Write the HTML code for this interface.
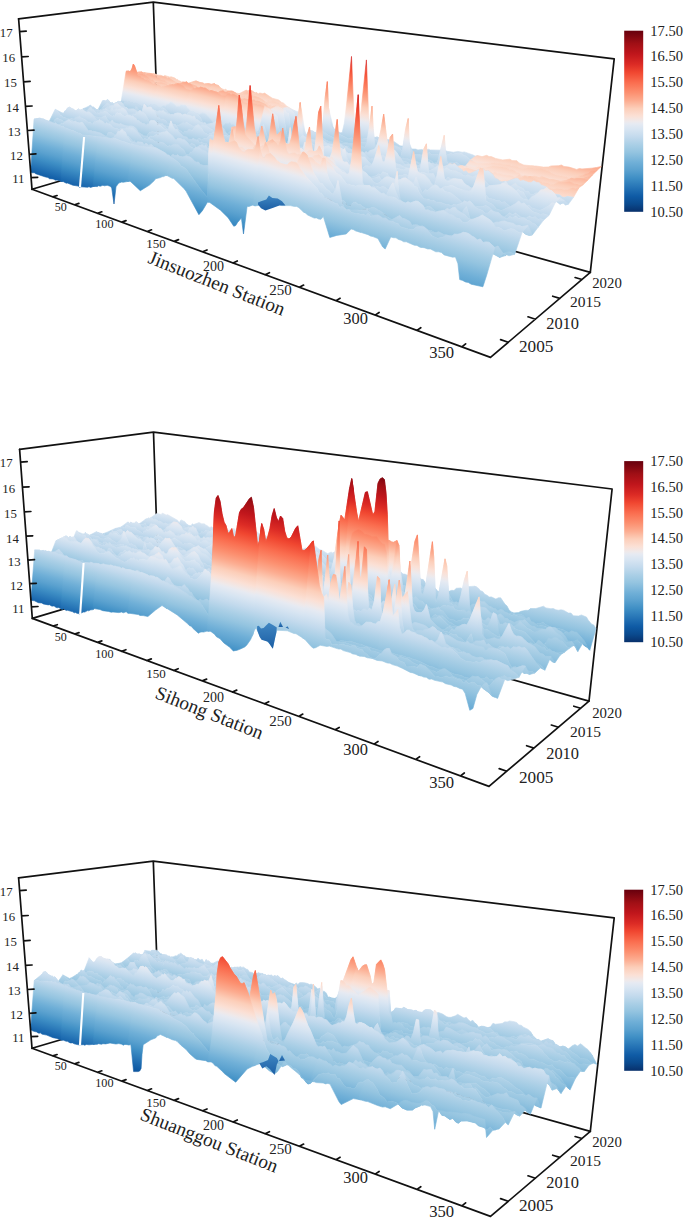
<!DOCTYPE html>
<html><head><meta charset="utf-8"><style>html,body{margin:0;padding:0;background:#fff;}body{width:685px;height:1221px;overflow:hidden;}svg{display:block;}</style></head>
<body><svg width="685" height="1221" viewBox="0 0 685 1221">
<defs><linearGradient id="cm" gradientUnits="userSpaceOnUse" x1="0" y1="0" x2="0" y2="1"><stop offset="0.000" stop-color="#08306b"/><stop offset="0.043" stop-color="#0a4a8e"/><stop offset="0.086" stop-color="#0f5ba5"/><stop offset="0.129" stop-color="#2371b4"/><stop offset="0.186" stop-color="#3f8fc5"/><stop offset="0.229" stop-color="#5aa1cf"/><stop offset="0.271" stop-color="#6fafd7"/><stop offset="0.329" stop-color="#94c4e0"/><stop offset="0.371" stop-color="#aacfe6"/><stop offset="0.414" stop-color="#c3daed"/><stop offset="0.457" stop-color="#d8e5f2"/><stop offset="0.486" stop-color="#e6eaf2"/><stop offset="0.500" stop-color="#efe9ea"/><stop offset="0.529" stop-color="#fbe0d5"/><stop offset="0.571" stop-color="#fcceb9"/><stop offset="0.614" stop-color="#fcac90"/><stop offset="0.657" stop-color="#fc9070"/><stop offset="0.714" stop-color="#fa6d4f"/><stop offset="0.771" stop-color="#f04630"/><stop offset="0.814" stop-color="#dc2b25"/><stop offset="0.871" stop-color="#c0161c"/><stop offset="0.929" stop-color="#a00f15"/><stop offset="1.000" stop-color="#67000d"/></linearGradient><linearGradient id="blob" x1="0" y1="0" x2="0" y2="1"><stop offset="0" stop-color="#3f86c2"/><stop offset="1" stop-color="#1c5ea4"/></linearGradient><linearGradient id="cb" href="#cm" gradientUnits="objectBoundingBox" x1="0" y1="1" x2="0" y2="0"/></defs>
<path d="M18.6 18.8L153.3 2.2M153.3 2.2L614.2 58.9M153.3 2.2L158.7 151.9M614.2 58.9L590.3 272.4M32 189.3L158.7 151.9M158.7 151.9L590.3 272.4" stroke="#111" stroke-width="1.7" fill="none" stroke-linecap="round"/>
<defs><linearGradient id="p0g0" href="#cm" gradientTransform="matrix(8.7 1.9 -4.8 -151.9 171.6 163.3)"/><linearGradient id="p0g1" href="#cm" gradientTransform="matrix(9.2 2 -3.4 -156.6 202.9 172.3)"/><linearGradient id="p0g2" href="#cm" gradientTransform="matrix(9.9 2.1 -1.7 -161.6 236.1 181.9)"/><linearGradient id="p0g3" href="#cm" gradientTransform="matrix(10.6 2.3 0.3 -166.9 271.7 192.1)"/><linearGradient id="p0g4" href="#cm" gradientTransform="matrix(11.4 2.5 2.5 -173.4 310 196)"/><linearGradient id="p0g5" href="#cm" gradientTransform="matrix(12.3 2.6 5.1 -179.5 351 207.5)"/><linearGradient id="p0g6" href="#cm" gradientTransform="matrix(13.3 2.9 8.1 -186.1 395.2 220)"/><linearGradient id="p0g7" href="#cm" gradientTransform="matrix(14.4 3.1 11.6 -193.2 443 233.4)"/><linearGradient id="p0g8" href="#cm" gradientTransform="matrix(15.7 3.4 15.4 -197.6 493 270.5)"/><linearGradient id="p0g9" href="#cm" gradientTransform="matrix(17.1 3.7 20.1 -205.5 548.7 287.2)"/><linearGradient id="p0g10" href="#cm" gradientTransform="matrix(18 3.9 23 -210.1 580.9 296.8)"/><linearGradient id="p0g11" href="#cm" gradientTransform="matrix(8.7 1.9 -5.2 -152.9 166.1 165.1)"/><linearGradient id="p0g12" href="#cm" gradientTransform="matrix(9.2 2 -3.7 -157.6 197.3 174.2)"/><linearGradient id="p0g13" href="#cm" gradientTransform="matrix(9.9 2.2 -2 -162.7 230.6 183.8)"/><linearGradient id="p0g14" href="#cm" gradientTransform="matrix(10.6 2.3 -0.1 -168 266.3 194.2)"/><linearGradient id="p0g15" href="#cm" gradientTransform="matrix(11.4 2.5 2.2 -174.6 304.6 198.3)"/><linearGradient id="p0g16" href="#cm" gradientTransform="matrix(12.3 2.7 4.8 -180.8 345.8 210)"/><linearGradient id="p0g17" href="#cm" gradientTransform="matrix(13.3 2.9 7.8 -187.5 390.1 222.6)"/><linearGradient id="p0g18" href="#cm" gradientTransform="matrix(14.5 3.2 11.4 -194.7 438.1 236.2)"/><linearGradient id="p0g19" href="#cm" gradientTransform="matrix(15.7 3.4 15.2 -199.2 488.3 273.8)"/><linearGradient id="p0g20" href="#cm" gradientTransform="matrix(17.2 3.8 20 -207.2 544.3 290.7)"/><linearGradient id="p0g21" href="#cm" gradientTransform="matrix(18.1 4 22.9 -211.9 576.8 300.5)"/><linearGradient id="p0g22" href="#cm" gradientTransform="matrix(8.7 1.9 -5.5 -153.8 160.4 166.8)"/><linearGradient id="p0g23" href="#cm" gradientTransform="matrix(9.3 2 -4 -158.6 191.7 176)"/><linearGradient id="p0g24" href="#cm" gradientTransform="matrix(9.9 2.2 -2.3 -163.7 225 185.9)"/><linearGradient id="p0g25" href="#cm" gradientTransform="matrix(10.6 2.4 -0.4 -169.2 260.8 196.4)"/><linearGradient id="p0g26" href="#cm" gradientTransform="matrix(11.4 2.5 1.9 -175.9 299.1 200.5)"/><linearGradient id="p0g27" href="#cm" gradientTransform="matrix(12.4 2.7 4.5 -182.2 340.4 212.4)"/><linearGradient id="p0g28" href="#cm" gradientTransform="matrix(13.4 3 7.6 -188.9 384.9 225.2)"/><linearGradient id="p0g29" href="#cm" gradientTransform="matrix(14.5 3.2 11.1 -196.2 433.1 239.1)"/><linearGradient id="p0g30" href="#cm" gradientTransform="matrix(15.8 3.5 15.1 -200.8 483.6 277.1)"/><linearGradient id="p0g31" href="#cm" gradientTransform="matrix(17.3 3.8 19.9 -209 539.9 294.3)"/><linearGradient id="p0g32" href="#cm" gradientTransform="matrix(18.2 4 22.8 -213.7 572.5 304.3)"/><linearGradient id="p0g33" href="#cm" gradientTransform="matrix(8.7 1.9 -5.8 -154.8 154.7 168.6)"/><linearGradient id="p0g34" href="#cm" gradientTransform="matrix(9.3 2.1 -4.3 -159.7 186 177.9)"/><linearGradient id="p0g35" href="#cm" gradientTransform="matrix(9.9 2.2 -2.6 -164.8 219.4 187.9)"/><linearGradient id="p0g36" href="#cm" gradientTransform="matrix(10.7 2.4 -0.7 -170.4 255.2 198.6)"/><linearGradient id="p0g37" href="#cm" gradientTransform="matrix(11.5 2.6 1.6 -177.1 293.6 202.8)"/><linearGradient id="p0g38" href="#cm" gradientTransform="matrix(12.4 2.8 4.2 -183.5 335 214.9)"/><linearGradient id="p0g39" href="#cm" gradientTransform="matrix(13.4 3 7.3 -190.4 379.7 227.9)"/><linearGradient id="p0g40" href="#cm" gradientTransform="matrix(14.6 3.3 10.9 -197.8 428 242)"/><linearGradient id="p0g41" href="#cm" gradientTransform="matrix(15.9 3.6 14.9 -202.4 478.8 280.4)"/><linearGradient id="p0g42" href="#cm" gradientTransform="matrix(17.4 3.9 19.7 -210.8 535.4 298)"/><linearGradient id="p0g43" href="#cm" gradientTransform="matrix(18.3 4.1 22.7 -215.6 568.2 308.1)"/><linearGradient id="p0g44" href="#cm" gradientTransform="matrix(8.7 2 -6.2 -155.8 148.9 170.4)"/><linearGradient id="p0g45" href="#cm" gradientTransform="matrix(9.3 2.1 -4.7 -160.7 180.2 179.9)"/><linearGradient id="p0g46" href="#cm" gradientTransform="matrix(9.9 2.3 -3 -165.9 213.6 190)"/><linearGradient id="p0g47" href="#cm" gradientTransform="matrix(10.7 2.4 -1 -171.5 249.5 200.8)"/><linearGradient id="p0g48" href="#cm" gradientTransform="matrix(11.5 2.6 1.3 -178.4 288 205.2)"/><linearGradient id="p0g49" href="#cm" gradientTransform="matrix(12.4 2.8 3.9 -184.9 329.5 217.4)"/><linearGradient id="p0g50" href="#cm" gradientTransform="matrix(13.5 3.1 7 -191.9 374.3 230.6)"/><linearGradient id="p0g51" href="#cm" gradientTransform="matrix(14.7 3.3 10.6 -199.4 422.8 245)"/><linearGradient id="p0g52" href="#cm" gradientTransform="matrix(16 3.6 14.6 -204.1 473.9 283.8)"/><linearGradient id="p0g53" href="#cm" gradientTransform="matrix(17.5 4 19.6 -212.6 530.8 301.7)"/><linearGradient id="p0g54" href="#cm" gradientTransform="matrix(18.5 4.2 22.6 -217.5 563.8 312)"/><linearGradient id="p0g55" href="#cm" gradientTransform="matrix(8.7 2 -6.5 -156.8 143 172.3)"/><linearGradient id="p0g56" href="#cm" gradientTransform="matrix(9.3 2.1 -5 -161.8 174.3 181.8)"/><linearGradient id="p0g57" href="#cm" gradientTransform="matrix(10 2.3 -3.3 -167.1 207.8 192.1)"/><linearGradient id="p0g58" href="#cm" gradientTransform="matrix(10.7 2.5 -1.4 -172.7 243.7 203)"/><linearGradient id="p0g59" href="#cm" gradientTransform="matrix(11.5 2.6 0.9 -179.7 282.3 207.6)"/><linearGradient id="p0g60" href="#cm" gradientTransform="matrix(12.5 2.9 3.6 -186.3 323.9 220)"/><linearGradient id="p0g61" href="#cm" gradientTransform="matrix(13.5 3.1 6.7 -193.4 368.8 233.4)"/><linearGradient id="p0g62" href="#cm" gradientTransform="matrix(14.7 3.4 10.4 -201 417.5 248)"/><linearGradient id="p0g63" href="#cm" gradientTransform="matrix(16.1 3.7 14.4 -205.8 468.9 287.3)"/><linearGradient id="p0g64" href="#cm" gradientTransform="matrix(17.6 4.1 19.4 -214.4 526.1 305.5)"/><linearGradient id="p0g65" href="#cm" gradientTransform="matrix(18.6 4.3 22.5 -219.4 559.3 316)"/><linearGradient id="p0g66" href="#cm" gradientTransform="matrix(8.7 2 -6.9 -158.5 136.7 167.7)"/><linearGradient id="p0g67" href="#cm" gradientTransform="matrix(9.3 2.2 -5.4 -163.6 168.2 177.2)"/><linearGradient id="p0g68" href="#cm" gradientTransform="matrix(10 2.3 -3.7 -169 201.7 187.4)"/><linearGradient id="p0g69" href="#cm" gradientTransform="matrix(10.7 2.5 -1.7 -174.8 237.8 198.3)"/><linearGradient id="p0g70" href="#cm" gradientTransform="matrix(11.6 2.7 0.6 -181 276.5 210)"/><linearGradient id="p0g71" href="#cm" gradientTransform="matrix(12.5 2.9 3.3 -187.7 318.2 222.6)"/><linearGradient id="p0g72" href="#cm" gradientTransform="matrix(13.6 3.2 6.4 -194.9 363.3 236.2)"/><linearGradient id="p0g73" href="#cm" gradientTransform="matrix(14.8 3.4 10.1 -202.7 412.2 251)"/><linearGradient id="p0g74" href="#cm" gradientTransform="matrix(16.2 3.8 14.4 -211.1 465.4 267.1)"/><linearGradient id="p0g75" href="#cm" gradientTransform="matrix(17.8 4.1 19.6 -220.2 523.5 284.7)"/><linearGradient id="p0g76" href="#cm" gradientTransform="matrix(18.7 4.4 22.8 -225.4 557.2 294.9)"/><linearGradient id="p0g77" href="#cm" gradientTransform="matrix(8.7 2 -7.3 -159.5 130.7 169.5)"/><linearGradient id="p0g78" href="#cm" gradientTransform="matrix(9.3 2.2 -5.8 -164.7 162.1 179.2)"/><linearGradient id="p0g79" href="#cm" gradientTransform="matrix(10 2.4 -4.1 -170.2 195.7 189.5)"/><linearGradient id="p0g80" href="#cm" gradientTransform="matrix(10.7 2.5 -2.1 -176.1 231.8 200.5)"/><linearGradient id="p0g81" href="#cm" gradientTransform="matrix(11.6 2.7 0.2 -182.4 270.6 212.4)"/><linearGradient id="p0g82" href="#cm" gradientTransform="matrix(12.5 3 2.9 -189.2 312.4 225.3)"/><linearGradient id="p0g83" href="#cm" gradientTransform="matrix(13.6 3.2 6.1 -196.5 357.7 239.1)"/><linearGradient id="p0g84" href="#cm" gradientTransform="matrix(14.9 3.5 9.8 -204.3 406.7 254.2)"/><linearGradient id="p0g85" href="#cm" gradientTransform="matrix(16.3 3.8 14.2 -212.9 460.2 270.5)"/><linearGradient id="p0g86" href="#cm" gradientTransform="matrix(17.9 4.2 19.4 -222.2 518.6 288.5)"/><linearGradient id="p0g87" href="#cm" gradientTransform="matrix(18.8 4.4 22.7 -227.5 552.6 298.9)"/><linearGradient id="p0g88" href="#cm" gradientTransform="matrix(8.7 2.1 -7.7 -160.5 124.6 171.4)"/><linearGradient id="p0g89" href="#cm" gradientTransform="matrix(9.3 2.2 -6.2 -165.8 156 181.2)"/><linearGradient id="p0g90" href="#cm" gradientTransform="matrix(10 2.4 -4.5 -171.4 189.6 191.6)"/><linearGradient id="p0g91" href="#cm" gradientTransform="matrix(10.8 2.6 -2.5 -177.3 225.8 202.9)"/><linearGradient id="p0g92" href="#cm" gradientTransform="matrix(11.6 2.8 -0.2 -183.7 264.6 214.9)"/><linearGradient id="p0g93" href="#cm" gradientTransform="matrix(12.6 3 2.6 -190.6 306.5 227.9)"/><linearGradient id="p0g94" href="#cm" gradientTransform="matrix(13.7 3.3 5.7 -198 351.9 242)"/><linearGradient id="p0g95" href="#cm" gradientTransform="matrix(14.9 3.6 9.5 -206 401.2 257.3)"/><linearGradient id="p0g96" href="#cm" gradientTransform="matrix(16.3 3.9 13.9 -214.7 454.9 274)"/><linearGradient id="p0g97" href="#cm" gradientTransform="matrix(18 4.3 19.2 -224.2 513.6 292.3)"/><linearGradient id="p0g98" href="#cm" gradientTransform="matrix(19 4.5 22.5 -229.6 547.8 302.9)"/><linearGradient id="p0g99" href="#cm" gradientTransform="matrix(8.7 2.1 -8 -161.6 118.3 173.3)"/><linearGradient id="p0g100" href="#cm" gradientTransform="matrix(9.3 2.3 -6.6 -166.9 149.8 183.2)"/><linearGradient id="p0g101" href="#cm" gradientTransform="matrix(10 2.4 -4.9 -172.6 183.4 193.8)"/><linearGradient id="p0g102" href="#cm" gradientTransform="matrix(10.8 2.6 -2.9 -178.6 219.6 205.2)"/><linearGradient id="p0g103" href="#cm" gradientTransform="matrix(11.6 2.8 -0.5 -185.1 258.5 217.5)"/><linearGradient id="p0g104" href="#cm" gradientTransform="matrix(12.6 3.1 2.2 -192.1 300.6 230.7)"/><linearGradient id="p0g105" href="#cm" gradientTransform="matrix(13.7 3.3 5.4 -199.6 346.1 245)"/><linearGradient id="p0g106" href="#cm" gradientTransform="matrix(15 3.6 9.2 -207.8 395.6 260.6)"/><linearGradient id="p0g107" href="#cm" gradientTransform="matrix(16.4 4 13.7 -216.6 449.5 277.6)"/><linearGradient id="p0g108" href="#cm" gradientTransform="matrix(18.1 4.4 19 -226.2 508.5 296.1)"/><linearGradient id="p0g109" href="#cm" gradientTransform="matrix(19.1 4.6 22.4 -231.8 542.9 307)"/><linearGradient id="p0g110" href="#cm" gradientTransform="matrix(8.7 2.1 -8.4 -162.7 112 175.2)"/><linearGradient id="p0g111" href="#cm" gradientTransform="matrix(9.3 2.3 -7 -168 143.5 185.3)"/><linearGradient id="p0g112" href="#cm" gradientTransform="matrix(10 2.5 -5.3 -173.8 177.2 196)"/><linearGradient id="p0g113" href="#cm" gradientTransform="matrix(10.8 2.7 -3.3 -179.9 213.4 207.6)"/><linearGradient id="p0g114" href="#cm" gradientTransform="matrix(11.7 2.9 -0.9 -186.5 252.4 220)"/><linearGradient id="p0g115" href="#cm" gradientTransform="matrix(12.7 3.1 1.8 -193.6 294.5 233.5)"/><linearGradient id="p0g116" href="#cm" gradientTransform="matrix(13.8 3.4 5 -201.3 340.2 248)"/><linearGradient id="p0g117" href="#cm" gradientTransform="matrix(15.1 3.7 8.9 -209.5 389.8 263.9)"/><linearGradient id="p0g118" href="#cm" gradientTransform="matrix(16.5 4.1 13.4 -218.5 444 281.2)"/><linearGradient id="p0g119" href="#cm" gradientTransform="matrix(18.2 4.5 18.8 -228.3 503.3 300.1)"/><linearGradient id="p0g120" href="#cm" gradientTransform="matrix(19.2 4.7 22.2 -234 537.9 311.1)"/><linearGradient id="p0g121" href="#cm" gradientTransform="matrix(8.7 2.2 -8.9 -163.7 105.6 177.2)"/><linearGradient id="p0g122" href="#cm" gradientTransform="matrix(9.3 2.3 -7.4 -169.2 137.1 187.4)"/><linearGradient id="p0g123" href="#cm" gradientTransform="matrix(10 2.5 -5.7 -175 170.8 198.3)"/><linearGradient id="p0g124" href="#cm" gradientTransform="matrix(10.8 2.7 -3.7 -181.2 207 210)"/><linearGradient id="p0g125" href="#cm" gradientTransform="matrix(11.7 2.9 -1.3 -187.9 246.1 222.6)"/><linearGradient id="p0g126" href="#cm" gradientTransform="matrix(12.7 3.2 1.4 -195.1 288.3 236.3)"/><linearGradient id="p0g127" href="#cm" gradientTransform="matrix(13.8 3.4 4.7 -202.9 334.1 251.1)"/><linearGradient id="p0g128" href="#cm" gradientTransform="matrix(15.1 3.8 8.5 -211.3 384 267.2)"/><linearGradient id="p0g129" href="#cm" gradientTransform="matrix(16.6 4.1 13.1 -220.5 438.4 284.8)"/><linearGradient id="p0g130" href="#cm" gradientTransform="matrix(18.3 4.6 18.6 -230.4 498.1 304.1)"/><linearGradient id="p0g131" href="#cm" gradientTransform="matrix(19.4 4.8 22 -236.2 532.9 315.4)"/><linearGradient id="p0g132" href="#cm" gradientTransform="matrix(8.7 2.2 -9.3 -164.8 99.1 179.2)"/><linearGradient id="p0g133" href="#cm" gradientTransform="matrix(9.3 2.4 -7.8 -170.4 130.6 189.5)"/><linearGradient id="p0g134" href="#cm" gradientTransform="matrix(10 2.5 -6.1 -176.3 164.3 200.5)"/><linearGradient id="p0g135" href="#cm" gradientTransform="matrix(10.8 2.7 -4.1 -182.6 200.6 212.4)"/><linearGradient id="p0g136" href="#cm" gradientTransform="matrix(11.7 3 -1.8 -189.4 239.7 225.3)"/><linearGradient id="p0g137" href="#cm" gradientTransform="matrix(12.7 3.2 1 -196.7 282.1 239.2)"/><linearGradient id="p0g138" href="#cm" gradientTransform="matrix(13.9 3.5 4.3 -204.6 328 254.2)"/><linearGradient id="p0g139" href="#cm" gradientTransform="matrix(15.2 3.8 8.2 -213.2 378 270.6)"/><linearGradient id="p0g140" href="#cm" gradientTransform="matrix(16.7 4.2 12.8 -222.5 432.7 288.6)"/><linearGradient id="p0g141" href="#cm" gradientTransform="matrix(18.4 4.7 18.4 -232.6 492.7 308.3)"/><linearGradient id="p0g142" href="#cm" gradientTransform="matrix(19.5 4.9 21.8 -238.5 527.7 319.7)"/><linearGradient id="p0g143" href="#cm" gradientTransform="matrix(8.7 2.2 -9.7 -165.9 92.6 181.2)"/><linearGradient id="p0g144" href="#cm" gradientTransform="matrix(9.3 2.4 -8.3 -171.5 124 191.6)"/><linearGradient id="p0g145" href="#cm" gradientTransform="matrix(10 2.6 -6.6 -177.5 157.8 202.9)"/><linearGradient id="p0g146" href="#cm" gradientTransform="matrix(10.8 2.8 -4.6 -183.9 194.1 214.9)"/><linearGradient id="p0g147" href="#cm" gradientTransform="matrix(11.7 3 -2.2 -190.8 233.3 228)"/><linearGradient id="p0g148" href="#cm" gradientTransform="matrix(12.8 3.3 0.6 -198.3 275.7 242.1)"/><linearGradient id="p0g149" href="#cm" gradientTransform="matrix(13.9 3.6 3.9 -206.3 321.7 257.4)"/><linearGradient id="p0g150" href="#cm" gradientTransform="matrix(15.3 3.9 7.8 -215 371.9 274.1)"/><linearGradient id="p0g151" href="#cm" gradientTransform="matrix(16.8 4.3 12.5 -224.5 426.8 292.4)"/><linearGradient id="p0g152" href="#cm" gradientTransform="matrix(18.5 4.8 18.1 -234.8 487.2 312.5)"/><linearGradient id="p0g153" href="#cm" gradientTransform="matrix(19.6 5 21.6 -240.8 522.4 324.2)"/><linearGradient id="p0g154" href="#cm" gradientTransform="matrix(8.7 2.3 -10.2 -167.1 85.9 183.2)"/><linearGradient id="p0g155" href="#cm" gradientTransform="matrix(9.3 2.4 -8.7 -172.7 117.3 193.8)"/><linearGradient id="p0g156" href="#cm" gradientTransform="matrix(10 2.6 -7 -178.8 151.1 205.2)"/><linearGradient id="p0g157" href="#cm" gradientTransform="matrix(10.9 2.8 -5 -185.3 187.5 217.5)"/><linearGradient id="p0g158" href="#cm" gradientTransform="matrix(11.8 3.1 -2.7 -192.3 226.7 230.7)"/><linearGradient id="p0g159" href="#cm" gradientTransform="matrix(12.8 3.3 0.1 -199.9 269.2 245.1)"/><linearGradient id="p0g160" href="#cm" gradientTransform="matrix(14 3.6 3.5 -208 315.4 260.7)"/><linearGradient id="p0g161" href="#cm" gradientTransform="matrix(15.3 4 7.4 -216.9 365.8 277.7)"/><linearGradient id="p0g162" href="#cm" gradientTransform="matrix(16.9 4.4 12.1 -226.5 420.9 296.3)"/><linearGradient id="p0g163" href="#cm" gradientTransform="matrix(18.7 4.9 17.8 -237 481.5 316.7)"/><linearGradient id="p0g164" href="#cm" gradientTransform="matrix(19.8 5.1 21.4 -243.1 517 328.7)"/><linearGradient id="p0g165" href="#cm" gradientTransform="matrix(8.7 2.3 -10.6 -168.2 79.1 185.3)"/><linearGradient id="p0g166" href="#cm" gradientTransform="matrix(9.3 2.5 -9.2 -174 110.6 196)"/><linearGradient id="p0g167" href="#cm" gradientTransform="matrix(10 2.7 -7.5 -180.1 144.3 207.6)"/><linearGradient id="p0g168" href="#cm" gradientTransform="matrix(10.9 2.9 -5.5 -186.7 180.7 220)"/><linearGradient id="p0g169" href="#cm" gradientTransform="matrix(11.8 3.1 -3.1 -193.8 220 233.5)"/><linearGradient id="p0g170" href="#cm" gradientTransform="matrix(12.8 3.4 -0.3 -201.5 262.6 248.1)"/><linearGradient id="p0g171" href="#cm" gradientTransform="matrix(14 3.7 3 -209.8 308.9 264)"/><linearGradient id="p0g172" href="#cm" gradientTransform="matrix(15.4 4.1 7 -218.8 359.5 281.3)"/><linearGradient id="p0g173" href="#cm" gradientTransform="matrix(16.9 4.5 11.8 -228.6 414.9 300.2)"/><linearGradient id="p0g174" href="#cm" gradientTransform="matrix(18.8 5 17.6 -239.3 475.8 321.1)"/><linearGradient id="p0g175" href="#cm" gradientTransform="matrix(19.9 5.3 21.2 -245.6 511.5 333.3)"/><linearGradient id="p0g176" href="#cm" gradientTransform="matrix(8.7 2.3 -11.1 -169.4 72.3 187.4)"/><linearGradient id="p0g177" href="#cm" gradientTransform="matrix(9.3 2.5 -9.7 -175.2 103.7 198.3)"/><linearGradient id="p0g178" href="#cm" gradientTransform="matrix(10.1 2.7 -8 -181.4 137.5 210)"/><linearGradient id="p0g179" href="#cm" gradientTransform="matrix(10.9 2.9 -6 -188.2 173.9 222.7)"/><linearGradient id="p0g180" href="#cm" gradientTransform="matrix(11.8 3.2 -3.6 -195.4 213.2 236.3)"/><linearGradient id="p0g181" href="#cm" gradientTransform="matrix(12.9 3.4 -0.8 -203.2 255.9 251.2)"/><linearGradient id="p0g182" href="#cm" gradientTransform="matrix(14.1 3.8 2.6 -211.6 302.3 267.3)"/><linearGradient id="p0g183" href="#cm" gradientTransform="matrix(15.4 4.1 6.6 -220.8 353 284.9)"/><linearGradient id="p0g184" href="#cm" gradientTransform="matrix(17 4.6 11.4 -230.7 408.7 304.3)"/><linearGradient id="p0g185" href="#cm" gradientTransform="matrix(18.9 5.1 17.3 -241.7 470 325.6)"/><linearGradient id="p0g186" href="#cm" gradientTransform="matrix(20 5.4 20.9 -248 505.8 338.1)"/><linearGradient id="p0g187" href="#cm" gradientTransform="matrix(8.7 2.4 -11.6 -170.5 65.3 189.5)"/><linearGradient id="p0g188" href="#cm" gradientTransform="matrix(9.3 2.5 -10.2 -176.4 96.7 200.6)"/><linearGradient id="p0g189" href="#cm" gradientTransform="matrix(10.1 2.7 -8.5 -182.8 130.5 212.5)"/><linearGradient id="p0g190" href="#cm" gradientTransform="matrix(10.9 3 -6.5 -189.6 166.9 225.3)"/><linearGradient id="p0g191" href="#cm" gradientTransform="matrix(11.8 3.2 -4.1 -196.9 206.3 239.2)"/><linearGradient id="p0g192" href="#cm" gradientTransform="matrix(12.9 3.5 -1.3 -204.9 249.1 254.3)"/><linearGradient id="p0g193" href="#cm" gradientTransform="matrix(14.1 3.8 2.1 -213.4 295.6 270.7)"/><linearGradient id="p0g194" href="#cm" gradientTransform="matrix(15.5 4.2 6.1 -222.8 346.5 288.7)"/><linearGradient id="p0g195" href="#cm" gradientTransform="matrix(17.1 4.7 11 -232.9 402.4 308.4)"/><linearGradient id="p0g196" href="#cm" gradientTransform="matrix(19 5.2 17 -244 464 330.2)"/><linearGradient id="p0g197" href="#cm" gradientTransform="matrix(20.2 5.5 20.7 -250.5 500.1 342.9)"/><linearGradient id="p0g198" href="#cm" gradientTransform="matrix(8.6 2.4 -12.1 -171.7 58.3 191.6)"/><linearGradient id="p0g199" href="#cm" gradientTransform="matrix(9.3 2.6 -10.7 -177.7 89.6 202.9)"/><linearGradient id="p0g200" href="#cm" gradientTransform="matrix(10.1 2.8 -9 -184.2 123.4 215)"/><linearGradient id="p0g201" href="#cm" gradientTransform="matrix(10.9 3 -7 -191.1 159.8 228)"/><linearGradient id="p0g202" href="#cm" gradientTransform="matrix(11.8 3.3 -4.6 -198.5 199.3 242.2)"/><linearGradient id="p0g203" href="#cm" gradientTransform="matrix(12.9 3.6 -1.8 -206.6 242.1 257.5)"/><linearGradient id="p0g204" href="#cm" gradientTransform="matrix(14.2 3.9 1.6 -215.3 288.8 274.2)"/><linearGradient id="p0g205" href="#cm" gradientTransform="matrix(15.6 4.3 5.7 -224.8 339.8 292.5)"/><linearGradient id="p0g206" href="#cm" gradientTransform="matrix(17.2 4.8 10.6 -235.1 396 312.6)"/><linearGradient id="p0g207" href="#cm" gradientTransform="matrix(19.1 5.3 16.6 -246.5 457.9 334.8)"/><linearGradient id="p0g208" href="#cm" gradientTransform="matrix(20.3 5.6 20.3 -252.8 492.8 347.3)"/><linearGradient id="p0g209" href="#cm" gradientTransform="matrix(8.6 2.4 -12.6 -172.9 51.1 193.8)"/><linearGradient id="p0g210" href="#cm" gradientTransform="matrix(9.3 2.6 -11.2 -179 82.5 205.2)"/><linearGradient id="p0g211" href="#cm" gradientTransform="matrix(10.1 2.8 -9.5 -185.5 116.2 217.5)"/><linearGradient id="p0g212" href="#cm" gradientTransform="matrix(10.9 3.1 -7.5 -192.6 152.7 230.8)"/><linearGradient id="p0g213" href="#cm" gradientTransform="matrix(11.9 3.3 -5.1 -200.1 192.1 245.1)"/><linearGradient id="p0g214" href="#cm" gradientTransform="matrix(12.9 3.6 -2.3 -208.3 235 260.7)"/><linearGradient id="p0g215" href="#cm" gradientTransform="matrix(14.2 4 1.1 -217.2 281.8 277.8)"/><linearGradient id="p0g216" href="#cm" gradientTransform="matrix(15.6 4.4 5.2 -226.8 333.1 296.4)"/><linearGradient id="p0g217" href="#cm" gradientTransform="matrix(17.3 4.9 10.2 -237.4 389.4 316.9)"/><linearGradient id="p0g218" href="#cm" gradientTransform="matrix(19.2 5.4 16.1 -248.7 450.3 339.1)"/></defs><g stroke-width="0.6" stroke-linejoin="round"><path d="M155.9 74.9l5 0.4 2.6 1 1.2-0.9 5.1 1.7 1.3-0.3 3.9 1.3 1.3 1.2 1.3 0.1 1.4 1.4 1.3 0.2 1.3 1.4 1.3-0.9 2.7 1.9 2.7 1.1-5.8-2.1-2.7-0.4-7.8 0.6-1.3-1.2-2.6 0-1.4-1.7-5.2-1.9-1.3-1.2-2.5-1-1.3-1.1-2.6-0.8-2.5 0.4-1.2-0.8z" fill="url(#p0g0)" stroke="url(#p0g0)"/><path d="M186.9 83.9l1.4 0.6 1.3 0.1 1.4 1.4 1.3 0.4 1.4-0.4 1.3 0.6 8.2-0.3 1.3-0.8 4.2-0.6 7 2.4 1.4 1 1.4 0 2.9 1-5.8-4.6-1.4-1-2.9 0.6-2.8-0.7-4.2 0.3-1.4-1-2.8-0.3-4.1-1.7-9.5 2.9-4-1.4-1.3 0.1z" fill="url(#p0g1)" stroke="url(#p0g1)"/><path d="M219.9 88.8l1.5 0.5 1.4-0.3 1.4 0.7 1.4-0.7 1.5 1.5 2.9 1.5 4.4 0.7 1.4 0.9 1.5-0.5 1.5 0.7 7.4-3.7 1.5 0.7 3-0.8 3 1.7 1.6 1.5 1.5-0.4-5.6 0.4-4.6-1.1-4.5 1.3-4.5 0.4-4.5-1.9-2.9 1.1-4.4-1.2-5.9-4.4-1.4-1.9-2.9-0.8-1.4-1z" fill="url(#p0g2)" stroke="url(#p0g2)"/><path d="M255.3 93.2l1.5-0.4 1.5 1 1.5-0.8 3.1 0.7 1.6-0.6 7.8 5.1 6.3 1.7 3.2 2.6 1.6 0.5 3.2 2.9 6.5 4.2 1.6 0.5-5.5-1.6-1.6-1.9-1.6-0.3-1.7-1.5-1.6 0.3-1.6-0.8-1.6-1.5-6.4-2.4-3.2 0.7-1.6-0.7-1.6 0.8-1.6 0-4.7-1.2-3.1-2-1.5-1.8-3.1-1.6-1.5-1.9-1.6-0.2z" fill="url(#p0g3)" stroke="url(#p0g3)"/><path d="M293.1 110.1l4.9 1.6 1.6 1.5 3.1 18.1 1.6 3.9 1.7 0.8 3.3 0.6 1.7-0.1 1.7 0.8 6.7 1.3 1.7-0.9 1.8 0.2 1.7-1.1 1.8-2.3 1.8-4.7 1.8-2.8 1.8-0.2 3.4 3.4-5.2-7-1.5-15.4-1.2-26.2-2.1 15.8-2.2 24.8-2 14.4-1.8 3.2-1.8 1.8-3.4-2.6-1.7 0.9-1.7-0.7-1.7 0.4-1.7-0.1-1.6-0.9-3.4-0.8-1.6-1.2-3.3-5-1.6-7.3-1.6-11.1-6.5-6.1z" fill="url(#p0g4)" stroke="url(#p0g4)"/><path d="M333.5 128.7l3.4 2.5 3.5 1.5 1.8-0.1 2.1-9.4 2.2-18.1 5-48.7 2.2 53.1 1.3 17.2 1.7 7.3 2-8.2 2.4-15.5 5.3-50.4 2.1 52.6 1.3 16.1 1.6 7.8 3.8 1 1.9-0.5 1.9 0.9-5.3 0.9-3.8-0.2-1.8-1.5-1.9 1.4-3.8 0.5-5.6-0.2-1.9 0.8-3.6-1.7-1.9 0.9-1.8-0.4-7.2-3.5-5.2-4.4-1.8-2.1-1.7-0.5-1.7-4.6-1.5-15.4z" fill="url(#p0g5)" stroke="url(#p0g5)"/><path d="M377.1 136.9l1.9 0.9 3.8 0.4 3.8 1.3 1.9 0 3.8 2.5 2-0.3 5.7 4.1 6 0.6 5.9 2.5 4 0.2 2 0.8 4.1-0.5 2 1.1 2.1-0.2-5.2 4.8-2.1-0.7-4.1 0-2-0.8-2-1.1-1.9-2.2-4-2.3-2 0.2-1.9-1.1-2-0.1-2.1 0.6-5.9 0-1.9-0.9-3.9-0.9-9.5-6.5-1.9-0.6-1.9 0.1z" fill="url(#p0g6)" stroke="url(#p0g6)"/><path d="M424 150.5l2.1-0.2 2.1-1.1 2.1 0.7 14.7 0.3 2.1 1.1 6.4 0.9 4.4-0.8 4.4 0.8 2.2-0.3 8.7 3.1 2.2 1.2 2.3-0.6-5.1 5.5-2.2-1.2-4.2-3.9-2.3-0.4-2.1-2-2.1-0.7-2.3 0.2-4.4 1.2-2.2-0.7-4.5 1.6-2.1-0.7-4.3 1-2.1-1-6.4-0.1-2-1.9-2.2 1.1-4.2 0.1-2.1 1.4-2.1-0.7z" fill="url(#p0g7)" stroke="url(#p0g7)"/><path d="M475.4 156.2l2.3-0.6 4.4 1 4.7-1.3 2.2 1.3 2.3 0 4.5 1.9 6.9 1.4 7.2-0.7 2.2 1.4 4.8 0.1 2.2 2.2 4.7 2.1 9.7 1-4.5 1.9-2.5 0.6-7.3-0.6-2.3-1.7-4.9-0.1-2.3-1.1-7.1-0.7-2.3-1-2.4 0.2-4.7-0.7-4.7 0.7-11.5-0.2-6.6-3.4z" fill="url(#p0g8)" stroke="url(#p0g8)"/><path d="M531.1 166l4.9 0 7.4 1.1 5.1-0.2 2.6-1 7.7-0.2 2.6-0.7 2.5 1.4 5.1 0.7 7.7 2.3 2.7-0.9 2.6 0.4 13.6-1-4.2 3.4-3 2.2-2.8 0.3-2.8 1.4-5.6 1.5-8.1 1.5-2.5-1.1-10.3-2-5-2-2.4-1.9-7.4-2.7-7.5-0.2-2.5-0.5-5 0.7z" fill="url(#p0g9)" stroke="url(#p0g9)"/><path d="M592.9 168.4l8.4-2-4.3 4.1-5.6 0.8-3 2.2z" fill="url(#p0g10)" stroke="url(#p0g10)"/><path d="M150.1 73.3l1.2 0.8 2.5-0.4 2.6 0.8 1.3 1.1 2.5 1 1.3 1.2 5.2 1.9 1.4 1.7 2.6 0 1.3 1.2 7.8-0.6 2.7 0.4-5.8 0.6-8.1-5-1.3 0.7-1.3-1.5-5.2-1-2.6 0.2-1.3-0.9-2.6-0.1-2.5-1.5-2.6-0.4-2.5 0.3-2.5-1.3z" fill="url(#p0g11)" stroke="url(#p0g11)"/><path d="M181.2 82.5l1.3-0.1 4 1.4 9.5-2.9 4.1 1.7 2.8 0.3 1.4 1 4.2-0.3 2.8 0.7 2.9-0.6 1.4 1-5.7 5.2-4.3-1.6-4.2-0.5-2.8 0.3-4.2-1.1-4.2-2.1-5.5-2.1-1.3 0.6-5.4 0.5-2.7-1.6z" fill="url(#p0g12)" stroke="url(#p0g12)"/><path d="M214.2 83.7l1.4 1 2.9 0.8 1.4 1.9 5.9 4.4 4.4 1.2 2.9-1.1 4.5 1.9 4.5-0.4 4.5-1.3 4.6 1.1-5.7 4.1-4.6-0.7-1.5-1.4-1.5-0.3-7.5 0.2-3-1.1-3 0.2-5.8-2.2-2.9-0.2-1.5-0.5-1.4-1.3-1.5 0.5-2.8-1.4z" fill="url(#p0g13)" stroke="url(#p0g13)"/><path d="M249.6 93l1.6 0.2 1.5 1.9 3.1 1.6 1.5 1.8 3.1 2 4.7 1.2 1.6 0 1.6-0.8 1.6 0.7 3.2-0.7 6.4 2.4 1.6 1.5 1.6 0.8 1.6-0.3 1.7 1.5 1.6 0.3 1.6 1.9-5.6 0.3-1.6-0.8-1.7-1.7-1.6 0.2-4.9-1.5-1.6 0.4-1.6-1.3-1.6 0.5-1.6-2-1.6-0.7-3.2-2.6-4.7-2.4-3.2-1-1.5 0.1-1.6-0.9-1.5 1-3.1 0-1.5 0.7-1.6-0.4z" fill="url(#p0g14)" stroke="url(#p0g14)"/><path d="M287.6 107.1l6.5 6.1 1.6 11.1 1.6 7.3 3.3 5 1.6 1.2 3.4 0.8 1.6 0.9 1.7 0.1 1.7-0.4 1.7 0.7 1.7-0.9 3.4 2.6 1.8-1.8 1.8-3.2 2-14.4 2.2-24.8 2.1-15.8 1.2 26.2 1.5 15.4-5.7 9.5-3.4-2.5-1.8 1.1-1.8 3.5-1.9 5.6-1.7 2.4-3.5-1-1.7 0.2-1.7-1.1-1.7-0.1-1.7-1.4-5-0.9-1.7-1-1.7 0.4-1.6-0.6-1.7-3.9-1.6-8.2-1.5-11.9-1.7-0.4-1.6-2.2-3.3-2.2z" fill="url(#p0g15)" stroke="url(#p0g15)"/><path d="M328.5 107.8l1.5 15.4 1.7 4.6 1.7 0.5 1.8 2.1 5.2 4.4 7.2 3.5 1.8 0.4 1.9-0.9 3.6 1.7 1.9-0.8 5.6 0.2 3.8-0.5 1.9-1.4 1.8 1.5 3.8 0.2-5.4 6.1-1.9-2.1-5.7-0.5-3.8 1.4-1.8-0.8-1.9 1.3-11.1-2.4-1.8-1-3.6-0.2-1.8-0.9-1.7-2.1-5.4-2.4-1.7-2.2-1.8-0.2-1.7-1.6z" fill="url(#p0g16)" stroke="url(#p0g16)"/><path d="M371.8 138.8l1.9-0.1 1.9 0.6 9.5 6.5 3.9 0.9 1.9 0.9 5.9 0 2.1-0.6 2 0.1 1.9 1.1 2-0.2 4 2.3 1.9 2.2 2 1.1 2 0.8 4.1 0 2.1 0.7-5-0.3-6.3 0-4-1.7-2-0.9-2-1.7-1.9-2.5-3.9-2.1-2.1-0.1-2 1.1-2-1.2-6 2.3-3.9-0.7-5.8 0-1.9-1.3-2 0.7-3.7-4z" fill="url(#p0g17)" stroke="url(#p0g17)"/><path d="M418.8 154.4l2.1 0.7 2.1-1.4 4.2-0.1 2.2-1.1 2 1.9 6.4 0.1 2.1 1 4.3-1 2.1 0.7 4.5-1.6 2.2 0.7 4.4-1.2 2.3-0.2 2.1 0.7 2.1 2 2.3 0.4 4.2 3.9 2.2 1.2-5.2 5.5-6.7-1.3-4.2-3.1-2.3 0.7-6.6-1.2-8.8 1.8-2.1-0.9-2.2 0.5-4.2-2.8-2-0.8-2.1-2.1-2.1 0.1-4.1-2.9-6.2 0z" fill="url(#p0g18)" stroke="url(#p0g18)"/><path d="M470.4 159.9l6.6 3.4 11.5 0.2 4.7-0.7 4.7 0.7 2.4-0.2 2.3 1 7.1 0.7 2.3 1.1 4.9 0.1 2.3 1.7 7.3 0.6 2.5-0.6-5.2 9-2.3-1.5-2.3-2.4-2.4-0.5-2.3-1.8-2.4-1.1-2.4-0.2-2.4-1.5-4.7-0.9-9.5-0.9-7.2 1.2-4.7-0.1-2.3-0.6-4.7 1.1-4.5-1.1-4.5-0.3z" fill="url(#p0g19)" stroke="url(#p0g19)"/><path d="M526.5 168.5l5-0.7 2.5 0.5 7.5 0.2 7.4 2.7 2.4 1.9 5 2 10.3 2 2.5 1.1 8.1-1.5 5.6-1.5 2.8-1.4 2.8-0.3 3-2.2-4.7 6.2-11.3 3.5-2.9 1.6-8.1 1-5.2-0.7-2.7 0.6-2.5-1.4-2.6-0.3-2.4-2-5-1.6-2.4-2.1-2.7 1.3-4.9-1.7-2.7 1.5-2.4-0.6-5.1 0.3-2.3-1.5z" fill="url(#p0g20)" stroke="url(#p0g20)"/><path d="M588.4 173.5l3-2.2 5.6-0.8-4.5 4.5-8.7 3.7z" fill="url(#p0g21)" stroke="url(#p0g21)"/><path d="M144.2 72.5l2.5 1.3 2.5-0.3 2.6 0.4 2.5 1.5 2.6 0.1 1.3 0.9 2.6-0.2 5.2 1 1.3 1.5 1.3-0.7 8.1 5-5.9 1-1.3-0.1-5.4-3.6-2.6-0.4-2.7-2.1-1.3 0.2-1.4-1.4-1.3-0.8-1.3 0-1.3-1.4-5.1-0.3-1.3 0.4-1.3-1-1.2-0.1-1.3-1.5-3.8 0.3z" fill="url(#p0g22)" stroke="url(#p0g22)"/><path d="M175.3 82.3l2.7 1.6 5.4-0.5 1.3-0.6 5.5 2.1 4.2 2.1 4.2 1.1 2.8-0.3 4.2 0.5 4.3 1.6-5.8 0.5-2.9-1.3-1.4 0.5-1.5-0.7-1.4-2.5-4.3-1.6-6.8 1.6-2.8 0.1-2.7-0.9-1.4 0.4-1.4-1.4-2.6 1.1-2.7-0.4-1.4-1.3-1.3-0.1z" fill="url(#p0g23)" stroke="url(#p0g23)"/><path d="M208.5 89.1l2.8 1.4 1.5-0.5 1.4 1.3 1.5 0.5 2.9 0.2 5.8 2.2 3-0.2 3 1.1 7.5-0.2 1.5 0.3 1.5 1.4 4.6 0.7-5.8-0.9-4.7-3.8-3-1.6-4.5 0.1-1.5 1.5-1.5 0.7-1.5-0.7-1.4 1-3-0.6-3-1.6-2.9 0.2-1.4-0.9-1.5 1.3-1.4-0.6-1.5 0.2-4.3-2z" fill="url(#p0g24)" stroke="url(#p0g24)"/><path d="M243.9 96.9l1.6 0.4 1.5-0.7 3.1 0 1.5-1 1.6 0.9 1.5-0.1 3.2 1 4.7 2.4 3.2 2.6 1.6 0.7 1.6 2 1.6-0.5 1.6 1.3 1.6-0.4 4.9 1.5 1.6-0.2 1.7 1.7 1.6 0.8-5.7-2.7-1.6-0.4-4.9 0.4-1.7-0.7-1.6 0.6-1.6-1-6.4-1.5-4.8-2.4-1.6 0.3-7.8-1.8-1.6-1-3.1-0.6-1.5-2.1-1.6-1z" fill="url(#p0g25)" stroke="url(#p0g25)"/><path d="M282 108.5l3.3 2.2 1.6 2.2 1.7 0.4 1.5 11.9 1.6 8.2 1.7 3.9 1.6 0.6 1.7-0.4 1.7 1 5 0.9 1.7 1.4 1.7 0.1 1.7 1.1 1.7-0.2 3.5 1 1.7-2.4 1.9-5.6 1.8-3.5 1.8-1.1 3.4 2.5-5.5 2.8-1.8-1-1.7-2.2-1.8 0.6-1.8 3-1.8 5.8-3.6 7.5-1.7 0.1-1.7-0.8-6.8-8.9-1.6-0.9-5.1-0.4-1.7-1.1-1.6-6.1-3.2-21.3-5-3.2-1.6-0.4z" fill="url(#p0g26)" stroke="url(#p0g26)"/><path d="M322.6 131.1l1.7 1.6 1.8 0.2 1.7 2.2 5.4 2.4 1.7 2.1 1.8 0.9 3.6 0.2 1.8 1 11.1 2.4 1.9-1.3 1.8 0.8 3.8-1.4 5.7 0.5 1.9 2.1-5.4 1.6-5.8-1.2-1.8-1.6-7.5 0.1-1.9-0.8-3.7 0.8-1.9-0.7-3.7 0.3-3.6-1.3-3.6-0.4-3.6-1.5-3.5-2.4-1.8-2.1-1.7-0.1-1.8-1z" fill="url(#p0g27)" stroke="url(#p0g27)"/><path d="M366.4 142.7l3.7 4 2-0.7 1.9 1.3 5.8 0 3.9 0.7 6-2.3 2 1.2 2-1.1 2.1 0.1 3.9 2.1 1.9 2.5 2 1.7 2 0.9 4 1.7 6.3 0-5.4 3.4-1.3-15.6-1-24.1-2.5 10.2-3.1 20.6-2.4 9.1-2-1-2.1-0.1-4-1.5-1.9-2-4-2.2-3.9-1-1.9-2-2-0.6-2 0.5-1.8-4.8-1.4-15.1-1.2-22.5-2.7 22-2.5 14.6-2.1 4.8-1.8-1.1-2-0.4z" fill="url(#p0g28)" stroke="url(#p0g28)"/><path d="M413.8 154.6l6.2 0 4.1 2.9 2.1-0.1 2.1 2.1 2 0.8 4.2 2.8 2.2-0.5 2.1 0.9 8.8-1.8 6.6 1.2 2.3-0.7 4.2 3.1 6.7 1.3-4.8-0.9-9-0.9-2.2-0.9-2.2 0.4-2.1-2.1-1.6-10.5-1.3-16.4-5.8 24-2.6 6-2.1-1.3-6.4-0.3-8.5-1.3-2.1-1.2-2.1 0.1-2.1-0.8-2-2.3-1.3-15.6z" fill="url(#p0g29)" stroke="url(#p0g29)"/><path d="M465.2 166.3l4.5 0.3 4.5 1.1 4.7-1.1 2.3 0.6 4.7 0.1 7.2-1.2 9.5 0.9 4.7 0.9 2.4 1.5 2.4 0.2 2.4 1.1 2.3 1.8 2.4 0.5 2.3 2.4 2.3 1.5-4.3-1.8-2.7 1.7-2.5 0.3-2.4-1.3-7.3-0.8-2.4-0.8-4.8-0.8-2.3-1.3-2.5 1-4.6-2.6-7.2 1.1-2.3-0.4-2.4 0.9-2.3-1-2.2-1.7-2.3-0.5-2.2-1.3-2.3 0.3-2.2-2.2-2.2-0.2z" fill="url(#p0g30)" stroke="url(#p0g30)"/><path d="M521.5 175.4l2.3 1.5 5.1-0.3 2.4 0.6 2.7-1.5 4.9 1.7 2.7-1.3 2.4 2.1 5 1.6 2.4 2 2.6 0.3 2.5 1.4 2.7-0.6 5.2 0.7 8.1-1 2.9-1.6 11.3-3.5-4.2 1.5-5.5-0.5-2.8 0.4-2.7-0.6-5.6 2.3-5.5 0.7-7.8-1.7-2.6 0-7.7-2.7-2.6 0.9-5.1-1.3-5.1 0.1-5-0.9-2.7 1.2-2.3-1.8-2.7 1.7z" fill="url(#p0g31)" stroke="url(#p0g31)"/><path d="M583.8 178.7l8.7-3.7-4.5 4.9-2.8-0.8-5.5-0.3z" fill="url(#p0g32)" stroke="url(#p0g32)"/><path d="M138.2 72.2l3.8-0.3 1.3 1.5 1.2 0.1 1.3 1 1.3-0.4 5.1 0.3 1.3 1.4 1.3 0 1.3 0.8 1.4 1.4 1.3-0.2 2.7 2.1 2.6 0.4 5.4 3.6 1.3 0.1-6 0.1-4-1.8-5.3 0.3-2.7-2.7-1.3 0-4-3.4-5.2-2.8-1.2 0.2-1.3-0.4-1.3 0.6-1.3-1.1-3.7-0.4-1.3-1.1z" fill="url(#p0g33)" stroke="url(#p0g33)"/><path d="M169.5 83.9l1.3 0.1 1.4 1.3 2.7 0.4 2.6-1.1 1.4 1.4 1.4-0.4 2.7 0.9 2.8-0.1 6.8-1.6 4.3 1.6 1.4 2.5 1.5 0.7 1.4-0.5 2.9 1.3-6 0.4-2.9-1.8-4.3-4.9-2.9-0.8-1.4-1.6-1.4 0.6-1.4-0.1-2.7 1.1-2.8 0.6-1.3-0.6-2.7 1-4.1 0.3-1.3 0.5-1.4 0-1.3-1.2-2.7-0.2z" fill="url(#p0g34)" stroke="url(#p0g34)"/><path d="M202.6 89.6l4.3 2 1.5-0.2 1.4 0.6 1.5-1.3 1.4 0.9 2.9-0.2 3 1.6 3 0.6 1.4-1 1.5 0.7 1.5-0.7 1.5-1.5 4.5-0.1 3 1.6 4.7 3.8-5.9 0.2-3.1-2.2-1.5-0.4-1.6-1.4-3-0.6-1.5-1.2-3 0.5-1.5 1.1-3 0.4-2.9 1.8-1.5 0.2-2.9-1.1-4.4-0.6-1.4-1-1.5 0.1-4.3-1.9z" fill="url(#p0g35)" stroke="url(#p0g35)"/><path d="M238.1 95.4l1.6 1 1.5 2.1 3.1 0.6 1.6 1 7.8 1.8 1.6-0.3 4.8 2.4 6.4 1.5 1.6 1 1.6-0.6 1.7 0.7 4.9-0.4 1.6 0.4-5.8 4.9-3.3-4.1-3.2-2.9-6.6-2.9-1.6-0.5-1.6 0.2-1.6-1.3-3.2 0-1.6-0.8-1.6 0.4-3.1-0.8-3.1 0.4-1.6-0.6-3.1 0-1.6-1.3-3.1-1.4z" fill="url(#p0g36)" stroke="url(#p0g36)"/><path d="M276.3 106.2l1.6 0.4 5 3.2 3.2 21.3 1.6 6.1 1.7 1.1 5.1 0.4 1.6 0.9 6.8 8.9 1.7 0.8 1.7-0.1 3.6-7.5 1.8-5.8 1.8-3 1.8-0.6 1.7 2.2 1.8 1-5.6-4.2-3.5-0.8-1.8 2-1.8 3.4-1.9 5.5-5.3 7.2-1.7-0.9-1.7 0.4-6.8-3.9-1.7-0.4-3.3-2.6-1.7-2.2-3.3-11.8-1.6-11-1.6-1.2-5-5.6z" fill="url(#p0g37)" stroke="url(#p0g37)"/><path d="M317 134.5l1.8 1 1.7 0.1 1.8 2.1 3.5 2.4 3.6 1.5 3.6 0.4 3.6 1.3 3.7-0.3 1.9 0.7 3.7-0.8 1.9 0.8 7.5-0.1 1.8 1.6 5.8 1.2-5.6 2.7-1.9 0.7-1.9-0.7-1.9 0.3-3.8-3.1-1.9 0.1-1.8-1.1-5.6-1.6-1.9 0.1-1.8-1.2-1.9 0.3-3.6-0.7-5.4-3.3-3.6-3.4-5.3-2.7-1.8-1.5-1.8-0.2z" fill="url(#p0g38)" stroke="url(#p0g38)"/><path d="M360.9 146l2 0.4 1.8 1.1 2.1-4.8 2.5-14.6 2.7-22 1.2 22.5 1.4 15.1 1.8 4.8 2-0.5 2 0.6 1.9 2 3.9 1 4 2.2 1.9 2 4 1.5 2.1 0.1 2 1 2.4-9.1 3.1-20.6 2.5-10.2 1 24.1 1.3 15.6-5.2 0.6-2.1-0.7-2.1 0.3-4.1-1.5-2.1 0.3-2-0.8-4.1-0.3-9.9-3.5-6-0.4-2 1-4-0.4-3.9-0.6-1.9-1-1.9-0.3-1.9-1.8-1.9 0.7z" fill="url(#p0g39)" stroke="url(#p0g39)"/><path d="M409.2 142.6l1.3 15.6 2 2.3 2.1 0.8 2.1-0.1 2.1 1.2 8.5 1.3 6.4 0.3 2.1 1.3 2.6-6 5.8-24 1.3 16.4 1.6 10.5 2.1 2.1 2.2-0.4 2.2 0.9 9 0.9-5.1 3-2.2-1.1-4.6-0.1-2.2-1-2.2-0.2-2.4 1.1-4.4 0-2.3 1-6.6 0-2.1-1.4-8.6-3.1-2-1.5-2.2-0.1-2-2.4-2.1 0.6-4.2-2-2.1 0.3-2.1-0.7z" fill="url(#p0g40)" stroke="url(#p0g40)"/><path d="M460.4 165.5l2.2 0.2 2.2 2.2 2.3-0.3 2.2 1.3 2.3 0.5 2.2 1.7 2.3 1 2.4-0.9 2.3 0.4 7.2-1.1 4.6 2.6 2.5-1 2.3 1.3 4.8 0.8 2.4 0.8 7.3 0.8 2.4 1.3 2.5-0.3 2.7-1.7-4.9 3.4-2.6 0.7-2.6 1.3-2.4-0.6-5-0.2-2.5 0.6-2.3-2.1-4.8-0.7-2.3-1.7-4.8-1.5-2.4 0.2-2.2-1.7-4.7-2-9.2-2.5-7 0.8-2.3-0.4-2.2-1.1z" fill="url(#p0g41)" stroke="url(#p0g41)"/><path d="M516.8 176.8l2.7-1.7 2.3 1.8 2.7-1.2 5 0.9 5.1-0.1 5.1 1.3 2.6-0.9 7.7 2.7 2.6 0 7.8 1.7 5.5-0.7 5.6-2.3 2.7 0.6 2.8-0.4 5.5 0.5-4.8 5.7-2.7-0.5-5.3-2.4-8.3 0.7-2.7-0.3-5.6 2.4-2.6-0.4-2.6-1.1-5.2-0.7-12.6-6-2.6 0.9-2.5-0.9-7.9 2-2.5 0.1-2.6 0.7z" fill="url(#p0g42)" stroke="url(#p0g42)"/><path d="M579.7 178.8l5.5 0.3 2.8 0.8-4.6 4.6-2.9 0.6-5.5-0.9z" fill="url(#p0g43)" stroke="url(#p0g43)"/><path d="M132.2 71.5l1.3 1.1 3.7 0.4 1.3 1.1 1.3-0.6 1.3 0.4 1.2-0.2 5.2 2.8 4 3.4 1.3 0 2.7 2.7 5.3-0.3 4 1.8-6 1.2-1.3-0.1-2.8-2.1-1.3 0.7-4-2.9-2.7-1.2-1.2 0.3-1.4-1.4-2.6-1.1-1.4-1.5-1.2-0.2-1.4-1.4-2.9-8.3-1.3-2.1-1.1 4.1-1.2 2.3-1.2 1.2-1.3-0.6-2.4 0.3z" fill="url(#p0g44)" stroke="url(#p0g44)"/><path d="M163.5 83.7l2.7 0.2 1.3 1.2 1.4 0 1.3-0.5 4.1-0.3 2.7-1 1.3 0.6 2.8-0.6 2.7-1.1 1.4 0.1 1.4-0.6 1.4 1.6 2.9 0.8 4.3 4.9 2.9 1.8-6-0.8-1.5 0.3-4.3-1.5-2.9-2.7-5.6-2.5-1.4 0.9-1.4-0.1-1.3 0.6-1.4-0.5-1.4 0.5-1.3-0.1-1.4 0.8-1.4-0.5-1.3 0.9-4 0.5-2.7-1.3-1.3-0.1z" fill="url(#p0g45)" stroke="url(#p0g45)"/><path d="M196.7 90.3l4.3 1.9 1.5-0.1 1.4 1 4.4 0.6 2.9 1.1 1.5-0.2 2.9-1.8 3-0.4 1.5-1.1 3-0.5 1.5 1.2 3 0.6 1.6 1.4 1.5 0.4 3.1 2.2-6-2.5-1.5 1.1-4.6 0.1-4.6-2.9-6-2-1.5 0.6-4.5-3-1.5 0.1-2.9-1-1.5 0.8-2.9-0.1-1.4 1-1.5-0.8-1.3 2-1.5 0.3z" fill="url(#p0g46)" stroke="url(#p0g46)"/><path d="M232.2 95.9l3.1 1.4 1.6 1.3 3.1 0 1.6 0.6 3.1-0.4 3.1 0.8 1.6-0.4 1.6 0.8 3.2 0 1.6 1.3 1.6-0.2 1.6 0.5 6.6 2.9 3.2 2.9 3.3 4.1-5.8-4.3-5-2.3-8.2-1.6-1.6 0.6-3.2-1.1-1.6 0.2-3.2-1.1-1.6-2-4.8-3.8-3.1-1.5-1.6-0.4-1.5 1-1.6-1.6-3 1.6z" fill="url(#p0g47)" stroke="url(#p0g47)"/><path d="M270.5 109.4l5 5.6 1.6 1.2 1.6 11 3.3 11.8 1.7 2.2 3.3 2.6 1.7 0.4 6.8 3.9 1.7-0.4 1.7 0.9 5.3-7.2 1.9-5.5 1.8-3.4 1.8-2 3.5 0.8-5.8 6-3.5-2.1-1.8 1.6-1.8 2.5-3.6 8.8-1.8 2.2-1.7 0-1.7-1.5-3.4-1.9-1.8 0.8-3.4 0.6-1.6-1.7-1.7-0.5-3.4-3.8-1.6-5.3-3.3-23.7-5-6.1-1.7-0.8z" fill="url(#p0g48)" stroke="url(#p0g48)"/><path d="M311.4 131.1l1.8 0.2 1.8 1.5 5.3 2.7 3.6 3.4 5.4 3.3 3.6 0.7 1.9-0.3 1.8 1.2 1.9-0.1 5.6 1.6 1.8 1.1 1.9-0.1 3.8 3.1 1.9-0.3 1.9 0.7 1.9-0.7-5.6 3.6-2 0.1-1.8-1.3-3.9 1.3-3.8-0.8-1.9 0.7-1.9-1-1.8 0.2-3.8-0.9-5.5-2.3-1.8 0-7.2-3.2-10.7-9.4z" fill="url(#p0g49)" stroke="url(#p0g49)"/><path d="M355.4 149.8l1.9-0.7 1.9 1.8 1.9 0.3 1.9 1 3.9 0.6 4 0.4 2-1 6 0.4 9.9 3.5 4.1 0.3 2 0.8 2.1-0.3 4.1 1.5 2.1-0.3 2.1 0.7-5.4 0.7-2.1 0.8-2.1-0.6-2.1 0.1-4-2.2-4.2-0.2-2-1.2-2.1 1.1-2 0.3-2-0.6-2.1 0.9-6 0.3-2-1.3-2 0.5-1.9-0.9-2-0.1-5.8-3.1-1.9-0.5-3.9 0z" fill="url(#p0g50)" stroke="url(#p0g50)"/><path d="M403.2 158.1l2.1 0.7 2.1-0.3 4.2 2 2.1-0.6 2 2.4 2.2 0.1 2 1.5 8.6 3.1 2.1 1.4 6.6 0 2.3-1 4.4 0 2.4-1.1 2.2 0.2 2.2 1 4.6 0.1 2.2 1.1-5.1 1.4-2.2-1.5-6.8-2.4-2.2-1.4-2.2 0.4-2.2-1-2.3-0.1-2.2-1-2.3 1.5-2.2-0.5-2.2 1.2-11 0.8-2.1-1.2-2.2-0.2-2-1.9-2.1-1.1-2.1-0.2-4.2-2-2.1 0.8z" fill="url(#p0g51)" stroke="url(#p0g51)"/><path d="M455.3 167.6l2.2 1.1 2.3 0.4 7-0.8 9.2 2.5 4.7 2 2.2 1.7 2.4-0.2 4.8 1.5 2.3 1.7 4.8 0.7 2.3 2.1 2.5-0.6 5 0.2 2.4 0.6 2.6-1.3 2.6-0.7-5.2 6.4-9.7-4.1-4.9-1.2-2.5 0.6-7.4 0.6-2.4-0.8-2.6 1.7-2.2-1.9-2.4-1.2-7-2-2.2-2.4-2.3 0.1-4.6-2.2-6.8-2-2.2-1.5z" fill="url(#p0g52)" stroke="url(#p0g52)"/><path d="M512 179.2l2.6-0.7 2.5-0.1 7.9-2 2.5 0.9 2.6-0.9 12.6 6 5.2 0.7 2.6 1.1 2.6 0.4 5.6-2.4 2.7 0.3 8.3-0.7 5.3 2.4 2.7 0.5-4.6 3.4-5.7 1.8-2.8 0.1-2.7-0.9-5.4-0.6-2.8 0.6-8-1.6-5.4 0.3-2.5-0.9-5.4 0.6-5.1-1-7.8 0.4-5-1.8-2.6 0.8-4.9-2.3z" fill="url(#p0g53)" stroke="url(#p0g53)"/><path d="M575 184.2l5.5 0.9 2.9-0.6-4.6 3.5-2.9 0.7-2.8-0.6-2.9 1.1z" fill="url(#p0g54)" stroke="url(#p0g54)"/><path d="M126.1 71.3l2.4-0.3 1.3 0.6 1.2-1.2 1.2-2.3 1.1-4.1 1.3 2.1 2.9 8.3 1.4 1.4 1.2 0.2 1.4 1.5 2.6 1.1 1.4 1.4 1.2-0.3 2.7 1.2 4 2.9 1.3-0.7 2.8 2.1 1.3 0.1-5.2 26.9-1.4-2.6-1.3-0.6-1.4-2.3-1.3 0-1.4-1.3-2.6-1.2-2.5 2.9-2.6 0.7-1.1 2-1.3 0.9-1.2 0.7-1.3-0.4-1.3-1.5-1.3 0.1-1.4-2.5-2.6-2.3-1.3-2.3-3.8-2.3-1.2 0.5z" fill="url(#p0g55)" stroke="url(#p0g55)"/><path d="M157.5 85.2l1.3 0.1 2.7 1.3 4-0.5 1.3-0.9 1.4 0.5 1.4-0.8 1.3 0.1 1.4-0.5 1.4 0.5 1.3-0.6 1.4 0.1 1.4-0.9 5.6 2.5 2.9 2.7 4.3 1.5 1.5-0.3-5.7 16.5-1.5-1.2-4.2-0.2-1.4 1.3-2.8 0-2.9-2.7-2.8-2-2.7 2.6-1.3 0-1.3 1.9-2.8-0.5-5.1 6.3-1.3 0.9-1.4-0.7-1.3 0-1.4-2.6z" fill="url(#p0g56)" stroke="url(#p0g56)"/><path d="M190.6 90.3l1.5-0.3 1.3-2 1.5 0.8 1.4-1 2.9 0.1 1.5-0.8 2.9 1 1.5-0.1 4.5 3 1.5-0.6 6 2 4.6 2.9 4.6-0.1 1.5-1.1-5.6 32.6-1.5 1.3-1.5 0.3-3.1-1.2-1.5-1.5-1.6-3.1-3-3.9-4.6-4.9-3-0.8-2.9 1.6-1.4-0.7-1.5 0.6-1.4-1-2.9-0.6-7.4-7.5z" fill="url(#p0g57)" stroke="url(#p0g57)"/><path d="M226.3 95.2l3-1.6 1.6 1.6 1.5-1 1.6 0.4 3.1 1.5 4.8 3.8 1.6 2 3.2 1.1 1.6-0.2 3.2 1.1 1.6-0.6 8.2 1.6 5 2.3-6 22.1-1.6 2.7-1.7-0.5-3.2 1.9-1.7-2.6-1.6 1.1-3.2-2.8-1.6-0.8-1.6 1.5-1.6-1.5-1.6 0.2-4.8-1.5-3.1-2.8-1.6 0.6-1.6-2.4-1.5 1.2-3.1-0.1-4.5 4.5z" fill="url(#p0g58)" stroke="url(#p0g58)"/><path d="M264.6 106.4l1.7 0.8 5 6.1 3.3 23.7 1.6 5.3 3.4 3.8 1.7 0.5 1.6 1.7 3.4-0.6 1.8-0.8 3.4 1.9 1.7 1.5 1.7 0 1.8-2.2 3.6-8.8 1.8-2.5 1.8-1.6 3.5 2.1-5.7-13.5-1.5-21.2-3.9 30.9-3.7 10.5-1.7 2.8-1.8-1.3-1.7-4-1.7 4.6-1.8 2.2-5.1 0.5-3.4-1.5-1.7 0.3-1.7-0.5-1.7-1.2-6.7-21.5-1.6 3.5-1.7 1.4-1.6 2.7z" fill="url(#p0g59)" stroke="url(#p0g59)"/><path d="M305.6 136.1l10.7 9.4 7.2 3.2 1.8 0 5.5 2.3 3.8 0.9 1.8-0.2 1.9 1 1.9-0.7 3.8 0.8 3.9-1.3 1.8 1.3 2-0.1-5.5-6.3-2 0.9-3.7-3.1-2 1.3-1.9-1.8-5.7 0.7-3.7-1.1-5.6-3.9-1.8-0.2-3.7 1-5.5-0.7-1.8 0.5-1.9-0.3-3.5-3-1.7-12.9-1.5-21.2z" fill="url(#p0g60)" stroke="url(#p0g60)"/><path d="M349.7 152.8l3.9 0 1.9 0.5 5.8 3.1 2 0.1 1.9 0.9 2-0.5 2 1.3 6-0.3 2.1-0.9 2 0.6 2-0.3 2.1-1.1 2 1.2 4.2 0.2 4 2.2 2.1-0.1 2.1 0.6 2.1-0.8-5-8.9-4.2-1.2-2-2.1-1.8-7.5-3.2-25.6-2.7 15.7-2.5 11.1-2.3 5.9-2.1 2.7-4.2 1-2.1 2.4-1.9-1.5-2.1 2.8-2-0.4-2-1.9-5.9-0.3-1.9-1.7-3.9-1.7-1.9-1.9-2 0.9z" fill="url(#p0g61)" stroke="url(#p0g61)"/><path d="M397.8 160.3l2.1-0.8 4.2 2 2.1 0.2 2.1 1.1 2 1.9 2.2 0.2 2.1 1.2 11-0.8 2.2-1.2 2.2 0.5 2.3-1.5 2.2 1 2.3 0.1 2.2 1 2.2-0.4 2.2 1.4 6.8 2.4 2.2 1.5-4.9-4.8-2.6 4.5-2.2-2.1-2.4 1.8-2.2-0.3-2.3-1.1-6.4-5.9-6.8 0.5-4.6 3.3-2.1-1-2.4 2.5-2-2.1-2.3 2.1-4.2-2.9-2.1-2.3-1.9-3.9-2.1-2.1-2-3.5-2-2.2-2.1-0.9z" fill="url(#p0g62)" stroke="url(#p0g62)"/><path d="M450.2 168.6l2.2 1.5 6.8 2 4.6 2.2 2.3-0.1 2.2 2.4 7 2 2.4 1.2 2.2 1.9 2.6-1.7 2.4 0.8 7.4-0.6 2.5-0.6 4.9 1.2 9.7 4.1-4.5-3.5-2.6 0.5-2.5-0.9-2.3-1.9-2.5-0.9-2.2-4-4.7-3.8-2.5 0.5-2.4-2.2-5 1.1-7.5 3.4-2.4 0.1-2.2-2.5-2.5 0.9-2.2-2.6-2.3-1.2-4.5-4.4-2.4 1-2.3-0.9-2.4 1.7-2.6 4.5z" fill="url(#p0g63)" stroke="url(#p0g63)"/><path d="M507 183.6l4.9 2.3 2.6-0.8 5 1.8 7.8-0.4 5.1 1 5.4-0.6 2.5 0.9 5.4-0.3 8 1.6 2.8-0.6 5.4 0.6 2.7 0.9 2.8-0.1 5.7-1.8-5.1 8.4-2.9 0.8-2.8-0.3-2.6-2.2-5.4-0.8-2.5-3.1-2.7-0.8-2.4-3-5.3-2.2-2.4-2.4-2.7-0.2-2.6-1.6-2.8 1.8-2.6-0.2-5.2-2-2.6 0.7-2.5-2.4-2.5-0.3-8 2.9-5.2 0.7z" fill="url(#p0g64)" stroke="url(#p0g64)"/><path d="M570.2 189.2l2.9-1.1 2.8 0.6 2.9-0.7-5.2 9.2-5.6-0.7-2.9 0.8z" fill="url(#p0g65)" stroke="url(#p0g65)"/><path d="M121.3 100.7l1.2-0.5 3.8 2.3 1.3 2.3 2.6 2.3 1.4 2.5 1.3-0.1 1.3 1.5 1.3 0.4 1.2-0.7 1.3-0.9 1.1-2 2.6-0.7 2.5-2.9 2.6 1.2 1.4 1.3 1.3 0 1.4 2.3 1.3 0.6 1.4 2.6-6.3-4.2-1.4-0.6-3.9 0.5-1.4-2-2.7-1.8-1.3-0.1-1.3-1.1-1.3 1.1-1.3-1.4-1.3-0.1-1.2 0.8-1.4-2.3-1.2 1.5-1.3-1.4-1.3 0.3-1.1 2.2-2.5 1.3-1.1 2.2-1.3-0.5-1.1 2-1.3-1.3-1.3-0.4z" fill="url(#p0g66)" stroke="url(#p0g66)"/><path d="M152.2 109.6l1.4 2.6 1.3 0 1.4 0.7 1.3-0.9 5.1-6.3 2.8 0.5 1.3-1.9 1.3 0 2.7-2.6 2.8 2 2.9 2.7 2.8 0 1.4-1.3 4.2 0.2 1.5 1.2-5.8 13.9-1.5-1-2.8-0.6-1.4 0.5-1.5-3.3-1.4 0.5-4.3-4.2-1.5-2.4-2.8-2-1.4-0.1-1.3 0.6-2.8-1.2-1.4-1.8-2.7-0.7-1.3 0.6-1.4-1.1-3.8 3.8-1.4-0.6z" fill="url(#p0g67)" stroke="url(#p0g67)"/><path d="M184.9 105.3l7.4 7.5 2.9 0.6 1.4 1 1.5-0.6 1.4 0.7 2.9-1.6 3 0.8 4.6 4.9 3 3.9 1.6 3.1 1.5 1.5 3.1 1.2 1.5-0.3 1.5-1.3-6.1 1.1-1.6-1.8-3 0.3-3-0.6-6.1-3.7-1.6-4-1.5-1.4-1.5-2.6-3-1.1-1.5-1.6-4.4 0.7-1.4 1.3-4.1 7.3-1.4 1.1-2.9-2.3z" fill="url(#p0g68)" stroke="url(#p0g68)"/><path d="M220.7 128l4.5-4.5 3.1 0.1 1.5-1.2 1.6 2.4 1.6-0.6 3.1 2.8 4.8 1.5 1.6-0.2 1.6 1.5 1.6-1.5 1.6 0.8 3.2 2.8 1.6-1.1 1.7 2.6 3.2-1.9 1.7 0.5 1.6-2.7-6 5.6-1.6-0.2-3.3-3.1-4.9-2.3-3.2 2.7-1.7-1.1-1.6 0.1-1.6-1.6-3.2 0.4-1.5 1.6-1.6 0.2-3.1 2.4-1.6-0.1-1.5-0.4-3.2-4-1.5-0.8-1.6 0.3-3.1-3z" fill="url(#p0g69)" stroke="url(#p0g69)"/><path d="M258.7 132l1.6-2.7 1.7-1.4 1.6-3.5 6.7 21.5 1.7 1.2 1.7 0.5 1.7-0.3 3.4 1.5 5.1-0.5 1.8-2.2 1.7-4.6 1.7 4 1.8 1.3 1.7-2.8 3.7-10.5 3.9-30.9 1.5 21.2-6.1 16.3-1.8 2.3-1.8-0.7-1.7 2-1.8 1.1-1.8 2.3-1.8 0.9-1.7 2.7-3.5 1.4-1.7 1.5-3.5 0.4-3.4-2.3-5.1-1.7-1.6-2.8-5.1-12.5-1.7-0.9-3.3 1.1-1.6-0.2z" fill="url(#p0g70)" stroke="url(#p0g70)"/><path d="M300.2 102.6l1.5 21.2 1.7 12.9 3.5 3 1.9 0.3 1.8-0.5 5.5 0.7 3.7-1 1.8 0.2 5.6 3.9 3.7 1.1 5.7-0.7 1.9 1.8 2-1.3 3.7 3.1 2-0.9-5.9 4.2-1.9-1-1.8-3-2 0.9-1.9-3.1-5.7-0.4-1.9-0.8-1.9 0.7-3.8 2.7-1.9-1.1-3.7-0.8-3.6-2.2-1.8-3.4-5.5-3.6-1.8 1-1.8 1.9-1.9 0.4-1.8 1.3-1.8 2.3z" fill="url(#p0g71)" stroke="url(#p0g71)"/><path d="M344.2 147.3l2-0.9 1.9 1.9 3.9 1.7 1.9 1.7 5.9 0.3 2 1.9 2 0.4 2.1-2.8 1.9 1.5 2.1-2.4 4.2-1 2.1-2.7 2.3-5.9 2.5-11.1 2.7-15.7 3.2 25.6 1.8 7.5 2 2.1 4.2 1.2-6 10.1-2-1.5-2-2.9-2.1-1.3-2.1 1-2.1-0.4-2.2 2.4-2.1 0.9-2.1-0.6-2 0.6-4-3.2-2-2.5-2-1.2-2.1 1-4.1 5.2-4.1 1.3-1.9-2.1-2 1.1-3.8-3.7-1.9-2.8-3.9-2.4z" fill="url(#p0g72)" stroke="url(#p0g72)"/><path d="M392.8 149.7l2.1 0.9 2 2.2 2 3.5 2.1 2.1 1.9 3.9 2.1 2.3 4.2 2.9 2.3-2.1 2 2.1 2.4-2.5 2.1 1 4.6-3.3 6.8-0.5 6.4 5.9 2.3 1.1 2.2 0.3 2.4-1.8 2.2 2.1 2.6-4.5-5.3 1.7-2.4 0.1-2.2-1.2-7.2 4.7-9.1-0.1-2.1-2.3-2.3 0.1-2.1-2-2.2 0.1-2.2-1.6-2.1-0.8-4.5 1-4.3-0.1-4.3-1.8-2.1 0.9-2.1-2.7-2.1-0.6-2-1.5z" fill="url(#p0g73)" stroke="url(#p0g73)"/><path d="M444.9 169.8l2.6-4.5 2.4-1.7 2.3 0.9 2.4-1 4.5 4.4 2.3 1.2 2.2 2.6 2.5-0.9 2.2 2.5 2.4-0.1 7.5-3.4 5-1.1 2.4 2.2 2.5-0.5 4.7 3.8 2.2 4 2.5 0.9 2.3 1.9 2.5 0.9 2.6-0.5-5.3 5.6-5.1-0.9-2.5 0.3-2.5-0.5-4.6-5.4-2.4-1.5-2.3-3.3-5 0.1-2.5 1.3-4.8-2.4-2.5 1.3-2.4-0.7-2.2-2.3-2.4-0.5-2.3-1.6-4.7-0.4-2.3-1.1-2.3-1.9-2.4 1.5-2.2-2-2.4 0.1z" fill="url(#p0g74)" stroke="url(#p0g74)"/><path d="M502.3 181.9l5.2-0.7 8-2.9 2.5 0.3 2.5 2.4 2.6-0.7 5.2 2 2.6 0.2 2.8-1.8 2.6 1.6 2.7 0.2 2.4 2.4 5.3 2.2 2.4 3 2.7 0.8 2.5 3.1 5.4 0.8 2.6 2.2 2.8 0.3 2.9-0.8-5 6.2-3 1.4-7.8-6.1-2.6-2.6-2.7-0.5-2.5-2.6-2.8 0-2.8 1.2-2.7-0.8-2.8 1.6-2.8 0-2.4-3-2.7 0-2.4-2.7-5.1-2.7-2.4-2.7-5.5 3.1-2.6-0.4-2.7 1.8-2.6 0.1-5.1-1.1z" fill="url(#p0g75)" stroke="url(#p0g75)"/><path d="M565.1 197.3l2.9-0.8 5.6 0.7-5.1 6.9-2.9 0.8-2.6-2.2-3 1.4z" fill="url(#p0g76)" stroke="url(#p0g76)"/><path d="M115.3 106.9l1.3 0.4 1.3 1.3 1.1-2 1.3 0.5 1.1-2.2 2.5-1.3 1.1-2.2 1.3-0.3 1.3 1.4 1.2-1.5 1.4 2.3 1.2-0.8 1.3 0.1 1.3 1.4 1.3-1.1 1.3 1.1 1.3 0.1 2.7 1.8 1.4 2 3.9-0.5 1.4 0.6-6.1 5.9-4.2-6.8-1.4-0.6-1.1 3.2-1.3 0.9-1.2 2.8-1.3-0.2-1.2 1.2-4.2-6.8-1.3-1-2.7-3.9-1.3-0.9-2.5-0.1-1.2 2.1-1.2 0.8-1.1 3.1-1.2 0.4-3.5 4.8z" fill="url(#p0g77)" stroke="url(#p0g77)"/><path d="M145.9 107.4l1.4 0.6 3.8-3.8 1.4 1.1 1.3-0.6 2.7 0.7 1.4 1.8 2.8 1.2 1.3-0.6 1.4 0.1 2.8 2 1.5 2.4 4.3 4.2 1.4-0.5 1.5 3.3 1.4-0.5 2.8 0.6 1.5 1-6.4-4.1-2.9-1.2-1.4 0-4.3-3.1-1.4 0-1.5-2-2.6 3.8-1.4-1.1-1.4 0.2-1.3 1.5-1.4-1.3-1.4 0.6-1.3-0.8-2.9-4.2-1.4-1-1.3 1.5-1.3 0.5-3.8 4.2-1.4-2.4z" fill="url(#p0g78)" stroke="url(#p0g78)"/><path d="M179.1 119.4l2.9 2.3 1.4-1.1 4.1-7.3 1.4-1.3 4.4-0.7 1.5 1.6 3 1.1 1.5 2.6 1.5 1.4 1.6 4 6.1 3.7 3 0.6 3-0.3 1.6 1.8-6.2-0.9-1.6-0.3-1.5 1.6-1.5 0.4-3-0.3-1.5-1-1.5 0.6-1.5-0.2-1.6-3.2-1.5-0.8-3-4.3-1.5-0.3-2.9 2.1-1.5-0.2-1.3 3.3-1.4 1.4-3-2.8-1.5-0.7-3-4.8-2.9-1.8z" fill="url(#p0g79)" stroke="url(#p0g79)"/><path d="M214.5 126l3.1 3 1.6-0.3 1.5 0.8 3.2 4 1.5 0.4 1.6 0.1 3.1-2.4 1.6-0.2 1.5-1.6 3.2-0.4 1.6 1.6 1.6-0.1 1.7 1.1 3.2-2.7 4.9 2.3 3.3 3.1 1.6 0.2-6.1 8.4-3.2-0.1-1.7-0.7-8.2-8.7-3.2-0.4-1.6 2.1-1.6 0.5-1.6-2.6-1.6-1.2-1.6-3.7-1.6-0.6-1.5 2-1.6 0.3-1.6-0.3-3.1-1.6-1.5 0.4-1.6-1.3-3.1-0.8z" fill="url(#p0g80)" stroke="url(#p0g80)"/><path d="M252.7 134.7l1.6 0.2 3.3-1.1 1.7 0.9 5.1 12.5 1.6 2.8 5.1 1.7 3.4 2.3 3.5-0.4 1.7-1.5 3.5-1.4 1.7-2.7 1.8-0.9 1.8-2.3 1.8-1.1 1.7-2 1.8 0.7 1.8-2.3-6.1 10-1.8 0.9-5.3-0.6-7 4.7-3.5 1.4-1.7-0.9-1.7 0.3-5.1-5.6-3.4-1.1-1.7-1.1-3.4-7.9-1.7-1.2-3.3 2.4-1.7 1.9-1.6-0.1z" fill="url(#p0g81)" stroke="url(#p0g81)"/><path d="M293.8 142.4l1.8-2.3 1.8-1.3 1.9-0.4 1.8-1.9 1.8-1 5.5 3.6 1.8 3.4 3.6 2.2 3.7 0.8 1.9 1.1 3.8-2.7 1.9-0.7 1.9 0.8 5.7 0.4 1.9 3.1 2-0.9 1.8 3 1.9 1-6 7.8-1.9-2.7-1.9 0-3.8-4.1-5.7-2.4-1.9 1.8-3.8-0.2-1.9 1.1-1.9-1.6-1.8-0.1-3.7-3.3-1.9 1.8-1.8-0.2-1.9 1.7-1.8 0.8-5.5-0.9-1.8 0.9-1.8-0.9-1.8 0.9z" fill="url(#p0g82)" stroke="url(#p0g82)"/><path d="M338.4 149.6l3.9 2.4 1.9 2.8 3.8 3.7 2-1.1 1.9 2.1 4.1-1.3 4.1-5.2 2.1-1 2 1.2 2 2.5 4 3.2 2-0.6 2.1 0.6 2.1-0.9 2.2-2.4 2.1 0.4 2.1-1 2.1 1.3 2 2.9 2 1.5-6 8.9-2.2 2.4-2.1 0.8-2.1-1.2-2.1 0.6-4.1-1.2-2.1-1.4-2-2.7-2-1.2-2-2.4-3.9-5.4-1.9-4.2-2-0.3-2.1 1.7-2.1 1-2.1 3.5-2-0.3-2 1.6-1.9-1-2 0.3-1.9-2.2-2-0.8-2 1.2-1.9-2.7z" fill="url(#p0g83)" stroke="url(#p0g83)"/><path d="M386.9 159.2l2 1.5 2.1 0.6 2.1 2.7 2.1-0.9 4.3 1.8 4.3 0.1 4.5-1 2.1 0.8 2.2 1.6 2.2-0.1 2.1 2 2.3-0.1 2.1 2.3 9.1 0.1 7.2-4.7 2.2 1.2 2.4-0.1-6.2 13.7-2.2-1.8-2.3-0.8-2.2-1.9-1.6-13.3-1.3-19.1-2.6 5.1-3.2 18.1-2.7 8.7-2.3 0.6-4.2-6-2.3-0.6-2.1-2-4.4-1.3-2.1-1.6-4.3-1.1-2.2-1.1-2.3 2.1-2.1 0.3-2.3 2-2.1 0.7-4.5 4.3z" fill="url(#p0g84)" stroke="url(#p0g84)"/><path d="M439.8 167.1l2.4-0.1 2.2 2 2.4-1.5 2.3 1.9 2.3 1.1 4.7 0.4 2.3 1.6 2.4 0.5 2.2 2.3 2.4 0.7 2.5-1.3 4.8 2.4 2.5-1.3 5-0.1 2.3 3.3 2.4 1.5 4.6 5.4 2.5 0.5 2.5-0.3 5.1 0.9-5.2 2.2-10.3 1.5-5.3 3.5-2.5-0.5-2.6 1.2-2.3-1.8-2.6 2.3-2.2-4.1-2.5-0.3-2.2-2.7-2.4-0.7-2.2-3.5-9.2-7-2.6 2.4-2.4 1.2-2.3-1.1-2.5 1.5-2.3-0.4-2.2-1.8z" fill="url(#p0g85)" stroke="url(#p0g85)"/><path d="M497 186.7l5.1 1.1 2.6-0.1 2.7-1.8 2.6 0.4 5.5-3.1 2.4 2.7 5.1 2.7 2.4 2.7 2.7 0 2.4 3 2.8 0 2.8-1.6 2.7 0.8 2.8-1.2 2.8 0 2.5 2.6 2.7 0.5 2.6 2.6 7.8 6.1 3-1.4-4.4-1.5-2.8-0.9-3.1 2.5-2.8 0.1-3 1.7-3 2.7-5.8 2.6-2.6-1.5-7.5-8.4-2.4-3.4-2.3-4.5-2.7-0.7-2.5-1.8-2.9 2-5.2-1.4-2.1-5.7-2.4-3.6-3 5-2.9 3.4-2.5-1.6-2.7 1.5-2.6 0.5z" fill="url(#p0g86)" stroke="url(#p0g86)"/><path d="M560 204.1l3-1.4 2.6 2.2 2.9-0.8-4.1-3.6-5.8 0.7-2.8-0.9z" fill="url(#p0g87)" stroke="url(#p0g87)"/><path d="M109.3 112.9l3.5-4.8 1.2-0.4 1.1-3.1 1.2-0.8 1.2-2.1 2.5 0.1 1.3 0.9 2.7 3.9 1.3 1 4.2 6.8 1.2-1.2 1.3 0.2 1.2-2.8 1.3-0.9 1.1-3.2 1.4 0.6 4.2 6.8-6.4-0.4-1.3 0.2-2.6 1.6-1.4-1.7-1.3-0.2-5.6-10-1.4-1.2-1.3 0-1.3-1-1.2 1.3-1.3 0-2.4 1.3-1.4-1.3-1.2 0.5-1.3-0.9-1.3-1.9-1.3-0.7-1.2 1.5-2.5-0.5-1.2 0.5z" fill="url(#p0g88)" stroke="url(#p0g88)"/><path d="M139.8 111.5l1.4 2.4 3.8-4.2 1.3-0.5 1.3-1.5 1.4 1 2.9 4.2 1.3 0.8 1.4-0.6 1.4 1.3 1.3-1.5 1.4-0.2 1.4 1.1 2.6-3.8 1.5 2 1.4 0 4.3 3.1 1.4 0 2.9 1.2-6.4-1.5-3-2.2-1.4-1.9-1.4 0.5-2.8-0.4-1.4 0.6-1.4-0.1-1.4-1.1-1.4 2.1-1.3-0.4-4.1 1.6-2.7 0.5-1.4-0.8-5.4-1.2-5.2 1.7z" fill="url(#p0g89)" stroke="url(#p0g89)"/><path d="M172.7 115.6l2.9 1.8 3 4.8 1.5 0.7 3 2.8 1.4-1.4 1.3-3.3 1.5 0.2 2.9-2.1 1.5 0.3 3 4.3 1.5 0.8 1.6 3.2 1.5 0.2 1.5-0.6 1.5 1 3 0.3 1.5-0.4 1.5-1.6 1.6 0.3-6.4-3.5-3.1-1.4-3.1-2.3-1.5-0.2-1.6-3.6-1.5 0.8-3-1.3-3-0.4-1.5-0.9-3 0.9-1.5-1.4-2.9-0.6-2.9 0.6-1.4 1.1-1.5-0.3-1.4 0.4-1.5-1-1.3 1-1.5-1.3z" fill="url(#p0g90)" stroke="url(#p0g90)"/><path d="M208.3 126.6l3.1 0.8 1.6 1.3 1.5-0.4 3.1 1.6 1.6 0.3 1.6-0.3 1.5-2 1.6 0.6 1.6 3.7 1.6 1.2 1.6 2.6 1.6-0.5 1.6-2.1 3.2 0.4 8.2 8.7 1.7 0.7 3.2 0.1-6.2-3.1-4.9-1.1-5-2.9-3.2-0.7-1.7-1-1.6-1.9-1.6-0.9-3.3-7.5-3.2-1.2-1.6-1.4-3.1 1.6-6.2 1.2-1.6-1.8-1.5 0.8-1.6-0.6z" fill="url(#p0g91)" stroke="url(#p0g91)"/><path d="M246.6 143.2l1.6 0.1 1.7-1.9 3.3-2.4 1.7 1.2 3.4 7.9 1.7 1.1 3.4 1.1 5.1 5.6 1.7-0.3 1.7 0.9 3.5-1.4 7-4.7 5.3 0.6 1.8-0.9-6-6.8-1.8 0.7-3.6-2.6-1.8 1.4-5.3 10.8-1.7 0.7-1.8 1.4-3.4 0.7-1.8-0.7-1.7 0.6-1.7-0.6-1.7 0.1-3.4-3-1.7-2.1-1.7-4.6-3.4-6.8-1.7-1.6-1.6 2.5-1.7 0-1.7-0.7z" fill="url(#p0g92)" stroke="url(#p0g92)"/><path d="M287.7 151l1.8-0.9 1.8 0.9 1.8-0.9 5.5 0.9 1.8-0.8 1.9-1.7 1.8 0.2 1.9-1.8 3.7 3.3 1.8 0.1 1.9 1.6 1.9-1.1 3.8 0.2 1.9-1.8 5.7 2.4 3.8 4.1 1.9 0 1.9 2.7-5.7-12.4-3.9 0.7-1.9-0.6-2 2.9-2 0.2-2 3.8-1.9 1-5.7-1.7-1.8-2.7-3.7-2.2-7.5-1-1.8 0.2-3.7-2.5-1.8 0.2-1.8-0.6-1.8 0.4-1.8-0.8-1.8 0.7z" fill="url(#p0g93)" stroke="url(#p0g93)"/><path d="M332.4 155.7l1.9 2.7 2-1.2 2 0.8 1.9 2.2 2-0.3 1.9 1 2-1.6 2 0.3 2.1-3.5 2.1-1 2.1-1.7 2 0.3 1.9 4.2 3.9 5.4 2 2.4 2 1.2 2 2.7 2.1 1.4 4.1 1.2 2.1-0.6 2.1 1.2 2.1-0.8 2.2-2.4-5.5-5.5-2.2 1.1-2.1 0-4.1-2.9-4.1-5-4.1-0.5-2.1-2.4-2-1.2-2.1 1.5-4.1-1.3-2 0.2-2-1.4-2-2.2-6-2.9-6 0.4-1.9-0.3-2-1.2-1.9 0.2z" fill="url(#p0g94)" stroke="url(#p0g94)"/><path d="M380.7 172l4.5-4.3 2.1-0.7 2.3-2 2.1-0.3 2.3-2.1 2.2 1.1 4.3 1.1 2.1 1.6 4.4 1.3 2.1 2 2.3 0.6 4.2 6 2.3-0.6 2.7-8.7 3.2-18.1 2.6-5.1 1.3 19.1 1.6 13.3 2.2 1.9 2.3 0.8 2.2 1.8-5-6.8-4.7-0.2-2.3-1.1-2.3-0.4-2.4 0.5-2.2-1-2.2-1.9-2.3 0.5-2.2-1.7-2.3-0.5-2.3 0.6-2.3 1.4-8.8-2.6-2.1-2.3-2.2-0.6-2.1-2-4.4 1.1-2.1-2.7-2.2 3-2.2 0.1-2.2 1.1z" fill="url(#p0g95)" stroke="url(#p0g95)"/><path d="M433.8 178.9l2.2 1.8 2.3 0.4 2.5-1.5 2.3 1.1 2.4-1.2 2.6-2.4 9.2 7 2.2 3.5 2.4 0.7 2.2 2.7 2.5 0.3 2.2 4.1 2.6-2.3 2.3 1.8 2.6-1.2 2.5 0.5 5.3-3.5 10.3-1.5-4.8-3.4-2.7 2-2.6-0.4-2.7 1.4-2.5 0-2.6 0.8-2.5-0.3-2.5-1.5-2.5-0.4-7-6.4-2.4-1.1-4.9-1.5-4.9 1.4-2.5 1.3-2.3-2.4-2.4 0.3-2.4-0.6-2.4 0.3-2.3-0.9-2.2-4.2-4.7 0.5z" fill="url(#p0g96)" stroke="url(#p0g96)"/><path d="M491.8 189.7l2.6-0.5 2.7-1.5 2.5 1.6 2.9-3.4 3-5 2.4 3.6 2.1 5.7 5.2 1.4 2.9-2 2.5 1.8 2.7 0.7 2.3 4.5 2.4 3.4 7.5 8.4 2.6 1.5 5.8-2.6 3-2.7 3-1.7 2.8-0.1 3.1-2.5 2.8 0.9-3.9-7.2-2.6-2.9-2.8-1.2-2.6-2.3-3.1 2.2-2.8 0.1-3.1 3.3-3 2.3-2.9 1.2-3.1 3.5-2.7-1-2.7-0.3-2.6-2-4.9-6.3-5.1-4.1-7.7-3.6-2.8 1.8-10.6 1.1-2.7 2z" fill="url(#p0g97)" stroke="url(#p0g97)"/><path d="M555.8 200.3l2.8 0.9 5.8-0.7-4.3-2.7-2.9 0.1-2.5-3.9-2.6-2.9z" fill="url(#p0g98)" stroke="url(#p0g98)"/><path d="M102.3 101l1.2-0.5 2.5 0.5 1.2-1.5 1.3 0.7 1.3 1.9 1.3 0.9 1.2-0.5 1.4 1.3 2.4-1.3 1.3 0 1.2-1.3 1.3 1 1.3 0 1.4 1.2 5.6 10 1.3 0.2 1.4 1.7 2.6-1.6 1.3-0.2-6.7-4.3-1.4-1.5-1.3-0.2-1.3 0.4-1.4-0.9-2.5 2-1.2 1.7-2.5 1.6-1.3-0.3-5.5-7.7-2.6-1.2-3.6 3.3-2.3 3-1.1 2.5-1.2 0-2.4 0.9z" fill="url(#p0g99)" stroke="url(#p0g99)"/><path d="M133.5 113.7l5.2-1.7 5.4 1.2 1.4 0.8 2.7-0.5 4.1-1.6 1.3 0.4 1.4-2.1 1.4 1.1 1.4 0.1 1.4-0.6 2.8 0.4 1.4-0.5 1.4 1.9 3 2.2-6.4 4.5-1.4-0.4-1.5-2.1-1.4-1-3.1-5.7-1.4-0.4-1.5-2.5-2.8 0-1.3 0.7-1.5-2.6-1.4-1.1-2.4 8.7-1.4-1.5-1.3 1.1-5.6-3.6-5.3 0.3-1.4-1.5z" fill="url(#p0g100)" stroke="url(#p0g100)"/><path d="M166.3 113.5l1.5 1.3 1.3-1 1.5 1 1.4-0.4 1.5 0.3 1.4-1.1 2.9-0.6 2.9 0.6 1.5 1.4 3-0.9 1.5 0.9 3 0.4 3 1.3 1.5-0.8 1.6 3.6 1.5 0.2 3.1 2.3 3.1 1.4-6.4 2.1-3 0.8-1.6-0.3-6.1-3.7-1.5 1-1.5-1.1-4.4 3.1-1.5-0.3-1.4 0.9-1.5-1.5-1.5 0-1.5-1.9-1.4 1.3-1.5-0.7-1.4-0.1-1.5-2.2-3-1.9-1.4 0.4-1.4-0.4z" fill="url(#p0g101)" stroke="url(#p0g101)"/><path d="M201.9 122.8l1.6 0.6 1.5-0.8 1.6 1.8 6.2-1.2 3.1-1.6 1.6 1.4 3.2 1.2 3.3 7.5 1.6 0.9 1.6 1.9 1.7 1 3.2 0.7 5 2.9 4.9 1.1-6.3-2.1-5-3-3.3 1.2-1.6-1-3.3 0.6-1.6-1.7-1.6 0.6-1.6-0.4-1.7-1.7-1.6-0.5-1.6-2.3-1.6-0.7-4.8-3.5-4.7-0.6-1.5 0.7-1.6-1-3 0.9z" fill="url(#p0g102)" stroke="url(#p0g102)"/><path d="M240.3 139.5l1.7 0.7 1.7 0 1.6-2.5 1.7 1.6 3.4 6.8 1.7 4.6 1.7 2.1 3.4 3 1.7-0.1 1.7 0.6 1.7-0.6 1.8 0.7 3.4-0.7 1.8-1.4 1.7-0.7 5.3-10.8 1.8-1.4 3.6 2.6 1.8-0.7-6.3 2.7-1.8 1.7-1.8 0.8-1.7 2.5-3.6 7.1-1.8 1.1-1.7 0.9-1.8-1.3-3.5-1.4-5.1 0.8-5.2-4.5-1.7-0.5-1.7-1.3-5.1-9.9-3.4-3.4-3.3-1.6z" fill="url(#p0g103)" stroke="url(#p0g103)"/><path d="M281.7 144l1.8-0.7 1.8 0.8 1.8-0.4 1.8 0.6 1.8-0.2 3.7 2.5 1.8-0.2 7.5 1 3.7 2.2 1.8 2.7 5.7 1.7 1.9-1 2-3.8 2-0.2 2-2.9 1.9 0.6 3.9-0.7-6.2 10.4-2-0.4-2 0.3-1.9-2-3.9 1.3-1.9-1.5-3.8-2-3.8 1.2-1.9-0.8-1.9 1.6-1.8-8.4-1.7-12.8-2 10.9-1.9-2.3-1.7-13.9-2 14.5-1.9 8.6-1.8-0.7-1.8 0.1-1.8-1.8-1.9-0.2-1.8-2.1-1.8 1.7z" fill="url(#p0g104)" stroke="url(#p0g104)"/><path d="M326.7 146.2l1.9-0.2 2 1.2 1.9 0.3 6-0.4 6 2.9 2 2.2 2 1.4 2-0.2 4.1 1.3 2.1-1.5 2 1.2 2.1 2.4 4.1 0.5 4.1 5 4.1 2.9 2.1 0 2.2-1.1-5.9 1.3-2.2 1.4-2.1-1.5-2.1 0.4-2.2 2.2-6.3-0.5-4.1-2.1-2.1-0.1-3.9-8.6-1.8-8.1-2.1 2.1-2.3 7.9-2.1 4.7-2.1 0.8-2 0.4-2-1.4-1.9-0.2-5.9-5.1-1.9-1.3-2-0.4z" fill="url(#p0g105)" stroke="url(#p0g105)"/><path d="M375.2 165.2l2.2-1.1 2.2-0.1 2.2-3 2.1 2.7 4.4-1.1 2.1 2 2.2 0.6 2.1 2.3 8.8 2.6 2.3-1.4 2.3-0.6 2.3 0.5 2.2 1.7 2.3-0.5 2.2 1.9 2.2 1 2.4-0.5 2.3 0.4 2.3 1.1 4.7 0.2-6.4 14.6-4.6-1.7-2.3-1.5-2.3 0-4.3-6.7-4.4-3.9-2.3-0.3-2.3 1.1-2.2-0.6-2.4 1.4-1.8-8.8-1.7-14.1-1.4-19.3-2.4 3.1-2.8 14.4-2.7 10.4-2.2-0.2-1.9-6.8-1.8-9.4-5 15.3-2.3 4.5-2.2 1.4z" fill="url(#p0g106)" stroke="url(#p0g106)"/><path d="M428.6 174.1l4.7-0.5 2.2 4.2 2.3 0.9 2.4-0.3 2.4 0.6 2.4-0.3 2.3 2.4 2.5-1.3 4.9-1.4 4.9 1.5 2.4 1.1 7 6.4 2.5 0.4 2.5 1.5 2.5 0.3 2.6-0.8 2.5 0 2.7-1.4 2.6 0.4 2.7-2-5.9 9.3-9.9-6.2-2.5-0.2-2.4-2.5-2.5-1.1-2.4-1.9-2.3-3.6-7.4-0.8-2.5 0.2-2.7 2.2-2.4-0.1-2.3-2.5-3.6-22.1-3.4 17.3-3.1 12-2.3-2-2.5 2.7-2.5 0.6-2.4 1.4-2.3-0.9z" fill="url(#p0g107)" stroke="url(#p0g107)"/><path d="M486.9 187.8l2.7-2 10.6-1.1 2.8-1.8 7.7 3.6 5.1 4.1 4.9 6.3 2.6 2 2.7 0.3 2.7 1 3.1-3.5 2.9-1.2 3-2.3 3.1-3.3 2.8-0.1 3.1-2.2 2.6 2.3 2.8 1.2 2.6 2.9-5.8 11.7-6.1 3.5-3 1-8.3-2.4-2.5-2.9-3 1.7-8.4 0.5-2.6-1.5-2.9 2.5-7.6-6.3-2.8 0.5-2.5-1.9-2.7 0.2-2.6-1.3-5.2-1-2.4-2.9-2.6-0.3-2.5-1.4z" fill="url(#p0g108)" stroke="url(#p0g108)"/><path d="M552.1 191.1l2.6 2.9 2.5 3.9 2.9-0.1-5.2 5.7-2.8-1-3.2 3.2-3.1 1.9z" fill="url(#p0g109)" stroke="url(#p0g109)"/><path d="M96.5 112.8l2.4-0.9 1.2 0 1.1-2.5 2.3-3 3.6-3.3 2.6 1.2 5.5 7.7 1.3 0.3 2.5-1.6 1.2-1.7 2.5-2 1.4 0.9 1.3-0.4 1.3 0.2 1.4 1.5-6.7-1.7-4.1-4.2-1.3 0.7-1.3-0.3-1.2 2.3-1.3-0.6-1.3 0.7-1.3-0.2-1.2 1.7-1.3-0.9-4.8 6.1-1.3-0.5-1.2 0.4-1.3-0.3-1.3-2.2-4-3.3-1.2 0.3-1.3-2-1.2 0.6z" fill="url(#p0g110)" stroke="url(#p0g110)"/><path d="M126.7 107.7l1.4 1.5 5.3-0.3 5.6 3.6 1.3-1.1 1.4 1.5 2.4-8.7 1.4 1.1 1.5 2.6 1.3-0.7 2.8 0 1.5 2.5 1.4 0.4 3.1 5.7 1.4 1 1.5 2.1 1.4 0.4-6.4 2.6-1.4 1.6-1.4 0-1.5-2-1.4 0.1-4.5-8-1.5-1.2-1.3 0.1-1.5-1.8-1.4 0.1-1.3 2.1-1.4-0.9-1.2 2.5-1.4-0.8-2.7 0.8-1.4-0.3-4-1.6-1.5-2.8-4.2-3.9z" fill="url(#p0g111)" stroke="url(#p0g111)"/><path d="M160 118.9l1.4 0.4 1.4-0.4 3 1.9 1.5 2.2 1.4 0.1 1.5 0.7 1.4-1.3 1.5 1.9 1.5 0 1.5 1.5 1.4-0.9 1.5 0.3 4.4-3.1 1.5 1.1 1.5-1 6.1 3.7 1.6 0.3 3-0.8-6.4 4.6-1.6-0.8-1.4 2.1-1.5 0.4-1.6-0.8-1.4 2.4-1.6-2.1-1.5-0.5-1.6-1.4-3.1-4.9-3-0.1-1.4 1.4-2.9 0.8-4.4-1.4-1.5-1.7-1.4 0.3-1.5-0.5-1.5-1.4-1.4 1-1.4-1-1.4 1.6z" fill="url(#p0g112)" stroke="url(#p0g112)"/><path d="M195.6 125.7l3-0.9 1.6 1 1.5-0.7 4.7 0.6 4.8 3.5 1.6 0.7 1.6 2.3 1.6 0.5 1.7 1.7 1.6 0.4 1.6-0.6 1.6 1.7 3.3-0.6 1.6 1 3.3-1.2 5 3-6.4 6.8-5-5.2-1.7-3.4-4.9-1-1.7-2-1.6-1-1.6 0-1.6 1.3-1.6 0-1.6 1.4-1.6-1.4-1.6-0.5-1.6-1.9-1.7-3.3-3.2-3.2-3.1 1.5-3 4.4-3.1-1.3z" fill="url(#p0g113)" stroke="url(#p0g113)"/><path d="M234 137l3.3 1.6 3.4 3.4 5.1 9.9 1.7 1.3 1.7 0.5 5.2 4.5 5.1-0.8 3.5 1.4 1.8 1.3 1.7-0.9 1.8-1.1 3.6-7.1 1.7-2.5 1.8-0.8 1.8-1.7-6.3 3-1.8-0.1-1.8-2.4-3.6-1.2-1.7 7.3-3.6 9-3.5-2.2-3.4-1.1-8.6-0.3-1.7 0.7-1.7-1.3-5.2-12.9-1.7-1.2-1.7-0.6-1.6 2.2-1.7-2.2z" fill="url(#p0g114)" stroke="url(#p0g114)"/><path d="M275.4 147.7l1.8-1.7 1.8 2.1 1.9 0.2 1.8 1.8 1.8-0.1 1.8 0.7 1.9-8.6 2-14.5 1.7 13.9 1.9 2.3 2-10.9 1.7 12.8 1.8 8.4 1.9-1.6 1.9 0.8 3.8-1.2 3.8 2 1.9 1.5 3.9-1.3 1.9 2 2-0.3 2 0.4-6.3 2.4-3.9-1.6-1.9-1.5-3.7-12.8-2-0.4-2 8.4-2 4.4-1.9 0.5-3.8-2-1.9 0.8-1.8-0.8-5.6-4.4-1.9 0.8-1.8-0.9-1.9 2.5-3.6-2-1.9 0-1.8 0.9-1.8-1.7-1.8-0.1z" fill="url(#p0g115)" stroke="url(#p0g115)"/><path d="M320.4 156l2 0.4 1.9 1.3 5.9 5.1 1.9 0.2 2 1.4 2-0.4 2.1-0.8 2.1-4.7 2.3-7.9 2.1-2.1 1.8 8.1 3.9 8.6 2.1 0.1 4.1 2.1 6.3 0.5 2.2-2.2 2.1-0.4 2.1 1.5 2.2-1.4-6.2 8-4.1-5.1-2.2-0.2-4.2-2.1-4.2 0.8-2.1-0.8-2-1.6-2.1-0.2-2.1-1-2.1 1.6-4.1 0.8-2.1 1.4-4-1.8-1.9-3.3-2-0.9-2-1.6-2-0.3-2-1.1-2 0.9-2-0.1-1.9-1.1z" fill="url(#p0g116)" stroke="url(#p0g116)"/><path d="M369.3 166.8l2.2-1.4 2.3-4.5 5-15.3 1.8 9.4 1.9 6.8 2.2 0.2 2.7-10.4 2.8-14.4 2.4-3.1 1.4 19.3 1.7 14.1 1.8 8.8 2.4-1.4 2.2 0.6 2.3-1.1 2.3 0.3 4.4 3.9 4.3 6.7 2.3 0 2.3 1.5 4.6 1.7-4.9-15.2-2.3-2-1.9-8.2-1.8-11.5-6.1 28.5-2.5 3.1-2.3 0.2-2.3 0.8-2.3-0.4-2.2-1.1-2.2-2.4-4.4-3.1-2.1-3.9-2.2-0.5-2.2-1.1-2.3 3-2.2-1-2.3 2-6.6 1.8-6.3-6.3z" fill="url(#p0g117)" stroke="url(#p0g117)"/><path d="M422.3 187.6l2.3 0.9 2.4-1.4 2.5-0.6 2.5-2.7 2.3 2 3.1-12 3.4-17.3 3.6 22.1 2.3 2.5 2.4 0.1 2.7-2.2 2.5-0.2 7.4 0.8 2.3 3.6 2.4 1.9 2.5 1.1 2.4 2.5 2.5 0.2 9.9 6.2-3.3-26.9-6.6 17.9-2.9 4.4-2.6 0.5-10.1-2.6-4.9-2.5-2.4-0.7-2.6 1-5 0.9-2.6 2-2.4-0.9-2.5 0.3-2.4-1.5-4.4-7.5-4.6-4.7-4.7-1.5-2.3-2z" fill="url(#p0g118)" stroke="url(#p0g118)"/><path d="M481.2 193.7l2.5 1.4 2.6 0.3 2.4 2.9 5.2 1 2.6 1.3 2.7-0.2 2.5 1.9 2.8-0.5 7.6 6.3 2.9-2.5 2.6 1.5 8.4-0.5 3-1.7 2.5 2.9 8.3 2.4 3-1 6.1-3.5-5.6 8-3 0.9-2.7-1.5-2.9-0.5-2.7-1.7-7.8-7.9-2.9 0.8-2.6-2.8-3 2.6-5.8 3.2-8.6 3.8-5.2-1.8-2.5-3.5-2.5-1.8-2.6-0.9-2.5-1.9-3-31.8-2.6-0.7-3.4 10z" fill="url(#p0g119)" stroke="url(#p0g119)"/><path d="M545.8 207.6l3.1-1.9 3.2-3.2 2.8 1-5.9 11.9-5.7-1.7-3 0.9z" fill="url(#p0g120)" stroke="url(#p0g120)"/><path d="M89.5 105.8l1.2-0.6 1.3 2 1.2-0.3 4 3.3 1.3 2.2 1.3 0.3 1.2-0.4 1.3 0.5 4.8-6.1 1.3 0.9 1.2-1.7 1.3 0.2 1.3-0.7 1.3 0.6 1.2-2.3 1.3 0.3 1.3-0.7 4.1 4.2-6.6 2.5-1.2 0.5-1.5-3-1.2 2.2-1.3 0.9-2.6-1-1.4-1.3-1.2 0.9-1.3 0-1.2 1.3-1.4-0.7-1.2 0.5-1.3-1-1.3 0.5-1.3-0.2-1.2 0.6-2.3 2.6-1.3 0.1-1.3-1-1.1 1.3-1.5-3.2-1.2-0.1-1.3-1.7-1.2 0.8z" fill="url(#p0g121)" stroke="url(#p0g121)"/><path d="M120 105.9l4.2 3.9 1.5 2.8 4 1.6 1.4 0.3 2.7-0.8 1.4 0.8 1.2-2.5 1.4 0.9 1.3-2.1 1.4-0.1 1.5 1.8 1.3-0.1 1.5 1.2 4.5 8 1.4-0.1 1.5 2 1.4 0 1.4-1.6-6.5 4.6-1.4 0.2-3-3.7-1.3 1.9-1.6-3.1-1.2 2.8-1.5-1.1-1.3 1.1-1.5-1.6-1.3 0.7-2.8-1.3-1.5-2-1.6-5-2.9-5.5-2.8-1.9-2.7 1-2.6 0.3-1.4-0.6-1.3 1.3-1.2 0.5z" fill="url(#p0g122)" stroke="url(#p0g122)"/><path d="M153.6 123.5l1.4-1.6 1.4 1 1.4-1 1.5 1.4 1.5 0.5 1.4-0.3 1.5 1.7 4.4 1.4 2.9-0.8 1.4-1.4 3 0.1 3.1 4.9 1.6 1.4 1.5 0.5 1.6 2.1 1.4-2.4 1.6 0.8 1.5-0.4 1.4-2.1 1.6 0.8-6.4 7-4.7-3.7-1.6-2.2-1.5 1.2-1.5-0.8-3 0-1.5 0.7-3-2.2-1.6-2.6-3-3-5.9-0.7-1.4 0.7-1.5 0.1-1.4 1.1-2.8-0.1-1.4 0.9-1.4 0.2z" fill="url(#p0g123)" stroke="url(#p0g123)"/><path d="M189.1 129.3l3.1 1.3 3-4.4 3.1-1.5 3.2 3.2 1.7 3.3 1.6 1.9 1.6 0.5 1.6 1.4 1.6-1.4 1.6 0 1.6-1.3 1.6 0 1.6 1 1.7 2 4.9 1 1.7 3.4 5 5.2-6.6-5.9-1.7-0.6-1.7-2.5-1.7-0.4-1.6-1.3-1.6 1.5-1.7 0.3-1.6-1.3-1.6 0.8-3.2 3.2-1.6-0.4-3.2 1.6-1.6-1.3-1.6 0.2-3.1 2.4-1.6-0.8-1.5 0.1-1.6-1-1.5 1.3-3.2-1.9-3.1-3z" fill="url(#p0g124)" stroke="url(#p0g124)"/><path d="M227.6 142.7l1.7 2.2 1.6-2.2 1.7 0.6 1.7 1.2 5.2 12.9 1.7 1.3 1.7-0.7 8.6 0.3 3.4 1.1 3.5 2.2 3.6-9 1.7-7.3 3.6 1.2 1.8 2.4 1.8 0.1-6.4-1.8-1.9-5.1-1.8 1.9-3.5 10.9-5.3 7.5-1.8-1.1-1.7-0.1-1.7 0.3-3.5 2-3.4 0.5-5.2-2.8-1.7-1.7-6.9-15.7-1.7-1.9-1.7-2.9-1.7-0.6z" fill="url(#p0g125)" stroke="url(#p0g125)"/><path d="M269.1 148.9l1.8 0.1 1.8 1.7 1.8-0.9 1.9 0 3.6 2 1.9-2.5 1.8 0.9 1.9-0.8 5.6 4.4 1.8 0.8 1.9-0.8 3.8 2 1.9-0.5 2-4.4 2-8.4 2 0.4 3.7 12.8 1.9 1.5 3.9 1.6-6.3 4.9-3.9-0.2-2-2-3.8-2.6-2-2.7-3.8 0.2-2 2.4-1.8-2.3-3.9 2.1-1.8-2.1-1.9-0.7-3.7-3.2-1.9 1.7-1.9-0.8-1.8-1.2-1.8-2.8-3.7 1.3-1.8-2.4-1.8-1.2-1.9-5.1z" fill="url(#p0g126)" stroke="url(#p0g126)"/><path d="M314.2 157.7l1.9 1.1 2 0.1 2-0.9 2 1.1 2 0.3 2 1.6 2 0.9 1.9 3.3 4 1.8 2.1-1.4 4.1-0.8 2.1-1.6 2.1 1 2.1 0.2 2 1.6 2.1 0.8 4.2-0.8 4.2 2.1 2.2 0.2 4.1 5.1-6.1 2.6-4.3-3.3-2.2 1.9-4.2-0.2-4.2-2.7-6-9.6-2.1-1.3-4.1 0-2.1 1-2.1 0-2.1 2.7-1.9-7.2-1.6-20.7-1.5-30.4-2.2 6.1-2.4 25.7-2.3 18.2-2.1 6.3-2 1.2-2 0z" fill="url(#p0g127)" stroke="url(#p0g127)"/><path d="M363.2 171.2l6.3 6.3 6.6-1.8 2.3-2 2.2 1 2.3-3 2.2 1.1 2.2 0.5 2.1 3.9 4.4 3.1 2.2 2.4 2.2 1.1 2.3 0.4 2.3-0.8 2.3-0.2 2.5-3.1 6.1-28.5 1.8 11.5 1.9 8.2 2.3 2-6.3 9.8-2.5 3.2-2.4 0.7-6.9-3.8-2.4 0.9-2.3 0.1-2.2-1.2-4.7 0.7-2.2-0.3-2.3 0.3-2.2-1.4-4.3-6-2.3 1.1-6.7 1.4-6.6 0.4-2.1-2.6-2.1-0.6-2.2-1.9z" fill="url(#p0g128)" stroke="url(#p0g128)"/><path d="M417.4 171.3l2.3 2 4.7 1.5 4.6 4.7 4.4 7.5 2.4 1.5 2.5-0.3 2.4 0.9 2.6-2 5-0.9 2.6-1 2.4 0.7 4.9 2.5 10.1 2.6 2.6-0.5 2.9-4.4 6.6-17.9-8 36.5-2.7-0.1-2.5-1.3-2.6 0.4-2.5-1.2-2.4-2.6-7.4-5.8-2.4-1.6-5-0.9-2.4-3.2-2.5 0.5-2.3-2.9-2.4-1.1-2.6 1.1-5.1 4.4-2.4-1-2.6 3.7-2.3-4-4.2-12.3-2.7 6.3-2.5 3.2z" fill="url(#p0g129)" stroke="url(#p0g129)"/><path d="M477 178.2l3.4-10 2.6 0.7 3 31.8 2.5 1.9 2.6 0.9 2.5 1.8 2.5 3.5 5.2 1.8 8.6-3.8 5.8-3.2 3-2.6 2.6 2.8 2.9-0.8 7.8 7.9 2.7 1.7 2.9 0.5 2.7 1.5 3-0.9-5.4 5.5-2.7-2.5-3 0.9-2.7-1.7-3.1 2-2.9-0.1-2.7-0.9-5.4-4-3 1.8-2.6-1.9-5.9 4.4-2.8-0.5-2.6-1.8-2.6-1.1-2.5-2.9-5.2-4.1-2.6-1.4-2.7 1-5.4 0.2-2.6-0.5-2.5-1.4-2.7-0.1z" fill="url(#p0g130)" stroke="url(#p0g130)"/><path d="M540.3 214.6l3-0.9 5.7 1.7-5.3 4.7-2.8-1.3-3 0.4-2.7-2.5z" fill="url(#p0g131)" stroke="url(#p0g131)"/><path d="M83 109l1.2-0.8 1.3 1.7 1.2 0.1 1.5 3.2 1.1-1.3 1.3 1 1.3-0.1 2.3-2.6 1.2-0.6 1.3 0.2 1.3-0.5 1.3 1 1.2-0.5 1.4 0.7 1.2-1.3 1.3 0 1.2-0.9 1.4 1.3 2.6 1 1.3-0.9 1.2-2.2 1.5 3 1.2-0.5-6.6 3.1-1.4-1.2-2.6-0.4-1.3 0.4-2.6-0.2-1.2 2-1.4-1.6-1.2 0.7-1.4-0.8-1.4-2.2-1.3-0.4-1.4-2.2-1.2 0.6-2.4 2.4-2.2 4.9-1.2-0.2-1.2 0.8-1.3-0.2-2.5-0.9-2.6-2.1z" fill="url(#p0g132)" stroke="url(#p0g132)"/><path d="M113.6 110.5l1.2-0.5 1.3-1.3 1.4 0.6 2.6-0.3 2.7-1 2.8 1.9 2.9 5.5 1.6 5 1.5 2 2.8 1.3 1.3-0.7 1.5 1.6 1.3-1.1 1.5 1.1 1.2-2.8 1.6 3.1 1.3-1.9 3 3.7 1.4-0.2-6.9-3.2-3-2.8-1.4 0.1-1.5-2.5-1.4-0.3-1.5-1.9-1.4 0.4-1.4-0.9-2.8 0.1-2.7 1.1-2.8-2-1.5-1.8-1.3 0.8-1.4-0.8-1.3 0.2-1.2 3.2-1.4-0.8-1.2 1-2.8-1.8-2.8-2.7z" fill="url(#p0g133)" stroke="url(#p0g133)"/><path d="M147.1 126.7l1.4-0.2 1.4-0.9 2.8 0.1 1.4-1.1 1.5-0.1 1.4-0.7 5.9 0.7 3 3 1.6 2.6 3 2.2 1.5-0.7 3 0 1.5 0.8 1.5-1.2 1.6 2.2 4.7 3.7-7-7.4-1.5 0-1.6-1.5-1.6-2.5-1.7-4.8-2.7 8.7-1.6-0.9-1.4 0.7-4.7-4-3-1.2-1.5-2.2-1.5-1.3-3-0.3-1.4 0.5-1.3 3.4-1.5-0.1-1.4 1.2-1.4-1.4-2.9-0.7-1.5-1.2z" fill="url(#p0g134)" stroke="url(#p0g134)"/><path d="M182.7 135.9l3.1 3 3.2 1.9 1.5-1.3 1.6 1 1.5-0.1 1.6 0.8 3.1-2.4 1.6-0.2 1.6 1.3 3.2-1.6 1.6 0.4 3.2-3.2 1.6-0.8 1.6 1.3 1.7-0.3 1.6-1.5 1.6 1.3 1.7 0.4 1.7 2.5 1.7 0.6-6.5 11.8-1.7-1.3-1.6 0.1-1.7-1.3-1.7-0.3-3.3-4.6-1.6 0.3-3.3-1.8-1.6 1.1-1.7-2.5-3.2-1.1-1.6-1.1-1.6 1.1-3.1-0.1-1.7-2.2-3.1-0.6-4.8-4.3-1.6-2.5-1.5 0z" fill="url(#p0g135)" stroke="url(#p0g135)"/><path d="M221 138.4l1.7 0.6 1.7 2.9 1.7 1.9 6.9 15.7 1.7 1.7 5.2 2.8 3.4-0.5 3.5-2 1.7-0.3 1.7 0.1 1.8 1.1 5.3-7.5 3.5-10.9 1.8-1.9 1.9 5.1-6.6-4.6-5.5-0.5-3.5 10.7-1.8-2.3-1.7 1.2-1.8-1.9-1.8 0-1.7-0.7-5.2 1.6-1.8-1.4-5.1 5.8-1.7-0.6-1.6 1-1.7-0.3-1.7 0.5-1.7-3.1-1.7-0.6-3.4-2.5z" fill="url(#p0g136)" stroke="url(#p0g136)"/><path d="M262.6 142.1l1.9 5.1 1.8 1.2 1.8 2.4 3.7-1.3 1.8 2.8 1.8 1.2 1.9 0.8 1.9-1.7 3.7 3.2 1.9 0.7 1.8 2.1 3.9-2.1 1.8 2.3 2-2.4 3.8-0.2 2 2.7 3.8 2.6 2 2 3.9 0.2-6.3-12.7-1.9-2.3-2-0.1-1.9-3.5-2-1-2 0.3-1.9-1.3-3.9 1.6-1.9-0.5-1.9 0.3-9.6 6.2-3.7-2.6-1.9-2.2-1.8-1.3-1.9 0.4-3.7-0.3-1.8-0.7-1.8-1.4-1.8-0.2z" fill="url(#p0g137)" stroke="url(#p0g137)"/><path d="M307.8 163.7l2 0 2-1.2 2.1-6.3 2.3-18.2 2.4-25.7 2.2-6.1 1.5 30.4 1.6 20.7 1.9 7.2 2.1-2.7 2.1 0 2.1-1 4.1 0 2.1 1.3 6 9.6 4.2 2.7 4.2 0.2 2.2-1.9 4.3 3.3-6-9.5-2.1-1.2-2.2-0.4-2-2.9-2.2 0.2-2.1-1.3-2-6.1-1.8-14.4-1.6-21-5 32.8-2.2 5.3-2.1-0.6-2.1 0.8-4.2 3.4-2-0.5-2.1-1.6-1.9-4.2-4-4.5-2-0.6-2 0.3-2-0.5-2.1 1.5-1.9-2.3z" fill="url(#p0g138)" stroke="url(#p0g138)"/><path d="M357 174.1l2.2 1.9 2.1 0.6 2.1 2.6 6.6-0.4 6.7-1.4 2.3-1.1 4.3 6 2.2 1.4 2.3-0.3 2.2 0.3 4.7-0.7 2.2 1.2 2.3-0.1 2.4-0.9 6.9 3.8 2.4-0.7 2.5-3.2-5.7-3.6-2.3-1.5-2.4 0.1-2.5 1.4-2.4 0.5-2.3-0.4-6.9-2.7-2.3-0.1-2.4 1.3-4.7 4.5-2.3 0.8-2.3-0.7-2.2-1.8-2.1-3.7-2.2-1.3-2.1-2.8-4.4-2.6-2.2-0.2-2.1-2-6.5-3z" fill="url(#p0g139)" stroke="url(#p0g139)"/><path d="M410.9 186.3l2.5-3.2 2.7-6.3 4.2 12.3 2.3 4 2.6-3.7 2.4 1 5.1-4.4 2.6-1.1 2.4 1.1 2.3 2.9 2.5-0.5 2.4 3.2 5 0.9 2.4 1.6 7.4 5.8 2.4 2.6 2.5 1.2 2.6-0.4 2.5 1.3 2.7 0.1-5.4-2.4-2.5-1.3-2.8 2.2-5.4 1.7-2.5-0.6-2.7 1.7-2.5-1.4-2.6-0.2-4.9-2-5.1-0.3-2.4-1.8-2.5 0.5-2.4-1.6-4.9-0.4-4.6-6.3-2.2-5.4-2.4-0.6-2.2-3.5-7-5z" fill="url(#p0g140)" stroke="url(#p0g140)"/><path d="M469.7 204.6l2.7 0.1 2.5 1.4 2.6 0.5 5.4-0.2 2.7-1 2.6 1.4 5.2 4.1 2.5 2.9 2.6 1.1 2.6 1.8 2.8 0.5 5.9-4.4 2.6 1.9 3-1.8 5.4 4 2.7 0.9 2.9 0.1 3.1-2 2.7 1.7 3-0.9 2.7 2.5-5.4 3.9-2.7-2.1-2.9-0.9-2.7-2.1-2.9-0.3-2.9 0.7-2.7-2.3-3 1.8-2.8-1.3-3 2.3-5.4-3.4-2.6-2.8-5.4-1.1-2.7-1.4-2.9 2.7-2.8 0.1-2.5-2.4-5.3-2.1-2.6-1.7-2.4-3.5-2.5-2.2-2.8 1.2-2.5-1.3z" fill="url(#p0g141)" stroke="url(#p0g141)"/><path d="M535.2 216.7l2.7 2.5 3-0.4 2.8 1.3-5.6 7.2-2.7-3-2.9-1.2-2.7-2.1z" fill="url(#p0g142)" stroke="url(#p0g142)"/><path d="M76.4 112.5l2.6 2.1 2.5 0.9 1.3 0.2 1.2-0.8 1.2 0.2 2.2-4.9 2.4-2.4 1.2-0.6 1.4 2.2 1.3 0.4 1.4 2.2 1.4 0.8 1.2-0.7 1.4 1.6 1.2-2 2.6 0.2 1.3-0.4 2.6 0.4 1.4 1.2-6.6 4.6-3.9 1.7-2.5 1.8-5.3-2.6-2.6-0.5-1.4-2.2-1.3-0.4-1.3-1.4-4.5 8.8-2.5-0.5-1.3-1-2.7-4.3-2.6-2.2z" fill="url(#p0g143)" stroke="url(#p0g143)"/><path d="M106.8 111.9l2.8 2.7 2.8 1.8 1.2-1 1.4 0.8 1.2-3.2 1.3-0.2 1.4 0.8 1.3-0.8 1.5 1.8 2.8 2 2.7-1.1 2.8-0.1 1.4 0.9 1.4-0.4 1.5 1.9 1.4 0.3 1.5 2.5 1.4-0.1 3 2.8-6.5 9.1-1.4 1.1-1.5-1.4-4.2-0.8-1.4-0.9-1.5-1.8-2.8-0.5-1.5-1.8-1.4-0.4-1.3 1.2-1.4-1.5-1.3 1.1-1.4-0.4-2.9-3.6-1.3-0.5-2.9-3.3-1.5-3.1-2.6 0.9-2.5 1.6z" fill="url(#p0g144)" stroke="url(#p0g144)"/><path d="M140.1 122.1l1.5 1.2 2.9 0.7 1.4 1.4 1.4-1.2 1.5 0.1 1.3-3.4 1.4-0.5 3 0.3 1.5 1.3 1.5 2.2 3 1.2 4.7 4 1.4-0.7 1.6 0.9 2.7-8.7 1.7 4.8 1.6 2.5 1.6 1.5 1.5 0-6.4 15-1.5-1.5-1.6-0.2-3.2-5.7-1.5-0.8-1.7-3.6-1.5 0.3-1.5-1.7-3 0.8-3-0.6-2.9 0.6-2.8 3.6-2.9-0.1-1.5-1.6-2.8 0.3-4.4-2.1-1.4 1.1z" fill="url(#p0g145)" stroke="url(#p0g145)"/><path d="M175.8 129.7l1.5 0 1.6 2.5 4.8 4.3 3.1 0.6 1.7 2.2 3.1 0.1 1.6-1.1 1.6 1.1 3.2 1.1 1.7 2.5 1.6-1.1 3.3 1.8 1.6-0.3 3.3 4.6 1.7 0.3 1.7 1.3 1.6-0.1 1.7 1.3-6.6 10.1-1.6 0.4-5-3.6-1.7-3.7-1.7-1.1-1.7-3.5-3.4-4.7-3.2-1.4-1.6 2-3.1 0.3-1.6 1.3-1.6 0.4-1.6-1.8-1.5 1.6-1.6-0.2-1.5-0.5-1.6-1.8-4.7 0.1-1.5-1.5z" fill="url(#p0g146)" stroke="url(#p0g146)"/><path d="M214.5 149.5l3.4 2.5 1.7 0.6 1.7 3.1 1.7-0.5 1.7 0.3 1.6-1 1.7 0.6 5.1-5.8 1.8 1.4 5.2-1.6 1.7 0.7 1.8 0 1.8 1.9 1.7-1.2 1.8 2.3 3.5-10.7 5.5 0.5-6.7-0.3-1.8 0.3-1.8 2-1.9-0.7-3.3 30.4-1.8 0.4-3.5-2.5-1.8-3-1.7-1.4-1.8-3.9-1.8-0.3-1.7-1.3-1.7 0-1.8-1.7-3.4 2.6-1.7-2.6-1.7 1.2-1.7-0.1-1.7-2-6.6 1.6z" fill="url(#p0g147)" stroke="url(#p0g147)"/><path d="M256.1 142.4l1.8 0.2 1.8 1.4 1.8 0.7 3.7 0.3 1.9-0.4 1.8 1.3 1.9 2.2 3.7 2.6 9.6-6.2 1.9-0.3 1.9 0.5 3.9-1.6 1.9 1.3 2-0.3 2 1 1.9 3.5 2 0.1 1.9 2.3-6.6 4.1-1.9-1.1-2-2.1-3.9-2.6-2-2.1-5.8-1.8-1.9-1.1-5.8-1.9-1.9-4.2-1.9 2.7-1.9 6.5-1.9 2-1.9-3.1-3.7-2.8-1.9-0.3-3.6 0.9-3.7-1.8-1.8 0.3z" fill="url(#p0g148)" stroke="url(#p0g148)"/><path d="M301.6 148.7l1.9 2.3 2.1-1.5 2 0.5 2-0.3 2 0.6 4 4.5 1.9 4.2 2.1 1.6 2 0.5 4.2-3.4 2.1-0.8 2.1 0.6 2.2-5.3 5-32.8 1.6 21 1.8 14.4 2 6.1 2.1 1.3 2.2-0.2 2 2.9 2.2 0.4 2.1 1.2-6.5 7.3-2.1-2.3-2.2-1.1-2.1-0.2-4.2-5-2-5-2.1-3.5-2.2 1.5-2.1 0.5-2.1 1.9-4.2 0.1-2.1-1.6-4.1-1.4-2-3.1-1.9-10.2-1.8-17.4-2.2 8.3-2.2 12.7-2.1 6.9-2-0.2-4.1 0.4-1.9-1.1z" fill="url(#p0g149)" stroke="url(#p0g149)"/><path d="M351.1 165.3l6.5 3 2.1 2 2.2 0.2 4.4 2.6 2.1 2.8 2.2 1.3 2.1 3.7 2.2 1.8 2.3 0.7 2.3-0.8 4.7-4.5 2.4-1.3 2.3 0.1 6.9 2.7 2.3 0.4 2.4-0.5 2.5-1.4 2.4-0.1 2.3 1.5-7.1 22.7-1.9-10.9-1.5-20-3 14.1-2.7 7.1-2.2-2.5-2.3-1-2.3-2-2.3-0.5-2.4 1-2.3-0.9-2.3 0.3-2.2-1.2-2.4 2-2.3 0.9-2.2 0.1-4.5-2.1-2.2 0.4-2.2-2.9-2.2-0.6-2.1-2-2.1-3.3-2.2-1.6-4.2-5.1z" fill="url(#p0g150)" stroke="url(#p0g150)"/><path d="M405.4 178l7 5 2.2 3.5 2.4 0.6 2.2 5.4 4.6 6.3 4.9 0.4 2.4 1.6 2.5-0.5 2.4 1.8 5.1 0.3 4.9 2 2.6 0.2 2.5 1.4 2.7-1.7 2.5 0.6 5.4-1.7 2.8-2.2 2.5 1.3-6.6 14.8-2.7 0.4-2.6-0.5-2.5-1.8-2.6-0.2-2.5-2.4-2.7 2.3-2.5-1.4-2.6-0.3-2.4-1.7-2.5-0.7-4.9-4.2-2.5-0.1-2.5 1.1-4.8-3.5-2.5-0.1-2.4-1.1-4.9 0.5-5 1.7-2.4-0.4-2.3-2.5-1.9-10.9z" fill="url(#p0g151)" stroke="url(#p0g151)"/><path d="M464.5 201l2.5 1.3 2.8-1.2 2.5 2.2 2.4 3.5 2.6 1.7 5.3 2.1 2.5 2.4 2.8-0.1 2.9-2.7 2.7 1.4 5.4 1.1 2.6 2.8 5.4 3.4 3-2.3 2.8 1.3 3-1.8 2.7 2.3 2.9-0.7 2.9 0.3 2.7 2.1 2.9 0.9 2.7 2.1-6.1 11.4-2.8-2-2.7-2.9-2.8-1.3-2.7-3.1-5.8 0.5-3 1.7-2.7-2.3-2.9 1.2-2.9 0.1-3 2.1-2.5-3.2-5.5-2.1-2.6-1.6-5.5-0.5-2.6-1.6-2.9 2.4-2.7-0.4-4.3-15.1-2.9 3.3-3.2 7.4-2.7 0.4z" fill="url(#p0g152)" stroke="url(#p0g152)"/><path d="M529.8 221l2.7 2.1 2.9 1.2 2.7 3-5.8 7.6-3 0.5-2.9-0.9-2.8-2z" fill="url(#p0g153)" stroke="url(#p0g153)"/><path d="M69.7 114.9l2.6 2.2 2.7 4.3 1.3 1 2.5 0.5 4.5-8.8 1.3 1.4 1.3 0.4 1.4 2.2 2.6 0.5 5.3 2.6 2.5-1.8 3.9-1.7-7.1-0.7-2.8-3.1-2.7-2-2.6 0.4-2.7-1.7-1.4-1.6-1.2 0.9-1.3 0-1.3-1.1-2.4 1.9-1.3-0.1-1.3-1.6-1.3-0.2-2.6-1.7-2.4 1.2-1.1 2.4-1.2 0.2-1.1 2.5-1.2-0.3z" fill="url(#p0g154)" stroke="url(#p0g154)"/><path d="M100.3 118.3l2.5-1.6 2.6-0.9 1.5 3.1 2.9 3.3 1.3 0.5 2.9 3.6 1.4 0.4 1.3-1.1 1.4 1.5 1.3-1.2 1.4 0.4 1.5 1.8 2.8 0.5 1.5 1.8 1.4 0.9 4.2 0.8 1.5 1.4 1.4-1.1-7.3-6-5.7-1.8-1.5-1.1-1.3 0.7-2.8-0.6-2.8-1.1-1.5-2.3-2.6 2.7-2.7 0.2-1.3 2.3-2.7-0.5-2.9-4.1-2.7-0.6-4.2-4.4z" fill="url(#p0g155)" stroke="url(#p0g155)"/><path d="M133.7 133.5l1.4-1.1 4.4 2.1 2.8-0.3 1.5 1.6 2.9 0.1 2.8-3.6 2.9-0.6 3 0.6 3-0.8 1.5 1.7 1.5-0.3 1.7 3.6 1.5 0.8 3.2 5.7 1.6 0.2 1.5 1.5-7.3-12.6-3.1 0.7-1.5 1.3-3 0.7-2.9 1.6-3-0.5-1.5 1.5-1.5-1.1-1.4 0.4-3-1-1.6-1.7-3-1.8-1.5-3.1-3-2.6-2.9-0.5-4.3 0.2z" fill="url(#p0g156)" stroke="url(#p0g156)"/><path d="M169.4 143.2l1.5 1.5 4.7-0.1 1.6 1.8 1.5 0.5 1.6 0.2 1.5-1.6 1.6 1.8 1.6-0.4 1.6-1.3 3.1-0.3 1.6-2 3.2 1.4 3.4 4.7 1.7 3.5 1.7 1.1 1.7 3.7 5 3.6 1.6-0.4-7.2-15.8-3.3 0.6-1.6 2-3.2 1.7-1.7-2-1.7-0.5-3.3-4.2-3.3-2.9-1.6 0-1.7-1.1-3.2-0.5-1.5 1.7-1.6-0.7-1.7-2.8-6.4-5.5-1.5 1-3 0.7z" fill="url(#p0g157)" stroke="url(#p0g157)"/><path d="M208 161.3l6.6-1.6 1.7 2 1.7 0.1 1.7-1.2 1.7 2.6 3.4-2.6 1.8 1.7 1.7 0 1.7 1.3 1.8 0.3 1.8 3.9 1.7 1.4 1.8 3 3.5 2.5 1.8-0.4 3.3-30.4 1.9 0.7 1.8-2 1.8-0.3-6.9-7.1-1.8-0.8-3.6 2.9-3.4 26.9-1.8-3.2-1.8 0.5-1.7-0.3-1.8-1.2-1.7 1.4-1.8-3.4-1.8-1.1-1.7 0.9-3.5-1.6-1.7-2.2-3.7-10.8-1.6 1.8-1.7 3.6-1.7-0.2-1.7-3.4-1.7 1.2-1.7-1.1-1.6 0.3z" fill="url(#p0g158)" stroke="url(#p0g158)"/><path d="M249.4 142.6l1.8-0.3 3.7 1.8 3.6-0.9 1.9 0.3 3.7 2.8 1.9 3.1 1.9-2 1.9-6.5 1.9-2.7 1.9 4.2 5.8 1.9 1.9 1.1 5.8 1.8 2 2.1 3.9 2.6 2 2.1 1.9 1.1-6.6-8.4-2 0.7-2 2.5-2 0-1.9-7.4-1.9-11.1-4 4.4-3.8-22-4 26.4-1.9 5.9-1.9 0.7-1.9-2.5-3.8-3.3-1.9 1-1.8-0.7-1.9 0.3-1.9 1.1-7.4-7.5-1.8-0.8z" fill="url(#p0g159)" stroke="url(#p0g159)"/><path d="M295 154l1.9 1.1 4.1-0.4 2 0.2 2.1-6.9 2.2-12.7 2.2-8.3 1.8 17.4 1.9 10.2 2 3.1 4.1 1.4 2.1 1.6 4.2-0.1 2.1-1.9 2.1-0.5 2.2-1.5 2.1 3.5 2 5 4.2 5 2.1 0.2 2.2 1.1 2.1 2.3-6.3-4-4.3-3.3-4.3-5.2-2.1-1.1-2.1-2.3-2.1-1.4-2.2-0.1-2-6.5-2-4-2.2 4.6-2.2 1.1-4.1-1.1-2.1 0.3-2.1 2.1-2.1-1-2 0.4-2.1-0.5-8-6.2-4.1 1.8z" fill="url(#p0g160)" stroke="url(#p0g160)"/><path d="M344.6 171.5l4.2 5.1 2.2 1.6 2.1 3.3 2.1 2 2.2 0.6 2.2 2.9 2.2-0.4 4.5 2.1 2.2-0.1 2.3-0.9 2.4-2 2.2 1.2 2.3-0.3 2.3 0.9 2.4-1 2.3 0.5 2.3 2 2.3 1 2.2 2.5 2.7-7.1 3-14.1 1.5 20 1.9 10.9-5.6-12.5-2.1-6.9-2.6 3.8-5.2 11.7-4.9 4.2-9-8.8-2.3-0.2-4.4-6.2-2.1-5.4-1.5-24.2-2.7-63-6.4 64.3-2.7 14.6-2.2 0.7-2.2-1.5-2.2-0.5-4.3-4.4z" fill="url(#p0g161)" stroke="url(#p0g161)"/><path d="M398.7 191.3l1.9 10.9 2.3 2.5 2.4 0.4 5-1.7 4.9-0.5 2.4 1.1 2.5 0.1 4.8 3.5 2.5-1.1 2.5 0.1 4.9 4.2 2.5 0.7 2.4 1.7 2.6 0.3 2.5 1.4 2.7-2.3 2.5 2.4 2.6 0.2 2.5 1.8 2.6 0.5 2.7-0.4-5.2-9.3-2.6 0.1-2.8 1.8-2.6-1.3-2.7 2-5.4 2.2-2.6-0.6-2.6 1-2.6 0.2-5.1-0.4-4.9-3.8-2.5-0.8-2.4-1.7-2.5 0.9-2.5-0.2-2.5 1-2.4-1.5-2.3-3.8-2.4-0.7-2.4-1.9-4.4-10.6-2.1-6.9z" fill="url(#p0g162)" stroke="url(#p0g162)"/><path d="M457.7 217.5l2.7-0.4 3.2-7.4 2.9-3.3 4.3 15.1 2.7 0.4 2.9-2.4 2.6 1.6 5.5 0.5 2.6 1.6 5.5 2.1 2.5 3.2 3-2.1 2.9-0.1 2.9-1.2 2.7 2.3 3-1.7 5.8-0.5 2.7 3.1 2.8 1.3 2.7 2.9 2.8 2-4.6-7.9-2.8-1.2-3 0-2.8-2-5.8-1.2-2.8-1.2-2.9 0.3-3 0.9-2.9 0-2.9 1.2-2.7-1.7-3 2.2-5.5-2-2.8 0.2-2.7-1.7-2.8 1.4-2.6-2.8-2.7-0.8-2.5-2.9-7.8-4.9-2.6-2.6-2.6 0.1z" fill="url(#p0g163)" stroke="url(#p0g163)"/><path d="M523.6 232.5l2.8 2 2.9 0.9 3-0.5-4.3-9.4-6.2 1.1-2.8-1.2z" fill="url(#p0g164)" stroke="url(#p0g164)"/><path d="M62.6 113.1l1.2 0.3 1.1-2.5 1.2-0.2 1.1-2.4 2.4-1.2 2.6 1.7 1.3 0.2 1.3 1.6 1.3 0.1 2.4-1.9 1.3 1.1 1.3 0 1.2-0.9 1.4 1.6 2.7 1.7 2.6-0.4 2.7 2 2.8 3.1-6.8 4.9-2.8-2.4-2.6-0.9-2.8-2.5-1.2 0.7-3.8 1.1-1.2 1.2-1.3-0.5-2.5 0.4-2.5-0.3-2.6-1.4-1.2 0.1-1.4-2-1.2 0-1.4-2.3-4-3.9z" fill="url(#p0g165)" stroke="url(#p0g165)"/><path d="M93.1 115.8l4.2 4.4 2.7 0.6 2.9 4.1 2.7 0.5 1.3-2.3 2.7-0.2 2.6-2.7 1.5 2.3 2.8 1.1 2.8 0.6 1.3-0.7 1.5 1.1 5.7 1.8-7 1.9-1.3 1.4-2.9-1.4-1.4 0.2-2.9-1.7-1.5-1.9-1.4-0.9-1.4 0-1.5-1.5-1.2 1.5-2.9-3-1.4-0.2-1.5-1.5-1.2 1.7-1.4 0.1-1.3 0.7-1.3-0.1-1.2 2.1-1.3 0.1-1.5-1.9-1.3 0.3-1.3-0.4-1.4-1.6z" fill="url(#p0g166)" stroke="url(#p0g166)"/><path d="M126.4 126.2l4.3-0.2 2.9 0.5 3 2.6 1.5 3.1 3 1.8 1.6 1.7 3 1 1.4-0.4 1.5 1.1 1.5-1.5 3 0.5 2.9-1.6 3-0.7 1.5-1.3 3.1-0.7-6.8 9.7-1.5 0-3.1-2.4-1.6-0.2-1.6-2.1-1.4 2.4-3-1-1.5 1.3-6.2-8.5-4.6-3.6-1.4 0.2-1.5-1-1.4 1.4-1.5-0.8-1.4 1.2-1.4-0.3-1.4 0.3-1.5-0.4-1.3 1.4z" fill="url(#p0g167)" stroke="url(#p0g167)"/><path d="M162.1 132.6l3-0.7 1.5-1 6.4 5.5 1.7 2.8 1.6 0.7 1.5-1.7 3.2 0.5 1.7 1.1 1.6 0 3.3 2.9 3.3 4.2 1.7 0.5 1.7 2 3.2-1.7 1.6-2 3.3-0.6-6.9 2.4-3.2 4.9-1.7-0.5-1.6 2.9-3.3-0.8-1.7-3.8-3.3-2.6-1.7-2.3-1.6-0.9-3.3-0.2-1.5 0.5-1.6 1.5-1.6-0.7-1.5 0.9-4.8-3.7-3.2-0.7-1.5 1-1.6-1.2-1.5 0z" fill="url(#p0g168)" stroke="url(#p0g168)"/><path d="M200.8 145.4l1.6-0.3 1.7 1.1 1.7-1.2 1.7 3.4 1.7 0.2 1.7-3.6 1.6-1.8 3.7 10.8 1.7 2.2 3.5 1.6 1.7-0.9 1.8 1.1 1.8 3.4 1.7-1.4 1.8 1.2 1.7 0.3 1.8-0.5 1.8 3.2 3.4-26.9 3.6-2.9 1.8 0.8-7-6.3-1.9-2.1-3.6 0.5-3.2 34.5-1.8 1.6-1.8-0.8-1.7 0-3.5 1.5-3.6-4.2-1.7-0.6-1.8-3.6-1.8-1.4-3.5-1.6-1.7-1.6-3.4-1.1-3.5-2.7-1.6 0.5-1.7-0.3-1.6 2.1z" fill="url(#p0g169)" stroke="url(#p0g169)"/><path d="M242.5 134.4l1.8 0.8 7.4 7.5 1.9-1.1 1.9-0.3 1.8 0.7 1.9-1 3.8 3.3 1.9 2.5 1.9-0.7 1.9-5.9 4-26.4 3.8 22 4-4.4 1.9 11.1 1.9 7.4 2 0 2-2.5 2-0.7-6.8-5.1-2 0.2-2 1.3-7.9-0.8-2 1.9-1.9 0.9-2-2.8-3.9-16.3-1.9 8.7-1.9 4.1-1.9-1.6-2-11-4-40.7-3.5 40.6-1.8 11.2-3.8-2.8-1.9-3.7-3.7-4z" fill="url(#p0g170)" stroke="url(#p0g170)"/><path d="M288.3 147.4l4.1-1.8 8 6.2 2.1 0.5 2-0.4 2.1 1 2.1-2.1 2.1-0.3 4.1 1.1 2.2-1.1 2.2-4.6 2 4 2 6.5 2.2 0.1 2.1 1.4 2.1 2.3 2.1 1.1 4.3 5.2 4.3 3.3-6.6-0.6-4.3-6.1-6.4-3.9-4.3-4.4-2.2 0.7-2.1-0.1-2.1 1.8-2.2 1-2.1 3.2-2.1-0.4-2.1 0.8-2.1-1.1-2-9.2-3.8-35.2-2.1 8.8-2.2 11.8-2.1 7.2-2 0.2-2-0.6-2.1-2.1-2 0.2z" fill="url(#p0g171)" stroke="url(#p0g171)"/><path d="M338.2 167.9l4.3 4.4 2.2 0.5 2.2 1.5 2.2-0.7 2.7-14.6 6.4-64.3 2.7 63 1.5 24.2 2.1 5.4 4.4 6.2 2.3 0.2 9 8.8 4.9-4.2 5.2-11.7 2.6-3.8 2.1 6.9-6.5 7.1-2.4-1.4-2.3-2.2-2.5 0.4-6.9-5.9-2.4 0.1-2.2-2.2-11.6-0.5-2.4 1.2-2.2-1-2.3-0.1-2.2-1.2-2.3 0.1-6.5-8.7-4.4-2.6-4.2-7.1z" fill="url(#p0g172)" stroke="url(#p0g172)"/><path d="M392.9 182.8l2.1 6.9 4.4 10.6 2.4 1.9 2.4 0.7 2.3 3.8 2.4 1.5 2.5-1 2.5 0.2 2.5-0.9 2.4 1.7 2.5 0.8 4.9 3.8 5.1 0.4 2.6-0.2 2.6-1 2.6 0.6 5.4-2.2 2.7-2 2.6 1.3 2.8-1.8 2.6-0.1-6.3 6.4-5.1-3.8-5.4 0.9-2.7 1.1-2.5-1.1-2.6-0.3-2.6-1.2-2.6 0.3-2.3-4.6-4.9-4.1-2.6-0.3-5.1 1.8-2.5-1.1-2.6 1.2-2.4-0.9-2.4-1.7-2.5-0.4-2.4-1.9-2.4-1-4.8-0.3-2.4-1.4z" fill="url(#p0g173)" stroke="url(#p0g173)"/><path d="M452.6 207.9l2.6-0.1 2.6 2.6 7.8 4.9 2.5 2.9 2.7 0.8 2.6 2.8 2.8-1.4 2.7 1.7 2.8-0.2 5.5 2 3-2.2 2.7 1.7 2.9-1.2 2.9 0 3-0.9 2.9-0.3 2.8 1.2 5.8 1.2 2.8 2 3 0 2.8 1.2-5.7 4-2.8-1.5-3-0.3-6.1 2-2.8-2.1-2.8-1.4-2.9-0.3-2.6-4-2.7-2.9-8.2-5.1-3 1.8-5.8 2.3-2.8 0.4-3 2.4-2.8 0.9-2.7-1-2.6-3-2.7-0.7-2.5-2.1-2.7-1.4-2.7-0.4-2.5-2.2z" fill="url(#p0g174)" stroke="url(#p0g174)"/><path d="M519 225.4l2.8 1.2 6.2-1.1-6 7.3-3-0.4-5.7-3.3z" fill="url(#p0g175)" stroke="url(#p0g175)"/><path d="M55.2 109.2l4 3.9 1.4 2.3 1.2 0 1.4 2 1.2-0.1 2.6 1.4 2.5 0.3 2.5-0.4 1.3 0.5 1.2-1.2 3.8-1.1 1.2-0.7 2.8 2.5 2.6 0.9 2.8 2.4-6.7 9.2-4.3-6.2-1.3-1.4-1.4-0.3-1.4-2.4-4-1.7-1.2 1.2-2.4 0.9-1.2 1.1-1.4-1.7-1.3-0.9-1.3-0.1-2.6-1.7-2.3 1.5-1.1 2.5-3.6 0.5-1.3-0.4z" fill="url(#p0g176)" stroke="url(#p0g176)"/><path d="M86.3 120.3l1.4 1.6 1.3 0.4 1.3-0.3 1.5 1.9 1.3-0.1 1.2-2.1 1.3 0.1 1.3-0.7 1.4-0.1 1.2-1.7 1.5 1.5 1.4 0.2 2.9 3 1.2-1.5 1.5 1.5 1.4 0 1.4 0.9 1.5 1.9 2.9 1.7 1.4-0.2 2.9 1.4 1.3-1.4-6.9 5.8-2.9-1.6-2.8 0-1.3 3.2-4 1.5-2.8-0.9-1.5-2.7-1.4 0.8-1.4-1.4-5.5-1.3-2.5 3.1-3.9 0.2-1.4-1.3-2.9-5z" fill="url(#p0g177)" stroke="url(#p0g177)"/><path d="M119.5 129.7l1.3-1.4 1.5 0.4 1.4-0.3 1.4 0.3 1.4-1.2 1.5 0.8 1.4-1.4 1.5 1 1.4-0.2 4.6 3.6 6.2 8.5 1.5-1.3 3 1 1.4-2.4 1.6 2.1 1.6 0.2 3.1 2.4 1.5 0-6.8 9.8-1.5-1.1-3.1-0.9-1.5 0.8-3.1-1.1-4.6-4.8-1.7-3.8-1.4 0.7-4.7-5.1-1.4 1.3-1.5-0.9-1.4 1.6-4.2 1.1-1.5-0.8-3-2.5-1.5-2-1.5-0.8z" fill="url(#p0g178)" stroke="url(#p0g178)"/><path d="M155.3 141.8l1.5 0 1.6 1.2 1.5-1 3.2 0.7 4.8 3.7 1.5-0.9 1.6 0.7 1.6-1.5 1.5-0.5 3.3 0.2 1.6 0.9 1.7 2.3 3.3 2.6 1.7 3.8 3.3 0.8 1.6-2.9 1.7 0.5 3.2-4.9-6.9 10.4-3.3 0.6-1.6 0.9-1.7-1.4-3.3 0.2-4.9-0.7-1.6 1.1-4.7 0.1-1.6 1.2-1.6-0.5-1.5 1.3-1.6 0.3-1.6-1.8-1.6 0-3.1-2.2-3.3-4-3.1-2.5z" fill="url(#p0g179)" stroke="url(#p0g179)"/><path d="M193.9 149.6l1.6-2.1 1.7 0.3 1.6-0.5 3.5 2.7 3.4 1.1 1.7 1.6 3.5 1.6 1.8 1.4 1.8 3.6 1.7 0.6 3.6 4.2 3.5-1.5 1.7 0 1.8 0.8 1.8-1.6 3.2-34.5 3.6-0.5 1.9 2.1-6.9 16.3-1.9 1.2-1.8-0.5-1.8-1.2-3.3 21.7-1.8-2.4-1.8-0.7-3.5 2.4-1.7 3.4-3.5 2.7-1.6 2.3-1.8-0.3-1.7 0.6-1.7-2.3-3.5-1.3-1.8-3.2-1.7-1.4-3.5-5.6-1.7-1.9-1.7-0.8-1.7 0.2z" fill="url(#p0g180)" stroke="url(#p0g180)"/><path d="M235.4 126.8l3.7 4 1.9 3.7 3.8 2.8 1.8-11.2 3.5-40.6 4 40.7 2 11 1.9 1.6 1.9-4.1 1.9-8.7 3.9 16.3 2 2.8 1.9-0.9 2-1.9 7.9 0.8 2-1.3 2-0.2-6.9 2.5-4.1-4.5-5.9 2.8-2 3.6-2-0.4-1.9 1.1-3.9-0.3-2-1.2-9.6-10.5-2-11.7-2-17.4-2-10.5-1.7 21.8-1.7 15.9-1.8 11.1-1.8 1.5-1.8-0.2-1.9 1.2z" fill="url(#p0g181)" stroke="url(#p0g181)"/><path d="M281.5 141.8l2-0.2 2.1 2.1 2 0.6 2-0.2 2.1-7.2 2.2-11.8 2.1-8.8 3.8 35.2 2 9.2 2.1 1.1 2.1-0.8 2.1 0.4 2.1-3.2 2.2-1 2.1-1.8 2.1 0.1 2.2-0.7 4.3 4.4 6.4 3.9 4.3 6.1-6.8 4.3-2-15-2.2-0.5-2.3 6.8-4.3-2.4-4.3-4.4-2.1-0.4-2.2 1-2.1-0.6-2.1-1.8-4.2-1.9-2.1 0.3-2.1-1.6-2.1-0.1-4.1 1.2-2.1-3.3-4-22.8-2.1 12.7-2 4.7-2-1.3-2-2.3z" fill="url(#p0g182)" stroke="url(#p0g182)"/><path d="M331.7 165.7l4.2 7.1 4.4 2.6 6.5 8.7 2.3-0.1 2.2 1.2 2.3 0.1 2.2 1 2.4-1.2 11.6 0.5 2.2 2.2 2.4-0.1 6.9 5.9 2.5-0.4 2.3 2.2 2.4 1.4-7 15.1-7.1-4.2-2.4-0.2-4.8 1.7-4.6-2.6-2.3-2.1-2.4-0.2-2.2-2.1-2.3 0.2-4.8 4.6-4.3-5.9-2.3-1.1-4.4-5.3-2.1-4.5-6.4-10.7-2.1-6-2-15z" fill="url(#p0g183)" stroke="url(#p0g183)"/><path d="M386.1 195.4l2.4 1.4 4.8 0.3 2.4 1 2.4 1.9 2.5 0.4 2.4 1.7 2.4 0.9 2.6-1.2 2.5 1.1 5.1-1.8 2.6 0.3 4.9 4.1 2.3 4.6 2.6-0.3 2.6 1.2 2.6 0.3 2.5 1.1 2.7-1.1 5.4-0.9 5.1 3.8-7.3 21.6-2.6-0.9-7.7-4.3-2.7-0.4-5-3.2-2.6-0.9-2.6 0.4-5.1-1.7-2.6 0.7-2.5-0.1-2.5-0.7-2.5-1.7-2.5 0-7.3-3.7-2.5 0-7.1-5.9-4.7-3.1z" fill="url(#p0g184)" stroke="url(#p0g184)"/><path d="M446.4 212l2.5 2.2 2.7 0.4 2.7 1.4 2.5 2.1 2.7 0.7 2.6 3 2.7 1 2.8-0.9 3-2.4 2.8-0.4 5.8-2.3 3-1.8 8.2 5.1 2.7 2.9 2.6 4 2.9 0.3 2.8 1.4 2.8 2.1 6.1-2 3 0.3 2.8 1.5-7.2 21.1-3.4 3.9-5.5-5.5-2.8-1.4-3 0.2-2.7-3.2-2.9-0.2-2.8-1.1-3 0.7-3.1 4-2.9-0.5-2.7-1.9-5.6-0.6-2.5-4.3-2.8 0.6-2.6-4.2-2.8 1.1-5.5 0.3-8-3.4-5.3-1.3z" fill="url(#p0g185)" stroke="url(#p0g185)"/><path d="M513.3 229.1l5.7 3.3 3 0.4-7.3 21.4-5.8-2.5-3.4 3.9z" fill="url(#p0g186)" stroke="url(#p0g186)"/><path d="M48.9 122l1.3 0.4 3.6-0.5 1.1-2.5 2.3-1.5 2.6 1.7 1.3 0.1 1.3 0.9 1.4 1.7 1.2-1.1 2.4-0.9 1.2-1.2 4 1.7 1.4 2.4 1.4 0.3 1.3 1.4 4.3 6.2-7.9-9.3-1.3 0.4-2.7-2.1-5 2.3-1.2 1.3-1.3-0.4-1.2 0.9-2.5 0.6-2.7-2.4-1.1 1.4-3.8-0.2-2.5-1.4-5-1.6-1.4-1.6z" fill="url(#p0g187)" stroke="url(#p0g187)"/><path d="M79.6 128.7l2.9 5 1.4 1.3 3.9-0.2 2.5-3.1 5.5 1.3 1.4 1.4 1.4-0.8 1.5 2.7 2.8 0.9 4-1.5 1.3-3.2 2.8 0 2.9 1.6-7.2 2.9-5.8-3.7-7.1-2-1.3 0.1-1.4-0.8-2.8 0.1-5.8-8.1-1.4-0.3-1.3 0.7-1.4-0.6-1.3 0.2-1.4-1.4-3.9 1z" fill="url(#p0g188)" stroke="url(#p0g188)"/><path d="M112.4 133.3l1.5 0.8 1.5 2 3 2.5 1.5 0.8 4.2-1.1 1.4-1.6 1.5 0.9 1.4-1.3 4.7 5.1 1.4-0.7 1.7 3.8 4.6 4.8 3.1 1.1 1.5-0.8 3.1 0.9 1.5 1.1-7.6-9-4.7-0.8-1.4 1.2-4.6-1.1-1.5-1.2-3.2-4.7-1.7-4-1.5-0.5-1.6-2.2-2.8 2.3-1.5-0.2-1.3 2.9-1.4 0.8-1.3 2.4-2.9 0.8-1.3 1.5-1.4-0.4-1.6-2.4-1.4-0.6z" fill="url(#p0g189)" stroke="url(#p0g189)"/><path d="M148.5 150.5l3.1 2.5 3.3 4 3.1 2.2 1.6 0 1.6 1.8 1.6-0.3 1.5-1.3 1.6 0.5 1.6-1.2 4.7-0.1 1.6-1.1 4.9 0.7 3.3-0.2 1.7 1.4 1.6-0.9 3.3-0.6-7.3-1.1-1.7-0.3-1.7-1.8-1.6 0.8-1.7-0.1-1.6-1-1.6 1-1.6 2.6-1.6-0.8-3.2 1.9-3.3-2.3-3.4-7.5-1.6-0.1-1.6-0.9-3.3-3.5-1.6-0.1-1.5 0.7-1.6-1.6-1.6-0.3-1.5 1.4-1.6-2.3-1.6-0.4z" fill="url(#p0g190)" stroke="url(#p0g190)"/><path d="M186.9 158.1l1.7-0.2 1.7 0.8 1.7 1.9 3.5 5.6 1.7 1.4 1.8 3.2 3.5 1.3 1.7 2.3 1.7-0.6 1.8 0.3 1.6-2.3 3.5-2.7 1.7-3.4 3.5-2.4 1.8 0.7 1.8 2.4 3.3-21.7 1.8 1.2 1.8 0.5 1.9-1.2-7.3 0-1.8-2.1-3.7 0.7-3.2 20.4-3.7-2.5-1.7 3.4-1.7 0.5-3.5-0.1-3.5-0.9-1.8-2.5-1.8 0.2-1.7-0.6-3.5-3.7-1.7-1.1-3.5-1.2-3.3 1.3-3.4-0.5z" fill="url(#p0g191)" stroke="url(#p0g191)"/><path d="M228.5 146.4l1.9-1.2 1.8 0.2 1.8-1.5 1.8-11.1 1.7-15.9 1.7-21.8 2 10.5 2 17.4 2 11.7 9.6 10.5 2 1.2 3.9 0.3 1.9-1.1 2 0.4 2-3.6 5.9-2.8 4.1 4.5-7.2 10-2-7.9-2-3.8-2 6.2-2 3.6-2 0.5-1.9-2.7-2-5.1-2 2.6-1.9 7.9-3.9-2-1.9-2.6-3.9-3.6-3.8 0.2-1.9-0.5-2-6.7-2-10.7-3.5 14-1.9 3.1-1.8-1.6-1.9 0.2-1.8-2.1z" fill="url(#p0g192)" stroke="url(#p0g192)"/><path d="M274.6 141.8l2 2.3 2 1.3 2-4.7 2.1-12.7 4 22.8 2.1 3.3 4.1-1.2 2.1 0.1 2.1 1.6 2.1-0.3 4.2 1.9 2.1 1.8 2.1 0.6 2.2-1 2.1 0.4 4.3 4.4 4.3 2.4 2.3-6.8 2.2 0.5 2 15-7.1 9.5-6.4-10.4-6.3-17.4-2.2-2.2-2.1-1.1-4.4 7.4-4.3 10.2-2.2 2.9-2.1 1.5-2.1 0.4-8.2-12.3-2-1.3-4.1-1.1-2-1.1-2.1-4.4-2-7.9z" fill="url(#p0g193)" stroke="url(#p0g193)"/><path d="M325 158.5l2 15 2.1 6 6.4 10.7 2.1 4.5 4.4 5.3 2.3 1.1 4.3 5.9 4.8-4.6 2.3-0.2 2.2 2.1 2.4 0.2 2.3 2.1 4.6 2.6 4.8-1.7 2.4 0.2 7.1 4.2-6.8 5.3-4.7-4.7-2.2-3.9-2.5 1-2.4 0.1-2.4 1.1-2.3-0.9-7.1 0.2-4.6-0.6-2.3-2.2-2.1-4.9-4.1-21.9-2.5 9.1-2.4 4.6-2.2-1.4-2.2-2.6-2.2-1.3-4.4-5.4-2.2-0.5-2.1-2.9z" fill="url(#p0g194)" stroke="url(#p0g194)"/><path d="M379.1 210.3l4.7 3.1 7.1 5.9 2.5 0 7.3 3.7 2.5 0 2.5 1.7 2.5 0.7 2.5 0.1 2.6-0.7 5.1 1.7 2.6-0.4 2.6 0.9 5 3.2 2.7 0.4 7.7 4.3 2.6 0.9-5.9-2.9-5.4-0.4-7.7-6.5-2.6 0.3-2.6-1.4-2.6-0.1-2.7 0.9-2.3-4.2-5.1-2.7-2.5-0.6-2.5-2.7-10.3 5.6-5.1 3.9-4.9-1.5-7-8.9z" fill="url(#p0g195)" stroke="url(#p0g195)"/><path d="M439 234.9l5.3 1.3 8 3.4 5.5-0.3 2.8-1.1 2.6 4.2 2.8-0.6 2.5 4.3 5.6 0.6 2.7 1.9 2.9 0.5 3.1-4 3-0.7 2.8 1.1 2.9 0.2 2.7 3.2 3-0.2 2.8 1.4 5.5 5.5 3.4-3.9-5.8 1.6-3.3 4.1-5.8-3.1-5.8-2-2.9-0.1-2.6-4.6-2.8-2.5-2.8-1.5-2.6-4.3-5.5-3.5-2.8-0.9-2.9 1-5.9 3-2.6-3-2.8-0.5-2.8 0.3-5.4-1.2-5.3-2.7-2.8 1.1-2.7 0z" fill="url(#p0g196)" stroke="url(#p0g196)"/><path d="M505.5 255.6l3.4-3.9 5.8 2.5-5.7 1.6-5.9-2.5-3.3 4.1z" fill="url(#p0g197)" stroke="url(#p0g197)"/><path d="M41.4 119l1.4 1.6 5 1.6 2.5 1.4 3.8 0.2 1.1-1.4 2.7 2.4 2.5-0.6 1.2-0.9 1.3 0.4 1.2-1.3 5-2.3 2.7 2.1 1.3-0.4-7 6.1-1.3 0.2-1.4-1.5-2.6-0.5-4-2-3.9-1-1.4-0.9-6.4-2.3-1.3-0.9-2.5-0.2-1.3-0.7-6 1.1z" fill="url(#p0g198)" stroke="url(#p0g198)"/><path d="M71.8 122.2l3.9-1 1.4 1.4 1.3-0.2 1.4 0.6 1.3-0.7 1.4 0.3 5.8 8.1 2.8-0.1 1.4 0.8 1.3-0.1 7.1 2 5.8 3.7-7.4 0-4.3-0.8-12.5-1.3-2.8-1.8-1.4 0-5.5-2.8-1.3 0-5.4-2.4-1.3 0.2z" fill="url(#p0g199)" stroke="url(#p0g199)"/><path d="M105.3 136.4l1.4 0.6 1.6 2.4 1.4 0.4 1.3-1.5 2.9-0.8 1.3-2.4 1.4-0.8 1.3-2.9 1.5 0.2 2.8-2.3 1.6 2.2 1.5 0.5 1.7 4 3.2 4.7 1.5 1.2 4.6 1.1 1.4-1.2 4.7 0.8-7.4 2.5-3.1-1.3-1.5 0.2-6.1-2.3-1.5-0.1-7.6-3.2-2.9 0.4-5.9-1.2-4.3-0.3-1.5-0.8-2.8 0.5z" fill="url(#p0g200)" stroke="url(#p0g200)"/><path d="M140.8 142.2l1.6 0.4 1.6 2.3 1.5-1.4 1.6 0.3 1.6 1.6 1.5-0.7 1.6 0.1 3.3 3.5 1.6 0.9 1.6 0.1 3.4 7.5 3.3 2.3 3.2-1.9 1.6 0.8 1.6-2.6 1.6-1 1.6 1 1.7 0.1 1.6-0.8 1.7 1.8 1.7 0.3-7.3 2.2-3.4-2-1.7-1.9-1.7-0.1-1.7-1.9-9.9-5.4-3.2-0.2-1.7-1-1.5 0.5-3.2-0.2-1.6-0.5-4.7-0.3-3.1-1.2-1.6 0.3-1.5-0.4z" fill="url(#p0g201)" stroke="url(#p0g201)"/><path d="M179.6 156.5l3.4 0.5 3.3-1.3 3.5 1.2 1.7 1.1 3.5 3.7 1.7 0.6 1.8-0.2 1.8 2.5 3.5 0.9 3.5 0.1 1.7-0.5 1.7-3.4 3.7 2.5 3.2-20.4 3.7-0.7 1.8 2.1-7.6-14.3-1.6 9.7-1.9-0.2-1.8-1.5-1.6 14.8-0.9 44.1-7.2-8.7-14.4-20-3.5-2.6-1.7-0.5-1.7-2.9-6.9-5.3z" fill="url(#p0g202)" stroke="url(#p0g202)"/><path d="M221.3 143.1l1.8 2.1 1.9-0.2 1.8 1.6 1.9-3.1 3.5-14 2 10.7 2 6.7 1.9 0.5 3.8-0.2 3.9 3.6 1.9 2.6 3.9 2 1.9-7.9 2-2.6 2 5.1 1.9 2.7 2-0.5 2-3.6 2-6.2 2 3.8 2 7.9-7.2 2.8-2-6.8-2.1-13.6-2 9.1-1.9 4.2-6-0.4-1.9 0.8-2 1.8-1.9-0.5-2-2-2-2.6-1.9-4.5-2-1.3-3.8 0.9-1.9 1-1.9-0.7-1.9 0.4-1.9-7.2-2.1-12.1-2.2-18-4.9 35.2z" fill="url(#p0g203)" stroke="url(#p0g203)"/><path d="M267.4 146.2l2 7.9 2.1 4.4 2 1.1 4.1 1.1 2 1.3 8.2 12.3 2.1-0.4 2.1-1.5 2.2-2.9 4.3-10.2 4.4-7.4 2.1 1.1 2.2 2.2 6.3 17.4 6.4 10.4-7 0.7-6.5-6.6-6.5-9-2.1-4-2.1-1.7-4.3-0.6-2.2 1-2.1 2.3-6.3-1.7-4.2-2.9-2.1-3.2-4.1-3.8-4.1 0.9-2 3-2.1-0.5-2-6.8z" fill="url(#p0g204)" stroke="url(#p0g204)"/><path d="M317.8 180.1l2.1 2.9 2.2 0.5 4.4 5.4 2.2 1.3 2.2 2.6 2.2 1.4 2.4-4.6 2.5-9.1 4.1 21.9 2.1 4.9 2.3 2.2 4.6 0.6 7.1-0.2 2.3 0.9 2.4-1.1 2.4-0.1 2.5-1 2.2 3.9 4.7 4.7-6.5-3.8-2.5 2-2.4-1.5-2.4 0.6-2.4-0.9-2.4 0.1-4.8-1.4-2.2-2.8-2.4 0.4-4.6-3.5-2.4 0.8-2.2-3.5-2.3-0.2-6.8-5-4.5-1.7-2.2-3.5-2.2-0.5-2.2-4.3-6.6-6.7z" fill="url(#p0g205)" stroke="url(#p0g205)"/><path d="M372.4 214.6l7 8.9 4.9 1.5 5.1-3.9 10.3-5.6 2.5 2.7 2.5 0.6 5.1 2.7 2.3 4.2 2.7-0.9 2.6 0.1 2.6 1.4 2.6-0.3 7.7 6.5 5.4 0.4-6.3 0-2.5-3.4-2.6-2.4-5.4-0.7-2.7 0.5-2.8 2.5-5.2-0.3-7.8-2.4-2.4-3.2-2.5-0.6-2.6-1.4-2.5 0.2-4.9-3.6-2.6 0.1-4.9-3.2-4.9 0.4-2.5 0.8-2.4-2.8-2.5 2z" fill="url(#p0g206)" stroke="url(#p0g206)"/><path d="M433 232.9l2.7 0 2.8-1.1 5.3 2.7 5.4 1.2 2.8-0.3 2.8 0.5 2.6 3 5.9-3 2.9-1 2.8 0.9 5.5 3.5 2.6 4.3 2.8 1.5 2.8 2.5 2.6 4.6 2.9 0.1 5.8 2 5.8 3.1 3.3-4.1-5.1-7.2-3.2 1.4-5.7-5.2-3-0.4-3 0.6-2.7-3.5-3.1 0.9-2.8-2.5-2.8-1.4-2.8-2.2-2.8-1.1-2.9-0.4-3 1.5-2.9 0.5-2.9-0.1-2.9 2.3-5.6-1.5-2.9 2.3-5.7 1-5.3-2.6-5.1-6.2z" fill="url(#p0g207)" stroke="url(#p0g207)"/><path d="M499.8 257.4l3.3-4.1 3 1.1-5.6-1.6-2.5-6.7-3.2 1.4z" fill="url(#p0g208)" stroke="url(#p0g208)"/><path d="M34 119.2l6-1.1 1.3 0.7 2.5 0.2 1.3 0.9 6.4 2.3 1.4 0.9 3.9 1 4 2 2.6 0.5 1.4 1.5 1.3-0.2-3.9 53.8-5.2-1.7-1.3 0.2-2.6-1.2-3.7-0.3-1.4-1.3-2.5-0.4-9.9-3.3-1.3-1-2.4 0.1-1.2-1z" fill="url(#p0g209)" stroke="url(#p0g209)"/><path d="M64.8 128.1l1.3-0.2 5.4 2.4 1.3 0 5.5 2.8 1.4 0 2.8 1.8 12.5 1.3 4.3 0.8-4.8 49.2-4 1.2-1.5-0.7-1.3 0.6-6.8-0.5-1.3 0.5-1.4-1.2-5.4-0.9-5.3-2.1-1.3 0.1-2.7-1.5-2.6-0.5z" fill="url(#p0g210)" stroke="url(#p0g210)"/><path d="M97.8 137l2.8-0.5 1.5 0.8 4.3 0.3 5.9 1.2 2.9-0.4 7.6 3.2 1.5 0.1 6.1 2.3 1.5-0.2 3.1 1.3-5.9 36.1-5.9 1.1-1.5-0.2-3 1-2.7 3.7-2 17.2-2.3-16.1-1.6-1.7-2.9-0.9-2.8 0.5-1.5-0.5-2.8 1-1.4-0.6-1.3 0.9-4.2-0.2z" fill="url(#p0g211)" stroke="url(#p0g211)"/><path d="M133.5 144.7l1.5 0.4 1.6-0.3 3.1 1.2 4.7 0.3 1.6 0.5 3.2 0.2 1.5-0.5 1.7 1 3.2 0.2 9.9 5.4 1.7 1.9 1.7 0.1 1.7 1.9 3.4 2-7 16.5-1.6 0.1-1.6 1-1.7 0.1-1.6 0.9-4.8 1.1-1.6 2.1-4.6 4.3-9.2 5.6-9.6-9-1.6-0.5-1.5 0.3z" fill="url(#p0g212)" stroke="url(#p0g212)"/><path d="M172.3 157.8l6.9 5.3 1.7 2.9 1.7 0.5 3.5 2.6 14.4 20 7.2 8.7 0.9-44.1 1.6-14.8 1.8 1.5 1.9 0.2 1.6-9.7-6.1 71.3-1.8-0.2-5.2 8.7-3.5 4-12.8-23.4-1.7-2.3-10.6-10.4-1.7-0.3-5.1-2.8-1.6 0.1z" fill="url(#p0g213)" stroke="url(#p0g213)"/><path d="M213.9 140.6l4.9-35.2 2.2 18 2.1 12.1 1.9 7.2 1.9-0.4 1.9 0.7 1.9-1 3.8-0.9 2 1.3 1.9 4.5 2 2.6 2 2 1.9 0.5 2-1.8 1.9-0.8 6 0.4 1.9-4.2 2-9.1 2.1 13.6 2 6.8-7.1 49-2-0.9-4 1.4-2 0.2-3.6 27.3-2.1-15.8-3.8 4.3-1.9 3.1-1.9 0.8-5.7-8.6-7.6-7.5-11.1-8-1.8-0.2z" fill="url(#p0g214)" stroke="url(#p0g214)"/><path d="M260.2 150.1l2 6.8 2.1 0.5 2-3 4.1-0.9 4.1 3.8 2.1 3.2 4.2 2.9 6.3 1.7 2.1-2.3 2.2-1 4.3 0.6 2.1 1.7 2.1 4 6.5 9 6.5 6.6-7.5 29.2-2.2-1.1-4.3-4.1-2.2-1.3-2.2 0.1-4.3-0.9-8.5 0-2.1-0.8-2.1 0-4.1-1-8.3 0.5-2 0.9-2-0.1-6 0.8-2-0.9z" fill="url(#p0g215)" stroke="url(#p0g215)"/><path d="M310.7 181.8l6.6 6.7 2.2 4.3 2.2 0.5 2.2 3.5 4.5 1.7 6.8 5 2.3 0.2 2.2 3.5 2.4-0.8 4.6 3.5 2.4-0.4 2.2 2.8 4.8 1.4 2.4-0.1 2.4 0.9 2.4-0.6 2.4 1.5 2.5-2-7.4 18.8-4.9-1.1-2.3-1.4-2.4-0.7-5 5-9.4 1.4-7 2.1-6.5-21.1-2.3 2.9-2.3-0.2-2.2-1.2-2.3 0.2-6.6-3.1-2.2-2.1-2.2-1.1z" fill="url(#p0g216)" stroke="url(#p0g216)"/><path d="M365.7 215.4l2.5-2 2.4 2.8 2.5-0.8 4.9-0.4 4.9 3.2 2.6-0.1 4.9 3.6 2.5-0.2 2.6 1.4 2.5 0.6 2.4 3.2 7.8 2.4 5.2 0.3 2.8-2.5 2.7-0.5 5.4 0.7 2.6 2.4 2.5 3.4-7.2 14.3-2.7-0.3-2.6-1.5-2.7-0.2-7.9-3.4-2.6 0-2.6-1.6-2.6-0.7-2.5-1.7-2.6-0.1-2.6-0.8-5.6 12.1-2.5-2-4.8-8.4-4.9-2-2.5-0.5-2.4-1.4-9.8-3.1z" fill="url(#p0g217)" stroke="url(#p0g217)"/><path d="M426.9 229.5l5.1 6.2 5.3 2.6 5.7-1 2.9-2.3 5.6 1.5 2.9-2.3 2.9 0.1 2.9-0.5 3-1.5 2.9 0.4 2.8 1.1 2.8 2.2 2.8 1.4 2.8 2.5 3.1-0.9 2.7 3.5 3-0.6 3 0.4 5.7 5.2-8 27.3-3.9 12-11.8-2.6-2.8-1.7-2.9-0.5-2.8-1.6-2.9-0.8-1.8-15.9-2.5-6.7-2.9 0.2-8.4-2.3-2.7-2.4-2.8-0.7-2.8 0-5.4-2.8-2.8 0-2.7-1.1-5.4-1z" fill="url(#p0g218)" stroke="url(#p0g218)"/></g><path d="M84.1 137.0L80 187.0" stroke="#fff" stroke-width="2.1"/><path d="M258.0 202.5 261.0 201.2 266.3 199.4 268.9 195.5 272.4 198.1 277.7 198.6 282.0 201.2 285.5 205.6 279.4 205.6 273.3 207.8 265.4 210.4 261.0 208.2 258.0 204.5Z" fill="url(#blob)"/>
<path d="M18.6 18.8L32 189.3M32 189.3L490.5 357.4M490.5 357.4L590.3 272.4M31.1 177.7L37.7 177.3M29.3 154.3L35.9 153.9M27.4 130.5L34 130.1M25.5 106.4L32.1 106M23.5 81.8L30.1 81.4M21.6 56.9L28.2 56.5M19.6 31.6L26.2 31.2M52.8 196.9L57.1 195.5M74.6 204.8L78.9 203.4M97.5 213.3L101.8 211.8M121.7 222.1L126 220.6M147.2 231.5L151.5 229.8M174.1 241.4L178.5 239.6M202.7 251.8L207 250M233 263L237.3 261M265.2 274.8L269.4 272.7M299.4 287.3L303.6 285.1M336 300.7L340.1 298.3M375.1 315.1L379.1 312.5M416.9 330.4L420.8 327.7M461.9 346.9L465.6 343.9M508.2 342.3L500.6 339.6M535.4 319.2L528 316.8M559.8 298.4L552.7 296.2M582 279.5L575.1 277.5" stroke="#111" stroke-width="1.7" fill="none" stroke-linecap="round" stroke-linejoin="miter"/>
<g font-family="'Liberation Serif', serif" fill="#222" transform="translate(0 0)"><text x="6.2" y="36.8" font-size="12.8" text-anchor="middle">17</text><text x="8.7" y="62.2" font-size="12.8" text-anchor="middle">16</text><text x="10.5" y="87.3" font-size="12.8" text-anchor="middle">15</text><text x="12.4" y="112.2" font-size="12.8" text-anchor="middle">14</text><text x="14.2" y="135.9" font-size="12.8" text-anchor="middle">13</text><text x="16.4" y="159.7" font-size="12.8" text-anchor="middle">12</text><text x="18.3" y="182.7" font-size="12.8" text-anchor="middle">11</text><text x="60.7" y="210.7" font-size="12" text-anchor="middle">50</text><text x="104.4" y="227.8" font-size="12.2" text-anchor="middle">100</text><text x="155.9" y="247.8" font-size="13" text-anchor="middle">150</text><text x="213.4" y="271.3" font-size="14" text-anchor="middle">200</text><text x="280.4" y="295.2" font-size="15" text-anchor="middle">250</text><text x="355.6" y="324.4" font-size="16.4" text-anchor="middle">300</text><text x="441.7" y="357.5" font-size="16.6" text-anchor="middle">350</text><text x="536.2" y="352.4" font-size="17.2" text-anchor="middle">2005</text><text x="562.6" y="328.6" font-size="16.4" text-anchor="middle">2010</text><text x="585.5" y="306.9" font-size="15.5" text-anchor="middle">2015</text><text x="607" y="287.7" font-size="14.8" text-anchor="middle">2020</text><rect x="624.2" y="30.7" width="19" height="181.1" fill="url(#cb)"/><text x="666.6" y="35.5" font-size="14.5" text-anchor="middle">17.50</text><text x="666.6" y="61.4" font-size="14.5" text-anchor="middle">16.50</text><text x="666.6" y="87.2" font-size="14.5" text-anchor="middle">15.50</text><text x="666.6" y="113.1" font-size="14.5" text-anchor="middle">14.50</text><text x="666.6" y="139" font-size="14.5" text-anchor="middle">13.50</text><text x="666.6" y="164.8" font-size="14.5" text-anchor="middle">12.50</text><text x="666.6" y="190.7" font-size="14.5" text-anchor="middle">11.50</text><text x="666.6" y="216.6" font-size="14.5" text-anchor="middle">10.50</text></g><text font-family="'Liberation Serif', serif" fill="#222" font-size="19.3" transform="translate(146.9 262.6) rotate(21.5)">Jinsuozhen Station</text>
<path d="M19.6 449.4L153.5 432.2M153.5 432.2L612.1 489M153.5 432.2L158.5 580.8M612.1 489L589 701.1M32.3 618.4L158.5 580.8M158.5 580.8L589 701.1" stroke="#111" stroke-width="1.7" fill="none" stroke-linecap="round"/>
<defs><linearGradient id="p1g0" href="#cm" gradientTransform="matrix(8.6 1.9 -4.5 -151.3 171.2 586)"/><linearGradient id="p1g1" href="#cm" gradientTransform="matrix(9.2 2 -3.1 -156.1 202.3 594.7)"/><linearGradient id="p1g2" href="#cm" gradientTransform="matrix(9.8 2.1 -1.4 -161.1 235.6 604.1)"/><linearGradient id="p1g3" href="#cm" gradientTransform="matrix(10.6 2.3 0.4 -166.4 271.2 614.1)"/><linearGradient id="p1g4" href="#cm" gradientTransform="matrix(11.3 2.5 2.6 -172.1 309.3 624.8)"/><linearGradient id="p1g5" href="#cm" gradientTransform="matrix(12.2 2.6 5.1 -178.2 350.2 636.3)"/><linearGradient id="p1g6" href="#cm" gradientTransform="matrix(13.2 2.9 7.9 -184.7 394.3 648.7)"/><linearGradient id="p1g7" href="#cm" gradientTransform="matrix(14.3 3.1 11.3 -191.8 442 662.1)"/><linearGradient id="p1g8" href="#cm" gradientTransform="matrix(15.6 3.4 15.2 -199.4 493.6 676.6)"/><linearGradient id="p1g9" href="#cm" gradientTransform="matrix(17.1 3.7 19.8 -207.6 549.8 692.4)"/><linearGradient id="p1g10" href="#cm" gradientTransform="matrix(17.9 3.9 22.6 -212.4 582.3 701.5)"/><linearGradient id="p1g11" href="#cm" gradientTransform="matrix(8.6 1.9 -4.8 -152.3 165.6 587.7)"/><linearGradient id="p1g12" href="#cm" gradientTransform="matrix(9.2 2 -3.4 -157.1 196.8 596.6)"/><linearGradient id="p1g13" href="#cm" gradientTransform="matrix(9.9 2.2 -1.7 -162.1 230.1 606)"/><linearGradient id="p1g14" href="#cm" gradientTransform="matrix(10.6 2.3 0.1 -167.5 265.7 616.2)"/><linearGradient id="p1g15" href="#cm" gradientTransform="matrix(11.4 2.5 2.3 -173.3 303.9 627)"/><linearGradient id="p1g16" href="#cm" gradientTransform="matrix(12.3 2.7 4.8 -179.5 345 638.7)"/><linearGradient id="p1g17" href="#cm" gradientTransform="matrix(13.3 2.9 7.7 -186.1 389.2 651.3)"/><linearGradient id="p1g18" href="#cm" gradientTransform="matrix(14.4 3.2 11.1 -193.3 437 664.9)"/><linearGradient id="p1g19" href="#cm" gradientTransform="matrix(15.7 3.4 15 -201 488.9 679.7)"/><linearGradient id="p1g20" href="#cm" gradientTransform="matrix(17.2 3.8 19.7 -209.4 545.4 695.7)"/><linearGradient id="p1g21" href="#cm" gradientTransform="matrix(18 3.9 22.5 -214.2 578.1 705)"/><linearGradient id="p1g22" href="#cm" gradientTransform="matrix(8.6 1.9 -5.1 -153.2 159.9 589.4)"/><linearGradient id="p1g23" href="#cm" gradientTransform="matrix(9.2 2 -3.7 -158.1 191.2 598.4)"/><linearGradient id="p1g24" href="#cm" gradientTransform="matrix(9.9 2.2 -2 -163.2 224.5 608)"/><linearGradient id="p1g25" href="#cm" gradientTransform="matrix(10.6 2.3 -0.2 -168.7 260.2 618.3)"/><linearGradient id="p1g26" href="#cm" gradientTransform="matrix(11.4 2.5 2 -174.5 298.5 629.3)"/><linearGradient id="p1g27" href="#cm" gradientTransform="matrix(12.3 2.7 4.5 -180.8 339.6 641.2)"/><linearGradient id="p1g28" href="#cm" gradientTransform="matrix(13.3 3 7.4 -187.6 384 654)"/><linearGradient id="p1g29" href="#cm" gradientTransform="matrix(14.5 3.2 10.8 -194.8 432 667.8)"/><linearGradient id="p1g30" href="#cm" gradientTransform="matrix(15.8 3.5 14.8 -202.7 484.2 682.8)"/><linearGradient id="p1g31" href="#cm" gradientTransform="matrix(17.3 3.8 19.5 -211.2 540.9 699.2)"/><linearGradient id="p1g32" href="#cm" gradientTransform="matrix(18.2 4 22.4 -216.1 573.8 708.6)"/><linearGradient id="p1g33" href="#cm" gradientTransform="matrix(8.6 1.9 -5.4 -154.2 154.2 591.2)"/><linearGradient id="p1g34" href="#cm" gradientTransform="matrix(9.2 2.1 -4 -159.1 185.5 600.3)"/><linearGradient id="p1g35" href="#cm" gradientTransform="matrix(9.9 2.2 -2.4 -164.3 218.8 610.1)"/><linearGradient id="p1g36" href="#cm" gradientTransform="matrix(10.6 2.4 -0.5 -169.8 254.6 620.5)"/><linearGradient id="p1g37" href="#cm" gradientTransform="matrix(11.4 2.6 1.7 -175.8 292.9 631.7)"/><linearGradient id="p1g38" href="#cm" gradientTransform="matrix(12.3 2.8 4.2 -182.2 334.2 643.7)"/><linearGradient id="p1g39" href="#cm" gradientTransform="matrix(13.4 3 7.2 -189 378.7 656.7)"/><linearGradient id="p1g40" href="#cm" gradientTransform="matrix(14.5 3.3 10.6 -196.4 427 670.7)"/><linearGradient id="p1g41" href="#cm" gradientTransform="matrix(15.9 3.6 14.6 -204.4 479.3 686)"/><linearGradient id="p1g42" href="#cm" gradientTransform="matrix(17.4 3.9 19.4 -213 536.4 702.7)"/><linearGradient id="p1g43" href="#cm" gradientTransform="matrix(18.3 4.1 22.3 -218 569.5 712.3)"/><linearGradient id="p1g44" href="#cm" gradientTransform="matrix(8.6 2 -5.7 -155.2 148.4 593)"/><linearGradient id="p1g45" href="#cm" gradientTransform="matrix(9.2 2.1 -4.3 -160.1 179.7 602.2)"/><linearGradient id="p1g46" href="#cm" gradientTransform="matrix(9.9 2.2 -2.7 -165.4 213.1 612.1)"/><linearGradient id="p1g47" href="#cm" gradientTransform="matrix(10.6 2.4 -0.8 -171 248.9 622.7)"/><linearGradient id="p1g48" href="#cm" gradientTransform="matrix(11.5 2.6 1.4 -177.1 287.3 634)"/><linearGradient id="p1g49" href="#cm" gradientTransform="matrix(12.4 2.8 3.9 -183.5 328.7 646.2)"/><linearGradient id="p1g50" href="#cm" gradientTransform="matrix(13.4 3 6.9 -190.5 373.4 659.4)"/><linearGradient id="p1g51" href="#cm" gradientTransform="matrix(14.6 3.3 10.4 -198 421.8 673.7)"/><linearGradient id="p1g52" href="#cm" gradientTransform="matrix(15.9 3.6 14.4 -206.1 474.4 689.3)"/><linearGradient id="p1g53" href="#cm" gradientTransform="matrix(17.5 4 19.3 -214.9 531.7 706.2)"/><linearGradient id="p1g54" href="#cm" gradientTransform="matrix(18.4 4.2 22.2 -219.9 565 716)"/><linearGradient id="p1g55" href="#cm" gradientTransform="matrix(8.6 2 -6.1 -156.2 142.5 594.8)"/><linearGradient id="p1g56" href="#cm" gradientTransform="matrix(9.2 2.1 -4.7 -161.2 173.8 604.2)"/><linearGradient id="p1g57" href="#cm" gradientTransform="matrix(9.9 2.3 -3 -166.5 207.3 614.2)"/><linearGradient id="p1g58" href="#cm" gradientTransform="matrix(10.7 2.5 -1.1 -172.2 243.1 624.9)"/><linearGradient id="p1g59" href="#cm" gradientTransform="matrix(11.5 2.6 1.1 -178.3 281.6 636.4)"/><linearGradient id="p1g60" href="#cm" gradientTransform="matrix(12.4 2.9 3.6 -184.9 323.1 648.8)"/><linearGradient id="p1g61" href="#cm" gradientTransform="matrix(13.5 3.1 6.6 -192 367.9 662.2)"/><linearGradient id="p1g62" href="#cm" gradientTransform="matrix(14.7 3.4 10.1 -199.6 416.5 676.8)"/><linearGradient id="p1g63" href="#cm" gradientTransform="matrix(16 3.7 14.2 -207.8 469.4 692.6)"/><linearGradient id="p1g64" href="#cm" gradientTransform="matrix(17.6 4 19.1 -216.7 527 709.8)"/><linearGradient id="p1g65" href="#cm" gradientTransform="matrix(18.5 4.3 22.1 -221.9 560.5 719.8)"/><linearGradient id="p1g66" href="#cm" gradientTransform="matrix(8.6 2 -6.4 -157.2 136.6 596.7)"/><linearGradient id="p1g67" href="#cm" gradientTransform="matrix(9.3 2.2 -5 -162.2 167.9 606.1)"/><linearGradient id="p1g68" href="#cm" gradientTransform="matrix(9.9 2.3 -3.4 -167.7 201.4 616.3)"/><linearGradient id="p1g69" href="#cm" gradientTransform="matrix(10.7 2.5 -1.5 -173.4 237.3 627.2)"/><linearGradient id="p1g70" href="#cm" gradientTransform="matrix(11.5 2.7 0.7 -179.6 275.8 638.8)"/><linearGradient id="p1g71" href="#cm" gradientTransform="matrix(12.5 2.9 3.3 -186.3 317.4 651.5)"/><linearGradient id="p1g72" href="#cm" gradientTransform="matrix(13.5 3.2 6.3 -193.5 362.4 665.1)"/><linearGradient id="p1g73" href="#cm" gradientTransform="matrix(14.7 3.4 9.8 -201.2 411.2 679.9)"/><linearGradient id="p1g74" href="#cm" gradientTransform="matrix(16.1 3.8 14 -209.6 464.2 695.9)"/><linearGradient id="p1g75" href="#cm" gradientTransform="matrix(17.7 4.1 19 -218.7 522.2 713.5)"/><linearGradient id="p1g76" href="#cm" gradientTransform="matrix(18.6 4.3 22 -223.9 555.9 723.7)"/><linearGradient id="p1g77" href="#cm" gradientTransform="matrix(8.6 2 -6.8 -158.2 130.6 598.5)"/><linearGradient id="p1g78" href="#cm" gradientTransform="matrix(9.3 2.2 -5.4 -163.3 161.9 608.1)"/><linearGradient id="p1g79" href="#cm" gradientTransform="matrix(9.9 2.3 -3.7 -168.8 195.4 618.4)"/><linearGradient id="p1g80" href="#cm" gradientTransform="matrix(10.7 2.5 -1.8 -174.7 231.3 629.4)"/><linearGradient id="p1g81" href="#cm" gradientTransform="matrix(11.5 2.7 0.4 -181 270 641.3)"/><linearGradient id="p1g82" href="#cm" gradientTransform="matrix(12.5 3 3 -187.7 311.7 654.1)"/><linearGradient id="p1g83" href="#cm" gradientTransform="matrix(13.6 3.2 6 -195 356.8 668)"/><linearGradient id="p1g84" href="#cm" gradientTransform="matrix(14.8 3.5 9.6 -202.9 405.7 683)"/><linearGradient id="p1g85" href="#cm" gradientTransform="matrix(16.2 3.8 13.8 -211.4 459 699.4)"/><linearGradient id="p1g86" href="#cm" gradientTransform="matrix(17.8 4.2 18.8 -220.6 517.3 717.3)"/><linearGradient id="p1g87" href="#cm" gradientTransform="matrix(18.8 4.4 21.9 -226 551.2 727.7)"/><linearGradient id="p1g88" href="#cm" gradientTransform="matrix(8.6 2.1 -7.1 -159.2 124.4 600.4)"/><linearGradient id="p1g89" href="#cm" gradientTransform="matrix(9.3 2.2 -5.7 -164.4 155.8 610.1)"/><linearGradient id="p1g90" href="#cm" gradientTransform="matrix(9.9 2.4 -4.1 -170 189.3 620.6)"/><linearGradient id="p1g91" href="#cm" gradientTransform="matrix(10.7 2.6 -2.2 -175.9 225.3 631.8)"/><linearGradient id="p1g92" href="#cm" gradientTransform="matrix(11.6 2.8 0 -182.3 264 643.8)"/><linearGradient id="p1g93" href="#cm" gradientTransform="matrix(12.5 3 2.6 -189.2 305.8 656.8)"/><linearGradient id="p1g94" href="#cm" gradientTransform="matrix(13.6 3.3 5.7 -196.6 351.1 670.9)"/><linearGradient id="p1g95" href="#cm" gradientTransform="matrix(14.9 3.6 9.3 -204.5 400.2 686.2)"/><linearGradient id="p1g96" href="#cm" gradientTransform="matrix(16.3 3.9 13.5 -213.2 453.7 702.9)"/><linearGradient id="p1g97" href="#cm" gradientTransform="matrix(17.9 4.3 18.6 -222.6 512.3 721.1)"/><linearGradient id="p1g98" href="#cm" gradientTransform="matrix(18.9 4.5 21.7 -228.1 546.4 731.7)"/><linearGradient id="p1g99" href="#cm" gradientTransform="matrix(8.6 2.1 -7.5 -160.2 118.2 602.3)"/><linearGradient id="p1g100" href="#cm" gradientTransform="matrix(9.3 2.3 -6.1 -165.5 149.6 612.2)"/><linearGradient id="p1g101" href="#cm" gradientTransform="matrix(10 2.4 -4.5 -171.2 183.1 622.8)"/><linearGradient id="p1g102" href="#cm" gradientTransform="matrix(10.7 2.6 -2.5 -177.2 219.2 634.1)"/><linearGradient id="p1g103" href="#cm" gradientTransform="matrix(11.6 2.8 -0.3 -183.7 258 646.4)"/><linearGradient id="p1g104" href="#cm" gradientTransform="matrix(12.6 3.1 2.3 -190.6 299.9 659.6)"/><linearGradient id="p1g105" href="#cm" gradientTransform="matrix(13.7 3.3 5.4 -198.1 345.2 673.9)"/><linearGradient id="p1g106" href="#cm" gradientTransform="matrix(14.9 3.6 9 -206.2 394.5 689.4)"/><linearGradient id="p1g107" href="#cm" gradientTransform="matrix(16.4 4 13.3 -215.1 448.3 706.4)"/><linearGradient id="p1g108" href="#cm" gradientTransform="matrix(18 4.4 18.4 -224.6 507.2 725)"/><linearGradient id="p1g109" href="#cm" gradientTransform="matrix(19 4.6 21.6 -230.2 541.5 735.8)"/><linearGradient id="p1g110" href="#cm" gradientTransform="matrix(8.6 2.1 -7.9 -161.3 112 604.3)"/><linearGradient id="p1g111" href="#cm" gradientTransform="matrix(9.3 2.3 -6.5 -166.6 143.3 614.3)"/><linearGradient id="p1g112" href="#cm" gradientTransform="matrix(10 2.5 -4.8 -172.4 176.9 625)"/><linearGradient id="p1g113" href="#cm" gradientTransform="matrix(10.7 2.6 -2.9 -178.5 212.9 636.5)"/><linearGradient id="p1g114" href="#cm" gradientTransform="matrix(11.6 2.9 -0.7 -185 251.8 649)"/><linearGradient id="p1g115" href="#cm" gradientTransform="matrix(12.6 3.1 1.9 -192.1 293.8 662.4)"/><linearGradient id="p1g116" href="#cm" gradientTransform="matrix(13.7 3.4 5 -199.7 339.3 676.9)"/><linearGradient id="p1g117" href="#cm" gradientTransform="matrix(15 3.7 8.7 -208 388.8 692.8)"/><linearGradient id="p1g118" href="#cm" gradientTransform="matrix(16.4 4.1 13 -216.9 442.8 710)"/><linearGradient id="p1g119" href="#cm" gradientTransform="matrix(18.1 4.5 18.2 -226.7 502 729)"/><linearGradient id="p1g120" href="#cm" gradientTransform="matrix(19.1 4.7 21.4 -232.4 536.6 740)"/><linearGradient id="p1g121" href="#cm" gradientTransform="matrix(8.6 2.2 -8.3 -162.4 105.6 606.2)"/><linearGradient id="p1g122" href="#cm" gradientTransform="matrix(9.3 2.3 -6.9 -167.8 136.9 616.4)"/><linearGradient id="p1g123" href="#cm" gradientTransform="matrix(10 2.5 -5.2 -173.6 170.5 627.3)"/><linearGradient id="p1g124" href="#cm" gradientTransform="matrix(10.8 2.7 -3.3 -179.8 206.6 639)"/><linearGradient id="p1g125" href="#cm" gradientTransform="matrix(11.6 2.9 -1.1 -186.4 245.6 651.6)"/><linearGradient id="p1g126" href="#cm" gradientTransform="matrix(12.6 3.2 1.6 -193.6 287.6 665.2)"/><linearGradient id="p1g127" href="#cm" gradientTransform="matrix(13.8 3.4 4.7 -201.4 333.3 680)"/><linearGradient id="p1g128" href="#cm" gradientTransform="matrix(15.1 3.8 8.4 -209.8 383 696.1)"/><linearGradient id="p1g129" href="#cm" gradientTransform="matrix(16.5 4.1 12.7 -218.9 437.2 713.7)"/><linearGradient id="p1g130" href="#cm" gradientTransform="matrix(18.2 4.6 18 -228.8 496.8 733)"/><linearGradient id="p1g131" href="#cm" gradientTransform="matrix(19.3 4.8 21.3 -234.6 531.5 744.3)"/><linearGradient id="p1g132" href="#cm" gradientTransform="matrix(8.6 2.2 -8.7 -163.4 99.1 608.2)"/><linearGradient id="p1g133" href="#cm" gradientTransform="matrix(9.3 2.4 -7.3 -168.9 130.5 618.5)"/><linearGradient id="p1g134" href="#cm" gradientTransform="matrix(10 2.5 -5.6 -174.8 164.1 629.6)"/><linearGradient id="p1g135" href="#cm" gradientTransform="matrix(10.8 2.7 -3.7 -181.1 200.2 641.4)"/><linearGradient id="p1g136" href="#cm" gradientTransform="matrix(11.7 3 -1.5 -187.9 239.2 654.3)"/><linearGradient id="p1g137" href="#cm" gradientTransform="matrix(12.7 3.2 1.2 -195.2 281.4 668.1)"/><linearGradient id="p1g138" href="#cm" gradientTransform="matrix(13.8 3.5 4.3 -203 327.2 683.2)"/><linearGradient id="p1g139" href="#cm" gradientTransform="matrix(15.1 3.8 8 -211.6 377 699.6)"/><linearGradient id="p1g140" href="#cm" gradientTransform="matrix(16.6 4.2 12.5 -220.8 431.5 717.5)"/><linearGradient id="p1g141" href="#cm" gradientTransform="matrix(18.4 4.7 17.8 -230.9 491.4 737.2)"/><linearGradient id="p1g142" href="#cm" gradientTransform="matrix(19.4 4.9 21.1 -236.8 526.3 748.6)"/><linearGradient id="p1g143" href="#cm" gradientTransform="matrix(8.6 2.2 -9.1 -164.5 92.6 610.2)"/><linearGradient id="p1g144" href="#cm" gradientTransform="matrix(9.3 2.4 -7.7 -170.1 123.9 620.7)"/><linearGradient id="p1g145" href="#cm" gradientTransform="matrix(10 2.6 -6.1 -176.1 157.5 631.9)"/><linearGradient id="p1g146" href="#cm" gradientTransform="matrix(10.8 2.8 -4.2 -182.4 193.7 643.9)"/><linearGradient id="p1g147" href="#cm" gradientTransform="matrix(11.7 3 -1.9 -189.3 232.7 657)"/><linearGradient id="p1g148" href="#cm" gradientTransform="matrix(12.7 3.3 0.8 -196.7 275 671.1)"/><linearGradient id="p1g149" href="#cm" gradientTransform="matrix(13.9 3.6 3.9 -204.7 320.9 686.4)"/><linearGradient id="p1g150" href="#cm" gradientTransform="matrix(15.2 3.9 7.7 -213.4 371 703.1)"/><linearGradient id="p1g151" href="#cm" gradientTransform="matrix(16.7 4.3 12.1 -222.8 425.7 721.3)"/><linearGradient id="p1g152" href="#cm" gradientTransform="matrix(18.5 4.7 17.5 -233.1 485.9 741.4)"/><linearGradient id="p1g153" href="#cm" gradientTransform="matrix(19.5 5 20.9 -239.1 521 753.1)"/><linearGradient id="p1g154" href="#cm" gradientTransform="matrix(8.6 2.3 -9.5 -165.6 85.9 612.3)"/><linearGradient id="p1g155" href="#cm" gradientTransform="matrix(9.3 2.4 -8.1 -171.3 117.3 622.9)"/><linearGradient id="p1g156" href="#cm" gradientTransform="matrix(10 2.6 -6.5 -177.3 150.9 634.2)"/><linearGradient id="p1g157" href="#cm" gradientTransform="matrix(10.8 2.8 -4.6 -183.8 187.1 646.5)"/><linearGradient id="p1g158" href="#cm" gradientTransform="matrix(11.7 3.1 -2.3 -190.8 226.2 659.7)"/><linearGradient id="p1g159" href="#cm" gradientTransform="matrix(12.7 3.3 0.3 -198.3 268.5 674.1)"/><linearGradient id="p1g160" href="#cm" gradientTransform="matrix(13.9 3.6 3.5 -206.4 314.6 689.6)"/><linearGradient id="p1g161" href="#cm" gradientTransform="matrix(15.2 4 7.3 -215.3 364.8 706.6)"/><linearGradient id="p1g162" href="#cm" gradientTransform="matrix(16.8 4.4 11.8 -224.9 419.8 725.2)"/><linearGradient id="p1g163" href="#cm" gradientTransform="matrix(18.6 4.8 17.3 -235.3 480.2 745.7)"/><linearGradient id="p1g164" href="#cm" gradientTransform="matrix(19.7 5.1 20.7 -241.4 515.6 757.6)"/><linearGradient id="p1g165" href="#cm" gradientTransform="matrix(8.6 2.3 -9.9 -166.8 79.2 614.4)"/><linearGradient id="p1g166" href="#cm" gradientTransform="matrix(9.3 2.5 -8.6 -172.5 110.5 625.1)"/><linearGradient id="p1g167" href="#cm" gradientTransform="matrix(10 2.6 -6.9 -178.6 144.1 636.7)"/><linearGradient id="p1g168" href="#cm" gradientTransform="matrix(10.8 2.9 -5 -185.2 180.4 649.1)"/><linearGradient id="p1g169" href="#cm" gradientTransform="matrix(11.7 3.1 -2.8 -192.3 219.5 662.5)"/><linearGradient id="p1g170" href="#cm" gradientTransform="matrix(12.8 3.4 -0.1 -199.9 262 677.1)"/><linearGradient id="p1g171" href="#cm" gradientTransform="matrix(14 3.7 3.1 -208.2 308.1 692.9)"/><linearGradient id="p1g172" href="#cm" gradientTransform="matrix(15.3 4.1 6.9 -217.2 358.5 710.2)"/><linearGradient id="p1g173" href="#cm" gradientTransform="matrix(16.9 4.5 11.5 -226.9 413.7 729.2)"/><linearGradient id="p1g174" href="#cm" gradientTransform="matrix(18.7 5 17 -237.6 474.5 750.1)"/><linearGradient id="p1g175" href="#cm" gradientTransform="matrix(19.8 5.2 20.5 -243.8 510.1 762.3)"/><linearGradient id="p1g176" href="#cm" gradientTransform="matrix(8.6 2.3 -10.4 -167.9 72.4 616.5)"/><linearGradient id="p1g177" href="#cm" gradientTransform="matrix(9.3 2.5 -9 -173.7 103.7 627.4)"/><linearGradient id="p1g178" href="#cm" gradientTransform="matrix(10 2.7 -7.4 -179.9 137.3 639.1)"/><linearGradient id="p1g179" href="#cm" gradientTransform="matrix(10.8 2.9 -5.5 -186.6 173.5 651.7)"/><linearGradient id="p1g180" href="#cm" gradientTransform="matrix(11.8 3.2 -3.2 -193.8 212.7 665.4)"/><linearGradient id="p1g181" href="#cm" gradientTransform="matrix(12.8 3.4 -0.5 -201.6 255.3 680.2)"/><linearGradient id="p1g182" href="#cm" gradientTransform="matrix(14 3.8 2.7 -210 301.5 696.3)"/><linearGradient id="p1g183" href="#cm" gradientTransform="matrix(15.4 4.1 6.5 -219.1 352.1 713.9)"/><linearGradient id="p1g184" href="#cm" gradientTransform="matrix(17 4.6 11.1 -229 407.6 733.3)"/><linearGradient id="p1g185" href="#cm" gradientTransform="matrix(18.8 5.1 16.7 -239.9 468.7 754.6)"/><linearGradient id="p1g186" href="#cm" gradientTransform="matrix(19.9 5.4 20.2 -246.3 504.4 767)"/><linearGradient id="p1g187" href="#cm" gradientTransform="matrix(8.6 2.4 -10.8 -169.1 65.4 618.6)"/><linearGradient id="p1g188" href="#cm" gradientTransform="matrix(9.3 2.5 -9.5 -174.9 96.7 629.7)"/><linearGradient id="p1g189" href="#cm" gradientTransform="matrix(10 2.7 -7.9 -181.3 130.3 641.6)"/><linearGradient id="p1g190" href="#cm" gradientTransform="matrix(10.8 3 -6 -188 166.6 654.4)"/><linearGradient id="p1g191" href="#cm" gradientTransform="matrix(11.8 3.2 -3.7 -195.3 205.9 668.3)"/><linearGradient id="p1g192" href="#cm" gradientTransform="matrix(12.8 3.5 -1 -203.2 248.4 683.3)"/><linearGradient id="p1g193" href="#cm" gradientTransform="matrix(14 3.8 2.2 -211.8 294.8 699.8)"/><linearGradient id="p1g194" href="#cm" gradientTransform="matrix(15.4 4.2 6.1 -221 345.6 717.7)"/><linearGradient id="p1g195" href="#cm" gradientTransform="matrix(17 4.7 10.8 -231.2 401.3 737.4)"/><linearGradient id="p1g196" href="#cm" gradientTransform="matrix(18.9 5.2 16.4 -242.3 462.7 759.1)"/><linearGradient id="p1g197" href="#cm" gradientTransform="matrix(20.1 5.5 20 -248.7 498.7 771.9)"/><linearGradient id="p1g198" href="#cm" gradientTransform="matrix(8.6 2.4 -11.3 -170.2 58.4 620.8)"/><linearGradient id="p1g199" href="#cm" gradientTransform="matrix(9.3 2.6 -10 -176.2 89.7 632)"/><linearGradient id="p1g200" href="#cm" gradientTransform="matrix(10 2.8 -8.4 -182.6 123.3 644.1)"/><linearGradient id="p1g201" href="#cm" gradientTransform="matrix(10.8 3 -6.5 -189.5 159.6 657.1)"/><linearGradient id="p1g202" href="#cm" gradientTransform="matrix(11.8 3.3 -4.2 -196.9 198.8 671.2)"/><linearGradient id="p1g203" href="#cm" gradientTransform="matrix(12.9 3.6 -1.5 -204.9 241.5 686.6)"/><linearGradient id="p1g204" href="#cm" gradientTransform="matrix(14.1 3.9 1.8 -213.6 288 703.3)"/><linearGradient id="p1g205" href="#cm" gradientTransform="matrix(15.5 4.3 5.7 -223 338.9 721.5)"/><linearGradient id="p1g206" href="#cm" gradientTransform="matrix(17.1 4.8 10.4 -233.4 394.8 741.6)"/><linearGradient id="p1g207" href="#cm" gradientTransform="matrix(19 5.3 16.1 -244.7 456.6 763.8)"/><linearGradient id="p1g208" href="#cm" gradientTransform="matrix(20.2 5.6 19.6 -251 491.4 776.3)"/><linearGradient id="p1g209" href="#cm" gradientTransform="matrix(8.6 2.4 -11.8 -171.4 51.3 623)"/><linearGradient id="p1g210" href="#cm" gradientTransform="matrix(9.3 2.6 -10.5 -177.5 82.5 634.4)"/><linearGradient id="p1g211" href="#cm" gradientTransform="matrix(10 2.8 -8.9 -184 116.1 646.6)"/><linearGradient id="p1g212" href="#cm" gradientTransform="matrix(10.8 3.1 -7 -190.9 152.4 659.9)"/><linearGradient id="p1g213" href="#cm" gradientTransform="matrix(11.8 3.3 -4.7 -198.5 191.7 674.2)"/><linearGradient id="p1g214" href="#cm" gradientTransform="matrix(12.9 3.6 -2 -206.6 234.5 689.8)"/><linearGradient id="p1g215" href="#cm" gradientTransform="matrix(14.1 4 1.3 -215.5 281.1 706.8)"/><linearGradient id="p1g216" href="#cm" gradientTransform="matrix(15.6 4.4 5.2 -225.1 332.1 725.5)"/><linearGradient id="p1g217" href="#cm" gradientTransform="matrix(17.2 4.9 10 -235.6 388.3 746)"/><linearGradient id="p1g218" href="#cm" gradientTransform="matrix(19.1 5.4 15.6 -246.9 449 768.1)"/></defs><g stroke-width="0.6" stroke-linejoin="round"><path d="M156.2 513.7l2.5 0.1 2.5 0.8 1.2-1.6 3.8 2.1 1.3-0.5 10.3 5.8 1.4 2.7 1.2-2.6 1.3-0.6 1.4 1 1.3 0.3 2.7 3.3 1.3 0.8-5.6 1.8-1.3 0.5-1.4-0.7-1.2 2.4-1.3-0.8-1.3 1.6-2.6-0.4-2.6-1.7-2.7-3.4-2.6-1.5-4.9 4.2-1.2 0.6-2.6-1-2.6-5-2.6-3.3-1.3-0.7z" fill="url(#p1g0)" stroke="url(#p1g0)"/><path d="M187.1 524.5l1.3 0.8 2.7 0.4 1.2-2 1.4 0.9 5.3-2.1 2.7 1.3 2.8 0 1.4 1.4 1.3 0.3 1.4 1.5 1.4 0.4 1.4-0.7 1.4 0.8 1.4-0.5 1.4 0.1 2.7-2.4 1.5 1 1.4-0.7-5.6 8-1.4 1-1.4-0.8-2.8-0.5-1.4-1.9-1.4 0.2-1.4-0.9-1.4 1.7-1.3 0.4-1.4-0.8-1.4 2.1-1.3 0-2.8-3.1-1.4-0.7-1.4-2.3-4-0.3-2.6 1.2-2.7-2-2.6 1.3z" fill="url(#p1g1)" stroke="url(#p1g1)"/><path d="M219.8 525.7l2.8-2 2.8 3.7 1.5 0.7 1.4 2.5 5.8-2.2 2.9 3.4 4.4 3.4 1.5 0.1 3-1.7 1.4-1.5 1.5 0 3-1.8 1.5 0.8 3.1 0.5-5.6 12.6-3-5-3-3.5-3-2-4.5 0-1.5-1.2-1.4 2.8-1.5-0.6-4.3 5.5-2.9-1.4-1.5-1.3-4.3-5.8-2.9 0.4-2.8 1.9z" fill="url(#p1g2)" stroke="url(#p1g2)"/><path d="M254.9 531.6l1.5 0 3 2.1 1.5-0.8 1.6 2 1.5-0.4 4.7 3.6 1.5 0.1 4.7 4.6 1.6-0.3 4.7 1.4 1.6-2.2 1.6 1 1.6-0.7 1.6 0.3 1.6-0.8 3.2 3.2 1.6 3-5.5 6.5-3.2-3.4-1.6-3.2-1.6-1-4.8 0.2-3.2 1.6-1.6-0.2-1.6 1.2-4.7-2.3-1.5 1.1-1.6-0.5-1.5 0.4-1.6 1.3-1.5 0.4-3.1-2.3-1.5 0.2-3.1-3.5-1.5-2.5z" fill="url(#p1g3)" stroke="url(#p1g3)"/><path d="M292.4 544.7l1.6 3 1.7-0.1 1.6 1.9 3.3-1.3 1.6 1.2 3.4-1.5 1.6 0.4 1.7-0.5 3.4-1.7 3.4 0.1 3.4 3.1 3.4 1.1 5.1 3.3 3.5-1.7 1.7 1 1.8-1.1-5.6 11.6-1.8 1.6-3.4-2.8-1.8-0.2-3.5 2.9-3.4-2.3-3.3-5-1.7-0.8-1.7-1.9-1.7 2.2-1.6-1.5-1.8 2.4-1.6 1-1.7-1.7-3.3 0.9-3.3-0.8-3.3-1.7-3.2-3.3z" fill="url(#p1g4)" stroke="url(#p1g4)"/><path d="M332.8 553l3.6-1.9 5.2 4.3 3.4 5.6 1.8 2.1 1.8 0.8 3.5 1.3 1.8 0.1 1.9-1.4 1.9-0.6 1.8 0.4 3.6 2 3.6 2.7 1.9-0.5 3.7 2.1 3.8-2.1 1.9 1.8-5.1-2.8-2 1.8-3.8 0-1.9 1.9-1.9-0.4-1.9 0.8-3.7 0.3-1.9 2-3.7 0.6-3.6-0.6-1.8-3.1-1.8 0-3.5-3-1.8 0.4-1.8-0.8-1.8 0.9-1.8 0.2-1.7-2.6-1.8 0.6-1.7-2.4-1.8 1.6z" fill="url(#p1g5)" stroke="url(#p1g5)"/><path d="M376.1 567.9l1.9 1.8 3.8-0.4 3.7 2.1 1.9 2.7 1.9 0.2 1.9 1 1.9 0 4-2.2 4-1 1.9 1.9 2 0.1 2 1 2 0.2 4-0.8 2 0.5 2.1-0.2 3.8 4.3 2.1 0.4 1.9 2.7-5.1 3-2.1 0.3-2.1 1-4-2.3-4-0.5-2.1 1.6-2.1 0.5-2 1.7-4.1 1.5-5.8-3.2-1.8-2.9-5.7-3.7-7.4-8.3-1.8-2.9-1.9-1.1-2 1.8z" fill="url(#p1g6)" stroke="url(#p1g6)"/><path d="M423 579.5l3.8 5.6 2 1.6 3.9 4.3 4.2-0.5 2 2.2 2 1.3 2.2-1.7 2.1 1.8 2.2-2.3 4.4-1.5 2.2 0.2 2.3-2.2 4.4-0.4 2.1 1.3 4.5-2.5 6.8-0.5 2.2 0.6-6.1 20.9-2.3 1.1-2.2-0.4-4.6 1.2-2.1-1.7-2.2 0-2-2.9-5.9-10.8-2.1-0.3-2-2.4-4.4 2-2.1-1.2-4.5 4-2.1 0.7-4.2-1.3-1.8-4.5-2-1.5-1.9-3.7-2-0.8-2.1 0.3z" fill="url(#p1g7)" stroke="url(#p1g7)"/><path d="M474.1 586.2l2.2 0.6 2.1 1.4 2.1 2.5 2.2 0.8 2.1 2.8 2.2 0.9 2.2 1.7 2.3 0 4.4 2.2 2.5-1.4 2.3 0.1 4.2 6.3 2.2 2 2 4 2.3 1.8 2.3 1 4.8-0.4 2.5-1.2 4.9-1 2.4 0.1 2.6-1.9-5.2 10.8-2.1-3.9-2.4-1-2.5 0.4-2.4-0.3-4.6-2-2.5 1.2-4.7-1.5-4.8 0.7-2.2-2-4.5-2.6-2.2-1.9-4.6 0.4-2.2-1.6-2.4 1.9-2.3-0.7-4.6 1-2.3 1.2-2.2-0.9-2.3 1.1z" fill="url(#p1g8)" stroke="url(#p1g8)"/><path d="M528.3 610.4l2.6-1.9 5 0 7.6-2.3 2.4 1.7 5 0.8 2.5-0.2 2.4 1.3 2.6 0.4 2.6-0.4 2.5 0.4 4.9 2.8 2.6 0 2.3 2.8 5.3 0.2 2.8-1.1 5.1 2.2 2.2 3.8 2.4 3-6.2 22.2-4.8-5.2-2.6-0.9-2.5-2-5-2.6-2.3-3.1-5-2.9-5-1.1-5.2-0.3-7.3-3.7-2.3-2.1-2.6 1.2-2.6 0.2-2.6 1-4.9-0.1-2.1-4.7-2.4-0.5-2.1-3.9z" fill="url(#p1g9)" stroke="url(#p1g9)"/><path d="M588.7 620.9l2.4 3 2.6 1 2.3 3.8-6.2 21.5-2.4-2.8-2.5-1.3-2.4-2.5z" fill="url(#p1g10)" stroke="url(#p1g10)"/><path d="M150.6 517.9l1.3 0.7 2.6 3.3 2.6 5 2.6 1 1.2-0.6 4.9-4.2 2.6 1.5 2.7 3.4 2.6 1.7 2.6 0.4 1.3-1.6 1.3 0.8 1.2-2.4 1.4 0.7 1.3-0.5-5.8-0.5-1.4-1.6-2.6-1.2-2.7-0.1-2.5 0.7-2.7-1.4-1.2 0.7-3.9-2.5-1.3 0.1-3.9-2.3-1.2 0.5-1.3-1.3-1.3-0.3-1.2 0.8-1.3-0.7-1.2 1-1.2 0-1.2 0.7z" fill="url(#p1g11)" stroke="url(#p1g11)"/><path d="M181.5 527.6l2.6-1.3 2.7 2 2.6-1.2 4 0.3 1.4 2.3 1.4 0.7 2.8 3.1 1.3 0 1.4-2.1 1.4 0.8 1.3-0.4 1.4-1.7 1.4 0.9 1.4-0.2 1.4 1.9 2.8 0.5 1.4 0.8 1.4-1-5.7-1.2-1.4 0.2-1.4 1.4-1.4 2.6-1.4-0.1-1.3 1.7-2.8 0.6-1.4-0.2-1.3 0.8-1.5-2.4-2.8-3-1.4-2.8-2.8-3.8-8 3.2-1.3-0.1-4.1-4.9z" fill="url(#p1g12)" stroke="url(#p1g12)"/><path d="M214.2 534l2.8-1.9 2.9-0.4 4.3 5.8 1.5 1.3 2.9 1.4 4.3-5.5 1.5 0.6 1.4-2.8 1.5 1.2 4.5 0 3 2 3 3.5 3 5-5.6-0.6-3 2.1-3 0.4-1.5-1.5-3.1-5.4-1.5-0.4-3-3.5-1.4 0.6-1.5-1.3-1.5-0.4-1.4 0.3-2.9 3.2-1.4-0.5-2.9 0.2-4.4-6.6-1.4-0.3-1.4 1.3-1.4 0.2z" fill="url(#p1g13)" stroke="url(#p1g13)"/><path d="M249.3 541.7l1.5 2.5 3.1 3.5 1.5-0.2 3.1 2.3 1.5-0.4 1.6-1.3 1.5-0.4 1.6 0.5 1.5-1.1 4.7 2.3 1.6-1.2 1.6 0.2 3.2-1.6 4.8-0.2 1.6 1 1.6 3.2 3.2 3.4-5.5 0.1-3.3 1.6-1.6 1.4-1.6-0.9-1.6-0.1-1.6-1.2-3.2-6.2-1.6-0.7-3.2-2.7-4.7-1.3-1.6-2.3-3.1-1.2-1.5-1.7-3.1 0.3-3.1 1.3-1.5 1.9-3 2z" fill="url(#p1g14)" stroke="url(#p1g14)"/><path d="M286.9 552.5l3.2 3.3 3.3 1.7 3.3 0.8 3.3-0.9 1.7 1.7 1.6-1 1.8-2.4 1.6 1.5 1.7-2.2 1.7 1.9 1.7 0.8 3.3 5 3.4 2.3 3.5-2.9 1.8 0.2 3.4 2.8 1.8-1.6-5.3-7-3.4-3.2-1.8-0.1-1.7-1.4-1.8 0.5-1.7-0.2-1.8 2.5-1.7-0.1-1.7 1.7-1.7-1-1.8 1.1-1.7-1-3.4 0.6-3.3 2.7-3.4-0.5-1.6 0.6-1.7-2.3-1.6-3.7-1.7 0.7-1.6-0.6-1.6 1.5-1.7 0.6z" fill="url(#p1g15)" stroke="url(#p1g15)"/><path d="M327.2 565.1l1.8-1.6 1.7 2.4 1.8-0.6 1.7 2.6 1.8-0.2 1.8-0.9 1.8 0.8 1.8-0.4 3.5 3 1.8 0 1.8 3.1 3.6 0.6 3.7-0.6 1.9-2 3.7-0.3 1.9-0.8 1.9 0.4 1.9-1.9 3.8 0 2-1.8-5.6 9.1-1.9-1.1-1.9-0.1-1.8-1.6-1.9-0.2-1.8-2.9-3.7-1.8-3.7 1.2-1.9 2.2-3.8 2.4-1.8 0.1-3.6-2.8-5.2-6.8-3.6-2.2-1.8-0.4-6.9-7.1z" fill="url(#p1g16)" stroke="url(#p1g16)"/><path d="M370.9 568.7l2-1.8 1.9 1.1 1.8 2.9 7.4 8.3 5.7 3.7 1.8 2.9 5.8 3.2 4.1-1.5 2-1.7 2.1-0.5 2.1-1.6 4 0.5 4 2.3 2.1-1 2.1-0.3-5.4 7.6-2.1 0-2-1.1-5.9-6.4-2 0.3-2-1.1-1.9-2.6-4 0.2-2.1 1-1.9-0.7-2.1 1.4-3.8-2.8-2-0.1-1.9-2.2-3.8-2.1-1.9 0.6-3.9-1.3-1.9 0.8-3.8-1.8z" fill="url(#p1g17)" stroke="url(#p1g17)"/><path d="M417.7 585.5l2.1-0.3 2 0.8 1.9 3.7 2 1.5 1.8 4.5 4.2 1.3 2.1-0.7 4.5-4 2.1 1.2 4.4-2 2 2.4 2.1 0.3 5.9 10.8 2 2.9 2.2 0 2.1 1.7 4.6-1.2 2.2 0.4 2.3-1.1-4.7-0.6-2.2-1.7-2.2-0.1-2.1-2.6-6.6-0.8-2.1-1.2-4.3-2.7-2-2.2-2.1-1.2-2.1-2.7-2.1-0.2-2-2.9-4.2-2.1-6.3-0.6-2.3 2.8-8.5 3.9-2.1 0z" fill="url(#p1g18)" stroke="url(#p1g18)"/><path d="M467.9 608.8l2.3-1.1 2.2 0.9 2.3-1.2 4.6-1 2.3 0.7 2.4-1.9 2.2 1.6 4.6-0.4 2.2 1.9 4.5 2.6 2.2 2 4.8-0.7 4.7 1.5 2.5-1.2 4.6 2 2.4 0.3 2.5-0.4 2.4 1 2.1 3.9-4.2-2.9-4.8-0.6-2.4-1.2-2.5 0.7-2.4-0.7-2.3-1.8-2.3-0.7-2.3-2.2-2.3-0.3-2.5 1.6-2.2-2.5-2.4-0.3-4.5-2.5-4.4-4.1-2.3 0.1-2.3-1.1-4.8 3.4-2.3 0-2.4 1.9-2.2-1.4-2.4 2.4-2.2-1.7z" fill="url(#p1g19)" stroke="url(#p1g19)"/><path d="M523.6 615.4l2.1 3.9 2.4 0.5 2.1 4.7 4.9 0.1 2.6-1 2.6-0.2 2.6-1.2 2.3 2.1 7.3 3.7 5.2 0.3 5 1.1 5 2.9 2.3 3.1 5 2.6 2.5 2 2.6 0.9 4.8 5.2-3.1-8-4.9-5.7-2.6-0.4-2.6-1-2.8 1.7-2.6-1.1-2.8 1.8-2.5-1.9-2.6 0.5-2.4-2.6-2.6 0.1-2.5-1-2.6 0.2-2.4-2.3-5-1.2-2.6 0.7-4.8-3.7-2.4-0.4-2.2-4.6-2.6 1.5-2.4-1.5-4.8-1.4z" fill="url(#p1g20)" stroke="url(#p1g20)"/><path d="M582.5 643.6l2.4 2.5 2.5 1.3 2.4 2.8-3.3-5.1-2.3-4.3-4.9-5.5z" fill="url(#p1g21)" stroke="url(#p1g21)"/><path d="M144.9 519.7l1.2-0.7 1.2 0 1.2-1 1.3 0.7 1.2-0.8 1.3 0.3 1.3 1.3 1.2-0.5 3.9 2.3 1.3-0.1 3.9 2.5 1.2-0.7 2.7 1.4 2.5-0.7 2.7 0.1 2.6 1.2 1.4 1.6-5.7 7-1.3 1.1-1.3-1-2.6 0.6-1.3-0.5-1.4-2.1-2.6-2.3-1.4-1.8-1.2 1.1-1.3-1.3-3.8 2.1-1.3-0.7-1.2 0.5-2.7-3.4-1.2 0.5-1.3-2.8-3.7 0.8-2.5-0.5z" fill="url(#p1g22)" stroke="url(#p1g22)"/><path d="M175.6 525l4.1 4.9 1.3 0.1 8-3.2 2.8 3.8 1.4 2.8 2.8 3 1.5 2.4 1.3-0.8 1.4 0.2 2.8-0.6 1.3-1.7 1.4 0.1 1.4-2.6 1.4-1.4 1.4-0.2-5.6 10.8-1.4 0.2-4.4-7.2-2.9-7.6-1.4 0-1.5-2-1.3 2-1.4-0.3-2.6 4.7-1.4 0.9-2.6 0.8-1.4 1.6-1.3-0.9-1.3 1.9-2.7-0.6-1.4-3-1.3 0.6-1.4-1.1-2.6 2.1z" fill="url(#p1g23)" stroke="url(#p1g23)"/><path d="M208.5 532l1.4-0.2 1.4-1.3 1.4 0.3 4.4 6.6 2.9-0.2 1.4 0.5 2.9-3.2 1.4-0.3 1.5 0.4 1.5 1.3 1.4-0.6 3 3.5 1.5 0.4 3.1 5.4 1.5 1.5 3-0.4 3-2.1-5.8-2-3 1.2-1.5-0.7-1.5 1.2-1.5-0.9-4.5-1.3-2.9 1.6-1.5-0.8-1.5 1.3-2.9-2-1.5-0.2-1.4 0.5-1.5-0.2-1.4 2.1-1.4-0.5-2.9 0.1-1.4 0.8-2.8-1.2-1.4 0.2z" fill="url(#p1g24)" stroke="url(#p1g24)"/><path d="M243.7 544.5l3-2 1.5-1.9 3.1-1.3 3.1-0.3 1.5 1.7 3.1 1.2 1.6 2.3 4.7 1.3 3.2 2.7 1.6 0.7 3.2 6.2 1.6 1.2 1.6 0.1 1.6 0.9 1.6-1.4 3.3-1.6-5.7-3.6-4.9-1-4.8 1.3-1.6-0.3-1.6 0.4-1.6-1.8-1.6-3.2-1.6-0.8-1.6 1.5-1.5-1-1.6 0.4-1.6 2.2-3.1 2.7-1.5-1.7-1.6 0.8-1.5-2.5-1.6-1.1-1.5-2.4-1.5-0.1-1.6-2.5-1.5 0.6z" fill="url(#p1g25)" stroke="url(#p1g25)"/><path d="M281.3 554.9l1.7-0.6 1.6-1.5 1.6 0.6 1.7-0.7 1.6 3.7 1.7 2.3 1.6-0.6 3.4 0.5 3.3-2.7 3.4-0.6 1.7 1 1.8-1.1 1.7 1 1.7-1.7 1.7 0.1 1.8-2.5 1.7 0.2 1.8-0.5 1.7 1.4 1.8 0.1 3.4 3.2-5.7 12.1-3.5-1.1-1.8-0.1-5.1-6.2-1.7-0.7-3.4-2.6-1.8 0.4-1.7 2.2-1.7-0.6-1.7 1.8-1.7 0.4-1.7-3.3-1.6-0.9-3.4-3.8-1.6-0.7-1.7-1.9-1.6-0.6-1.7 0.3-1.6 1.2-1.7-1.7-1.6-0.6z" fill="url(#p1g26)" stroke="url(#p1g26)"/><path d="M322 554.9l6.9 7.1 1.8 0.4 3.6 2.2 5.2 6.8 3.6 2.8 1.8-0.1 3.8-2.4 1.9-2.2 3.7-1.2 3.7 1.8 1.8 2.9 1.9 0.2 1.8 1.6 1.9 0.1 1.9 1.1-5.5 4.7-1.9 0.3-3.6-5.2-2 0.3-1.8-0.7-3.8 2.5-1.9 0.3-1.9 1.1-1.8-2.6-1.8-1.1-3.6-4.9-1.8-0.1-1.8-1.4-5.4 0.3-1.9 2.1-1.8 0.8-1.7-2.1-1.8 0.1-1.8-1.2-3.5-1.2z" fill="url(#p1g27)" stroke="url(#p1g27)"/><path d="M365.4 574.9l3.8 1.8 1.9-0.8 3.9 1.3 1.9-0.6 3.8 2.1 1.9 2.2 2 0.1 3.8 2.8 2.1-1.4 1.9 0.7 2.1-1 4-0.2 1.9 2.6 2 1.1 2-0.3 5.9 6.4 2 1.1 2.1 0-5.3 2.7-2.1 0-4-3-2 0.4-2.1-0.2-2-1-2 0.7-2-0.1-4.1 0.9-4-1.2-3.7-5.2-2-0.6-3.8-2.8-3.9 0.7-1.9-2.7-2 0.8-1.9-0.8-1.9 0.2-1.9-0.9-1.9 0.3z" fill="url(#p1g28)" stroke="url(#p1g28)"/><path d="M412.3 592.8l2.1 0 8.5-3.9 2.3-2.8 6.3 0.6 4.2 2.1 2 2.9 2.1 0.2 2.1 2.7 2.1 1.2 2 2.2 4.3 2.7 2.1 1.2 6.6 0.8 2.1 2.6 2.2 0.1 2.2 1.7-4.8-0.9-4.3-4.2-2.3 0.8-2.2-0.8-2.2 0.3-2.2-0.7-4.6 2-4.2-2.1-2.1-2.4-4.2-2.4-4.4 2.4-4.3 0.4-2.2 1-2.1 0-2-2.1-4.2-1.4-2-2.1-4.2 0.6z" fill="url(#p1g29)" stroke="url(#p1g29)"/><path d="M463.3 605.4l2.2 1.7 2.4-2.4 2.2 1.4 2.4-1.9 2.3 0 4.8-3.4 2.3 1.1 2.3-0.1 4.4 4.1 4.5 2.5 2.4 0.3 2.2 2.5 2.5-1.6 2.3 0.3 2.3 2.2 2.3 0.7 2.3 1.8 2.4 0.7 2.5-0.7 2.4 1.2 4.8 0.6-5.2 8.5-2.5 0.6-2.3-1.8-2.5 0.6-2.3-1.9-4.8-1.3-4.8 0-7-3-2.3-0.5-2.5 1.2-2.2-2.7-2.3 0.3-4.6-1.5-2.5 2-2.3 0.3-2.4 1.1-6.3-8.3-2-3.8-2.1-2.2z" fill="url(#p1g30)" stroke="url(#p1g30)"/><path d="M519.1 615.8l4.8 1.4 2.4 1.5 2.6-1.5 2.2 4.6 2.4 0.4 4.8 3.7 2.6-0.7 5 1.2 2.4 2.3 2.6-0.2 2.5 1 2.6-0.1 2.4 2.6 2.6-0.5 2.5 1.9 2.8-1.8 2.6 1.1 2.8-1.7 2.6 1 2.6 0.4 4.9 5.7-4.2 1.7-5.8 2.6-2.6-0.7-5.4 0.5-2.8 1.5-5.3-0.1-2.5-1.6-5.4 1.1-2.4-1.4-2.6 0.1-2.2-4.5-2.5-0.7-6.9-8.6-2.4-2.3-2.4-1.3-2.5-0.3-5.1 1.3-2.5-0.5-2.5 0.6z" fill="url(#p1g31)" stroke="url(#p1g31)"/><path d="M579.3 635.3l4.9 5.5 2.3 4.3-3.9-1.5-2.6-0.9-2.4-2.9-2.9 1.3z" fill="url(#p1g32)" stroke="url(#p1g32)"/><path d="M139.2 523.9l2.5 0.5 3.7-0.8 1.3 2.8 1.2-0.5 2.7 3.4 1.2-0.5 1.3 0.7 3.8-2.1 1.3 1.3 1.2-1.1 1.4 1.8 2.6 2.3 1.4 2.1 1.3 0.5 2.6-0.6 1.3 1 1.3-1.1-6-4-1.3 0.5-1.3 1.4-2.7-1.4-1.3-2-4-3.8-2.6-0.1-1.3-0.5-2.4 3.4-3.8 1.6-3.8-0.8-1.3-1.2-1.2-0.1-1.3-1.4-1.2 0.6-1.3-1.2-1.2 1.4z" fill="url(#p1g33)" stroke="url(#p1g33)"/><path d="M170 534.7l2.6-2.1 1.4 1.1 1.3-0.6 1.4 3 2.7 0.6 1.3-1.9 1.3 0.9 1.4-1.6 2.6-0.8 1.4-0.9 2.6-4.7 1.4 0.3 1.3-2 1.5 2 1.4 0 2.9 7.6 4.4 7.2 1.4-0.2-5.9-1.8-3-4.2-2.8-1-2.9-3.6-1.3 1.1-5.6-2.9-1.5-3.6-4.2-4-2.7-0.6-1.3 0.2-3.9 4-2.7 1-1.2 2.4-1.3 0.5z" fill="url(#p1g34)" stroke="url(#p1g34)"/><path d="M202.9 542.8l1.4-0.2 2.8 1.2 1.4-0.8 2.9-0.1 1.4 0.5 1.4-2.1 1.5 0.2 1.4-0.5 1.5 0.2 2.9 2 1.5-1.3 1.5 0.8 2.9-1.6 4.5 1.3 1.5 0.9 1.5-1.2 1.5 0.7 3-1.2-5.8 1.8-1.5-0.5-1.6-1.9-1.5 0.7-1.5-0.4-1.5 1.5-1.5-1.1-1.5 0.1-4.4-3.1-4.5-1.6-4.4 0.5-2.8 1.3-1.5-0.5-2.8 0.2-2.9 1-1.3 1.2-1.5-2.2z" fill="url(#p1g35)" stroke="url(#p1g35)"/><path d="M237.9 542.2l1.5-0.6 1.6 2.5 1.5 0.1 1.5 2.4 1.6 1.1 1.5 2.5 1.6-0.8 1.5 1.7 3.1-2.7 1.6-2.2 1.6-0.4 1.5 1 1.6-1.5 1.6 0.8 1.6 3.2 1.6 1.8 1.6-0.4 1.6 0.3 4.8-1.3 4.9 1-5.7 1.5-1.6 0.6-1.7-0.7-3.2 2.7-3.3-0.1-1.6-0.9-3.2-3.5-3.2-2-1.5 2-1.6-0.4-1.6 0.6-1.6-0.9-1.5 0.3-1.6-0.5-3.1 0-1.5-2.1-4.6-2-1.6-1.9-1.5-0.5z" fill="url(#p1g36)" stroke="url(#p1g36)"/><path d="M275.7 550.1l1.6 0.6 1.7 1.7 1.6-1.2 1.7-0.3 1.6 0.6 1.7 1.9 1.6 0.7 3.4 3.8 1.6 0.9 1.7 3.3 1.7-0.4 1.7-1.8 1.7 0.6 1.7-2.2 1.8-0.4 3.4 2.6 1.7 0.7 5.1 6.2 1.8 0.1 3.5 1.1-5.4-13.5-1.8 0.1-1.7-0.9-1.8-0.1-5.3 3.6-1.7-0.1-1.8 0.7-5.1-1.6-1.7 0.6-1.7-1.3-1.7 1.2-1.7-0.8-6.8 2.6-3.3-1.1-3.3-2.4-1.6-3.4-1.6 0.6z" fill="url(#p1g37)" stroke="url(#p1g37)"/><path d="M316.2 568l3.5 1.2 1.8 1.2 1.8-0.1 1.7 2.1 1.8-0.8 1.9-2.1 5.4-0.3 1.8 1.4 1.8 0.1 3.6 4.9 1.8 1.1 1.8 2.6 1.9-1.1 1.9-0.3 3.8-2.5 1.8 0.7 2-0.3 3.6 5.2 1.9-0.3-5.3-2.9-3.8-1-1.9-2.5-3.8 0.6-1.8-3.7-1.8-2.2-1.9 0.1-1.8-1.1-1.9 0.4-1.8-1.4-1.9 2.3-1.8-1.2-1.9 0.9-1.8-0.4-1.8-1.1-3.6-4.2-3.5-2.8-1.8-2.6-1.8-1.4-3.5-1.4-1.8 0.1z" fill="url(#p1g38)" stroke="url(#p1g38)"/><path d="M359.9 581l1.9-0.3 1.9 0.9 1.9-0.2 1.9 0.8 2-0.8 1.9 2.7 3.9-0.7 3.8 2.8 2 0.6 3.7 5.2 4 1.2 4.1-0.9 2 0.1 2-0.7 2 1 2.1 0.2 2-0.4 4 3 2.1 0-5.1-2.3-2-1-2.1-0.1-1.3-17.4-1.1-24.3-1.7-9.3-2.1 1.2-2-0.3-2.1-1.4-6.1-1.2-2 0.9-2.1 0.2-1.9-1.7-8.2 5.8-4-0.2-1.9-2.7-2.1 3.8-4.8 32.3-1.9-0.7z" fill="url(#p1g39)" stroke="url(#p1g39)"/><path d="M407 595.5l4.2-0.6 2 2.1 4.2 1.4 2 2.1 2.1 0 2.2-1 4.3-0.4 4.4-2.4 4.2 2.4 2.1 2.4 4.2 2.1 4.6-2 2.2 0.7 2.2-0.3 2.2 0.8 2.3-0.8 4.3 4.2-4.9-1.3-2.3 0.3-2.1-1.9-2.2-0.9-2.4-36.4-1.8-7.2-6.6 36.7-2.7 7.3-1.9-45-1.4-16.1-6.7 43.7-2.6 9.1-2.1-1.7-3.6-57.9-2.5 6.5-6.1 38.6-2.6 10.9-2.2 2.3-2-1z" fill="url(#p1g40)" stroke="url(#p1g40)"/><path d="M458.6 604l2.1 2.2 2 3.8 6.3 8.3 2.4-1.1 2.3-0.3 2.5-2 4.6 1.5 2.3-0.3 2.2 2.7 2.5-1.2 2.3 0.5 7 3 4.8 0 4.8 1.3 2.3 1.9 2.5-0.6 2.3 1.8 2.5-0.6-4.3-3.4-2.4-0.9-2.3-2-2.5-0.2-2.2-2.6-2.4-1.8-2.5 1.3-2.4-0.2-4.7-2.3-2.3-1.8-2.2-2.7-2.4-0.8-4.7-0.6-2.5 1.7-2.6 3.5-2.4 1.1-1.9-6.6-2.4-35.4-2.9 9.1-3.3 15.1-3 11.2-2.2-1.7-2.3 0.3z" fill="url(#p1g41)" stroke="url(#p1g41)"/><path d="M513.8 625.5l2.5-0.6 2.5 0.5 5.1-1.3 2.5 0.3 2.4 1.3 2.4 2.3 6.9 8.6 2.5 0.7 2.2 4.5 2.6-0.1 2.4 1.4 5.4-1.1 2.5 1.6 5.3 0.1 2.8-1.5 5.4-0.5 2.6 0.7 5.8-2.6-4.7 5.2-2.4-3.6-2.7-0.5-2.3-4.1-4.9-5.3-2.6-1.2-2.4-2.3-2.7-0.5-5.3 0.3-2.9 2.7-2.5-1.8-5.2-0.1-2.4-2.1-2.6-0.2-2.4-1.5-4.8-5-2.6 1-2.5-0.3-5.2 1.9-4.9-1.8z" fill="url(#p1g42)" stroke="url(#p1g42)"/><path d="M574.7 641.1l2.9-1.3 2.4 2.9 2.6 0.9-4.8 7.9-2.3-5.1-2.6-1.4-2.4-3.6z" fill="url(#p1g43)" stroke="url(#p1g43)"/><path d="M133.3 526l1.2-1.4 1.3 1.2 1.2-0.6 1.3 1.4 1.2 0.1 1.3 1.2 3.8 0.8 3.8-1.6 2.4-3.4 1.3 0.5 2.6 0.1 4 3.8 1.3 2 2.7 1.4 1.3-1.4 1.3-0.5-6 2.6-2.7-4.3-1.4-0.3-1.2 1.1-1.4-1.5-5.2-0.8-1.2 1.3-1.3-1-1.3 1-1.3 0-1.3-1.3-1.3-2.4-1.3-0.2-1.3-1.6-1.3-0.4-1.2 1.5-2.5-0.2-1.3-1.1-1.2 1.5-1.2-1.3-1.3 0.2z" fill="url(#p1g44)" stroke="url(#p1g44)"/><path d="M164 530.1l1.3-0.5 1.2-2.4 2.7-1 3.9-4 1.3-0.2 2.7 0.6 4.2 4 1.5 3.6 5.6 2.9 1.3-1.1 2.9 3.6 2.8 1 3 4.2-6.1-1.9-2.7 2.9-2.8 1.3-1.4-1.5-1.5-2.7-2.8-2.1-1.4-0.1-1.4-2.5-1.4 1.5-1.3-0.1-1.4-1.4-2.8-0.5-1.3 1.1-1.4-0.8-2.6 2.5-1.3 0.5-2.7-2.1-4.1-4.5z" fill="url(#p1g45)" stroke="url(#p1g45)"/><path d="M196.9 538.6l1.5 2.2 1.3-1.2 2.9-1 2.8-0.2 1.5 0.5 2.8-1.3 4.4-0.5 4.5 1.6 4.4 3.1 1.5-0.1 1.5 1.1 1.5-1.5 1.5 0.4 1.5-0.7 1.6 1.9 1.5 0.5-5.8 6.8-1.6-0.7-1.5 0.5-1.5-1.7-1.6-3.8-1.5-1.9-4.5-1.3-1.5-1.9-3-0.9-1.4 0.3-1.5-1.2-3 0.6-1.4-1.1-1.4 1.5-1.5 0.1-2.9-3.1-1.5 0.7-1.4-0.4-4.1 4.7z" fill="url(#p1g46)" stroke="url(#p1g46)"/><path d="M232.1 542.9l1.5 0.5 1.6 1.9 4.6 2 1.5 2.1 3.1 0 1.6 0.5 1.5-0.3 1.6 0.9 1.6-0.6 1.6 0.4 1.5-2 3.2 2 3.2 3.5 1.6 0.9 3.3 0.1 3.2-2.7 1.7 0.7 1.6-0.6-5.8 1.3-1.7 1.1-1.6-1.1-1.6 1.6-1.7-1.6-1.6 1.6-3.2-0.8-1.6-1.5-1.6 0.4-1.6-2.1-3.2-0.8-1.6 1-1.6-0.1-1.5-1.8-1.6 1.6-1.6-1.5-3.1-0.6-1.5-1.2-1.6 1.4-1.5-0.8-1.5-0.1-1.5 2-1.6-0.7z" fill="url(#p1g47)" stroke="url(#p1g47)"/><path d="M270 552.8l1.6-0.6 1.6 3.4 3.3 2.4 3.3 1.1 6.8-2.6 1.7 0.8 1.7-1.2 1.7 1.3 1.7-0.6 5.1 1.6 1.8-0.7 1.7 0.1 5.3-3.6 1.8 0.1 1.7 0.9 1.8-0.1-5.9 10.9-1.8 0.9-3.5-3-1.7 0.2-5.3 3.4-5.2 0.8-3.4-2.3-1.7-1.7-1.7-2.7-1.6-0.3-1.7-1.2-1.7-0.3-1.7-1.7-1.7-0.7-1.6-1.7-1.7-1-1.6 1-1.7-2.6-1.6 0.4-1.7 1.1z" fill="url(#p1g48)" stroke="url(#p1g48)"/><path d="M310.8 555.2l1.8-0.1 3.5 1.4 1.8 1.4 1.8 2.6 3.5 2.8 3.6 4.2 1.8 1.1 1.8 0.4 1.9-0.9 1.8 1.2 1.9-2.3 1.8 1.4 1.9-0.4 1.8 1.1 1.9-0.1 1.8 2.2 1.8 3.7 3.8-0.6 1.9 2.5 3.8 1-3.1-88.2-1.7-10.9-2.2 10.1-4.7 31-3.8-4.6-2.2 11.1-4.5 31.6-4.1 16.1-1.9 1.7-1.8-1.4-5.5-0.5-1.7-3.7-1.9 1.9-3.6-3.5-1.8 0-1.7-1.6-3.6-0.9-1.8 0.9z" fill="url(#p1g49)" stroke="url(#p1g49)"/><path d="M354.6 577.1l1.9 0.7 4.8-32.3 2.1-3.8 1.9 2.7 4 0.2 8.2-5.8 1.9 1.7 2.1-0.2 2-0.9 6.1 1.2 2.1 1.4 2 0.3 2.1-1.2 1.7 9.3 1.1 24.3 1.3 17.4 2.1 0.1 2 1-4.2-25.3-1.1-23-1.9-4.6-3.1 23.4-2.7 13.7-1.9-5-1.8-57.9-1.3-21.5-1.6-13.4-2-1.8-2.2 1.1-2.2 4.3-3.1 28.4-2.1 3.4-5.4-23.3-2 0.6-6.9 29.1-1.8-8.8-5-33.9z" fill="url(#p1g50)" stroke="url(#p1g50)"/><path d="M402 592.2l2 1 2.2-2.3 2.6-10.9 6.1-38.6 2.5-6.5 3.6 57.9 2.1 1.7 2.6-9.1 6.7-43.7 1.4 16.1 1.9 45 2.7-7.3 6.6-36.7 1.8 7.2 2.4 36.4 2.2 0.9 2.1 1.9 2.3-0.3-5.1 1.8-2.2-1.3-2.3 0.6-2.3-0.9-4.6 2.8-2.3-0.5-2.2 0.9-4.5 0-6.3-4.7-2.1-2.5-2.2-0.6-4.1-4-2.2 1.6-2.1-1.7-2.1-0.7-2-2.8-2.2 0.5-2-1.8-2.1-1-2.2-45.7z" fill="url(#p1g51)" stroke="url(#p1g51)"/><path d="M453.5 605.2l2.3-0.3 2.2 1.7 3-11.2 3.3-15.1 2.9-9.1 2.4 35.4 1.9 6.6 2.4-1.1 2.6-3.5 2.5-1.7 4.7 0.6 2.4 0.8 2.2 2.7 2.3 1.8 4.7 2.3 2.4 0.2 2.5-1.3 2.4 1.8 2.2 2.6 2.5 0.2 2.3 2 2.4 0.9-5.4 10-2.6 0.8-2.4-0.6-2.6 1.4-2.4-1.3-2.2-3-2.4-1.2-2.3-2.5-2.3-1.4-4.6-4-2.2-2.8-2.3-1.5-2.3-1.3-2.4 0.4-2.3-0.8-2.2-3.1-2.5 1.4-2.2-2-2.3-0.1-2.4 0.8-4.6-1.3-2.1-2.8-2.3 0.1-2.2-1.3z" fill="url(#p1g52)" stroke="url(#p1g52)"/><path d="M509.6 620.6l4.9 1.8 5.2-1.9 2.5 0.3 2.6-1 4.8 5 2.4 1.5 2.6 0.2 2.4 2.1 5.2 0.1 2.5 1.8 2.9-2.7 5.3-0.3 2.7 0.5 2.4 2.3 2.6 1.2 4.9 5.3 2.3 4.1 2.7 0.5 2.4 3.6-4-2.2-2.7-0.3-4.9-6.5-5.1-3.2-4.9-5.7-2.7 0-2.9 2.3-2.7-0.1-2.7 0.5-2.8 1.5-2.7 0.7-2.5-1-2.5-1.8-2.5-0.7-7.2-7.2-2.8 2.9-5.4 3.6-2.8 3.7-2.5 0-2.6 0.8z" fill="url(#p1g53)" stroke="url(#p1g53)"/><path d="M570.5 641.4l2.4 3.6 2.6 1.4 2.3 5.1-3.5-6.4-2.5-3.7-2.9 1.4-2.7-0.3z" fill="url(#p1g54)" stroke="url(#p1g54)"/><path d="M127.1 522.4l1.3-0.2 1.2 1.3 1.2-1.5 1.3 1.1 2.5 0.2 1.2-1.5 1.3 0.4 1.3 1.6 1.3 0.2 1.3 2.4 1.3 1.3 1.3 0 1.3-1 1.3 1 1.2-1.3 5.2 0.8 1.4 1.5 1.2-1.1 1.4 0.3 2.7 4.3-6.2-5.5-1.3 1.1-1.3 0.2-2.6 2.5-1.3-1.4-1.2 2.3-1.4-0.6-1.1 2.8-4-2.9-1.3-0.2-2.6-2.9-3.8 0-3.9-2.3-1.2-0.2-1.1 3-2.6-1.7-1.2 0.6z" fill="url(#p1g55)" stroke="url(#p1g55)"/><path d="M158 530.4l4.1 4.5 2.7 2.1 1.3-0.5 2.6-2.5 1.4 0.8 1.3-1.1 2.8 0.5 1.4 1.4 1.3 0.1 1.4-1.5 1.4 2.5 1.4 0.1 2.8 2.1 1.5 2.7 1.4 1.5 2.8-1.3 2.7-2.9-6.2-6-1.4 1.7-2.8-0.1-2.7 1.8-2.8-0.2-1.4-0.9-1.5-2.3-1.4-0.4-1.4-1.4-1.4-0.3-1.3 1-1.4 0.3-1.3-0.4-1.3 1.3-2.9-4.2-1.3 0-1.4-0.7-1.4-2.3-1.3-0.5-3.9 2.5z" fill="url(#p1g56)" stroke="url(#p1g56)"/><path d="M191 540.6l4.1-4.7 1.4 0.4 1.5-0.7 2.9 3.1 1.5-0.1 1.4-1.5 1.4 1.1 3-0.6 1.5 1.2 1.4-0.3 3 0.9 1.5 1.9 4.5 1.3 1.5 1.9 1.6 3.8 1.5 1.7 1.5-0.5 1.6 0.7-6 1.3-1.6-4-3.1-3.9-3-1-1.5 0.3-1.5-0.9-1.5 0.4-1.5-0.5-1.5-1.4-1.5-0.2-2.9 0.7-1.5 1.4-1.5-2.7-1.4 1.2-1.5-1.2-1.5-2.7-1.4-0.3-1.5-2-1.5-0.3-1.4-1.2-1.4 0.7-1.5-1-1.4 1.7z" fill="url(#p1g57)" stroke="url(#p1g57)"/><path d="M226.2 549.5l1.6 0.7 1.5-2 1.5 0.1 1.5 0.8 1.6-1.4 1.5 1.2 3.1 0.6 1.6 1.5 1.6-1.6 1.5 1.8 1.6 0.1 1.6-1 3.2 0.8 1.6 2.1 1.6-0.4 1.6 1.5 3.2 0.8 1.6-1.6 1.7 1.6 1.6-1.6 1.6 1.1 1.7-1.1-6-2.4-1.6-0.1-1.7-1.6-4.8 4.2-1.7 0.7-1.6-0.3-1.6-1.3-3.2-4.1-3.2-2.6-3.2 2-3.1 3.4-1.5 0.7-1.5 3.5-1.6-0.7-1.5 1-3.1-1.5-1.6-2.1-1.5-0.8-1.6-4z" fill="url(#p1g58)" stroke="url(#p1g58)"/><path d="M264.1 554.6l1.7-1.1 1.6-0.4 1.7 2.6 1.6-1 1.7 1 1.6 1.7 1.7 0.7 1.7 1.7 1.7 0.3 1.7 1.2 1.6 0.3 1.7 2.7 1.7 1.7 3.4 2.3 5.2-0.8 5.3-3.4 1.7-0.2 3.5 3 1.8-0.9-5.7-6.6-1.8-1.5-1.7 0.5-1.8 1.5-1.8-0.3-1.8 2.1-1.8 3.3-1.7 1.5-1.8 0.5-1.7-1.6-1.7-3.4-1.7-1-3.4-3.2-1.7 0.9-1.7-0.6-1.7 0.4-1.7 3.3-1.7 0.4-1.7-0.5-8.3-10.6-1.6-0.1z" fill="url(#p1g59)" stroke="url(#p1g59)"/><path d="M304.9 566.9l1.8-0.9 3.6 0.9 1.7 1.6 1.8 0 3.6 3.5 1.9-1.9 1.7 3.7 5.5 0.5 1.8 1.4 1.9-1.7 4.1-16.1 4.5-31.6 2.2-11.1 3.8 4.6 4.7-31 2.2-10.1 1.7 10.9-8.3 95.4-5.7-2.2-1.9 0-3.7-3.5-1.9 0-7.5-2.3-1.8-1.5-3.7-0.3-1.8-1.1-1.8 0.2-1.9-0.6-1.8 0.7-1.8-2.2-1.8-1.3-3.5-6.2-1.8-1.3-1.7-4-1.8-1.5z" fill="url(#p1g60)" stroke="url(#p1g60)"/><path d="M351.7 478.7l5 33.9 1.8 8.8 6.9-29.1 2-0.6 5.4 23.3 2.1-3.4 3.1-28.4 2.2-4.3 2.2-1.1 2 1.8 1.6 13.4 1.3 21.5 1.8 57.9 1.9 5 2.7-13.7 3.1-23.4 1.9 4.6 1.1 23-6.8 32.2-2-1.7-2.1-0.8-2.4-45-1.8-8.2-2-0.7-2.1-1.7-3.9-5.2-4.2-0.1-4-1.7-4.1-0.9-1.9-2.3-4-2.4-4 1.9-2.1 1.8-2.2 9.5-2.7 26.4-2.4 16-1.9-0.6z" fill="url(#p1g61)" stroke="url(#p1g61)"/><path d="M398.7 544.9l2.2 45.7 2.1 1 2 1.8 2.2-0.5 2 2.8 2.1 0.7 2.1 1.7 2.2-1.6 4.1 4 2.2 0.6 2.1 2.5 6.3 4.7 4.5 0 2.2-0.9 2.3 0.5 4.6-2.8 2.3 0.9 2.3-0.6 2.2 1.3-5.6 7.3-2.1-3-2.3-0.5-2-3.6-2.4 2-2.2-0.7-2.4 1.5-2.2 0.4-2.2-0.8-4.5 0.6-4.4-0.3-4.1-5.2-2.1-1.6-2.2 0.2-2.2-0.7-2.2 0.7-2.1-0.5-4.3 1.8-8.2-5.9z" fill="url(#p1g62)" stroke="url(#p1g62)"/><path d="M448.5 605.4l2.2 1.3 2.3-0.1 2.1 2.8 4.6 1.3 2.4-0.8 2.3 0.1 2.2 2 2.5-1.4 2.2 3.1 2.3 0.8 2.4-0.4 2.3 1.3 2.3 1.5 2.2 2.8 4.6 4 2.3 1.4 2.3 2.5 2.4 1.2 2.2 3 2.4 1.3 2.6-1.4 2.4 0.6 2.6-0.8-4.2-7.1-5.1 0.1-2.2-3.2-4.9-2-2.3-1.6-2.7 2.7-4.9 0.1-2.6 2.1-4.8-0.9-4.5-3.5-2.5 0.3-2.3-0.6-2.5 2.4-2.4 0.1-2.4 1-2.2-1.5-4.6-0.9-2.2-1.9-4.3-6.1z" fill="url(#p1g63)" stroke="url(#p1g63)"/><path d="M504 632.3l2.6-0.8 2.5 0 2.8-3.7 5.4-3.6 2.8-2.9 7.2 7.2 2.5 0.7 2.5 1.8 2.5 1 2.7-0.7 2.8-1.5 2.7-0.5 2.7 0.1 2.9-2.3 2.7 0 4.9 5.7 5.1 3.2 4.9 6.5 2.7 0.3-4.4 1.1-2.5-3-2.6-1.2-2.6-1.9-2.8-0.2-2.8 1.3-2.7-0.8-3.2 5.3-2.8 1.5-5.4 0.1-12.1-12.8-2.5-1.3-5.2-1.2-2.4-1.3-2.4-3-2.4-1.6-2.6-0.1-2.4-1-2.7 1.7-2.5 0.1z" fill="url(#p1g64)" stroke="url(#p1g64)"/><path d="M566.2 642.5l2.7 0.3 2.9-1.4 2.5 3.7-4.6 3-2.7-1.3-5-5.9z" fill="url(#p1g65)" stroke="url(#p1g65)"/><path d="M121.2 527l1.2-0.6 2.6 1.7 1.1-3 1.2 0.2 3.9 2.3 3.8 0 2.6 2.9 1.3 0.2 4 2.9 1.1-2.8 1.4 0.6 1.2-2.3 1.3 1.4 2.6-2.5 1.3-0.2 1.3-1.1-5.7 13.8-1.4-1.6-2.7-1.8-2.6-0.9-1.3 0.1-2.7-1.4-1.2 0.9-2.6 0.3-3.7 2.3-2.6-1.6-2.6-3.4-1.3-0.2-2.6-2.1-1.3-2.6-1.2 0.6-1.3-0.6-1.2 0z" fill="url(#p1g66)" stroke="url(#p1g66)"/><path d="M151.8 527.8l3.9-2.5 1.3 0.5 1.4 2.3 1.4 0.7 1.3 0 2.9 4.2 1.3-1.3 1.3 0.4 1.4-0.3 1.3-1 1.4 0.3 1.4 1.4 1.4 0.4 1.5 2.3 1.4 0.9 2.8 0.2 2.7-1.8 2.8 0.1 1.4-1.7-5.9 8.8-5.8-3.8-2.7 1.3-5.5 0.1-1.4 0.9-4.2-3.8-1.4 0-1.4-2.3-2.6 2.3-2.6 3.2-3.9 2.1-2.7-2.8z" fill="url(#p1g67)" stroke="url(#p1g67)"/><path d="M184.7 534.6l1.4-1.7 1.5 1 1.4-0.7 1.4 1.2 1.5 0.3 1.5 2 1.4 0.3 1.5 2.7 1.5 1.2 1.4-1.2 1.5 2.7 1.5-1.4 2.9-0.7 1.5 0.2 1.5 1.4 1.5 0.5 1.5-0.4 1.5 0.9 1.5-0.3 3 1 3.1 3.9 1.6 4-6.2-5.8-3.1-1.4-4.5 2.8-1.5 0.4-1.4 2-3 1.6-1.4 0.3-1.5-1.7-3-1.7-1.5-1.9-3-2.2-1.4-0.7-1.5 0-2.9 0.7-1.4-0.7-1.4 1.9-1.5-2-2.9-2.5z" fill="url(#p1g68)" stroke="url(#p1g68)"/><path d="M220.2 547.5l1.6 4 1.5 0.8 1.6 2.1 3.1 1.5 1.5-1 1.6 0.7 1.5-3.5 1.5-0.7 3.1-3.4 3.2-2 3.2 2.6 3.2 4.1 1.6 1.3 1.6 0.3 1.7-0.7 4.8-4.2 1.7 1.6 1.6 0.1-5.9 19-5-4.6-3.2-1.7-1.6-1.8-1.7-0.2-4.8-7.2-1.6-1.4-1.7-3.7-1.6-1.3-3 7.7-1.6 1.9-3.1-2.2-1.6-1.8-1.6-3.1-3.1-2-3.1-3-1.5-0.5z" fill="url(#p1g69)" stroke="url(#p1g69)"/><path d="M258.2 551l1.6 0.1 8.3 10.6 1.7 0.5 1.7-0.4 1.7-3.3 1.7-0.4 1.7 0.6 1.7-0.9 3.4 3.2 1.7 1 1.7 3.4 1.7 1.6 1.8-0.5 1.7-1.5 1.8-3.3 1.8-2.1 1.8 0.3 1.8-1.5 1.7-0.5 1.8 1.5-6.1 14.8-3.5-0.2-3.6 1.7-3.4-2.7-3.5-4.7-5.2-1.4-1.7-1.5-1.7 0.7-1.7-0.7-1.7 0.2-1.7-1.9-1.7 0.4-3.4-0.7-3.3 1.3-1.6 3-3.3 2.4-1.7-1.5z" fill="url(#p1g70)" stroke="url(#p1g70)"/><path d="M299.2 557.9l1.8 1.5 1.7 4 1.8 1.3 3.5 6.2 1.8 1.3 1.8 2.2 1.8-0.7 1.9 0.6 1.8-0.2 1.8 1.1 3.7 0.3 1.8 1.5 7.5 2.3 1.9 0 3.7 3.5 1.9 0 5.7 2.2-5.9 8.7-1.9-0.7-3.8-3.1-1.9-0.1-1.8-3.7-1.9-2.2-1.9-0.2-1.8-1.8-5.6-2.2-1.9 0.2-1.9 1.1-3.7 3.8-1.8 0.5-1.9 1.6-1.8-0.4-1.8-2.2-1.7-4-1.8-1.4-3.6-5.3-1.8 0.6-1.7-0.4z" fill="url(#p1g71)" stroke="url(#p1g71)"/><path d="M343.2 584.4l1.9 0.6 2.4-16 2.7-26.4 2.2-9.5 2.1-1.8 4-1.9 4 2.4 1.9 2.3 4.1 0.9 4 1.7 4.2 0.1 3.9 5.2 2.1 1.7 2 0.7 1.8 8.2 2.4 45 2.1 0.8 2 1.7-5.7 5.3-4.3 1.3-2-0.8-2.1 0.7-2-2-1.9-4.6-2-1.2-2-3.6-6-2.8-4.1 1.6-4.1 3-4 0.2-2 1-5.8-2.5-2 0.3-1.9-2.3-1.9 0-1.9-0.7z" fill="url(#p1g72)" stroke="url(#p1g72)"/><path d="M391 598.4l8.2 5.9 4.3-1.8 2.1 0.5 2.2-0.7 2.2 0.7 2.2-0.2 2.1 1.6 4.1 5.2 4.4 0.3 4.5-0.6 2.2 0.8 2.2-0.4 2.4-1.5 2.2 0.7 2.4-2 2 3.6 2.3 0.5 2.1 3-5.3 1.7-2.3 0.2-2.2-1.4-2.4 1.4-2.5 3.5-2.2 0.4-2.4 1.5-2.2-0.5-2.3 1-2.1-3.1-2.2 0.5-2-4.3-4.3-3-4.2-4.7-10.5-5.9-4.3 0.4-2.2 1.2-2.2 2.5-2.1 0.9z" fill="url(#p1g73)" stroke="url(#p1g73)"/><path d="M443 611l4.3 6.1 2.2 1.9 4.6 0.9 2.2 1.5 2.4-1 2.4-0.1 2.5-2.4 2.3 0.6 2.5-0.3 4.5 3.5 4.8 0.9 2.6-2.1 4.9-0.1 2.7-2.7 2.3 1.6 4.9 2 2.2 3.2 5.1-0.1-4.9-0.1-1.7-10.2-2.5-1.4-3.1 8.3-2.9 5.6-2.4-1.9-2.4-1.2-2.3-3.2-2.5 1.3-2.5 0.2-10.1 5.5-2.4 0.1-2.4-1-4.7-0.6-4.5-3.1-2.3-0.9-6.7-6.1-4.6 0.2z" fill="url(#p1g74)" stroke="url(#p1g74)"/><path d="M499.9 624.5l2.5-0.1 2.7-1.7 2.4 1 2.6 0.1 2.4 1.6 2.4 3 2.4 1.3 5.2 1.2 2.5 1.3 12.1 12.8 5.4-0.1 2.8-1.5 3.2-5.3 2.7 0.8 2.8-1.3 2.8 0.2 2.6 1.9 2.6 1.2 2.5 3-5.2 8.4-2.8 0.5-5.5-1.2-10.1-9.9-2.6-1.5-3 4.1-2.8 0.7-2.8 1.9-2.7 0.3-2.6-1.6-2.3-3.2-7.8-2-2.4-2.5-2.8 2.6-2.5-1.1-2.7 1.3-4.6-5.6-3.5-21z" fill="url(#p1g75)" stroke="url(#p1g75)"/><path d="M562 640.9l5 5.9 2.7 1.3-4.7 3.7-2.9 1.3-2.8-0.8-2.8 0.5z" fill="url(#p1g76)" stroke="url(#p1g76)"/><path d="M115.1 528.5l1.2 0 1.3 0.6 1.2-0.6 1.3 2.6 2.6 2.1 1.3 0.2 2.6 3.4 2.6 1.6 3.7-2.3 2.6-0.3 1.2-0.9 2.7 1.4 1.3-0.1 2.6 0.9 2.7 1.8 1.4 1.6-6.4-1.6-4-2.7-4-0.7-1.2 0.9-3.8 1-2.6-1.4-1.5-4.1-1.3-0.7-1.3-1.8-1.3-0.1-3.7 2-2.3 2.9-2.5-0.7-1.3-1.6-1.3-0.5z" fill="url(#p1g77)" stroke="url(#p1g77)"/><path d="M146 538.9l2.7 2.8 3.9-2.1 2.6-3.2 2.6-2.3 1.4 2.3 1.4 0 4.2 3.8 1.4-0.9 5.5-0.1 2.7-1.3 5.8 3.8-6 7.9-4.1 5.2-1.4 0.2-1.4-0.5-1.5-1.8-1.4-2.8-1.6-5.1-1.5-3.1-2.8-2.5-2.7 1.1-1.3 1.1-2.7-0.4-1.5-2.3-1.3-0.1-1.4-1.6-2.7 0.1-1.3 0.6-1.2 1.7-2.7-1.6z" fill="url(#p1g78)" stroke="url(#p1g78)"/><path d="M178.7 540.6l2.9 2.5 1.5 2 1.4-1.9 1.4 0.7 2.9-0.7 1.5 0 1.4 0.7 3 2.2 1.5 1.9 3 1.7 1.5 1.7 1.4-0.3 3-1.6 1.4-2 1.5-0.4 4.5-2.8 3.1 1.4-6 12.8-1.5 1-1.5-0.6-4.6-3.9-1.6-2.1-1.5-0.1-1.5-3-1.5 1.5-1.5-0.7-1.4 1.4-3-1.2-1.3 4.1-1.6-2.7-5.9-4.1-2.8-1-1.5-0.3-4.1 4.4z" fill="url(#p1g79)" stroke="url(#p1g79)"/><path d="M214.1 545.2l1.5 0.5 3.1 3 3.1 2 1.6 3.1 1.6 1.8 3.1 2.2 1.6-1.9 3-7.7 1.6 1.3 1.7 3.7 1.6 1.4 4.8 7.2 1.7 0.2 1.6 1.8 3.2 1.7 5 4.6-6.1-4.3-3.3-1.9-3.3 0.1-1.7-1.7-3.2-0.4-1.6-3.1-1.6-1.1-3.3-3.6-1.6-0.5-3.1 1-4.7 3-1.6-0.4-1.5 1.9-3.1-1.2-1.5 1-3.1-0.4-1.5 1z" fill="url(#p1g80)" stroke="url(#p1g80)"/><path d="M252.2 568.6l1.7 1.5 3.3-2.4 1.6-3 3.3-1.3 3.4 0.7 1.7-0.4 1.7 1.9 1.7-0.2 1.7 0.7 1.7-0.7 1.7 1.5 5.2 1.4 3.5 4.7 3.4 2.7 3.6-1.7 3.5 0.2-5.9-1.5-1.8 0.8-1.8-0.3-1.8 1.1-1.7-0.1-1.8 2.4-1.8-0.5-1.7 3.2-3.5-2.8-3.4-4.8-1.7-3.6-1.8-2.4-1.7-1.1-1.7 0.3-1.7-1.4-3.4 0.9-1.6 1.2-1.7-1.4-3.3 1.4-1.7-0.2-1.6 0.4-1.7-1.2z" fill="url(#p1g81)" stroke="url(#p1g81)"/><path d="M293.2 573.8l1.7 0.4 1.8-0.6 3.6 5.3 1.8 1.4 1.7 4 1.8 2.2 1.8 0.4 1.9-1.6 1.8-0.5 3.7-3.8 1.9-1.1 1.9-0.2 5.6 2.2 1.8 1.8 1.9 0.2 1.9 2.2 1.8 3.7 1.9 0.1 3.8 3.1 1.9 0.7-5.8-1.5-1.9-0.9-1.9 0.1-1.9-0.7-3.8-3.6-1.9-1-1.9 0.3-7.5-3.5-1.8-2.6-1.9-0.2-3.6-1.7-1.9 0.6-1.9 4.1-3.6-4.9-1.8-0.8-3.5-4.2-1.8 0.1-1.8-0.6-1.8 0.8z" fill="url(#p1g82)" stroke="url(#p1g82)"/><path d="M337.3 593l1.9 0.7 1.9 0 1.9 2.3 2-0.3 5.8 2.5 2-1 4-0.2 4.1-3 4.1-1.6 6 2.8 2 3.6 2 1.2 1.9 4.6 2 2 2.1-0.7 2 0.8 4.3-1.3-5.8 4.3-6-7.2-4.1-2.7-4-4.1-2.1-0.3-4.1 1.9-6.1-1.3-2 0.7-4.1 3.7-2-1.1-2 1.4-2-0.9-1.9-2.1-1.9-3.5-1.9-0.9-1.9-1.8-2 0.7-1.9-0.9z" fill="url(#p1g83)" stroke="url(#p1g83)"/><path d="M385.2 606.3l2.1-0.9 2.2-2.5 2.2-1.2 4.3-0.4 10.5 5.9 4.2 4.7 4.3 3 2 4.3 2.2-0.5 2.1 3.1 2.3-1 2.2 0.5 2.4-1.5 2.2-0.4 2.5-3.5 2.4-1.4 2.2 1.4 2.3-0.2-5.4 2-2.4 1.4-4.6 0.4-2.2-1.5-2.4 0.5-2.2-1.4-2-3.9-4.4-1.9-2.1-3.2-2.2-0.9-2.2-1.9-2.2 1-2.2-0.5-2.2 0.4-2.2-1.2-2.2 0.3-2.3 4.6-2.2-0.2-2.1-1.4-2.2 2.2-2.1-0.5-2.2 0.5-2.1-0.8-2-2.2z" fill="url(#p1g84)" stroke="url(#p1g84)"/><path d="M437.5 615.9l4.6-0.2 6.7 6.1 2.3 0.9 4.5 3.1 4.7 0.6 2.4 1 2.4-0.1 10.1-5.5 2.5-0.2 2.5-1.3 2.3 3.2 2.4 1.2 2.4 1.9 2.9-5.6 3.1-8.3 2.5 1.4 1.7 10.2-5.6 8.7-4.8-3.8-2.6 0.7-2.3-3.1-2.5-0.2-2.5 0.9-2.5-1.2-4.9 0-2.4-1.4-2.5 0.4-2.5 1.2-2.4-0.9-2.4 1-2.4-0.5-2.5 0.5-4.6-1.8-8.9-9-2.5 2.3-2.3-0.4-2.4 1.4z" fill="url(#p1g85)" stroke="url(#p1g85)"/><path d="M495.8 614.1l3.5 21 4.6 5.6 2.7-1.3 2.5 1.1 2.8-2.6 2.4 2.5 7.8 2 2.3 3.2 2.6 1.6 2.7-0.3 2.8-1.9 2.8-0.7 3-4.1 2.6 1.5 10.1 9.9 5.5 1.2 2.8-0.5-4.4-0.2-2.8-0.8-2.6-2.3-2.9 1.5-2.5-3.6-2.8 0.2-5.2-3.6-2.8 0.9-2.6-1.6-2.8 1-2.4-3.7-2.7 0.8-5.2-2.4-5.6 3.3-2.5-1.1-2.7 0.4-2.4-2.2-2.6 0.2-2.4-2.5-2.6-0.6-7.3-4.8z" fill="url(#p1g86)" stroke="url(#p1g86)"/><path d="M556.5 652.8l2.8-0.5 2.8 0.8 2.9-1.3-4.7 3.2-2.7-1.8-5.5-1.9z" fill="url(#p1g87)" stroke="url(#p1g87)"/><path d="M108.9 531.4l1.3 0.5 1.3 1.6 2.5 0.7 2.3-2.9 3.7-2 1.3 0.1 1.3 1.8 1.3 0.7 1.5 4.1 2.6 1.4 3.8-1 1.2-0.9 4 0.7 4 2.7-6.5-3.5-3.9-0.4-1.4-0.8-1.3 0.3-1.2 1.9-1.3-0.1-2.5 2.3-1.3-2.4-1.3-0.6-2.7-3.3-1.3-0.7-2.6 0-1.3-1.3-1.1 2.4-1.3 0.3-1.1 1.6-2.5 0.9-1.2 0-1.3-1.6-1.2 0z" fill="url(#p1g88)" stroke="url(#p1g88)"/><path d="M139.7 537.8l2.7 1.6 1.2-1.7 1.3-0.6 2.7-0.1 1.4 1.6 1.3 0.1 1.5 2.3 2.7 0.4 1.3-1.1 2.7-1.1 2.8 2.5 1.5 3.1 1.6 5.1 1.4 2.8 1.5 1.8 1.4 0.5 1.4-0.2 4.1-5.2-6.3 1.8-1.5-1-1.5-2.6-1.4-0.3-2.9-3.3-2.8-1.7-4.3-3.7-2.8-0.9-1.3 0.8-1.4-1.1-1.3 0.6-2.6 3.5-2.7-0.3-1.5-3.5-2.6 0.2-2.8-2.7-1.3 0z" fill="url(#p1g89)" stroke="url(#p1g89)"/><path d="M172.8 551.2l4.1-4.4 1.5 0.3 2.8 1 5.9 4.1 1.6 2.7 1.3-4.1 3 1.2 1.4-1.4 1.5 0.7 1.5-1.5 1.5 3 1.5 0.1 1.6 2.1 4.6 3.9 1.5 0.6 1.5-1-6.5-9.5-3-1.7-1.6-1.6-3 1.2-1.4 2.2-1.6-0.6-1.4 1.6-1.5-0.2-2.9 1.6-1.4 3.2-1.5 1.7-2.8 1.7-1.5-1.4-5.8-0.2-1.5-2.2-1.4 0.4-1.5-1.9-2.9-2.4z" fill="url(#p1g90)" stroke="url(#p1g90)"/><path d="M208.1 559.5l1.5-1 3.1 0.4 1.5-1 3.1 1.2 1.5-1.9 1.6 0.4 4.7-3 3.1-1 1.6 0.5 3.3 3.6 1.6 1.1 1.6 3.1 3.2 0.4 1.7 1.7 3.3-0.1 3.3 1.9-6.2 1.2-5-2.8-3.3-0.7-1.6-1.2-1.6 0-3.3-2.3-3.1 2.9-1.6-0.1-1.6 2-3.1-0.1-1.6-2.3-1.6-1.3-3.2-5.7-3.2-3.8-3.1-2.7-1.6 0.1-1.5-0.8z" fill="url(#p1g91)" stroke="url(#p1g91)"/><path d="M246.1 564.6l1.7 1.2 1.6-0.4 1.7 0.2 3.3-1.4 1.7 1.4 1.6-1.2 3.4-0.9 1.7 1.4 1.7-0.3 1.7 1.1 1.8 2.4 1.7 3.6 3.4 4.8 3.5 2.8 1.7-3.2 1.8 0.5 1.8-2.4 1.7 0.1 1.8-1.1 1.8 0.3 1.8-0.8-6.2 4.4-1.7 0-1.8-1.1-1.8 3.2-3.5 0.1-1.8-1.9-1.7-0.3-1.8-3.1-1.7-1.3-1.7-2.4-1.8-0.4-3.4 2.3-1.7 0.8-1.7-0.1-1.7 1.2-3.4-2.6-3.4-4.5-1.7-1-4.9 1-1.7-1.2z" fill="url(#p1g92)" stroke="url(#p1g92)"/><path d="M287.2 573.5l1.8-0.8 1.8 0.6 1.8-0.1 3.5 4.2 1.8 0.8 3.6 4.9 1.9-4.1 1.9-0.6 3.6 1.7 1.9 0.2 1.8 2.6 7.5 3.5 1.9-0.3 1.9 1 3.8 3.6 1.9 0.7 1.9-0.1 1.9 0.9-5.8-4.3-1.9-0.7-2-1.7-1.7-10.2-1.9-2.9-2.1 11.2-2 5.2-7.5-2.5-1.9 0.4-3.7-1-1.9-1.1-3.7 0.8-1.9 1.9-1.8 0.7-1.8-0.6-1.8-1.3-1.8-2.5-1.8-1.1-1.8-3.4-1.8-2-1.7 0z" fill="url(#p1g93)" stroke="url(#p1g93)"/><path d="M331.5 591.3l1.9 0.9 2-0.7 1.9 1.8 1.9 0.9 1.9 3.5 1.9 2.1 2 0.9 2-1.4 2 1.1 4.1-3.7 2-0.7 6.1 1.3 4.1-1.9 2.1 0.3 4 4.1 4.1 2.7 6 7.2-5.4-8.4-6.4 1.6-2-1.1-4.2 0.2-4.1-1.6-4.2 1.9-2.1 1.7-2-1.5-2-0.1-2-1.3-2 0-3.9-3.6-2-0.8-1.9-1.5-4-1.3-3.8-3.3-1.9-2.7-1.9-0.7z" fill="url(#p1g94)" stroke="url(#p1g94)"/><path d="M379.5 607.5l2 2.2 2.1 0.8 2.2-0.5 2.1 0.5 2.2-2.2 2.1 1.4 2.2 0.2 2.3-4.6 2.2-0.3 2.2 1.2 2.2-0.4 2.2 0.5 2.2-1 2.2 1.9 2.2 0.9 2.1 3.2 4.4 1.9 2 3.9 2.2 1.4 2.4-0.5 2.2 1.5 4.6-0.4 2.4-1.4-5.8 6.1-2.1-3-2.3-1.4-2.3 0.5-6.8-1.4-2.3 0.5-2.4 1.7-2.1-1.5-6.7-0.2-4.3-3.2-2.1-2.5-2.2-0.7-6.4-3.5-2.1-2-2-4.1-2.2 0.5-2-2-4.3 0.3z" fill="url(#p1g95)" stroke="url(#p1g95)"/><path d="M432 619.1l2.4-1.4 2.3 0.4 2.5-2.3 8.9 9 4.6 1.8 2.5-0.5 2.4 0.5 2.4-1 2.4 0.9 2.5-1.2 2.5-0.4 2.4 1.4 4.9 0 2.5 1.2 2.5-0.9 2.5 0.2 2.3 3.1 2.6-0.7 4.8 3.8-5.5 6.9-2.4-2.7-2.2-4.5-2.5-1.2-5.1 0-2.6 1.8-2.5-0.2-2.6 2.2-2.4-1.2-2.5-0.5-4.7-3-2.4-0.7-4.6-3.3-2.5 0.7-2.5 2.3-11.9 0.3-2.2-2.2-4.3-6.9z" fill="url(#p1g96)" stroke="url(#p1g96)"/><path d="M489.5 631.2l7.3 4.8 2.6 0.6 2.4 2.5 2.6-0.2 2.4 2.2 2.7-0.4 2.5 1.1 5.6-3.3 5.2 2.4 2.7-0.8 2.4 3.7 2.8-1 2.6 1.6 2.8-0.9 5.2 3.6 2.8-0.2 2.5 3.6 2.9-1.5 2.6 2.3 2.8 0.8-5.3 6.9-2.8-0.2-2.6-2.1-2.9 0.9-2.7-1.3-8.3-0.4-5-5.6-2.6-1-5-5.9-2.6-1-2.4-3-2.8 1-2.7 0.2-8.3 5.2-2.7 1.1-2.6 0-5-2.7-2.2-4.3-2.4-2.7z" fill="url(#p1g97)" stroke="url(#p1g97)"/><path d="M552.1 651.3l5.5 1.9 2.7 1.8-5.3 7.7-2.8-1-2.6-2.7-2.8-0.2z" fill="url(#p1g98)" stroke="url(#p1g98)"/><path d="M102.7 533.9l1.2 0 1.3 1.6 1.2 0 2.5-0.9 1.1-1.6 1.3-0.3 1.1-2.4 1.3 1.3 2.6 0 1.3 0.7 2.7 3.3 1.3 0.6 1.3 2.4 2.5-2.3 1.3 0.1 1.2-1.9 1.3-0.3 1.4 0.8 3.9 0.4-6.7-4.6-1.2 0.7-1.3 1.7-1.3 0.6-1.3-0.4-1.2 1.6-2.6 0.9-2.7-2.7-2.6-0.5-1.2 1.4-1.3-1.4-1.2 0.4-1.2 2.7-1.3-0.3-2.4 1.3-3.9-3.4-1.2 0.5-3.8-2.1z" fill="url(#p1g99)" stroke="url(#p1g99)"/><path d="M133.2 535.4l1.3 0 2.8 2.7 2.6-0.2 1.5 3.5 2.7 0.3 2.6-3.5 1.3-0.6 1.4 1.1 1.3-0.8 2.8 0.9 4.3 3.7 2.8 1.7 2.9 3.3 1.4 0.3 1.5 2.6 1.5 1-6.7-8.3-1.4 2.1-2.7 1.8-4.3-1.5-1.4-2.1-1.5-0.9-2.7 1.1-1.4-0.6-1.3 0.2-4.3-4.1-1.3 0.8-5.6-5-1.4-1.8-1.3-0.8-1.4 0.1-1.4-1.6-1.2 0.7z" fill="url(#p1g100)" stroke="url(#p1g100)"/><path d="M166.4 550.4l2.9 2.4 1.5 1.9 1.4-0.4 1.5 2.2 5.8 0.2 1.5 1.4 2.8-1.7 1.5-1.7 1.4-3.2 2.9-1.6 1.5 0.2 1.4-1.6 1.6 0.6 1.4-2.2 3-1.2 1.6 1.6 3 1.7-6.4-1.2-3-0.4-3 2.1-1.5 1.6-1.5 0.2-1.5 1-1.5-2.2-3 0.6-3-0.8-1.5-2.5-1.5 0.3-6.1-9.3-2.8 0.4-1.5-0.7-1.4 2.3-1.4 0.5-2.7 4.3z" fill="url(#p1g101)" stroke="url(#p1g101)"/><path d="M201.6 548.2l1.5 0.8 1.6-0.1 3.1 2.7 3.2 3.8 3.2 5.7 1.6 1.3 1.6 2.3 3.1 0.1 1.6-2 1.6 0.1 3.1-2.9 3.3 2.3 1.6 0 1.6 1.2 3.3 0.7 5 2.8-6.4-4.6-1.7-0.6-1.6-3.6-1.7-2.3-4.9-2.3-1.7-0.2-3.2 1.5-3.1 2.8-3.2 1.2-1.6 2.2-1.6-1.4-1.6-2.3-3.2-2.6-4.7-1.8-3.1-4.1-1.6-1.1-1.5 0.1z" fill="url(#p1g102)" stroke="url(#p1g102)"/><path d="M239.9 565.8l1.7 1.2 4.9-1 1.7 1 3.4 4.5 3.4 2.6 1.7-1.2 1.7 0.1 1.7-0.8 3.4-2.3 1.8 0.4 1.7 2.4 1.7 1.3 1.8 3.1 1.7 0.3 1.8 1.9 3.5-0.1 1.8-3.2 1.8 1.1 1.7 0-6.1-7.4-1.8-1.8-1.8 0.6-3.6 3.7-1.7 0.1-1.8 1.2-3.5 0.7-1.8-2-1.7-0.2-1.7-3.5-1.8-0.1-3.4-3.1-3.4-1-3.4-2.1-3.4-0.5-3.4 1.5-1.6-0.9-1.7 0.1-1.7-0.6z" fill="url(#p1g103)" stroke="url(#p1g103)"/><path d="M281.1 577.1l1.7 0 1.8 2 1.8 3.4 1.8 1.1 1.8 2.5 1.8 1.3 1.8 0.6 1.8-0.7 1.9-1.9 3.7-0.8 1.9 1.1 3.7 1 1.9-0.4 7.5 2.5 2-5.2 2.1-11.2 1.9 2.9 1.7 10.2 2 1.7 1.9 0.7-6-0.4-2 2.2-2-1.9-1.9 2.3-1.9-1.3-2 0.9-1.9-2.2-1.9-0.7-1.9 0.5-1.8-2-1.9-0.6-1.9-1.9-1.9-0.9-1.8 0.1-1.9-3.8-1.8-1.7-3.6-6.5-1.9 0.4-1.8-0.9-1.9 0.8-1.8-1.1-1.8 0.5-1.8-1.7-1.8 1.7-1.8-1.8z" fill="url(#p1g104)" stroke="url(#p1g104)"/><path d="M325.7 587.2l1.9 0.7 1.9 2.7 3.8 3.3 4 1.3 1.9 1.5 2 0.8 3.9 3.6 2 0 2 1.3 2 0.1 2 1.5 2.1-1.7 4.2-1.9 4.1 1.6 4.2-0.2 2 1.1 6.4-1.6-5.9 4.5-2-5-2.1-1.7-4-5-2.2 0.7-2.1 1.6-2.1-1.9-2.1 3.2-2.1 0.9-2.1-0.8-4.1 1.3-2 0-2.1 1-1.4-25.9-0.7-53.3-3.1 43.1-2.7 29.7-3.9-3.9-3.9-1.6-2-1.9-1.9 1.2-2 2.2z" fill="url(#p1g105)" stroke="url(#p1g105)"/><path d="M374 601.8l4.3-0.3 2 2 2.2-0.5 2 4.1 2.1 2 6.4 3.5 2.2 0.7 2.1 2.5 4.3 3.2 6.7 0.2 2.1 1.5 2.4-1.7 2.3-0.5 6.8 1.4 2.3-0.5 2.3 1.4 2.1 3-4.8-13.1-2.5 2-4.6-0.2-2.2-1.6-2.1-5.5-2.5-44.4-3.5 25.1-3.1 18-2.4 3.6-2.2-2.4-2.2-0.7-6.5-3.6-4.5 0.5-2.2-0.5-2.3 3.1-4.5 4.3-2.1 0.3-2.1-2.6-2.1-0.3-2-5z" fill="url(#p1g106)" stroke="url(#p1g106)"/><path d="M426.5 620.8l4.3 6.9 2.2 2.2 11.9-0.3 2.5-2.3 2.5-0.7 4.6 3.3 2.4 0.7 4.7 3 2.5 0.5 2.4 1.2 2.6-2.2 2.5 0.2 2.6-1.8 5.1 0 2.5 1.2 2.2 4.5 2.4 2.7-4.7-6.4-2.6-36.6-9.3 22.7-2.9 5.4-2.5-0.7-2.5 0.5-2.6 1.7-2.6 0.4-2.7 3.6-2.4-1.3-2.6 3.3-2.4-1.3-2.4 0.1-7-5.1-6.8-6.8-3.9-14.8-2.7 6.1-2.5 2z" fill="url(#p1g107)" stroke="url(#p1g107)"/><path d="M484 637.2l2.4 2.7 2.2 4.3 5 2.7 2.6 0 2.7-1.1 8.3-5.2 2.7-0.2 2.8-1 2.4 3 2.6 1 5 5.9 2.6 1 5 5.6 8.3 0.4 2.7 1.3 2.9-0.9 2.6 2.1 2.8 0.2-4.4-2.7-2.6-2.2-2.8-0.9-5.1-6.5-8-4.5-5.1-5.2-2.7-0.8-2.8 0-2.6-2-2.3-4.4-2.2-6.3-6.4 11.9-3 3.9-2.6-0.3-2.6-1.2-5.3 1.4-2.7 0.1-2.4-2.1-2.3-3.7-1.3-19.2z" fill="url(#p1g108)" stroke="url(#p1g108)"/><path d="M546.8 658.8l2.8 0.2 2.6 2.7 2.8 1-4-6.2-5.8-0.2-2.6-2.2z" fill="url(#p1g109)" stroke="url(#p1g109)"/><path d="M96.1 531.8l3.8 2.1 1.2-0.5 3.9 3.4 2.4-1.3 1.3 0.3 1.2-2.7 1.2-0.4 1.3 1.4 1.2-1.4 2.6 0.5 2.7 2.7 2.6-0.9 1.2-1.6 1.3 0.4 1.3-0.6 1.3-1.7 1.2-0.7-6.2 8.2-2.4 3.3-1.3 0.9-1.3-0.1-2.7-2-1.3-0.3-2.7-2.6-1.3-0.4-2.5 0.2-2.5 0.9-2.5-0.2-1.3-0.7-1.4-1.7-1.2 0.1-3.8-1-3.7-0.2z" fill="url(#p1g110)" stroke="url(#p1g110)"/><path d="M126.6 531.5l1.2-0.7 1.4 1.6 1.4-0.1 1.3 0.8 1.4 1.8 5.6 5 1.3-0.8 4.3 4.1 1.3-0.2 1.4 0.6 2.7-1.1 1.5 0.9 1.4 2.1 4.3 1.5 2.7-1.8 1.4-2.1-6.1 13.8-1.5-1.5-1.3 0.8-2.9-1.6-1.4-0.2-3.2-12.2-2.4 9.2-1.5-1.4-2.7-0.4-2.9-3.8-1.4-0.9-1.3-0.1-1.4-1.3-1.4 0.9-1.4-2.4-4.5-10.7-2.3 7.7-1.2 1.5z" fill="url(#p1g111)" stroke="url(#p1g111)"/><path d="M159.8 545.2l2.7-4.3 1.4-0.5 1.4-2.3 1.5 0.7 2.8-0.4 6.1 9.3 1.5-0.3 1.5 2.5 3 0.8 3-0.6 1.5 2.2 1.5-1 1.5-0.2 1.5-1.6 3-2.1 3 0.4-6.4 6-4.5 0.4-4.4 5.9-3 0.9-1.5-0.5-1.5-2.3-3-0.6-1.5-0.9-1.4 0.3-1.5-0.9-1.4 0.4-3-0.5-1.4 0.7-4.3 0.3-1.4-0.8-1.4 0.7-1.5-1.5z" fill="url(#p1g112)" stroke="url(#p1g112)"/><path d="M195.2 547.9l1.5-0.1 1.6 1.1 3.1 4.1 4.7 1.8 3.2 2.6 1.6 2.3 1.6 1.4 1.6-2.2 3.2-1.2 3.1-2.8 3.2-1.5 1.7 0.2 4.9 2.3 1.7 2.3 1.6 3.6 1.7 0.6-6.2 15.9-5-4.5-6.7-8.7-1.6 0.4-1.6 1.4-1.6-0.9-1.6 0.5-1.6-1-1.6 0-3.2-2.5-1.5-0.1-8-6.8-3.1-0.8-1.6-1.5-1.5-0.1z" fill="url(#p1g113)" stroke="url(#p1g113)"/><path d="M233.5 561.8l1.7 0.6 1.7-0.1 1.6 0.9 3.4-1.5 3.4 0.5 3.4 2.1 3.4 1 3.4 3.1 1.8 0.1 1.7 3.5 1.7 0.2 1.8 2 3.5-0.7 1.8-1.2 1.7-0.1 3.6-3.7 1.8-0.6 1.8 1.8-6.4 17.5-1.8-2.5-1.7 0.5-1.8-0.7-1.8 1.1-1.8-1.2-1.7 0.1-3.5 1.1-3.5-4.6-3.5-0.1-5.1 0.6-1.7-2.3-3.4-1.4-3.4 0.3-3.3 1.4-1.7-1.1-1.6-0.1-1.7-1.6z" fill="url(#p1g114)" stroke="url(#p1g114)"/><path d="M274.9 567.9l1.8 1.8 1.8-1.7 1.8 1.7 1.8-0.5 1.8 1.1 1.9-0.8 1.8 0.9 1.9-0.4 3.6 6.5 1.8 1.7 1.9 3.8 1.8-0.1 1.9 0.9 1.9 1.9 1.9 0.6 1.8 2 1.9-0.5 1.9 0.7 1.9 2.2 2-0.9 1.9 1.3 1.9-2.3 2 1.9 2-2.2-6.4 14.4-2-1.5-1.9 0.4-1.9-0.7-2 0.8-1.9-1.2-1.9 0.5-1.9-1.2-1.9 0.2-1.9-0.6-1.9 0.7-1.9 0-1.8-1.5-1.9 0.4-3.7-4.6-1.8-0.1-3.7-5.3-3.6-2.6-1.8-0.7-3.7 0.3-1.8 2-1.8-2.5z" fill="url(#p1g115)" stroke="url(#p1g115)"/><path d="M319.6 589.7l2-2.2 1.9-1.2 2 1.9 3.9 1.6 3.9 3.9 2.7-29.7 3.1-43.1 0.7 53.3 1.4 25.9 2.1-1 2 0 4.1-1.3 2.1 0.8 2.1-0.9 2.1-3.2 2.1 1.9 2.1-1.6 2.2-0.7 4 5 2.1 1.7 2 5-6.2 8.9-2.1-2.7-3.3-31.4-4.9 23.5-2.1-0.2-1.5-21-1.4-28.4-5.2 39.2-2.3 9-4.1-0.7-2 1.3-2.1 0.2-2 2.3-2.1 0.3-2 1.1-3.9-0.6-3.9-3.3-2-0.4-3.9-2.5z" fill="url(#p1g116)" stroke="url(#p1g116)"/><path d="M368.2 600.8l2 5 2.1 0.3 2.1 2.6 2.1-0.3 4.5-4.3 2.3-3.1 2.2 0.5 4.5-0.5 6.5 3.6 2.2 0.7 2.2 2.4 2.4-3.6 3.1-18 3.5-25.1 2.5 44.4 2.1 5.5 2.2 1.6 4.6 0.2 2.5-2-6.8 22.3-6.5-9.3-2.3-1.1-2.2-3.3-2.2-1.6-2.3-0.5-2.4 2-2.1-2.1-2.4 0.9-2.1-2-2.3 0.3-2.2-0.6-2.2-1.8-2.3 2.6-2.1-1.8-2.3 0.9-2.1-1.4-2.2 0.4-2.1-2.2-2.2-0.8-4.3 1.4-2.2 1.7-2.1-2.7z" fill="url(#p1g117)" stroke="url(#p1g117)"/><path d="M421.3 612.7l2.5-2 2.7-6.1 3.9 14.8 6.8 6.8 7 5.1 2.4-0.1 2.4 1.3 2.6-3.3 2.4 1.3 2.7-3.6 2.6-0.4 2.6-1.7 2.5-0.5 2.5 0.7 2.9-5.4 9.3-22.7 2.6 36.6-6.2 12.8-2.3-4.7-2-8-5.7 8.7-4.8-4.2-2.5-1.2-2.3-2.7-2.6 0.5-2.4-1.5-2.6 2.3-2.4-2-2.5 1.2-2.5 0-7.1-3.7-2.4-0.8-4.8 1.6-2.5 2-2.5 1.1-2.3-0.6-2.3-1.3-2.2-2.8z" fill="url(#p1g118)" stroke="url(#p1g118)"/><path d="M480.4 614.3l1.3 19.2 2.3 3.7 2.4 2.1 2.7-0.1 5.3-1.4 2.6 1.2 2.6 0.3 3-3.9 6.4-11.9 2.2 6.3 2.3 4.4 2.6 2 2.8 0 2.7 0.8 5.1 5.2 8 4.5 5.1 6.5 2.8 0.9 2.6 2.2-5.5 8.2-5.6-1.7-2.7-2.1-2.7-1.1-3 1.6-2.7-0.8-2.7-1.7-2.7-0.9-5.1-5.6-5.2-3.6-5.2-2.5-2.8 0.4-2.9 2.9-2.6-0.4-2.8 1.6-5.3-0.6-2.7 0.8-2.5-1.2-2.6-0.1-2.4-3.2-2.3-4.7z" fill="url(#p1g119)" stroke="url(#p1g119)"/><path d="M542.6 654.1l2.6 2.2 5.8 0.2-6.1 13.7-2.5-3.3-2.7-2.4-2.8-0.9z" fill="url(#p1g120)" stroke="url(#p1g120)"/><path d="M89.7 535.2l3.7 0.2 3.8 1 1.2-0.1 1.4 1.7 1.3 0.7 2.5 0.2 2.5-0.9 2.5-0.2 1.3 0.4 2.7 2.6 1.3 0.3 2.7 2 1.3 0.1 1.3-0.9 2.4-3.3-6.4 5.9-1.2 0.3-1.4-1-1.3 0.2-1.4-1.9-2.5 0.7-1.4-1.3-2.6 0-1.1 2.1-1.4-1.3-1.3-0.1-2.7-3.3-1.2-0.3-1.2 1.4-2.6-1.1-1.3-1.8-1.3-0.7-1.4-2.8-1.2 0.3-1.3-2-1.1 2.8-1.3-1.2z" fill="url(#p1g121)" stroke="url(#p1g121)"/><path d="M120.4 540.5l1.2-1.5 2.3-7.7 4.5 10.7 1.4 2.4 1.4-0.9 1.4 1.3 1.3 0.1 1.4 0.9 2.9 3.8 2.7 0.4 1.5 1.4 2.4-9.2 3.2 12.2 1.4 0.2 2.9 1.6 1.3-0.8 1.5 1.5-6.9-7.5-1.4 1.4-2.8-0.7-5.6-0.1-5.5-1.3-1.4 0.6-1.4-0.4-1.4-1.9-1.4-0.9-1.4-0.5-1.3 0.8-1.4-1.8-1.3 0.5-1.4-0.8-1.3 0.8-1.3-0.4-1.3 0.5-1.4-0.3-1.2 0.3z" fill="url(#p1g122)" stroke="url(#p1g122)"/><path d="M153.6 555.4l1.5 1.5 1.4-0.7 1.4 0.8 4.3-0.3 1.4-0.7 3 0.5 1.4-0.4 1.5 0.9 1.4-0.3 1.5 0.9 3 0.6 1.5 2.3 1.5 0.5 3-0.9 4.4-5.9 4.5-0.4-6.5 3.8-1.5-1.6-1.5 0.9-3.1-2.7-1.6-0.1-1.5-1.2-2.9 1.7-1.5 0-1.5 1-2.9 0.3-3-0.6-2.9 0.1-4.4-3.1-1.4 1-1.6-4.1-1.4 1.6-2.9-1.4-1.4 1.4z" fill="url(#p1g123)" stroke="url(#p1g123)"/><path d="M188.8 553.7l1.5 0.1 1.6 1.5 3.1 0.8 8 6.8 1.5 0.1 3.2 2.5 1.6 0 1.6 1 1.6-0.5 1.6 0.9 1.6-1.4 1.6-0.4 6.7 8.7 5 4.5-6.8-15.8-1.6-0.5-1.6 2.2-1.7 0.2-3.2 6.5-1.6 2.1-3.2 1.3-4.9-5.8-1.7-4.4-1.6-2-3.3-7.4-3.2-3.1-3.2 0.8-4.5 4.1-3.1 1.1-1.5-1.6z" fill="url(#p1g124)" stroke="url(#p1g124)"/><path d="M227.3 576.7l1.7 1.6 1.6 0.1 1.7 1.1 3.3-1.4 3.4-0.3 3.4 1.4 1.7 2.3 5.1-0.6 3.5 0.1 3.5 4.6 3.5-1.1 1.7-0.1 1.8 1.2 1.8-1.1 1.8 0.7 1.7-0.5 1.8 2.5-6.4-3.3-1.8-0.6-3.6-2.5-1.7-0.3-1.8-1.7-3.5-1.3-3.6-0.5-1.7-0.8-1.8-2.6-3.4-0.8-1.8-3.2-1.7-0.8-3.4 0.4-3.4-1.7-1.7 0.6-1.7-1.1-1.7-2.8-1.7-1.4-3.3-0.8z" fill="url(#p1g125)" stroke="url(#p1g125)"/><path d="M268.5 584.7l1.8 2.5 1.8-2 3.7-0.3 1.8 0.7 3.6 2.6 3.7 5.3 1.8 0.1 3.7 4.6 1.9-0.4 1.8 1.5 1.9 0 1.9-0.7 1.9 0.6 1.9-0.2 1.9 1.2 1.9-0.5 1.9 1.2 2-0.8 1.9 0.7 1.9-0.4 2 1.5-6.1-9.4-2-0.4-2 0.5-1.9-2-1.9-0.8-5.8-0.1-1.9-0.6-3.8 0.6-1.9-1.7-3.8-0.4-5.6 0.3-1.8-2.3-1.8 0-1.9-3-1.8-0.7-1.8 0.6-1.9-0.1-1.8 1.5-3.6-0.6z" fill="url(#p1g126)" stroke="url(#p1g126)"/><path d="M313.2 600.4l3.9 2.5 2 0.4 3.9 3.3 3.9 0.6 2-1.1 2.1-0.3 2-2.3 2.1-0.2 2-1.3 4.1 0.7 2.3-9 5.2-39.2 1.4 28.4 1.5 21 2.1 0.2 4.9-23.5 3.3 31.4 2.1 2.7-4.8-40.4-1.2-32.8-3.3 38.5-2.9 25.7-2.3 5.9-2.1-2.8-2-1.1-2.1-0.2-2.1 1.2-4.2 1.2-2.1 1.3-2.1-0.5-2-2.1-2-0.2-4-3.7-1.9-3.6-2-2.6-2-1-1.9-3.4-2-0.1-4-2.5-1.9 1-2-0.4z" fill="url(#p1g127)" stroke="url(#p1g127)"/><path d="M361.9 612l2.1 2.7 2.2-1.7 4.3-1.4 2.2 0.8 2.1 2.2 2.2-0.4 2.1 1.4 2.3-0.9 2.1 1.8 2.3-2.6 2.2 1.8 2.2 0.6 2.3-0.3 2.1 2 2.4-0.9 2.1 2.1 2.4-2 2.3 0.5 2.2 1.6 2.2 3.3 2.3 1.1 6.5 9.3-5.3-8.6-2.3-1.8-2.5 3.5-2.3 0-2-8.5-1.7-15.1-2.6 8.2-2.1-6-1.4-20.3-5.8 27.6-2.6 7.5-2.2-0.5-2.2-1.3-4.5 1.2-4.4-1.9-2.1-1.8-2.1-3.1-1.4-23.9-1-38.7-2.1-2.7-3.2 32.5-2-5-1.2-32.8z" fill="url(#p1g128)" stroke="url(#p1g128)"/><path d="M414.8 630.2l2.2 2.8 2.3 1.3 2.3 0.6 2.5-1.1 2.5-2 4.8-1.6 2.4 0.8 7.1 3.7 2.5 0 2.5-1.2 2.4 2 2.6-2.3 2.4 1.5 2.6-0.5 2.3 2.7 2.5 1.2 4.8 4.2 5.7-8.7 2 8 2.3 4.7-5.3-0.9-5.4 3.6-2.6-0.7-9.8-6.9-2.4-2.2-2.4-1.1-5-0.5-2.4-1.9-2.5 0.8-2.4-1-4.7-5.2-4.6-4.1-2.4-1.2-7.1-2.2-2.3-0.3-2.5 1.9-2.3-1.8z" fill="url(#p1g129)" stroke="url(#p1g129)"/><path d="M473.2 641.6l2.3 4.7 2.4 3.2 2.6 0.1 2.5 1.2 2.7-0.8 5.3 0.6 2.8-1.6 2.6 0.4 2.9-2.9 2.8-0.4 5.2 2.5 5.2 3.6 5.1 5.6 2.7 0.9 2.7 1.7 2.7 0.8 3-1.6 2.7 1.1 2.7 2.1 5.6 1.7-4.6-2.7-7.7-11.5-2.6-2.8-2.9 0.4-2.8-1.3-2.9 0.8-2.7-0.6-3 2.3-2.6-2.3-2.9 1-2.7-0.9-2.9 2-2.7-0.2-2.7-0.6-2.6-1.8-2.5-2.5-2.7 0.7-2.4-4.4-2.8 1-5.2-0.1-8.3 6.2z" fill="url(#p1g130)" stroke="url(#p1g130)"/><path d="M536.9 663.6l2.8 0.9 2.7 2.4 2.5 3.3-4.6-2.3-5.2-6.1-2.6-3.7z" fill="url(#p1g131)" stroke="url(#p1g131)"/><path d="M83 533.9l1.3 1.2 1.1-2.8 1.3 2 1.2-0.3 1.4 2.8 1.3 0.7 1.3 1.8 2.6 1.1 1.2-1.4 1.2 0.3 2.7 3.3 1.3 0.1 1.4 1.3 1.1-2.1 2.6 0 1.4 1.3 2.5-0.7 1.4 1.9 1.3-0.2 1.4 1 1.2-0.3-6.7-0.5-1.4-0.6-1.3 0.3-1.2 1.6-1.3-1-1.3 1.3-1.4-1.8-1.2 0-2.8-3.8-1.3-0.3-1.3-1.2-1.3 0.8-1.3-0.6-1.1 1.7-1.4-2.4-2.6-0.7-1.3-2.4-2.6-0.6-1.2 0.4-1.2-0.6-1.3-0.6-1.4-3-1.2 0.3z" fill="url(#p1g132)" stroke="url(#p1g132)"/><path d="M114 545.2l1.2-0.3 1.4 0.3 1.3-0.5 1.3 0.4 1.3-0.8 1.4 0.8 1.3-0.5 1.4 1.8 1.3-0.8 1.4 0.5 1.4 0.9 1.4 1.9 1.4 0.4 1.4-0.6 5.5 1.3 5.6 0.1 2.8 0.7 1.4-1.4-6.6 3.4-1.5-2.5-2.8-0.1-1.5-0.9-1.4 0.1-1.4-1-1.4 0.7-1.4-1.6-2.8 0-1.4-1.5-6.8 1.1-2.6 0.9-1.4-1-2.7-1-2.8-3.1-1.2 1.5-1.4-0.6z" fill="url(#p1g133)" stroke="url(#p1g133)"/><path d="M146.8 550.8l1.4-1.4 2.9 1.4 1.4-1.6 1.6 4.1 1.4-1 4.4 3.1 2.9-0.1 3 0.6 2.9-0.3 1.5-1 1.5 0 2.9-1.7 1.5 1.2 1.6 0.1 3.1 2.7 1.5-0.9 1.5 1.6-6.9-8-1.6-1.9-1.5 0.2-1.5-0.4-3 1.7-1.4 3.6-1.5 1.1-1.5-0.1-1.6-2.2-1.4 0.6-3.1-4.5-1.5 0-1.5-1-1.4 0.9-1.4 2.8-1.4 0.3-2.8 3.8-1.4 1-4.4-2.9-1.4 0.2-1.5-2.5z" fill="url(#p1g134)" stroke="url(#p1g134)"/><path d="M182.3 556l1.5 1.6 3.1-1.1 4.5-4.1 3.2-0.8 3.2 3.1 3.3 7.4 1.6 2 1.7 4.4 4.9 5.8 3.2-1.3 1.6-2.1 3.2-6.5 1.7-0.2 1.6-2.2 1.6 0.5-6.5 10.2-1.6-0.5-1.7-2.4-1.6 1-1.7-2.5-1.6 0.9-3.3 0.5-1.6-1.9-1.7 0-1.6-3.9-3.3-1.8-1.6-2.4-1.6 0.7-1.6 0.1-1.5 0.9-1.6-0.5-1.6 0.7-1.5-0.4-1.7-2.2-3.1-3-1.7-4.3-3.2-4z" fill="url(#p1g135)" stroke="url(#p1g135)"/><path d="M220.6 562l3.3 0.8 1.7 1.4 1.7 2.8 1.7 1.1 1.7-0.6 3.4 1.7 3.4-0.4 1.7 0.8 1.8 3.2 3.4 0.8 1.8 2.6 1.7 0.8 3.6 0.5 3.5 1.3 1.8 1.7 1.7 0.3 3.6 2.5 1.8 0.6-6.5 3.6-7.2-9-3.5-0.2-1.8-1.3-1.8 1.3-1.7 0-5.3-1.3-1.7-2.2-1.7-0.9-3.5-4.7-3.4 0-3.4 3.2-1.6 0.8-1.7 1.5-1.7-0.2-1.7-1.8-1.6-0.5z" fill="url(#p1g136)" stroke="url(#p1g136)"/><path d="M262.1 583.3l3.6 0.6 1.8-1.5 1.9 0.1 1.8-0.6 1.8 0.7 1.9 3 1.8 0 1.8 2.3 5.6-0.3 3.8 0.4 1.9 1.7 3.8-0.6 1.9 0.6 5.8 0.1 1.9 0.8 1.9 2 2-0.5 2 0.4-6.5 5-2 0.5-1.9-2.3-1.9-1-2 0.1-1.9-2.7-1.9-0.4-1.9-2.4-3.8-1.8-1.9-1.5-2 1.7-1.8-0.2-1.9-0.9-1.9 2.6-1.9 0.8-1.8-1.2-1.9 0.5-5.5-1.3-1.8 1.3-1.9 0.3-1.8-1.5-1.8-0.6-1.8-2.1z" fill="url(#p1g137)" stroke="url(#p1g137)"/><path d="M307.1 592.1l2 0.4 1.9-1 4 2.5 2 0.1 1.9 3.4 2 1 2 2.6 1.9 3.6 4 3.7 2 0.2 2 2.1 2.1 0.5 2.1-1.3 4.2-1.2 2.1-1.2 2.1 0.2 2 1.1 2.1 2.8 2.3-5.9 2.9-25.7 3.3-38.5 1.2 32.8-7.3 36.4-2.1-0.9-2.1-2.8-2.2 2.4-2.1-2.3-2.1 0-4.2-3.1-2.1-0.1-2-1.3-2-4.7-1.7-18.1-1.6-24.8-2.6 25.1-2.4 16.8-2.1 4.6-2-3.2-4-2.4-2 2.4-2.1 0.8-3.9-1.5-2 1.1-2-1.2-2 0.5z" fill="url(#p1g138)" stroke="url(#p1g138)"/><path d="M358 541.5l1.2 32.8 2 5 3.2-32.5 2.1 2.7 1 38.7 1.4 23.9 2.1 3.1 2.1 1.8 4.4 1.9 4.5-1.2 2.2 1.3 2.2 0.5 2.6-7.5 5.8-27.6 1.4 20.3 2.1 6 2.6-8.2 1.7 15.1 2 8.5 2.3 0 2.5-3.5 2.3 1.8-4.4-32.6-6.1 29.9-2.7 6.7-2.3-0.5-2.2-2.2-2.3-0.8-2.2-2.6-2.3-0.9-4.5-3.1-1.8-11.4-1.2-28.1-2.2-2.4-3.2 25-2.6 8.9-2.1-2.2-2.4 2.2-2.1-1.4-2.2 0.2-2.3 2.6-2.2-1.4-2.2 1-2.1-1.6-2.2 1-2.1-0.9z" fill="url(#p1g139)" stroke="url(#p1g139)"/><path d="M409.4 622.6l2.3 1.8 2.5-1.9 2.3 0.3 7.1 2.2 2.4 1.2 4.6 4.1 4.7 5.2 2.4 1 2.5-0.8 2.4 1.9 5 0.5 2.4 1.1 2.4 2.2 9.8 6.9 2.6 0.7 5.4-3.6-5.3-2.4-7.7-2.2-7.5-4.6-2.5-0.9-2.6 0.1-2.4-1.4-2.4-2.6-2.5-0.8-2.3-2.8-2.5-1.2-2.6 1.8-2.5 0.9-2.5 0.1-2.5 1.3-4.8-0.4-2.5 1-2.3-2.1-2-8-3.5-29.4-3.1 16.9z" fill="url(#p1g140)" stroke="url(#p1g140)"/><path d="M467.5 647.2l8.3-6.2 5.2 0.1 2.8-1 2.4 4.4 2.7-0.7 2.5 2.5 2.6 1.8 2.7 0.6 2.7 0.2 2.9-2 2.7 0.9 2.9-1 2.6 2.3 3-2.3 2.7 0.6 2.9-0.8 2.8 1.3 2.9-0.4 2.6 2.8 7.7 11.5-5.9 9.5-2.8-1.3-9 3.9-2.7-1.8-5-8.2-4.8-10.4-5.3-3.3-5.4-2-5.5-0.2-3 2.9-2.4-3.7-8-1.7-2.6-1.4-2.6-0.3-2.5-2.6-2.7 1.8-2.6-1z" fill="url(#p1g141)" stroke="url(#p1g141)"/><path d="M532.5 658.1l2.6 3.7 5.2 6.1-5.4 5.1-2.8-1.4-2.9-0.3-2.8-1.3z" fill="url(#p1g142)" stroke="url(#p1g142)"/><path d="M76.1 531.2l1.2-0.3 1.4 3 1.3 0.6 1.2 0.6 1.2-0.4 2.6 0.6 1.3 2.4 2.6 0.7 1.4 2.4 1.1-1.7 1.3 0.6 1.3-0.8 1.3 1.2 1.3 0.3 2.8 3.8 1.2 0 1.4 1.8 1.3-1.3 1.3 1 1.2-1.6 1.3-0.3 1.4 0.6-6.6 5.2-2.7-0.3-2.5 0.3-1.4-0.7-2.9-5.8-2.7-3.5-1.3 0.2-1.2 1-2.3 4.6-2.3 2.4-5 0.2-1.4-2.3-1.2 0.9-1.2-0.4-1.2 0.3-1.3-1.4-1.1 1.7z" fill="url(#p1g143)" stroke="url(#p1g143)"/><path d="M107.1 543.8l1.4 0.6 1.2-1.5 2.8 3.1 2.7 1 1.4 1 2.6-0.9 6.8-1.1 1.4 1.5 2.8 0 1.4 1.6 1.4-0.7 1.4 1 1.4-0.1 1.5 0.9 2.8 0.1 1.5 2.5-6.5 7.9-1.5-0.9-1.5-2.9-2.9-2.5-1.5-2.1-2.9-2-2.6 2.2-1.4-0.3-3.9 4.2-4.3-4.7-1.5-2.7-2.7-0.5-1.2 2.9-1.3-0.6-1.2 1.8-2.8-3-1.3-0.1z" fill="url(#p1g144)" stroke="url(#p1g144)"/><path d="M140.1 550.3l1.5 2.5 1.4-0.2 4.4 2.9 1.4-1 2.8-3.8 1.4-0.3 1.4-2.8 1.4-0.9 1.5 1 1.5 0 3.1 4.5 1.4-0.6 1.6 2.2 1.5 0.1 1.5-1.1 1.4-3.6 3-1.7 1.5 0.4 1.5-0.2 1.6 1.9-6.3 17.8-1.6-1.2-1.5 0-1.5 0.7-1.5-0.9-1.5 0.7-4.5-0.3-2.9 1-3-1.7-1.6-2.1-1.5-0.8-3.1-4.3-1.5-3.2-2.9-0.1-1.4 0.5-1.4 2.7-1.4 0.6-1.3 1.4-1.4 0.3-1.5-0.9z" fill="url(#p1g145)" stroke="url(#p1g145)"/><path d="M175.3 547.7l3.2 4 1.7 4.3 3.1 3 1.7 2.2 1.5 0.4 1.6-0.7 1.6 0.5 1.5-0.9 1.6-0.1 1.6-0.7 1.6 2.4 3.3 1.8 1.6 3.9 1.7 0 1.6 1.9 3.3-0.5 1.6-0.9 1.7 2.5 1.6-1 1.7 2.4 1.6 0.5-6.6 3-3.4-1.2-1.6 0.1-5-1.2-1.6 0.1-4.9-5.4-1.6 0.9-1.6-1.2-1.6 0.7-1.6 2.1-1.4 4.4-1.6 1.1-1.5 0.4-1.5 2.2-1.6-0.5-6.4-9.2-3.2-2.8z" fill="url(#p1g146)" stroke="url(#p1g146)"/><path d="M214.1 572.2l1.6 0.5 1.7 1.8 1.7 0.2 1.7-1.5 1.6-0.8 3.4-3.2 3.4 0 3.5 4.7 1.7 0.9 1.7 2.2 5.3 1.3 1.7 0 1.8-1.3 1.8 1.3 3.5 0.2 7.2 9-6.6-2.9-1.8 0.4-1.8-1.1-3.6 2.6-1.8 0-1.8 1.2-5.3-3.2-1.7-1.7-3.5 2.1-1.7-2.1-1.7 2.8-1.7 0.8-3.4 1.2-1.7-0.6-1.7 0.3-1.7-3.3-1.7-0.5-1.7-4-1.8-2.6-3.3-2z" fill="url(#p1g147)" stroke="url(#p1g147)"/><path d="M255.6 585.4l1.8 2.1 1.8 0.6 1.8 1.5 1.9-0.3 1.8-1.3 5.5 1.3 1.9-0.5 1.8 1.2 1.9-0.8 1.9-2.6 1.9 0.9 1.8 0.2 2-1.7 1.9 1.5 3.8 1.8 1.9 2.4 1.9 0.4 1.9 2.7 2-0.1 1.9 1 1.9 2.3 2-0.5-6.5 3.2-2 1.7-2-0.7-1.9 0.7-2-1.1-1.9-4.3-1.9 0.4-3.8-1.6-3.9 0.2-1.9 0.9-3.7 0.2-1.9-3-1.9-0.1-1.8-1.3-1.9 1.9-1.8 0.4-1.9-0.6-1.8-1.3-1.9-3.8-1.8-2.4-3.6-2.3-1.8 0.4z" fill="url(#p1g148)" stroke="url(#p1g148)"/><path d="M300.6 598l2-0.5 2 1.2 2-1.1 3.9 1.5 2.1-0.8 2-2.4 4 2.4 2 3.2 2.1-4.6 2.4-16.8 2.6-25.1 1.6 24.8 1.7 18.1 2 4.7 2 1.3 2.1 0.1 4.2 3.1 2.1 0 2.1 2.3 2.2-2.4 2.1 2.8 2.1 0.9-6.3-0.3-1.6-21.8-2.4 11.1-2.6 14.8-2.2 5.2-2.1-2.6-2.1-0.8-2-4-2.1-1.8-2-1-2.1-4.1-2.1 1.7-4.1-0.1-2.1-0.5-2.1 4.1-2-0.6-2 0.8-4.1-1-5.8-8.3-2.1 1.3-1.9-2.1-2 1.7z" fill="url(#p1g149)" stroke="url(#p1g149)"/><path d="M349.8 609.8l2.1 0.9 2.2-1 2.1 1.6 2.2-1 2.2 1.4 2.3-2.6 2.2-0.2 2.1 1.4 2.4-2.2 2.1 2.2 2.6-8.9 3.2-25 2.2 2.4 1.2 28.1 1.8 11.4 4.5 3.1 2.3 0.9 2.2 2.6 2.3 0.8 2.2 2.2 2.3 0.5 2.7-6.7 6.1-29.9-6.4 7.1-1.6-18.6-3.5 27.3-3.2 18.7-2.6 6.6-2.3-0.5-7.1 2.3-2.3 0.1-4.5-0.9-2.3 0.9-2.2-2.5-2.3-0.2-2.2-1.2-2.1-2.9-2.2 0.3-4.4-2.4-2.2 1.1-2.2-0.4-2.2-1-2.1 0.5-1.8-15.7-1.6-21.8z" fill="url(#p1g150)" stroke="url(#p1g150)"/><path d="M404.2 608.7l3.1-16.9 3.5 29.4 2 8 2.3 2.1 2.5-1 4.8 0.4 2.5-1.3 2.5-0.1 2.5-0.9 2.6-1.8 2.5 1.2 2.3 2.8 2.5 0.8 2.4 2.6 2.4 1.4 2.6-0.1 2.5 0.9 7.5 4.6 7.7 2.2-6.1 6.2-5.2-1.1-2.6 1.1-2.8 3-2.6 0.6-2.6-0.9-2.6 0.4-2.4-1.8-2.6 0.3-2.3-2.7-2.5-1-2.4-1.8-7.1-8-2.4-1-2.3-3.5-2.4-0.4-2.4-1.2-5 1.7-2.4-0.4-1.9-10.3-3-41.9z" fill="url(#p1g151)" stroke="url(#p1g151)"/><path d="M462.3 642l2.6 1 2.7-1.8 2.5 2.6 2.6 0.3 2.6 1.4 8 1.7 2.4 3.7 3-2.9 5.5 0.2 5.4 2 5.3 3.3 4.8 10.4 5 8.2 2.7 1.8 9-3.9 2.8 1.3-5.3 2-2.6-3.2-2.9 0-2.7-3.4-2.9 0.4-3 1.8-2.7-2.8-8.4-1-5.3-3.9-5.5-1.4-2.7-0.6-2.8 0.3-2.7-0.2-2.7-1.3-2.9 2.9-2.5-2.1-2.8 0.5-4.9-5.5-5.1-4.6-2.6-0.6z" fill="url(#p1g152)" stroke="url(#p1g152)"/><path d="M526.4 670l2.8 1.3 2.9 0.3 2.8 1.4-5.2 1.5-2.8-1.2-3 0-2.6-3.2z" fill="url(#p1g153)" stroke="url(#p1g153)"/><path d="M70.2 546.8l1.1-1.7 1.3 1.4 1.2-0.3 1.2 0.4 1.2-0.9 1.4 2.3 5-0.2 2.3-2.4 2.3-4.6 1.2-1 1.3-0.2 2.7 3.5 2.9 5.8 1.4 0.7 2.5-0.3 2.7 0.3-7.2-3.3-1.3-0.6-1.3 1-1.3-0.9-1.2 1-2.6 0.2-1.2 2.2-1.3-1-1.3 0.3-1.3-1.3-2.8-3.9-1.3-0.4-2.8-4.6-1.3-1.2-2.5 0.2-1.3-1.3-1.1 1.9-1.3-1.4-1.3-0.6-1.2 0.2-1.1 2.3-1.2-0.4z" fill="url(#p1g154)" stroke="url(#p1g154)"/><path d="M100.6 549.5l1.3 0.1 2.8 3 1.2-1.8 1.3 0.6 1.2-2.9 2.7 0.5 1.5 2.7 4.3 4.7 3.9-4.2 1.4 0.3 2.6-2.2 2.9 2 1.5 2.1 2.9 2.5 1.5 2.9 1.5 0.9-7.4-8.7-1.4 0.1-2.7 1.8-1.4 0.2-1.3 1.6-2.7 1.3-2.9-1.9-2.7-0.3-1.4-1.3-1.4 0.2-2.8-1.8-1.3 0.2-1.5-2.4-1.3 0.1-1.4-1.4-1.4 0.2-1.4-1.5-2.6 0.2-2.7-1.6z" fill="url(#p1g155)" stroke="url(#p1g155)"/><path d="M133.6 559.8l1.5 0.9 1.4-0.3 1.3-1.4 1.4-0.6 1.4-2.7 1.4-0.5 2.9 0.1 1.5 3.2 3.1 4.3 1.5 0.8 1.6 2.1 3 1.7 2.9-1 4.5 0.3 1.5-0.7 1.5 0.9 1.5-0.7 1.5 0 1.6 1.2-7.2-7.7-1.6-4.3-3.2-3.2-1.5 1.5-1.5 0.6-1.4 1.2-3 0.7-1.5 0.9-3-1.3-1.5-1.7-3-1.1-1.5-1.3-2.9 0.2-1.4 1.2-1.4 0.4-1.5-1.3-1.4 0.9-3-2.4-1.4 1.3-1.4 0.1z" fill="url(#p1g156)" stroke="url(#p1g156)"/><path d="M169 566.2l3.2 2.8 6.4 9.2 1.6 0.5 1.5-2.2 1.5-0.4 1.6-1.1 1.4-4.4 1.6-2.1 1.6-0.7 1.6 1.2 1.6-0.9 4.9 5.4 1.6-0.1 5 1.2 1.6-0.1 3.4 1.2-7-3.4-1.6 0.9-1.7-0.8-1.6 1.2-1.7 0-1.6 0.8-1.6 2-3.2-0.8-1.7-1.8-5-9.6-1.7-1.5-1.7-3.3-1.6-2.1-1.5 1.5-1.6-0.4-3 4.3-3.1 1.5-1.6-0.6-1.6-2.5-1.6-1.4-1.6-4.3z" fill="url(#p1g157)" stroke="url(#p1g157)"/><path d="M207.4 574.9l3.3 2 1.8 2.6 1.7 4 1.7 0.5 1.7 3.3 1.7-0.3 1.7 0.6 3.4-1.2 1.7-0.8 1.7-2.8 1.7 2.1 3.5-2.1 1.7 1.7 5.3 3.2 1.8-1.2 1.8 0 3.6-2.6 1.8 1.1 1.8-0.4-6.8 3.2-1.8 1.7-5.4-1-1.8-1-1.7 0.7-1.8-4.6-1.8-0.2-3.6-4-1.7-0.7-1.8-2.4-1.7 2.3-1.7 1-1.7-0.8-1.7 1.8-3.4 0.7-3.5-2.9-1.6-0.5-1.8-2.5-3.4-3.1-1.6 0.9z" fill="url(#p1g158)" stroke="url(#p1g158)"/><path d="M249 585l1.8-0.4 3.6 2.3 1.8 2.4 1.9 3.8 1.8 1.3 1.9 0.6 1.8-0.4 1.9-1.9 1.8 1.3 1.9 0.1 1.9 3 3.7-0.2 1.9-0.9 3.9-0.2 3.8 1.6 1.9-0.4 1.9 4.3 2 1.1 1.9-0.7 2 0.7 2-1.7-6.4-23.2-4.2 26.8-2 2-1.9-2.1-1.9-1.2-5.8-10.2-1.9-1.9-1.9 0.7-1.9-2.4-9.5-2.5-1.8 1.8-3.7-3.1-1.9 3.1-1.8-0.6-1.8 1.2-3.7-1.3-1.8 1.7z" fill="url(#p1g159)" stroke="url(#p1g159)"/><path d="M294.1 602.4l2-1.7 1.9 2.1 2.1-1.3 5.8 8.3 4.1 1 2-0.8 2 0.6 2.1-4.1 2.1 0.5 4.1 0.1 2.1-1.7 2.1 4.1 2 1 2.1 1.8 2 4 2.1 0.8 2.1 2.6 2.2-5.2 2.6-14.8 2.4-11.1 1.6 21.8-6.5 3.4-2.2 0.9-2.1-2.2-2.2 2.2-2.1-0.3-2.1-3.2-2.1-0.6-2.1-2.5-1.8-16-1.3-41.9-2.4 10-2.7 33.9-2.2 8-2.1 2.4-2-0.3-2.2 3.3-2-1.3-2 0.8-2.1-0.9-4 2.2-2-2.5-1.9-6.1-3.8-22.2-2.1 15.1z" fill="url(#p1g160)" stroke="url(#p1g160)"/><path d="M344 588.6l1.6 21.8 1.8 15.7 2.1-0.5 2.2 1 2.2 0.4 2.2-1.1 4.4 2.4 2.2-0.3 2.1 2.9 2.2 1.2 2.3 0.2 2.2 2.5 2.3-0.9 4.5 0.9 2.3-0.1 7.1-2.3 2.3 0.5 2.6-6.6 3.2-18.7 3.5-27.3 1.6 18.6-7.4 29.1-4.7-1.6-7.1 0.1-2.4 2.1-4.7 0.5-2.4 2-2.2-1.5-2.4 0.7-4.4-3.7-2.2-0.9-2.2-2.3-2.3 0.5-2.1-3.8-1.8-13.6-1.7-21.3-2.1-2.9-2.8 21.6-2.6 11.6-4.3-1.7-2.2 0.9z" fill="url(#p1g161)" stroke="url(#p1g161)"/><path d="M399.3 580.3l3 41.9 1.9 10.3 2.4 0.4 5-1.7 2.4 1.2 2.4 0.4 2.3 3.5 2.4 1 7.1 8 2.4 1.8 2.5 1 2.3 2.7 2.6-0.3 2.4 1.8 2.6-0.4 2.6 0.9 2.6-0.6 2.8-3 2.6-1.1 5.2 1.1-5.6-1.2-2.6-0.8-5.1-3.8-2.2-7-2.3-4.4-3.1 7.4-2.7 2.9-2.6-0.9-2.6 1-5-0.5-2.6 1-2.5-1.3-2.5 0.8-2.4-3.2-2.5 0.5-2.4-0.4-2.4-1.4-2.5 0.5-2.4-0.7-2.5 0.3-2.3-2.2-2.2-4.5-2.3-3.3-2.3-0.8z" fill="url(#p1g162)" stroke="url(#p1g162)"/><path d="M456.2 648.6l2.6 0.6 5.1 4.6 4.9 5.5 2.8-0.5 2.5 2.1 2.9-2.9 2.7 1.3 2.7 0.2 2.8-0.3 2.7 0.6 5.5 1.4 5.3 3.9 8.4 1 2.7 2.8 3-1.8 2.9-0.4 2.7 3.4 2.9 0 2.6 3.2-4.7-6.3-3 1.1-2.9-0.6-3.2 2.7-2.7-2-3 0.7-2.8-0.7-2.9 0.1-2.9 1.2-5.5-3.1-2.5-3.7-5.3-5-2.7-0.4-2.8 0.5-5.4-2-2.6-2.2-2.7-0.4-2.6-1.5-2.8 0.7-2.7 0-5-4.4-2.6-0.8z" fill="url(#p1g163)" stroke="url(#p1g163)"/><path d="M521.3 670.1l2.6 3.2 3 0 2.8 1.2-4.4-8.4-3-0.3-6.1 2.3z" fill="url(#p1g164)" stroke="url(#p1g164)"/><path d="M62.7 538l1.2 0.4 1.1-2.3 1.2-0.2 1.3 0.6 1.3 1.4 1.1-1.9 1.3 1.3 2.5-0.2 1.3 1.2 2.8 4.6 1.3 0.4 2.8 3.9 1.3 1.3 1.3-0.3 1.3 1 1.2-2.2 2.6-0.2 1.2-1 1.3 0.9 1.3-1 1.3 0.6-7.5-7.6-1.3-0.5-1.3 0.7-3.6 4.6-4-1.9-1.2 0.2-1.3-0.6-1.3 0.5-1.3-0.5-1.2 0.3-1.3-0.5-1.3-0.8-1.4-2.1-1.2 0.1-1.4-1.9-1.1 1.6-1.3 0-5.9 3z" fill="url(#p1g165)" stroke="url(#p1g165)"/><path d="M93.4 545.7l2.7 1.6 2.6-0.2 1.4 1.5 1.4-0.2 1.4 1.4 1.3-0.1 1.5 2.4 1.3-0.2 2.8 1.8 1.4-0.2 1.4 1.3 2.7 0.3 2.9 1.9 2.7-1.3 1.3-1.6 1.4-0.2 2.7-1.8 1.4-0.1-6.6 8.7-1.5-1.5-2.9-0.9-2.9-2.2-4.3-4.4-1.4-0.2-1.4 0.8-1.3-0.5-1.3 1.6-2.8-0.4-1.3 0.9-1.4-1.6-1.4-0.6-2.9-4.9-1.4-0.6-1.5-3.7-2.8-3.9-1.4 0.1-1.3-0.5z" fill="url(#p1g166)" stroke="url(#p1g166)"/><path d="M126.3 552.1l1.4-0.1 1.4-1.3 3 2.4 1.4-0.9 1.5 1.3 1.4-0.4 1.4-1.2 2.9-0.2 1.5 1.3 3 1.1 1.5 1.7 3 1.3 1.5-0.9 3-0.7 1.4-1.2 1.5-0.6 1.5-1.5 3.2 3.2 1.6 4.3-7.1-1.3-1.5-1-3.1-0.9-1.5 0.3-2.9 3.2-1.5 0.1-3.1-1.1-1.4 0.6-1.5-0.4-1.4 2-1.6-2.2-1.4 0.8-1.5-2.2-1.5 1-1.4-0.3-1.4 1.5-1.4 0.3-1.4 1.5-2.8 0.7-1.5-1.4-1.4-0.2-1.5-1.5z" fill="url(#p1g167)" stroke="url(#p1g167)"/><path d="M161.8 555.4l1.6 4.3 1.6 1.4 1.6 2.5 1.6 0.6 3.1-1.5 3-4.3 1.6 0.4 1.5-1.5 1.6 2.1 1.7 3.3 1.7 1.5 5 9.6 1.7 1.8 3.2 0.8 1.6-2 1.6-0.8 1.7 0 1.6-1.2 1.7 0.8 1.6-0.9-6.8 7.1-1.7 0-1.7-1.2-1.6 0.1-1.7-3.3-1.7-0.3-1.7-2.9-1.6-1.4-3.4-4.8-3.2 1.8-4.7 1.3-1.7-1.5-4.9-7.7-1.6 0.8-1.6-1.4-1.5 0.6-1.6-0.2-3.1-0.9-1.5-1z" fill="url(#p1g168)" stroke="url(#p1g168)"/><path d="M200.5 573.2l1.6-0.9 3.4 3.1 1.8 2.5 1.6 0.5 3.5 2.9 3.4-0.7 1.7-1.8 1.7 0.8 1.7-1 1.7-2.3 1.8 2.4 1.7 0.7 3.6 4 1.8 0.2 1.8 4.6 1.7-0.7 1.8 1 5.4 1 1.8-1.7-7-20.4-1.9 1-3.5 8.6-3.6 3-1.8-3.2-1.7 1.1-1.8 0.3-5.3-0.9-1.7 0.3-1.8-1.1-1.7 0-3.5-5.1-1.8-0.3-1.7-2.2-3.3 5-4.9 5.3-3.4 0.2z" fill="url(#p1g169)" stroke="url(#p1g169)"/><path d="M242.2 589.5l1.8-1.7 3.7 1.3 1.8-1.2 1.8 0.6 1.9-3.1 3.7 3.1 1.8-1.8 9.5 2.5 1.9 2.4 1.9-0.7 1.9 1.9 5.8 10.2 1.9 1.2 1.9 2.1 2-2 4.2-26.8-6.8 3.5-2-2.5-2-0.4-2-2-2 1.1-1.9 2.8-2 0.9-1.9-0.1-2-1.6-3.8-6.4-2-1.8-1.9 3.4-3.8 3.6-1.9 0.4-1.8 1.2-1.9 0.3-1.9-2-1.9-0.5-1.8-3.7-5.6-6.8-3.7 1.5z" fill="url(#p1g170)" stroke="url(#p1g170)"/><path d="M287.6 592.6l2.1-15.1 3.8 22.2 1.9 6.1 2 2.5 4-2.2 2.1 0.9 2-0.8 2 1.3 2.2-3.3 2 0.3 2.1-2.4 2.2-8 2.7-33.9 2.4-10 1.3 41.9 1.8 16 2.1 2.5 2.1 0.6 2.1 3.2 2.1 0.3 2.2-2.2 2.1 2.2 2.2-0.9-5.6-39.2-2.4 7.5-2.6 20.1-2-7.8-2.3 2.1-2.2 4.9-2.2 0.4-2.1-1.8-1.9-11.9-3.5-46.6-2.5 26.7-2.4 19.4-2.2 4.2-2-1-2.1-2.6-2-1.6-2.1-0.7-2-2.5-2-0.8-4.1 0.5-2 1-2-1.1-4-4.5z" fill="url(#p1g171)" stroke="url(#p1g171)"/><path d="M336.9 614.7l2.2-0.9 4.3 1.7 2.6-11.6 2.8-21.6 2.1 2.9 1.7 21.3 1.8 13.6 2.1 3.8 2.3-0.5 2.2 2.3 2.2 0.9 4.4 3.7 2.4-0.7 2.2 1.5 2.4-2 4.7-0.5 2.4-2.1 7.1-0.1 4.7 1.6-4.3-48.2-3.2 19.3-2.9 13.2-2.8 9.2-2.4 0.3-2.4 2.2-2.4-0.5-2.3-1.2-4.6-0.1-4.8 4-2.3 0.4-4.5-1.6-2.2-2.1-2.3-1-2-6.6-1.7-20.3-1.5-28.6-5.4 35.4-1.9-15.3-1.9-11.5-2.2-0.4-2.4 7.5z" fill="url(#p1g172)" stroke="url(#p1g172)"/><path d="M391.2 627.2l2.3 0.8 2.3 3.3 2.2 4.5 2.3 2.2 2.5-0.3 2.4 0.7 2.5-0.5 2.4 1.4 2.4 0.4 2.5-0.5 2.4 3.2 2.5-0.8 2.5 1.3 2.6-1 5 0.5 2.6-1 2.6 0.9 2.7-2.9 3.1-7.4 2.3 4.4 2.2 7 5.1 3.8 2.6 0.8-5.9 0.4-2.6-1.1-2.7 0.2-7.6-4.8-2.5-2.2-2.6 0.1-2.5-2.3-2.5-1-2.5-1.6-5.1-1.2-2.4-1.8-2.5-0.3-2.5-2.2-2.5 0-2.6 3-2.5 1.1-2.2-7.1-1.7-17.7-2.6 4-2.6 2.3-3.4-36-3.2 19.3z" fill="url(#p1g173)" stroke="url(#p1g173)"/><path d="M450.6 647.2l2.6 0.8 5 4.4 2.7 0 2.8-0.7 2.6 1.5 2.7 0.4 2.6 2.2 5.4 2 2.8-0.5 2.7 0.4 5.3 5 2.5 3.7 5.5 3.1 2.9-1.2 2.9-0.1 2.8 0.7 3-0.7 2.7 2 3.2-2.7 2.9 0.6 3-1.1-5.7 4.6-2.9-1.3-2.6-4.6-2.8-0.9-8.5-4.2-2.9 0-2.8-0.8-8.7 1.3-3 1.9-2.7-1.4-2.9 0.7-8.2-1.4-5.3-3.2-2.5-3.5-7.7-6.6-2.7 0.8-2.6-1.1z" fill="url(#p1g174)" stroke="url(#p1g174)"/><path d="M516.2 668.1l6.1-2.3 3 0.3-6.3 11.2-2.7-3.7-5.7-3.3z" fill="url(#p1g175)" stroke="url(#p1g175)"/><path d="M55.8 540.9l5.9-3 1.3 0 1.1-1.6 1.4 1.9 1.2-0.1 1.4 2.1 1.3 0.8 1.3 0.5 1.2-0.3 1.3 0.5 1.3-0.5 1.3 0.6 1.2-0.2 4 1.9 3.6-4.6 1.3-0.7 1.3 0.5-5.9 21.8-1.3 0.1-1.2 1.1-1.2 2.3-1.3 0-1.3-0.8-1.2 1.4-3.8 0.1-1.1 2.5-2.6-1.4-1.2 1.3-5.2-4.8-2.6-0.9-1.3-2.2-1.2 1-5.1-3.2z" fill="url(#p1g176)" stroke="url(#p1g176)"/><path d="M85.9 538.2l1.3 0.5 1.4-0.1 2.8 3.9 1.5 3.7 1.4 0.6 2.9 4.9 1.4 0.6 1.4 1.6 1.3-0.9 2.8 0.4 1.3-1.6 1.3 0.5 1.4-0.8 1.4 0.2 4.3 4.4 2.9 2.2 2.9 0.9 1.5 1.5-6.4 16.4-4.4-3.5-1.6-3.5-1.4-0.2-1.3 0.6-1.3 1.4-1.4-0.7-1.3 1.7-1.4-0.7-1.3 0.8-2.7 0.6-1.2 1.6-1.4 0.5-1.2 1.8-2.7-1.7-7.5-15.4-2.6 0.2z" fill="url(#p1g177)" stroke="url(#p1g177)"/><path d="M119.6 559.2l1.5 1.5 1.4 0.2 1.5 1.4 2.8-0.7 1.4-1.5 1.4-0.3 1.4-1.5 1.4 0.3 1.5-1 1.5 2.2 1.4-0.8 1.6 2.2 1.4-2 1.5 0.4 1.4-0.6 3.1 1.1 1.5-0.1 2.9-3.2 1.5-0.3 3.1 0.9 1.5 1-6 31.5-3.2-3.9-3-1.2-1.6-1.3-3-0.8-3.1-2.2-1.4 0.4-1.5-0.2-1.6-2.9-3-2.9-2.9 1.2-1.5-1.6-1.4 0.2-1.3 2.4-1.5-0.6-2.8 1.4-1.4-0.2-2.9-1.6z" fill="url(#p1g178)" stroke="url(#p1g178)"/><path d="M154.8 557.4l1.5 1 3.1 0.9 1.6 0.2 1.5-0.6 1.6 1.4 1.6-0.8 4.9 7.7 1.7 1.5 4.7-1.3 3.2-1.8 3.4 4.8 1.6 1.4 1.7 2.9 1.7 0.3 1.7 3.3 1.6-0.1 1.7 1.2 1.7 0-6.7 17.2-1.7-2.5-1.6 0.5-1.8-2.7-1.6-0.6-1.6 0.9-1.7-0.4-1.6-1-1.7-2.1-3.2 0.2-1.5 1.6-9.6-3.2-1.5 2.3-1.5-0.2-1.5 2.1-1.6-0.1-1.5 1-1.6-2.2-1.5-0.3-1.6-1.7z" fill="url(#p1g179)" stroke="url(#p1g179)"/><path d="M193.6 579.4l3.4-0.2 4.9-5.3 3.3-5 1.7 2.2 1.8 0.3 3.5 5.1 1.7 0 1.8 1.1 1.7-0.3 5.3 0.9 1.8-0.3 1.7-1.1 1.8 3.2 3.6-3 3.5-8.6 1.9-1-7.1 3.5-1.8-2.8-1.8 5.5-3.1 37.7-7.1-2.2-1.8-1.7-1.8-3.5-1.7 0.3-1.8-3.2-1.7 1.1-1.7-0.6-1.7 2.5-1.7 0.2-1.7 1.5-1.7-0.4-3.4-2.4-1.7-2-3.4-2.1-3.4-4.7z" fill="url(#p1g180)" stroke="url(#p1g180)"/><path d="M235.1 568.4l3.7-1.5 5.6 6.8 1.8 3.7 1.9 0.5 1.9 2 1.9-0.3 1.8-1.2 1.9-0.4 3.8-3.6 1.9-3.4 2 1.8 3.8 6.4 2 1.6 1.9 0.1 2-0.9 1.9-2.8 2-1.1 2 2 2 0.4 2 2.5-6.9-6.7-2 1.4-2 0.8-4-2.1-9.8-9.9-3.9 0.3-1.9 0.5-1.9 1.3-1.9 2.1-1.9 4.4-1.9 2.9-1.8 1.4-1.9-0.2-1.9-1.9-3.7-2.5-1.9-2.2-1.8 1-1.9-0.7-1.8-2.8z" fill="url(#p1g181)" stroke="url(#p1g181)"/><path d="M280.9 578.5l4 4.5 2 1.1 2-1 4.1-0.5 2 0.8 2 2.5 2.1 0.7 2 1.6 2.1 2.6 2 1 2.2-4.2 2.4-19.4 2.5-26.7 3.5 46.6 1.9 11.9 2.1 1.8 2.2-0.4 2.2-4.9 2.3-2.1 2 7.8 2.6-20.1 2.4-7.5-8 59.9-6.4-3.8-2.2-2.2-8-35.2-2-7.5-2.1-1.5-2-7.3-2-11.4-2.1 1.3-2.2 8.5-2.2 4.5-2-0.3-2.1-1.3-2.1 2.1-2-0.8-2.1-0.1-2-1.3-2-0.6-4-3.3-2 1.4z" fill="url(#p1g182)" stroke="url(#p1g182)"/><path d="M331.1 582.1l2.4-7.5 2.2 0.4 1.9 11.5 1.9 15.3 5.4-35.4 1.5 28.6 1.7 20.3 2 6.6 2.3 1 2.2 2.1 4.5 1.6 2.3-0.4 4.8-4 4.6 0.1 2.3 1.2 2.4 0.5 2.4-2.2 2.4-0.3 2.8-9.2 2.9-13.2 3.2-19.3-9.2 70.9-4.7-1.7-2.4-0.4-2.3-1.2-7-2-2.3-1.3-2.3-0.1-9.2-2.9-2.2 0.4-6.8-1.1-4.5 2.4-2.2 0.4-2.2-1.4-6.4-7.3-2.2-1.1z" fill="url(#p1g183)" stroke="url(#p1g183)"/><path d="M386 599.1l3.2-19.3 3.4 36 2.6-2.3 2.6-4 1.7 17.7 2.2 7.1 2.5-1.1 2.6-3 2.5 0 2.5 2.2 2.5 0.3 2.4 1.8 5.1 1.2 2.5 1.6 2.5 1 2.5 2.3 2.6-0.1 2.5 2.2 7.6 4.8 2.7-0.2 2.6 1.1-7.3 21.1-2.6-0.4-5.2-2.4-2.6-0.4-7.6-3.9-5.1-2.2-5-1.4-2.5-1.3-2.5-0.2-5-1.9-4.9-0.6-4.9-1.9-4.9-0.5-2.4-1.2-4.8-0.5-2.4-0.9z" fill="url(#p1g184)" stroke="url(#p1g184)"/><path d="M444.7 647.3l2.6 1.1 2.7-0.8 7.7 6.6 2.5 3.5 5.3 3.2 8.2 1.4 2.9-0.7 2.7 1.4 3-1.9 8.7-1.3 2.8 0.8 2.9 0 8.5 4.2 2.8 0.9 2.6 4.6 2.9 1.3-6 6.2-2.8-2-3.1 1.4-3.3 3.7-2.9 0.3-2.9-1.6-2.9 0.4-2.7-3.2-3 2-2.9-0.2-3 1.8-2.8-0.3-2.8-0.5-2.7-1.4-5.5-1.2-2.7-1.5-8.2-1.7-2.6-1.2-2.8 0.1-2.6-1.8-2.6-0.1-2.7-1.3-2.6-0.4z" fill="url(#p1g185)" stroke="url(#p1g185)"/><path d="M510.6 670.3l5.7 3.3 2.7 3.7-5.5 1.8-3-1.3-3 0-2.8-2z" fill="url(#p1g186)" stroke="url(#p1g186)"/><path d="M49.7 557l5.1 3.2 1.2-1 1.3 2.2 2.6 0.9 5.2 4.8 1.2-1.3 2.6 1.4 1.1-2.5 3.8-0.1 1.2-1.4 1.3 0.8 1.3 0 1.2-2.3 1.2-1.1 1.3-0.1-7.1 2.7-1.3 0.9-1.3-0.2-1.4-1.8-1.2 0.4-4.2-5-2.8-4.9-1.3-0.9-1.4-2-1.3-0.2-1.2 1.2-1.2 0.3-6.8 9.4-1.3-1.6-1.2 0.8-1.3-1.2-1.2-0.5-1.3-1.6z" fill="url(#p1g187)" stroke="url(#p1g187)"/><path d="M80 560.6l2.6-0.2 7.5 15.4 2.7 1.7 1.2-1.8 1.4-0.5 1.2-1.6 2.7-0.6 1.3-0.8 1.4 0.7 1.3-1.7 1.4 0.7 1.3-1.4 1.3-0.6 1.4 0.2 1.6 3.5 4.4 3.5-7.3-0.9-1.5-0.6-1.4 0.2-1.4-1.4-3-4.2-1.4 0.5-1.4-0.3-2.5 3.3-2.9-3-4.4-5.7-2.7-1.6-1.3 0.5-1.4-0.6-1.3 1.4-1.3-0.6-1.3 0.2-1.4-0.9-1.2 1-1.4-1.2-1.3 0.9z" fill="url(#p1g188)" stroke="url(#p1g188)"/><path d="M113.2 576.1l2.9 1.6 1.4 0.2 2.8-1.4 1.5 0.6 1.3-2.4 1.4-0.2 1.5 1.6 2.9-1.2 3 2.9 1.6 2.9 1.5 0.2 1.4-0.4 3.1 2.2 3 0.8 1.6 1.3 3 1.2 3.2 3.9-7.7-13.2-1.7-3.9-3.2-2.3-1.5 0.2-1.4 1.1-1.5 0.3-1.5 1.1-1.3 2.8-1.6-1.9-2.9 1-1.6-2.3-1.3 2.1-1.6-1.4-1.4-0.3-1.5 0.6-1.5-1.3-2.8 1-1.4-0.1-1.4 1.7-1.4-0.2-1.3 1.3-2.9-0.6z" fill="url(#p1g189)" stroke="url(#p1g189)"/><path d="M148.7 588.2l1.6 1.7 1.5 0.3 1.6 2.2 1.5-1 1.6 0.1 1.5-2.1 1.5 0.2 1.5-2.3 9.6 3.2 1.5-1.6 3.2-0.2 1.7 2.1 1.6 1 1.7 0.4 1.6-0.9 1.6 0.6 1.8 2.7 1.6-0.5 1.7 2.5-7.4-9.5-1.7-0.3-1.6 1.1-3.4-2.4-3.4-3.7-1.7-3.2-1.7-1.5-3.1 4.2-1.6-0.1-1.5 2.2-4.7 0.1-1.6-1.2-1.6 0.2-1.5 2.4-1.5 0.8-1.6-1.1-1.6-0.5-1.6-1.6-4.9-9.7z" fill="url(#p1g190)" stroke="url(#p1g190)"/><path d="M186.9 594.1l3.4 4.7 3.4 2.1 1.7 2 3.4 2.4 1.7 0.4 1.7-1.5 1.7-0.2 1.7-2.5 1.7 0.6 1.7-1.1 1.8 3.2 1.7-0.3 1.8 3.5 1.8 1.7 7.1 2.2 3.1-37.7 1.8-5.5 1.8 2.8-7.4-15.2-1.8 0.5-1.7 10.4-1.4 23.5-1.6 13.7-3.6-3.2-1.8-0.2-1.8 0.4-1.8-1.6-1.7 0.3-1.7 0.9-1.8 0-1.7-1.4-1.7 2-1.7-0.6-1.8-2.8-1.7-1.6-1.8-3.6-1.7-0.3-1.8-3.7-1.7-1.2-1.8-2.5-3.2 2.4-1.7-0.3z" fill="url(#p1g191)" stroke="url(#p1g191)"/><path d="M228.1 568.1l1.8 2.8 1.9 0.7 1.8-1 1.9 2.2 3.7 2.5 1.9 1.9 1.9 0.2 1.8-1.4 1.9-2.9 1.9-4.4 1.9-2.1 1.9-1.3 1.9-0.5 3.9-0.3 9.8 9.9 4 2.1 2-0.8 2-1.4-7.1-8.9-4-3.3-4 0.9-2 2.8-2 0.2-1.9 0.8-2-0.2-3.9-2.9-5.8 0.6-1.9-1-1.9 0.2-3.8 2.6-1.9-0.2-1.8 1.5-1.9-0.9-3.8-7.5-1.9-2-1.9-1.3-1.8 0.5z" fill="url(#p1g192)" stroke="url(#p1g192)"/><path d="M274 575.7l2-1.4 4 3.3 2 0.6 2 1.3 2.1 0.1 2 0.8 2.1-2.1 2.1 1.3 2 0.3 2.2-4.5 2.2-8.5 2.1-1.3 2 11.4 2 7.3 2.1 1.5 2 7.5 8 35.2 2.2 2.2 6.4 3.8-6.8-1.4-2.2 0.1-2.1-1.2-2.1-4.5-6.1-23.8-6.1-30.9-2.1-1.5-2.1-0.5-2.2 3.1-4.2 2.1-2.1-0.8-2.1 0.8-2.1-0.3-2-3.3-2.1-0.7-2.1-1.5-4-3.8-2.1-1.1-2 0.1-2-1.8z" fill="url(#p1g193)" stroke="url(#p1g193)"/><path d="M323.3 633.4l2.2 1.1 6.4 7.3 2.2 1.4 2.2-0.4 4.5-2.4 6.8 1.1 2.2-0.4 9.2 2.9 2.3 0.1 2.3 1.3 7 2 2.3 1.2 2.4 0.4 4.7 1.7-6.5 0.4-2.4-0.2-2.3-2.9-2.4-1.7-2.4 1.1-2.4 0.4-4.6-1.3-2.3-1.4-2.4-0.1-9.1-2.9-2.3 0.4-4.5-1-4.4-6.8-2.2-2.5-4.4-3.3-2.2 0-2.2 1-2.3 3.2-2.2 0.1z" fill="url(#p1g194)" stroke="url(#p1g194)"/><path d="M377.6 649.8l2.4 0.9 4.8 0.5 2.4 1.2 4.9 0.5 4.9 1.9 4.9 0.6 5 1.9 2.5 0.2 2.5 1.3 5 1.4 5.1 2.2 7.6 3.9 2.6 0.4 5.2 2.4 2.6 0.4-6.1 1.4-2.7-0.5-5.2-2.3-2.6-0.5-10.3-4.9-5-3.7-5-1.2-2.5-1.4-2.6 1.2-2.5-1-5-0.6-4.9-1.9-4.9-0.6-2.4-1.1-4.8-1.3-2.4-0.2z" fill="url(#p1g195)" stroke="url(#p1g195)"/><path d="M437.4 669.1l2.6 0.4 2.7 1.3 2.6 0.1 2.6 1.8 2.8-0.1 2.6 1.2 8.2 1.7 2.7 1.5 5.5 1.2 2.7 1.4 2.8 0.5 2.8 0.3 3-1.8 2.9 0.2 3-2 2.7 3.2 2.9-0.4 2.9 1.6 2.9-0.3 3.3-3.7 3.1-1.4 2.8 2-5.7 1.6-2.9-2-3.1 1.3-6.5 7.2-11-9.4-3 0.3-2.8-0.6-6 4.4-8.4-2.1-5.4-2.5-2.5-3.6-5.3-3.6-2.8 0.3-2.8 2-2.8 1.1-2.6-1.3-2.7-0.5z" fill="url(#p1g196)" stroke="url(#p1g196)"/><path d="M504.7 675.8l2.8 2 3 0 3 1.3-5.7 1.6-3-1.3-3 0-2.9-2z" fill="url(#p1g197)" stroke="url(#p1g197)"/><path d="M42.5 556.3l1.3 1.6 1.2 0.5 1.3 1.2 1.2-0.8 1.3 1.6 6.8-9.4 1.2-0.3 1.2-1.2 1.3 0.2 1.4 2 1.3 0.9 2.8 4.9 4.2 5 1.2-0.4 1.4 1.8 1.3 0.2 1.3-0.9-7.8-7.1-1.3 0.1-4-2-2.6-0.1-4-2.1-3.7 0-2.6-0.7-1.2 0.3-1.3-0.9-1.2 0.2-1.3-0.5-2.4 0.5-1.3-0.8-4.8-0.1z" fill="url(#p1g198)" stroke="url(#p1g198)"/><path d="M72.9 564.1l1.3-0.9 1.4 1.2 1.2-1 1.4 0.9 1.3-0.2 1.3 0.6 1.3-1.4 1.4 0.6 1.3-0.5 2.7 1.6 4.4 5.7 2.9 3 2.5-3.3 1.4 0.3 1.4-0.5 3 4.2 1.4 1.4 1.4-0.2 1.5 0.6-8.1-12.2-2.8-0.6-2.8 0-2.8-1.2-1.4 0.7-5.5-0.5-1.3 0.5-6.9-3.1-6.7-1.9-2.7-1.8-1.3 0.1z" fill="url(#p1g199)" stroke="url(#p1g199)"/><path d="M105.9 575.6l2.9 0.6 1.3-1.3 1.4 0.2 1.4-1.7 1.4 0.1 2.8-1 1.5 1.3 1.5-0.6 1.4 0.3 1.6 1.4 1.3-2.1 1.6 2.3 2.9-1 1.6 1.9 1.3-2.8 1.5-1.1 1.5-0.3 1.4-1.1 1.5-0.2 3.2 2.3 1.7 3.9-7.7-5.2-4.6-1.7-4.5-0.5-3.1-1.6-1.4 0.8-1.6-1.3-3-0.4-1.5-0.7-1.4 0.1-3-1.2-1.4 0.3-4.3-0.6-1.5-0.8-2.8 0.7-2.9-0.7z" fill="url(#p1g200)" stroke="url(#p1g200)"/><path d="M140.9 572.8l4.9 9.7 1.6 1.6 1.6 0.5 1.6 1.1 1.5-0.8 1.5-2.4 1.6-0.2 1.6 1.2 4.7-0.1 1.5-2.2 1.6 0.1 3.1-4.2 1.7 1.5 1.7 3.2 3.4 3.7 3.4 2.4 1.6-1.1 1.7 0.3-7.4-1-1.7-1.2-1.7-0.2-3.3-2.3-1.7-0.1-1.7-1.2-1.6-0.2-5-3.7-1.6 0.1-1.6-1-3.2-0.6-1.6 0.3-1.6-1.2-6.3-2.5-1.6 0.4-3.1-1.5-1.6 0.3-1.5-0.5z" fill="url(#p1g201)" stroke="url(#p1g201)"/><path d="M179.5 586.8l1.7 0.3 3.2-2.4 1.8 2.5 1.7 1.2 1.8 3.7 1.7 0.3 1.8 3.6 1.7 1.6 1.8 2.8 1.7 0.6 1.7-2 1.7 1.4 1.8 0 1.7-0.9 1.7-0.3 1.8 1.6 1.8-0.4 1.8 0.2 3.6 3.2 1.6-13.7 1.4-23.5 1.7-10.4 1.8-0.5-8-45.1-2.4 84.3-1.4 22.8-1.8-1.6-9.1-14.4-5.3-2.9-3.5-2.8-1.7-0.3-1.8-1.7-8.6-5.5-6.8-3.6z" fill="url(#p1g202)" stroke="url(#p1g202)"/><path d="M220.7 556.2l1.8-0.5 1.9 1.3 1.9 2 3.8 7.5 1.9 0.9 1.8-1.5 1.9 0.2 3.8-2.6 1.9-0.2 1.9 1 5.8-0.6 3.9 2.9 2 0.2 1.9-0.8 2-0.2 2-2.8 4-0.9 4 3.3-7.2-41.7-2.1 16.6-2 5.4-4.1-38.4-2.1-10-2 1.5-6 8.9-2 1.4-1.9 3.5-3.8 22.7-1.9 2.7-2-9.4-1.9 3.4-1.9 1.4-2-8-1.9-3.1-2-8.2-2.1-13-2-5.6-1.8 2.4-1.7 12.7-1.2 43.1z" fill="url(#p1g203)" stroke="url(#p1g203)"/><path d="M266.9 563.6l2 1.8 2-0.1 2.1 1.1 4 3.8 2.1 1.5 2.1 0.7 2 3.3 2.1 0.3 2.1-0.8 2.1 0.8 4.2-2.1 2.2-3.1 2.1 0.5 2.1 1.5 6.1 30.9 6.1 23.8 2.1 4.5 2.1 1.2 2.2-0.1-5.4-92.2-6.9 7.9-2.2 1.7-2.2-0.3-4.2-24.4-2.2 2.5-4.4 8.8-2.2 1.8-2.2-1-2.1-6.7-2-12.7-2.2-2.5-2.1 5.7-2.1-4.6-2.1-8.5-2.1 7-2.2 13.2-2.1 7.7-2 5.5-2.1-12.9-2-5.4-2.1 16.6z" fill="url(#p1g204)" stroke="url(#p1g204)"/><path d="M316.5 633.2l2.2-0.1 2.3-3.2 2.2-1 2.2 0 4.4 3.3 2.2 2.5 4.4 6.8 4.5 1 2.3-0.4 9.1 2.9 2.4 0.1 2.3 1.4 4.6 1.3 2.4-0.4 2.4-1.1 2.4 1.7 2.3 2.9 2.4 0.2-6.7 2.8-2.4-1.5-2.3-2.9-4.8-1-2.3-2.9-2.4-0.3-2.4 1.4-2.3-1.3-2.3 0.2-2.3-1.6-2.4 0.2-2.3 0.9-2.3-0.9-4.6 0.2-2.1-4.6-2.3-0.2-2.2-1.2-1.5-40.8-2.2-4.8-2.1-7.8-6-44.1-2.3 2.6z" fill="url(#p1g205)" stroke="url(#p1g205)"/><path d="M371.1 650.9l2.4 0.2 4.8 1.3 2.4 1.1 4.9 0.6 4.9 1.9 5 0.6 2.5 1 2.6-1.2 2.5 1.4 5 1.2 5 3.7 10.3 4.9 2.6 0.5 5.2 2.3 2.7 0.5-6.2-1.6-2.5-3.1-5.3-2.1-2.8 3.3-2.7-1-7.9 0.7-2.4-4.5-5-2.2-2.5-3.7-5-2.8-2.3-5.4-2.5 0-2.6 1.4-2.6 3.3-2.6 1.8-2.6 2.8-2.5 0.9-4.8-1.9-2.3-2.9-2.4-1.5z" fill="url(#p1g206)" stroke="url(#p1g206)"/><path d="M431.2 670.4l2.7 0.5 2.6 1.3 2.8-1.1 2.8-2 2.8-0.3 5.3 3.6 2.5 3.6 5.4 2.5 8.4 2.1 6-4.4 2.8 0.6 3-0.3 11 9.4 6.5-7.2 3.1-1.3 2.9 2-7.2 17.8-2.9-1.4-2.7-3.1-5.7-4-2.8-2.9-2.9-0.4-2.8-2.6-2.9-0.8-3 1.4-2.7-2.3-3 2-2.6-4-2.9 0.1-5.5-2.5-2.9 0.7-2.7-1.5-5.7 1.9-2.7-1.3-2.8 0.5-10.2-10.8z" fill="url(#p1g207)" stroke="url(#p1g207)"/><path d="M498.9 677.4l2.9 2 3 0-7.2 19-5.9-2.6z" fill="url(#p1g208)" stroke="url(#p1g208)"/><path d="M34.7 550l4.8 0.1 1.3 0.8 2.4-0.5 1.3 0.5 1.2-0.2 1.3 0.9 1.2-0.3 2.6 0.7 3.7 0 4 2.1 2.6 0.1 4 2 1.3-0.1-4.1 53.2-3.9-1.8-1.3 0.3-1.3-0.5-1.3-1.1-1.3-0.3-1.2 0.3-2.6-1.5-1.2 0.2-5-1-1.3-0.9-3.6-0.3-3.8-1.9-3.6-0.5z" fill="url(#p1g209)" stroke="url(#p1g209)"/><path d="M65.1 556.2l1.3-0.1 2.7 1.8 6.7 1.9 6.9 3.1 1.3-0.5 5.5 0.5 1.4-0.7 2.8 1.2 2.8 0 2.8 0.6-5.1 44.6-1.3 1-2.7 0.4-1.4 0.8-1.3-0.2-2.7 1.5-1.3-0.1-3.9 1.8-2.7-0.5-1.4-0.8-1.3 0.3-1.4-1-5.3-1.5-1.3 0.2-2.7-1.8-1.2 0.6-1.3-0.5z" fill="url(#p1g210)" stroke="url(#p1g210)"/><path d="M97.9 563.9l2.9 0.7 2.8-0.7 1.5 0.8 4.3 0.6 1.4-0.3 3 1.2 1.4-0.1 1.5 0.7 3 0.4 1.6 1.3 1.4-0.8 3.1 1.6 4.5 0.5 4.6 1.7-5.7 41.7-1.5-0.2-1.5-1.2-3 1-1.5-0.8-2.9 0.6-5.9-0.6-1.5 0.3-2.9-0.9-5.7-0.7-2.9-1.2-5.7-0.9-1.3 1z" fill="url(#p1g211)" stroke="url(#p1g211)"/><path d="M133.4 571l1.5 0.5 1.6-0.3 3.1 1.5 1.6-0.4 6.3 2.5 1.6 1.2 1.6-0.3 3.2 0.6 1.6 1 1.6-0.1 5 3.7 1.6 0.2 1.7 1.2 1.7 0.1 3.3 2.3 1.7 0.2 1.7 1.2-6.8 22.6-5-3.2-6.4 4.5-7.7 6.5-4.8-0.9-3.1-0.1-1.6-0.9-10.7-1.6z" fill="url(#p1g212)" stroke="url(#p1g212)"/><path d="M172.1 584.9l6.8 3.6 8.6 5.5 1.8 1.7 1.7 0.3 3.5 2.8 5.3 2.9 9.1 14.4 1.8 1.6 1.4-22.8 2.4-84.3-5.5 120.6-1.8-0.1-3.6 1-1.7-0.2-1.8 0.3-1.7 1.1-5.4-4.9-1.8-2.2-1.7-0.5-1.8-1.9-10.5-8.9-11.9-7.5z" fill="url(#p1g213)" stroke="url(#p1g213)"/><path d="M213.3 553.7l1.2-43.1 1.7-12.7 1.8-2.4 2 5.6 2.1 13 2 8.2 1.9 3.1 2 8 1.9-1.4 1.9-3.4 2 9.4 1.9-2.7 3.8-22.7 1.9-3.5 2-1.4 6-8.9 2-1.5 2.1 10 4.1 38.4 2-5.4 2.1-16.6-7.2 105.6-2 6.3-2 4.2-3.8 5.4-2 1.8-3.8 1.8-3.8 1.5-3.8 0.6-3.8-3.8-5.7-4.2-3.7-4.1-3.7-2.1-1.9-2.5-3.7-2.8-3.6-0.3z" fill="url(#p1g214)" stroke="url(#p1g214)"/><path d="M259.6 540.3l2.1-16.6 2 5.4 2.1 12.9 2-5.5 2.1-7.7 2.2-13.2 2.1-7 2.1 8.5 2.1 4.6 2.1-5.7 2.2 2.5 2 12.7 2.1 6.7 2.2 1 2.2-1.8 4.4-8.8 2.2-2.5 4.2 24.4 2.2 0.3 2.2-1.7 6.9-7.9-8.6 98.3-8.7-5.5-2.2-0.2-6.4-2.7-10.5-0.6-2.1 6.3-2.1 11.6-2.1-3.5-4-3.8-4.1-1.8-2-2.1-4-8.3-2 0.7-2 6.3z" fill="url(#p1g215)" stroke="url(#p1g215)"/><path d="M311 543.5l2.3-2.6 6 44.1 2.1 7.8 2.2 4.8 1.5 40.8 2.2 1.2 2.3 0.2 2.1 4.6 4.6-0.2 2.3 0.9 2.3-0.9 2.4-0.2 2.3 1.6 2.3-0.2 2.3 1.3 2.4-1.4 2.4 0.3 2.3 2.9 4.8 1 2.3 2.9 2.4 1.5-6.9 2.2-4.8-1.8-2.4-0.4-2.4-1.3-7.1-2-2.3-1.5-2.3 0-9.3-3-2.3 0.4-6.8-1.2-4.6 2.4-2.2 0.5-2.2-1.6-6.5-7.4-2.2-1.2z" fill="url(#p1g216)" stroke="url(#p1g216)"/><path d="M364.4 652.4l2.4 1.5 2.3 2.9 4.8 1.9 2.5-0.9 2.6-2.8 2.6-1.8 2.6-3.3 2.6-1.4 2.5 0 2.3 5.4 5 2.8 2.5 3.7 5 2.2 2.4 4.5 7.9-0.7 2.7 1 2.8-3.3 5.3 2.1 2.5 3.1-6.8 6.5-2.6-0.5-5.3-2.4-2.7-0.5-7.7-4-5.2-2.3-5.1-1.5-2.5-1.4-2.6-0.2-5-2-5.1-0.6-4.9-2-5-0.6-2.4-1.1-4.9-0.6-2.4-0.9z" fill="url(#p1g217)" stroke="url(#p1g217)"/><path d="M425.2 666.2l10.2 10.8 2.8-0.5 2.7 1.3 5.7-1.9 2.7 1.5 2.9-0.7 5.5 2.5 2.9-0.1 2.6 4 3-2 2.7 2.3 3-1.4 2.9 0.8 2.8 2.6 2.9 0.4 2.8 2.9 5.7 4 2.7 3.1-4.9-13.1-3.1 1.4-3.3 3.9-3.5 6.5-4 14-3.1 1.8-4.7-17-2.6-4.1-2.9-0.8-2.8-1.4-2.9-0.6-2.7-1.4-5.7-1.3-2.7-1.6-8.3-1.8-2.7-1.2-2.8 0.1-2.7-1.9-2.7-0.2-2.7-1.3-2.6-0.5z" fill="url(#p1g218)" stroke="url(#p1g218)"/></g><path d="M83.6 563.0L80.2 614.0" stroke="#fff" stroke-width="2.1"/><path d="M257.1 626.2 258.8 625.8 261.0 628.4 263.6 628.0 266.3 625.3 268.9 622.7 273.3 625.3 276.8 627.5 276.3 632.8 272.8 648.8 268.0 641.8 261.5 639.8 259.7 637.0 257.1 630.0Z" fill="url(#blob)"/><path d="M278.5 627.0 280.3 621.8 283.0 627.0Z" fill="url(#blob)"/><path d="M285.5 627.5 287.7 626.2 289.0 629.0Z" fill="url(#blob)"/>
<path d="M19.6 449.4L32.3 618.4M32.3 618.4L489 786.4M489 786.4L589 701.1M31.4 606.9L38 606.5M29.7 583.7L36.3 583.3M27.9 560.1L34.5 559.7M26.1 536.2L32.7 535.8M24.3 511.9L30.9 511.5M22.5 487.2L29.1 486.8M20.6 462.1L27.2 461.7M52.9 626L57.3 624.7M74.6 634L79 632.6M97.5 642.4L101.8 640.9M121.5 651.3L125.9 649.7M146.9 660.6L151.3 658.9M173.8 670.5L178.1 668.7M202.3 680.9L206.6 679.1M232.4 692L236.7 690.1M264.5 703.8L268.7 701.7M298.6 716.4L302.8 714.1M335.1 729.8L339.2 727.4M374 744.1L378 741.5M415.7 759.4L419.6 756.7M460.5 775.9L464.3 773M506.8 771.3L499.2 768.6M534 748.1L526.6 745.7M558.5 727.2L551.3 725M580.7 708.2L573.8 706.2" stroke="#111" stroke-width="1.7" fill="none" stroke-linecap="round" stroke-linejoin="miter"/>
<g font-family="'Liberation Serif', serif" fill="#222" transform="translate(0 430.4)"><text x="6.2" y="36.8" font-size="12.8" text-anchor="middle">17</text><text x="8.7" y="62.2" font-size="12.8" text-anchor="middle">16</text><text x="10.5" y="87.3" font-size="12.8" text-anchor="middle">15</text><text x="12.4" y="112.2" font-size="12.8" text-anchor="middle">14</text><text x="14.2" y="135.9" font-size="12.8" text-anchor="middle">13</text><text x="16.4" y="159.7" font-size="12.8" text-anchor="middle">12</text><text x="18.3" y="182.7" font-size="12.8" text-anchor="middle">11</text><text x="60.7" y="210.7" font-size="12" text-anchor="middle">50</text><text x="104.4" y="227.8" font-size="12.2" text-anchor="middle">100</text><text x="155.9" y="247.8" font-size="13" text-anchor="middle">150</text><text x="213.4" y="271.3" font-size="14" text-anchor="middle">200</text><text x="280.4" y="295.2" font-size="15" text-anchor="middle">250</text><text x="355.6" y="324.4" font-size="16.4" text-anchor="middle">300</text><text x="441.7" y="357.5" font-size="16.6" text-anchor="middle">350</text><text x="536.2" y="352.4" font-size="17.2" text-anchor="middle">2005</text><text x="562.6" y="328.6" font-size="16.4" text-anchor="middle">2010</text><text x="585.5" y="306.9" font-size="15.5" text-anchor="middle">2015</text><text x="607" y="287.7" font-size="14.8" text-anchor="middle">2020</text><rect x="624.2" y="30.7" width="19" height="181.1" fill="url(#cb)"/><text x="666.6" y="35.5" font-size="14.5" text-anchor="middle">17.50</text><text x="666.6" y="61.4" font-size="14.5" text-anchor="middle">16.50</text><text x="666.6" y="87.2" font-size="14.5" text-anchor="middle">15.50</text><text x="666.6" y="113.1" font-size="14.5" text-anchor="middle">14.50</text><text x="666.6" y="139" font-size="14.5" text-anchor="middle">13.50</text><text x="666.6" y="164.8" font-size="14.5" text-anchor="middle">12.50</text><text x="666.6" y="190.7" font-size="14.5" text-anchor="middle">11.50</text><text x="666.6" y="216.6" font-size="14.5" text-anchor="middle">10.50</text></g><text font-family="'Liberation Serif', serif" fill="#222" font-size="19.3" transform="translate(154 697.8) rotate(21.5)">Sihong Station</text>
<path d="M18.6 877.8L153.3 861.2M153.3 861.2L614.2 917.9M153.3 861.2L158.7 1010.9M614.2 917.9L590.3 1131.4M32 1048.3L158.7 1010.9M158.7 1010.9L590.3 1131.4" stroke="#111" stroke-width="1.7" fill="none" stroke-linecap="round"/>
<defs><linearGradient id="p2g0" href="#cm" gradientTransform="matrix(8.7 1.9 -4.9 -152.6 171.4 1016.1)"/><linearGradient id="p2g1" href="#cm" gradientTransform="matrix(9.2 2 -3.4 -157.3 202.7 1024.9)"/><linearGradient id="p2g2" href="#cm" gradientTransform="matrix(9.9 2.1 -1.7 -162.3 236.1 1034.3)"/><linearGradient id="p2g3" href="#cm" gradientTransform="matrix(10.6 2.3 0.3 -167.7 271.7 1044.3)"/><linearGradient id="p2g4" href="#cm" gradientTransform="matrix(11.4 2.5 2.5 -173.4 310 1055)"/><linearGradient id="p2g5" href="#cm" gradientTransform="matrix(12.3 2.6 5.1 -179.5 351 1066.5)"/><linearGradient id="p2g6" href="#cm" gradientTransform="matrix(13.3 2.9 8.1 -186.1 395.2 1079)"/><linearGradient id="p2g7" href="#cm" gradientTransform="matrix(14.4 3.1 11.6 -193.2 443 1092.4)"/><linearGradient id="p2g8" href="#cm" gradientTransform="matrix(15.7 3.4 15.7 -200.8 494.8 1106.9)"/><linearGradient id="p2g9" href="#cm" gradientTransform="matrix(17.1 3.7 20.5 -209 551 1122.7)"/><linearGradient id="p2g10" href="#cm" gradientTransform="matrix(18 3.9 23.4 -213.8 583.6 1131.8)"/><linearGradient id="p2g11" href="#cm" gradientTransform="matrix(8.7 1.9 -5.2 -153.5 165.8 1017.8)"/><linearGradient id="p2g12" href="#cm" gradientTransform="matrix(9.2 2 -3.7 -158.3 197.1 1026.7)"/><linearGradient id="p2g13" href="#cm" gradientTransform="matrix(9.9 2.2 -2 -163.4 230.6 1036.2)"/><linearGradient id="p2g14" href="#cm" gradientTransform="matrix(10.6 2.3 -0.1 -168.8 266.3 1046.4)"/><linearGradient id="p2g15" href="#cm" gradientTransform="matrix(11.4 2.5 2.2 -174.6 304.6 1057.3)"/><linearGradient id="p2g16" href="#cm" gradientTransform="matrix(12.3 2.7 4.8 -180.8 345.8 1069)"/><linearGradient id="p2g17" href="#cm" gradientTransform="matrix(13.3 2.9 7.8 -187.5 390.1 1081.6)"/><linearGradient id="p2g18" href="#cm" gradientTransform="matrix(14.5 3.2 11.4 -194.7 438.1 1095.2)"/><linearGradient id="p2g19" href="#cm" gradientTransform="matrix(15.7 3.4 15.5 -202.4 490.1 1110)"/><linearGradient id="p2g20" href="#cm" gradientTransform="matrix(17.2 3.8 20.3 -210.8 546.6 1126)"/><linearGradient id="p2g21" href="#cm" gradientTransform="matrix(18.1 4 23.3 -215.6 579.4 1135.4)"/><linearGradient id="p2g22" href="#cm" gradientTransform="matrix(8.7 1.9 -5.5 -154.5 160.2 1019.6)"/><linearGradient id="p2g23" href="#cm" gradientTransform="matrix(9.3 2 -4 -159.3 191.5 1028.6)"/><linearGradient id="p2g24" href="#cm" gradientTransform="matrix(9.9 2.2 -2.3 -164.5 225 1038.2)"/><linearGradient id="p2g25" href="#cm" gradientTransform="matrix(10.6 2.4 -0.4 -170 260.7 1048.5)"/><linearGradient id="p2g26" href="#cm" gradientTransform="matrix(11.4 2.5 1.9 -175.9 299.1 1059.5)"/><linearGradient id="p2g27" href="#cm" gradientTransform="matrix(12.4 2.7 4.5 -182.2 340.4 1071.4)"/><linearGradient id="p2g28" href="#cm" gradientTransform="matrix(13.4 3 7.6 -188.9 384.9 1084.2)"/><linearGradient id="p2g29" href="#cm" gradientTransform="matrix(14.5 3.2 11.1 -196.2 433.1 1098.1)"/><linearGradient id="p2g30" href="#cm" gradientTransform="matrix(15.8 3.5 15.3 -204.1 485.3 1113.1)"/><linearGradient id="p2g31" href="#cm" gradientTransform="matrix(17.3 3.8 20.2 -212.6 542.2 1129.5)"/><linearGradient id="p2g32" href="#cm" gradientTransform="matrix(18.2 4 23.2 -217.5 575.1 1138.9)"/><linearGradient id="p2g33" href="#cm" gradientTransform="matrix(8.7 1.9 -5.8 -155.5 154.4 1021.3)"/><linearGradient id="p2g34" href="#cm" gradientTransform="matrix(9.3 2.1 -4.4 -160.4 185.8 1030.4)"/><linearGradient id="p2g35" href="#cm" gradientTransform="matrix(9.9 2.2 -2.7 -165.6 219.3 1040.2)"/><linearGradient id="p2g36" href="#cm" gradientTransform="matrix(10.7 2.4 -0.7 -171.2 255.1 1050.6)"/><linearGradient id="p2g37" href="#cm" gradientTransform="matrix(11.5 2.6 1.6 -177.1 293.6 1061.8)"/><linearGradient id="p2g38" href="#cm" gradientTransform="matrix(12.4 2.8 4.2 -183.5 335 1073.9)"/><linearGradient id="p2g39" href="#cm" gradientTransform="matrix(13.4 3 7.3 -190.4 379.7 1086.9)"/><linearGradient id="p2g40" href="#cm" gradientTransform="matrix(14.6 3.3 10.9 -197.8 428 1101)"/><linearGradient id="p2g41" href="#cm" gradientTransform="matrix(15.9 3.6 15.1 -205.8 480.5 1116.3)"/><linearGradient id="p2g42" href="#cm" gradientTransform="matrix(17.4 3.9 20.1 -214.4 537.6 1132.9)"/><linearGradient id="p2g43" href="#cm" gradientTransform="matrix(18.3 4.1 23.1 -219.4 570.8 1142.6)"/><linearGradient id="p2g44" href="#cm" gradientTransform="matrix(8.7 2 -6.2 -156.5 148.6 1023.1)"/><linearGradient id="p2g45" href="#cm" gradientTransform="matrix(9.3 2.1 -4.7 -161.4 180 1032.3)"/><linearGradient id="p2g46" href="#cm" gradientTransform="matrix(9.9 2.3 -3 -166.7 213.5 1042.2)"/><linearGradient id="p2g47" href="#cm" gradientTransform="matrix(10.7 2.4 -1 -172.4 249.4 1052.8)"/><linearGradient id="p2g48" href="#cm" gradientTransform="matrix(11.5 2.6 1.3 -178.4 288 1064.2)"/><linearGradient id="p2g49" href="#cm" gradientTransform="matrix(12.4 2.8 3.9 -184.9 329.5 1076.4)"/><linearGradient id="p2g50" href="#cm" gradientTransform="matrix(13.5 3.1 7 -191.9 374.3 1089.6)"/><linearGradient id="p2g51" href="#cm" gradientTransform="matrix(14.7 3.3 10.6 -199.4 422.8 1104)"/><linearGradient id="p2g52" href="#cm" gradientTransform="matrix(16 3.6 14.9 -207.5 475.5 1119.5)"/><linearGradient id="p2g53" href="#cm" gradientTransform="matrix(17.5 4 19.9 -216.3 533 1136.5)"/><linearGradient id="p2g54" href="#cm" gradientTransform="matrix(18.5 4.2 23 -221.4 566.4 1146.3)"/><linearGradient id="p2g55" href="#cm" gradientTransform="matrix(8.7 2 -6.5 -157.5 142.7 1024.9)"/><linearGradient id="p2g56" href="#cm" gradientTransform="matrix(9.3 2.1 -5.1 -162.5 174.1 1034.3)"/><linearGradient id="p2g57" href="#cm" gradientTransform="matrix(10 2.3 -3.4 -167.9 207.7 1044.3)"/><linearGradient id="p2g58" href="#cm" gradientTransform="matrix(10.7 2.5 -1.4 -173.6 243.6 1055)"/><linearGradient id="p2g59" href="#cm" gradientTransform="matrix(11.5 2.6 0.9 -179.7 282.3 1066.6)"/><linearGradient id="p2g60" href="#cm" gradientTransform="matrix(12.5 2.9 3.6 -186.3 323.9 1079)"/><linearGradient id="p2g61" href="#cm" gradientTransform="matrix(13.5 3.1 6.7 -193.4 368.8 1092.4)"/><linearGradient id="p2g62" href="#cm" gradientTransform="matrix(14.7 3.4 10.4 -201 417.5 1107)"/><linearGradient id="p2g63" href="#cm" gradientTransform="matrix(16.1 3.7 14.7 -209.3 470.5 1122.8)"/><linearGradient id="p2g64" href="#cm" gradientTransform="matrix(17.6 4.1 19.8 -218.2 528.3 1140)"/><linearGradient id="p2g65" href="#cm" gradientTransform="matrix(18.6 4.3 22.9 -223.4 561.8 1150.1)"/><linearGradient id="p2g66" href="#cm" gradientTransform="matrix(8.7 2 -6.9 -158.5 136.7 1026.7)"/><linearGradient id="p2g67" href="#cm" gradientTransform="matrix(9.3 2.2 -5.4 -163.6 168.2 1036.2)"/><linearGradient id="p2g68" href="#cm" gradientTransform="matrix(10 2.3 -3.7 -169 201.7 1046.4)"/><linearGradient id="p2g69" href="#cm" gradientTransform="matrix(10.7 2.5 -1.7 -174.8 237.8 1057.3)"/><linearGradient id="p2g70" href="#cm" gradientTransform="matrix(11.6 2.7 0.6 -181 276.5 1069)"/><linearGradient id="p2g71" href="#cm" gradientTransform="matrix(12.5 2.9 3.3 -187.7 318.2 1081.6)"/><linearGradient id="p2g72" href="#cm" gradientTransform="matrix(13.6 3.2 6.4 -194.9 363.3 1095.2)"/><linearGradient id="p2g73" href="#cm" gradientTransform="matrix(14.8 3.4 10.1 -202.7 412.2 1110)"/><linearGradient id="p2g74" href="#cm" gradientTransform="matrix(16.2 3.8 14.4 -211.1 465.4 1126.1)"/><linearGradient id="p2g75" href="#cm" gradientTransform="matrix(17.8 4.1 19.6 -220.2 523.5 1143.7)"/><linearGradient id="p2g76" href="#cm" gradientTransform="matrix(18.7 4.4 22.8 -225.4 557.2 1153.9)"/><linearGradient id="p2g77" href="#cm" gradientTransform="matrix(8.7 2 -7.3 -159.5 130.7 1028.5)"/><linearGradient id="p2g78" href="#cm" gradientTransform="matrix(9.3 2.2 -5.8 -164.7 162.1 1038.2)"/><linearGradient id="p2g79" href="#cm" gradientTransform="matrix(10 2.4 -4.1 -170.2 195.7 1048.5)"/><linearGradient id="p2g80" href="#cm" gradientTransform="matrix(10.7 2.5 -2.1 -176.1 231.8 1059.5)"/><linearGradient id="p2g81" href="#cm" gradientTransform="matrix(11.6 2.7 0.2 -182.4 270.6 1071.4)"/><linearGradient id="p2g82" href="#cm" gradientTransform="matrix(12.5 3 2.9 -189.2 312.4 1084.3)"/><linearGradient id="p2g83" href="#cm" gradientTransform="matrix(13.6 3.2 6.1 -196.5 357.7 1098.1)"/><linearGradient id="p2g84" href="#cm" gradientTransform="matrix(14.9 3.5 9.8 -204.3 406.7 1113.2)"/><linearGradient id="p2g85" href="#cm" gradientTransform="matrix(16.3 3.8 14.2 -212.9 460.2 1129.5)"/><linearGradient id="p2g86" href="#cm" gradientTransform="matrix(17.9 4.2 19.4 -222.2 518.6 1147.5)"/><linearGradient id="p2g87" href="#cm" gradientTransform="matrix(18.8 4.4 22.7 -227.5 552.6 1157.9)"/><linearGradient id="p2g88" href="#cm" gradientTransform="matrix(8.7 2.1 -7.7 -160.5 124.6 1030.4)"/><linearGradient id="p2g89" href="#cm" gradientTransform="matrix(9.3 2.2 -6.2 -165.8 156 1040.2)"/><linearGradient id="p2g90" href="#cm" gradientTransform="matrix(10 2.4 -4.5 -171.4 189.6 1050.6)"/><linearGradient id="p2g91" href="#cm" gradientTransform="matrix(10.8 2.6 -2.5 -177.3 225.8 1061.9)"/><linearGradient id="p2g92" href="#cm" gradientTransform="matrix(11.6 2.8 -0.2 -183.7 264.6 1073.9)"/><linearGradient id="p2g93" href="#cm" gradientTransform="matrix(12.6 3 2.6 -190.6 306.5 1086.9)"/><linearGradient id="p2g94" href="#cm" gradientTransform="matrix(13.7 3.3 5.7 -198 351.9 1101)"/><linearGradient id="p2g95" href="#cm" gradientTransform="matrix(14.9 3.6 9.5 -206 401.2 1116.3)"/><linearGradient id="p2g96" href="#cm" gradientTransform="matrix(16.3 3.9 13.9 -214.7 454.9 1133)"/><linearGradient id="p2g97" href="#cm" gradientTransform="matrix(18 4.3 19.2 -224.2 513.6 1151.3)"/><linearGradient id="p2g98" href="#cm" gradientTransform="matrix(19 4.5 22.5 -229.6 547.8 1161.9)"/><linearGradient id="p2g99" href="#cm" gradientTransform="matrix(8.7 2.1 -8 -161.6 118.3 1032.3)"/><linearGradient id="p2g100" href="#cm" gradientTransform="matrix(9.3 2.3 -6.6 -166.9 149.8 1042.2)"/><linearGradient id="p2g101" href="#cm" gradientTransform="matrix(10 2.4 -4.9 -172.6 183.4 1052.8)"/><linearGradient id="p2g102" href="#cm" gradientTransform="matrix(10.8 2.6 -2.9 -178.6 219.6 1064.2)"/><linearGradient id="p2g103" href="#cm" gradientTransform="matrix(11.6 2.8 -0.5 -185.1 258.5 1076.5)"/><linearGradient id="p2g104" href="#cm" gradientTransform="matrix(12.6 3.1 2.2 -192.1 300.6 1089.7)"/><linearGradient id="p2g105" href="#cm" gradientTransform="matrix(13.7 3.3 5.4 -199.6 346.1 1104)"/><linearGradient id="p2g106" href="#cm" gradientTransform="matrix(15 3.6 9.2 -207.8 395.6 1119.6)"/><linearGradient id="p2g107" href="#cm" gradientTransform="matrix(16.4 4 13.7 -216.6 449.5 1136.6)"/><linearGradient id="p2g108" href="#cm" gradientTransform="matrix(18.1 4.4 19 -226.2 508.5 1155.1)"/><linearGradient id="p2g109" href="#cm" gradientTransform="matrix(19.1 4.6 22.4 -231.8 542.9 1166)"/><linearGradient id="p2g110" href="#cm" gradientTransform="matrix(8.7 2.1 -8.4 -162.7 112 1034.2)"/><linearGradient id="p2g111" href="#cm" gradientTransform="matrix(9.3 2.3 -7 -168 143.5 1044.3)"/><linearGradient id="p2g112" href="#cm" gradientTransform="matrix(10 2.5 -5.3 -173.8 177.2 1055)"/><linearGradient id="p2g113" href="#cm" gradientTransform="matrix(10.8 2.7 -3.3 -179.9 213.4 1066.6)"/><linearGradient id="p2g114" href="#cm" gradientTransform="matrix(11.7 2.9 -0.9 -186.5 252.4 1079)"/><linearGradient id="p2g115" href="#cm" gradientTransform="matrix(12.7 3.1 1.8 -193.6 294.5 1092.5)"/><linearGradient id="p2g116" href="#cm" gradientTransform="matrix(13.8 3.4 5 -201.3 340.2 1107)"/><linearGradient id="p2g117" href="#cm" gradientTransform="matrix(15.1 3.7 8.9 -209.5 389.8 1122.9)"/><linearGradient id="p2g118" href="#cm" gradientTransform="matrix(16.5 4.1 13.4 -218.5 444 1140.2)"/><linearGradient id="p2g119" href="#cm" gradientTransform="matrix(18.2 4.5 18.8 -228.3 503.3 1159.1)"/><linearGradient id="p2g120" href="#cm" gradientTransform="matrix(19.2 4.7 22.2 -234 537.9 1170.1)"/><linearGradient id="p2g121" href="#cm" gradientTransform="matrix(8.7 2.2 -8.9 -163.7 105.6 1036.2)"/><linearGradient id="p2g122" href="#cm" gradientTransform="matrix(9.3 2.3 -7.4 -169.2 137.1 1046.4)"/><linearGradient id="p2g123" href="#cm" gradientTransform="matrix(10 2.5 -5.7 -175 170.8 1057.3)"/><linearGradient id="p2g124" href="#cm" gradientTransform="matrix(10.8 2.7 -3.7 -181.2 207 1069)"/><linearGradient id="p2g125" href="#cm" gradientTransform="matrix(11.7 2.9 -1.3 -187.9 246.1 1081.6)"/><linearGradient id="p2g126" href="#cm" gradientTransform="matrix(12.7 3.2 1.4 -195.1 288.3 1095.3)"/><linearGradient id="p2g127" href="#cm" gradientTransform="matrix(13.8 3.4 4.7 -202.9 334.1 1110.1)"/><linearGradient id="p2g128" href="#cm" gradientTransform="matrix(15.1 3.8 8.5 -211.3 384 1126.2)"/><linearGradient id="p2g129" href="#cm" gradientTransform="matrix(16.6 4.1 13.1 -220.5 438.4 1143.8)"/><linearGradient id="p2g130" href="#cm" gradientTransform="matrix(18.3 4.6 18.6 -230.4 498.1 1163.1)"/><linearGradient id="p2g131" href="#cm" gradientTransform="matrix(19.4 4.8 22 -236.2 532.9 1174.4)"/><linearGradient id="p2g132" href="#cm" gradientTransform="matrix(8.7 2.2 -9.3 -164.8 99.1 1038.2)"/><linearGradient id="p2g133" href="#cm" gradientTransform="matrix(9.3 2.4 -7.8 -170.4 130.6 1048.5)"/><linearGradient id="p2g134" href="#cm" gradientTransform="matrix(10 2.5 -6.1 -176.3 164.3 1059.5)"/><linearGradient id="p2g135" href="#cm" gradientTransform="matrix(10.8 2.7 -4.1 -182.6 200.6 1071.4)"/><linearGradient id="p2g136" href="#cm" gradientTransform="matrix(11.7 3 -1.8 -189.4 239.7 1084.3)"/><linearGradient id="p2g137" href="#cm" gradientTransform="matrix(12.7 3.2 1 -196.7 282.1 1098.2)"/><linearGradient id="p2g138" href="#cm" gradientTransform="matrix(13.9 3.5 4.3 -204.6 328 1113.2)"/><linearGradient id="p2g139" href="#cm" gradientTransform="matrix(15.2 3.8 8.2 -213.2 378 1129.6)"/><linearGradient id="p2g140" href="#cm" gradientTransform="matrix(16.7 4.2 12.8 -222.5 432.7 1147.6)"/><linearGradient id="p2g141" href="#cm" gradientTransform="matrix(18.4 4.7 18.4 -232.6 492.7 1167.3)"/><linearGradient id="p2g142" href="#cm" gradientTransform="matrix(19.5 4.9 21.8 -238.5 527.7 1178.7)"/><linearGradient id="p2g143" href="#cm" gradientTransform="matrix(8.7 2.2 -9.7 -165.9 92.6 1040.2)"/><linearGradient id="p2g144" href="#cm" gradientTransform="matrix(9.3 2.4 -8.3 -171.5 124 1050.6)"/><linearGradient id="p2g145" href="#cm" gradientTransform="matrix(10 2.6 -6.6 -177.5 157.8 1061.9)"/><linearGradient id="p2g146" href="#cm" gradientTransform="matrix(10.8 2.8 -4.6 -183.9 194.1 1073.9)"/><linearGradient id="p2g147" href="#cm" gradientTransform="matrix(11.7 3 -2.2 -190.8 233.3 1087)"/><linearGradient id="p2g148" href="#cm" gradientTransform="matrix(12.8 3.3 0.6 -198.3 275.7 1101.1)"/><linearGradient id="p2g149" href="#cm" gradientTransform="matrix(13.9 3.6 3.9 -206.3 321.7 1116.4)"/><linearGradient id="p2g150" href="#cm" gradientTransform="matrix(15.3 3.9 7.8 -215 371.9 1133.1)"/><linearGradient id="p2g151" href="#cm" gradientTransform="matrix(16.8 4.3 12.5 -224.5 426.8 1151.4)"/><linearGradient id="p2g152" href="#cm" gradientTransform="matrix(18.5 4.8 18.1 -234.8 487.2 1171.5)"/><linearGradient id="p2g153" href="#cm" gradientTransform="matrix(19.6 5 21.6 -240.8 522.4 1183.2)"/><linearGradient id="p2g154" href="#cm" gradientTransform="matrix(8.7 2.3 -10.2 -167.1 85.9 1042.2)"/><linearGradient id="p2g155" href="#cm" gradientTransform="matrix(9.3 2.4 -8.7 -172.7 117.3 1052.8)"/><linearGradient id="p2g156" href="#cm" gradientTransform="matrix(10 2.6 -7 -178.8 151.1 1064.2)"/><linearGradient id="p2g157" href="#cm" gradientTransform="matrix(10.9 2.8 -5 -185.3 187.5 1076.5)"/><linearGradient id="p2g158" href="#cm" gradientTransform="matrix(11.8 3.1 -2.7 -192.3 226.7 1089.7)"/><linearGradient id="p2g159" href="#cm" gradientTransform="matrix(12.8 3.3 0.1 -199.9 269.2 1104.1)"/><linearGradient id="p2g160" href="#cm" gradientTransform="matrix(14 3.6 3.5 -208 315.4 1119.7)"/><linearGradient id="p2g161" href="#cm" gradientTransform="matrix(15.3 4 7.4 -216.9 365.8 1136.7)"/><linearGradient id="p2g162" href="#cm" gradientTransform="matrix(16.9 4.4 12.1 -226.5 420.9 1155.3)"/><linearGradient id="p2g163" href="#cm" gradientTransform="matrix(18.7 4.9 17.8 -237 481.5 1175.7)"/><linearGradient id="p2g164" href="#cm" gradientTransform="matrix(19.8 5.1 21.4 -243.1 517 1187.7)"/><linearGradient id="p2g165" href="#cm" gradientTransform="matrix(8.7 2.3 -10.6 -168.2 79.1 1044.3)"/><linearGradient id="p2g166" href="#cm" gradientTransform="matrix(9.3 2.5 -9.2 -174 110.6 1055)"/><linearGradient id="p2g167" href="#cm" gradientTransform="matrix(10 2.7 -7.5 -180.1 144.3 1066.6)"/><linearGradient id="p2g168" href="#cm" gradientTransform="matrix(10.9 2.9 -5.5 -186.7 180.7 1079)"/><linearGradient id="p2g169" href="#cm" gradientTransform="matrix(11.8 3.1 -3.1 -193.8 220 1092.5)"/><linearGradient id="p2g170" href="#cm" gradientTransform="matrix(12.8 3.4 -0.3 -201.5 262.6 1107.1)"/><linearGradient id="p2g171" href="#cm" gradientTransform="matrix(14 3.7 3 -209.8 308.9 1123)"/><linearGradient id="p2g172" href="#cm" gradientTransform="matrix(15.4 4.1 7 -218.8 359.5 1140.3)"/><linearGradient id="p2g173" href="#cm" gradientTransform="matrix(16.9 4.5 11.8 -228.6 414.9 1159.2)"/><linearGradient id="p2g174" href="#cm" gradientTransform="matrix(18.8 5 17.6 -239.3 475.8 1180.1)"/><linearGradient id="p2g175" href="#cm" gradientTransform="matrix(19.9 5.3 21.2 -245.6 511.5 1192.3)"/><linearGradient id="p2g176" href="#cm" gradientTransform="matrix(8.7 2.3 -11.1 -169.4 72.3 1046.4)"/><linearGradient id="p2g177" href="#cm" gradientTransform="matrix(9.3 2.5 -9.7 -175.2 103.7 1057.3)"/><linearGradient id="p2g178" href="#cm" gradientTransform="matrix(10.1 2.7 -8 -181.4 137.5 1069)"/><linearGradient id="p2g179" href="#cm" gradientTransform="matrix(10.9 2.9 -6 -188.2 173.9 1081.7)"/><linearGradient id="p2g180" href="#cm" gradientTransform="matrix(11.8 3.2 -3.6 -195.4 213.2 1095.3)"/><linearGradient id="p2g181" href="#cm" gradientTransform="matrix(12.9 3.4 -0.8 -203.2 255.9 1110.2)"/><linearGradient id="p2g182" href="#cm" gradientTransform="matrix(14.1 3.8 2.6 -211.6 302.3 1126.3)"/><linearGradient id="p2g183" href="#cm" gradientTransform="matrix(15.4 4.1 6.6 -220.8 353 1143.9)"/><linearGradient id="p2g184" href="#cm" gradientTransform="matrix(17 4.6 11.4 -230.7 408.7 1163.3)"/><linearGradient id="p2g185" href="#cm" gradientTransform="matrix(18.9 5.1 17.3 -241.7 470 1184.6)"/><linearGradient id="p2g186" href="#cm" gradientTransform="matrix(20 5.4 20.9 -248 505.8 1197.1)"/><linearGradient id="p2g187" href="#cm" gradientTransform="matrix(8.7 2.4 -11.6 -170.5 65.3 1048.5)"/><linearGradient id="p2g188" href="#cm" gradientTransform="matrix(9.3 2.5 -10.2 -176.4 96.7 1059.6)"/><linearGradient id="p2g189" href="#cm" gradientTransform="matrix(10.1 2.7 -8.5 -182.8 130.5 1071.5)"/><linearGradient id="p2g190" href="#cm" gradientTransform="matrix(10.9 3 -6.5 -189.6 166.9 1084.3)"/><linearGradient id="p2g191" href="#cm" gradientTransform="matrix(11.8 3.2 -4.1 -196.9 206.3 1098.2)"/><linearGradient id="p2g192" href="#cm" gradientTransform="matrix(12.9 3.5 -1.3 -204.9 249.1 1113.3)"/><linearGradient id="p2g193" href="#cm" gradientTransform="matrix(14.1 3.8 2.1 -213.4 295.6 1129.7)"/><linearGradient id="p2g194" href="#cm" gradientTransform="matrix(15.5 4.2 6.1 -222.8 346.5 1147.7)"/><linearGradient id="p2g195" href="#cm" gradientTransform="matrix(17.1 4.7 11 -232.9 402.4 1167.4)"/><linearGradient id="p2g196" href="#cm" gradientTransform="matrix(19 5.2 17 -244 464 1189.2)"/><linearGradient id="p2g197" href="#cm" gradientTransform="matrix(20.2 5.5 20.7 -250.5 500.1 1201.9)"/><linearGradient id="p2g198" href="#cm" gradientTransform="matrix(8.6 2.4 -12.1 -171.7 58.3 1050.6)"/><linearGradient id="p2g199" href="#cm" gradientTransform="matrix(9.3 2.6 -10.7 -177.7 89.6 1061.9)"/><linearGradient id="p2g200" href="#cm" gradientTransform="matrix(10.1 2.8 -9 -184.2 123.4 1074)"/><linearGradient id="p2g201" href="#cm" gradientTransform="matrix(10.9 3 -7 -191.1 159.8 1087)"/><linearGradient id="p2g202" href="#cm" gradientTransform="matrix(11.8 3.3 -4.6 -198.5 199.3 1101.2)"/><linearGradient id="p2g203" href="#cm" gradientTransform="matrix(12.9 3.6 -1.8 -206.6 242.1 1116.5)"/><linearGradient id="p2g204" href="#cm" gradientTransform="matrix(14.2 3.9 1.6 -215.3 288.8 1133.2)"/><linearGradient id="p2g205" href="#cm" gradientTransform="matrix(15.6 4.3 5.7 -224.8 339.8 1151.5)"/><linearGradient id="p2g206" href="#cm" gradientTransform="matrix(17.2 4.8 10.6 -235.1 396 1171.6)"/><linearGradient id="p2g207" href="#cm" gradientTransform="matrix(19.1 5.3 16.6 -246.5 457.9 1193.8)"/><linearGradient id="p2g208" href="#cm" gradientTransform="matrix(20.3 5.6 20.3 -252.8 492.8 1206.3)"/><linearGradient id="p2g209" href="#cm" gradientTransform="matrix(8.6 2.4 -12.6 -172.9 51.1 1052.8)"/><linearGradient id="p2g210" href="#cm" gradientTransform="matrix(9.3 2.6 -11.2 -179 82.5 1064.2)"/><linearGradient id="p2g211" href="#cm" gradientTransform="matrix(10.1 2.8 -9.5 -185.5 116.2 1076.5)"/><linearGradient id="p2g212" href="#cm" gradientTransform="matrix(10.9 3.1 -7.5 -192.6 152.7 1089.8)"/><linearGradient id="p2g213" href="#cm" gradientTransform="matrix(11.9 3.3 -5.1 -200.1 192.1 1104.1)"/><linearGradient id="p2g214" href="#cm" gradientTransform="matrix(12.9 3.6 -2.3 -208.3 235 1119.7)"/><linearGradient id="p2g215" href="#cm" gradientTransform="matrix(14.2 4 1.1 -217.2 281.8 1136.8)"/><linearGradient id="p2g216" href="#cm" gradientTransform="matrix(15.6 4.4 5.2 -226.8 333.1 1155.4)"/><linearGradient id="p2g217" href="#cm" gradientTransform="matrix(17.3 4.9 10.2 -237.4 389.4 1175.9)"/><linearGradient id="p2g218" href="#cm" gradientTransform="matrix(19.2 5.4 16.1 -248.7 450.3 1198.1)"/></defs><g stroke-width="0.6" stroke-linejoin="round"><path d="M156.5 950.2l1.2 0.4 2.6 2.8 1.3 0.3 1.3 2 1.3 1 1.2 0.2 2.6 1.3 1.3 0.2 2.5-1.7 1.2 0.2 2.6-1.2 1.3 0.3 1.2-1.6 1.3-0.2 1.3-1.3 2.6 2.4 1.4 0.4 1.3 2.1 2.7-0.2-5.8-0.8-1.3-0.9-1.3 0.6-2.6 2.8-1.3 0.8-3.9-1-2.6-2.1-1.3-0.1-3.7 2.8-1.4-1.4-2.5-1.5-5.3-6.3-3.7-0.2-1.2 0.9z" fill="url(#p2g0)" stroke="url(#p2g0)"/><path d="M187.3 957.7l4 0.2 2.7 1.4 2.7 0.4 1.3-1.7 1.4 1.4 1.4 0.5 1.3-0.9 1.4 2.4 4.2 2.8 1.3-0.2 1.4-0.9 2.8 0.1 4.1-2.2 1.4 0 2.9 1.4-5.6 7.6-7.2-9.1-1.3 0-1.5-1.3-1.3 3.6-1.3 1.9-1.4 0.3-1.3 1.4-2.8-1.1-1.4-2-1.4-0.5-2.7-0.1-1.3 1.3-2.7 0.2-1.4-2.9-1.3-0.1-2.8-4.8-1.3-0.9z" fill="url(#p2g1)" stroke="url(#p2g1)"/><path d="M220.1 961.6l4.3 2.4 1.5 2.1 1.4 0.8 1.5 2.2 2.8-1.9 1.5 0.8 1.4-0.9 1.5 0.2 1.5-0.4 1.4 0.3 1.5-0.6 1.5 0.8 1.4-0.5 3 2.2 1.5 0.3 1.5 2.5 3 0.6 1.5 1.2 3.1-0.2-5.6 6.6-1.5-0.8-6.1-9.5-1.5 0-1.5 1-1.5-0.7-1.5 0-1.5-2.2-1.4 1.2-1.5-1.3-1.5 1.1-1.4 0.2-2.9 3.6-2.8 1.2-2.9-1.1-1.5-1.2-4.3-1.6-1.4-1.4z" fill="url(#p2g2)" stroke="url(#p2g2)"/><path d="M255.3 973.7l1.6-0.2 1.5-1 1.5 0.8 3.1 0.2 1.5 2.1 1.5-0.1 4.7 3.8 1.6 0.3 1.5-1.9 3.2 1.6 1.5-0.6 4.8 5.7 1.6 2.6 1.6 0.1 1.6-1.1 4.9-2 1.6 0.8-5.5-1.3-3.2-3.1-1.7-0.6-1.6-1.9-1.6 0.9-3.2-3.2-1.6 0.7-1.6-0.7-1.6 1-1.6-1.5-1.5 0.4-1.6-0.4-1.6 0.5-1.6-1.1-1.5 0.1-1.6-1-1.5 1.9-3.1 2.1-1.5 2-1.6 0.4-1.5 1.7-3-2.4z" fill="url(#p2g3)" stroke="url(#p2g3)"/><path d="M293 984l1.6 0.8 1.6-1.9 1.7 1.5 1.6-1.6 1.7-0.3 3.3 0.2 3.3 0.9 1.7 1 1.7-0.5 3.3 1.7 3.4 3.2 1.7-0.9 1.7 2.8 3.4 0.5 1.7 1.8 1.6 3.9 1.8 0.3 1.7 2.3 3.5-0.3-5.3-2.1-1.8 1.1-1.7-1.3-3.5-3.8-1.7-2.8-1.7-0.9-3.5 1.9-5.2 7-1.7-0.7-1.7 0.5-3.3-3.5-1.7-0.5-3.3-3.2-1.6 0.3-1.7-2.4-4.9-3.8-3.2-3.4z" fill="url(#p2g4)" stroke="url(#p2g4)"/><path d="M333.2 999.8l1.8-0.4 1.7-1.2 1.8 0.2 3.6-3.5 3.6 0.7 1.8 1.7 5.3 1.6 1.8 1.8 1.9-1.1 3.5 4.8 3.6 2.8 1.8 0.1 1.9 1 1.9-2 1.8 1 2-1.4 1.8 1.4 1.9 0 1.8 0.8-5.3 5.1-1.7-5.1-1.9-0.6-1.8-2.3-3.7-2-5.7 2.7-3.6-2.3-1.8-2.3-1.8-0.7-3.6-3.9-3.7 1.9-1.7-1.8-1.8 0.1-1.9 1.9-1.7-1.5-1.8 1.2-3.6-0.4-1.7-0.8-1.8 1.1z" fill="url(#p2g5)" stroke="url(#p2g5)"/><path d="M376.7 1007.3l1.8 0.8 3.7 3.9 3.7 2.6 1.9 0.7 2-1.2 1.9 1.5 8.1-5.3 3.9 0.7 1.9 2.7 1.9 0.6 3.9 3.7 8 1.8 2.1-0.7 1.9 1.6 2.2-1.3-5 1.2-6-5.2-6.1-0.9-1.9-1.6-2.1 1-3.9-2-2-0.4-4.1 2.3-2 0.6-2 1.7-1.9-0.3-2.1 1.9-1.9-0.7-3.9 0.4-1.8-2-2 1.3-1.8-2.2-1.9-1.3-1.7-5.1z" fill="url(#p2g6)" stroke="url(#p2g6)"/><path d="M423.4 1020.7l6.4-3.8 2.2-2 2.1-0.3 2.2-1.9 2.2-0.2 4.1 1.5 4.1 2.7 2.1 0.6 2.2 0 4.4-1.5 2.3-1.5 6.3 3.7 2.3-0.8 2.1 2.5 2.1 1.7 2.3-1.1 2 2.7 2.1 1.7-5.1 6.6-2.4 2.4-2.5 3.5-6.4-3.1-2.1-2.5-1.9-4-2.1-2.3-2.2-0.1-2-3.3-4.4 0.7-2-1.6-2.2 0-2.2 1.2-2-2.3-2.3 2.3-2-0.5-2.2 1-2-2.4-2.1 0.5-2.2 1.6-2-1.6-2-0.2-2-1.5z" fill="url(#p2g7)" stroke="url(#p2g7)"/><path d="M474.8 1023l2.1 1.7 2.1 3 6.7 2.1 2.4-2.2 2.4-0.9 2.5-3.5 2.3 1 4.7-0.5 2.4-0.4 2.4-1.5 2.4 0.1 2.4-1 4.7 0.8 2.4 0.8 2.2 2.4 2.4 0.4 2.2 1.9 4.7 2.2 2.3 2.4 2.1 3.4-4.4 1.6-2.3-2.2-2.5 0.5-2.5-0.2-5.1 2.6-2.3-1.2-4.9 1.4-4.7-1.3-2.4 0.6-2.3-1.6-2.1-2.7-2.3-0.3-4.4-3.8-6.8-2.2-2.3-0.1-7.1 2.8-4.8 4.6z" fill="url(#p2g8)" stroke="url(#p2g8)"/><path d="M530.5 1031.8l2.1 3.4 6.8 6.8 2.2 4.1 4.9 0.6 2.2 3.1 2.5 0.2 4.9 2.1 2.5 0.5 2.6-0.3 2.7-0.5 2.7-1.3 5.7-4.8 2.7-1.2 2.5 1.5 2.9-2.3 2.5 1.7 2.4 2.4 2.5 1.6 4.7 6.4-4.4 4.1-2.5-1-5.4-0.4-2.4-2.7-5-3.2-7.3-5.7-2.6-0.8-2.6 0.7-2.6-0.5-2.4-1.9-2.2-3.6-2.5-0.7-2.5-1.4-7.8 2.8-2.4-1.8-2.5-0.5-2.2-2.7-5 0.3-2.3-2.2z" fill="url(#p2g9)" stroke="url(#p2g9)"/><path d="M590.1 1052.5l2.4 3.3 4.4 8.6-3.6-1.3-2.7-0.4-2.5-2.8-2.5-1z" fill="url(#p2g10)" stroke="url(#p2g10)"/><path d="M150.8 951.2l1.2-0.9 3.7 0.2 5.3 6.3 2.5 1.5 1.4 1.4 3.7-2.8 1.3 0.1 2.6 2.1 3.9 1 1.3-0.8 2.6-2.8 1.3-0.6 1.3 0.9-5.6 6.4-5.4-5.9-1.3-0.1-1.4-1.1-1.3 0.2-1.3-1.2-3.9-0.6-1.2 0.8-1.3 0.2-1.3-0.6-1.2 1.1-2.6-1.5-3.7 1.8-1.3-1.2-1.2 0.6-1.4-2.2-1.2-0.5-1.4-2.6z" fill="url(#p2g11)" stroke="url(#p2g11)"/><path d="M181.6 955.9l1.3 0.9 2.8 4.8 1.3 0.1 1.4 2.9 2.7-0.2 1.3-1.3 2.7 0.1 1.4 0.5 1.4 2 2.8 1.1 1.3-1.4 1.4-0.3 1.3-1.9 1.3-3.6 1.5 1.3 1.3 0 7.2 9.1-5.8-4.2-1.4 0.2-4.3-2.2-1.3 0.4-4.2-1.3-2.9-1.8-2.8-2.8-1.3 0-1.4-0.8-1.4 0.9-1.2 3.5-1.4 0.1-1.3 1.6-6.6 0.7-2.7-2.3z" fill="url(#p2g12)" stroke="url(#p2g12)"/><path d="M214.6 968.6l1.4 1.4 4.3 1.6 1.5 1.2 2.9 1.1 2.8-1.2 2.9-3.6 1.4-0.2 1.5-1.1 1.5 1.3 1.4-1.2 1.5 2.2 1.5 0 1.5 0.7 1.5-1 1.5 0 6.1 9.5 1.5 0.8-5.7-4.4-1.5-0.7-3 2-1.5-1.5-1.5 1.5-1.5-1.7-1.5-0.4-1.6-2.9-3-3-1.4 0.4-3-1.6-1.4 1.1-1.5 0.1-2.9-3.4-1.5-0.3-1.5-1.7-4.2 2.7-1.4 0.2-1.5-0.7-1.4 0.2z" fill="url(#p2g13)" stroke="url(#p2g13)"/><path d="M249.8 979.3l3 2.4 1.5-1.7 1.6-0.4 1.5-2 3.1-2.1 1.5-1.9 1.6 1 1.5-0.1 1.6 1.1 1.6-0.5 1.6 0.4 1.5-0.4 1.6 1.5 1.6-1 1.6 0.7 1.6-0.7 3.2 3.2 1.6-0.9 1.6 1.9 1.7 0.6 3.2 3.1-5.6 2.6-1.6-0.1-1.6-1.1-1.7 0-1.6-1.9-3.2-2.1-1.6-2.1-1.6-0.4-1.6-2.3-3.2-0.6-1.6-0.9-1.5 1.3-1.6-0.6-1.6 1.5-1.5 3-3.1 1.2-1.6 1.5-1.5-2.3-1.6-0.8-3.1-3.6-3-0.8z" fill="url(#p2g14)" stroke="url(#p2g14)"/><path d="M287.5 981.8l3.2 3.4 4.9 3.8 1.7 2.4 1.6-0.3 3.3 3.2 1.7 0.5 3.3 3.5 1.7-0.5 1.7 0.7 5.2-7 3.5-1.9 1.7 0.9 1.7 2.8 3.5 3.8 1.7 1.3 1.8-1.1-5.5 2.9-1.8-0.6-1.7-2.6-1.7-0.3-8.6-8.3-1.7-0.4-1.7-1.4-1.7-0.5-1.7 1.2-3.4-0.1-1.7 1.3-1.7-1.4-3.4-0.9-1.6-1.4-1.7 0.3-1.6 1.9-1.7 0.5-3.3-1.4-1.6-0.1z" fill="url(#p2g15)" stroke="url(#p2g15)"/><path d="M327.9 998.4l1.8-1.1 1.7 0.8 3.6 0.4 1.8-1.2 1.7 1.5 1.9-1.9 1.8-0.1 1.7 1.8 3.7-1.9 3.6 3.9 1.8 0.7 1.8 2.3 3.6 2.3 5.7-2.7 3.7 2 1.8 2.3 1.9 0.6 1.7 5.1-5.3 1-2 2.3-5.6-0.4-7.4-5-1.8-2-1.8 0.5-1.9-0.9-1.7-2.4-1.9-0.1-5.4-2.7-1.8 0.3-1.8-0.6-1.7-1.8-3.6-0.3-1.8-0.8-1.8 0.3-3.5-1z" fill="url(#p2g16)" stroke="url(#p2g16)"/><path d="M371.5 1008.1l1.7 5.1 1.9 1.3 1.8 2.2 2-1.3 1.8 2 3.9-0.4 1.9 0.7 2.1-1.9 1.9 0.3 2-1.7 2-0.6 4.1-2.3 2 0.4 3.9 2 2.1-1 1.9 1.6 6.1 0.9 6 5.2-4.6-10.3-2.1 0.7-2-1-4.1-0.4-4-2.3-2.1 1.5-6.1-0.8-2.1 2.9-2.1 1.1-2 2.4-4.1 1.1-1.9 0-3.8-3.1-1.9-0.9-1.9-2.3-2 0.6-2 2.6-1.9 0.4-2 1.4-2 2.3z" fill="url(#p2g17)" stroke="url(#p2g17)"/><path d="M418.6 1019.1l2 1.5 2 0.2 2 1.6 2.2-1.6 2.1-0.5 2 2.4 2.2-1 2 0.5 2.3-2.3 2 2.3 2.2-1.2 2.2 0 2 1.6 4.4-0.7 2 3.3 2.2 0.1 2.1 2.3 1.9 4 2.1 2.5 6.4 3.1 2.5-3.5 2.4-2.4-4.3-6.2-4.4-2.1-4.5-0.2-2.3 1.1-2.3 0.4-2.2-0.5-2.3 2-2-2.7-2.4 2.2-4.1-4.1-2.1-1.3-1.9-5.1-2-1.2-4.1-3.7-4.3-0.3-2.1 0.4-2.3 2.5-4.2-0.7-2-1.5-2.1 0.7z" fill="url(#p2g18)" stroke="url(#p2g18)"/><path d="M469.4 1033.7l4.8-4.6 7.1-2.8 2.3 0.1 6.8 2.2 4.4 3.8 2.3 0.3 2.1 2.7 2.3 1.6 2.4-0.6 4.7 1.3 4.9-1.4 2.3 1.2 5.1-2.6 2.5 0.2 2.5-0.5 2.3 2.2-4.5 0.4-2.3-1.5-2.6 1.5-2.7 2.6-4.8-2-4.9 0.2-4.7-0.5-2.3-1.2-4.6-3.4-2.3-0.6-4.8 1.5-2.4-0.2-2.2-1.8-4.5-1.7-2.1-2.1-4.6-0.9-6.6-3.1z" fill="url(#p2g19)" stroke="url(#p2g19)"/><path d="M525.9 1034.6l2.3 2.2 5-0.3 2.2 2.7 2.5 0.5 2.4 1.8 7.8-2.8 2.5 1.4 2.5 0.7 2.2 3.6 2.4 1.9 2.6 0.5 2.6-0.7 2.6 0.8 7.3 5.7 5 3.2 2.4 2.7 5.4 0.4 2.5 1-4.3 3.9-2.9 1-2.5-1.2-2.5-2.4-5-3.4-2.3-3.3-2.5-2.5-2.6-0.7-2.4-2.2-2.3-3.1-2.5-1.5-2.7 0.7-2.4-2.2-2.6 0.5-2.4-2.4-2.8 2.3-4.7-3.9-2.6 0.2-2.5-0.3-2.4-1.1-2.3-3-2.6 1.5-2.6 0.4-2.3-1.5z" fill="url(#p2g20)" stroke="url(#p2g20)"/><path d="M585.6 1058.9l2.5 1 2.5 2.8 2.7 0.4-4.2 1.9-5.3-1.2-2.9 1z" fill="url(#p2g21)" stroke="url(#p2g21)"/><path d="M144.9 950.4l1.4 2.6 1.2 0.5 1.4 2.2 1.2-0.6 1.3 1.2 3.7-1.8 2.6 1.5 1.2-1.1 1.3 0.6 1.3-0.2 1.2-0.8 3.9 0.6 1.3 1.2 1.3-0.2 1.4 1.1 1.3 0.1 5.4 5.9-5.9 0.1-1.3-1.4-2.7-1-2.6 0.9-1.3-1.1-2.6 0-2.7-4-3.8 2.1-2.5 0.2-1.2 1.1-3.8 0.9-1.2 1.3-1.2 0.5-2.5-1.6-2.5-0.3z" fill="url(#p2g22)" stroke="url(#p2g22)"/><path d="M176 962l2.7 2.3 6.6-0.7 1.3-1.6 1.4-0.1 1.2-3.5 1.4-0.9 1.4 0.8 1.3 0 2.8 2.8 2.9 1.8 4.2 1.3 1.3-0.4 4.3 2.2 1.4-0.2-5.7 3.4-1.5-0.8-1.4 0.5-1.4-0.8-1.4 0.7-4.1 0.9-2.8-0.6-2.8-2-1.4 1.4-1.4-0.9-1.3 2.3-1.3-0.7-1.3 1.4-2.8-2-2.8-4.6-4-1.1-1.4 0.4-1.3-1.4z" fill="url(#p2g23)" stroke="url(#p2g23)"/><path d="M208.8 966l1.4-0.2 1.5 0.7 1.4-0.2 4.2-2.7 1.5 1.7 1.5 0.3 2.9 3.4 1.5-0.1 1.4-1.1 3 1.6 1.4-0.4 3 3 1.6 2.9 1.5 0.4 1.5 1.7 1.5-1.5 1.5 1.5 3-2 1.5 0.7-5.7 2.2-4.6-0.5-1.5 2.2-1.5-1.7-3 0-3-3.1-1.5-0.5-3-3.7-1.4 0.3-1.5-0.5-4.4-2.7-1.5 0.4-1.4-1.3-1.4 1.4-1.5-0.2-4.2 1.2-1.5-0.8z" fill="url(#p2g24)" stroke="url(#p2g24)"/><path d="M244.1 975l3 0.8 3.1 3.6 1.6 0.8 1.5 2.3 1.6-1.5 3.1-1.2 1.5-3 1.6-1.5 1.6 0.6 1.5-1.3 1.6 0.9 3.2 0.6 1.6 2.3 1.6 0.4 1.6 2.1 3.2 2.1 1.6 1.9 1.7 0 1.6 1.1 1.6 0.1-5.6-1.1-6.6 2.7-1.6-1.3-1.6-0.3-1.6 1-1.6-1.9-1.6 1.4-1.6-2.2-3.2-0.7-1.5 0.3-1.6 1.9-1.6-1.1-1.5 1-1.6-0.3-3.1-2.6-1.6-0.4-4.6-4-3-0.7z" fill="url(#p2g25)" stroke="url(#p2g25)"/><path d="M281.9 986l1.6 0.1 3.3 1.4 1.7-0.5 1.6-1.9 1.7-0.3 1.6 1.4 3.4 0.9 1.7 1.4 1.7-1.3 3.4 0.1 1.7-1.2 1.7 0.5 1.7 1.4 1.7 0.4 8.6 8.3 1.7 0.3 1.7 2.6 1.8 0.6-5.6 3.5-1.7-3.6-1.7-1.7-5.3 0.4-3.5-1.4-1.7-0.2-1.7-1.4-1.7-2.7-1.7-0.4-3.4-3.6-5 0-1.7-0.7-1.7 0.6-1.7-0.5-1.6-2.6-1.7 0.8-3.3-2.4-3.3 1.4z" fill="url(#p2g26)" stroke="url(#p2g26)"/><path d="M322.4 999.6l3.5 1 1.8-0.3 1.8 0.8 3.6 0.3 1.7 1.8 1.8 0.6 1.8-0.3 5.4 2.7 1.9 0.1 1.7 2.4 1.9 0.9 1.8-0.5 1.8 2 7.4 5 5.6 0.4 2-2.3-4.4-29.8-1.9-1.2-1.9-0.1-1.9-0.8-1.9 0.1-3.9 2.1-2.2 10.1-2.2 15.3-2 4.7-1.8-2.1-1.9 1-3.6-2.9-1.8-0.5-3.7 0.7-3.6-1.5-1.8 0.5-5.3-4.1-3.5-2-1.7-3.6z" fill="url(#p2g27)" stroke="url(#p2g27)"/><path d="M365.9 1016.5l2-2.3 2-1.4 1.9-0.4 2-2.6 2-0.6 1.9 2.3 1.9 0.9 3.8 3.1 1.9 0 4.1-1.1 2-2.4 2.1-1.1 2.1-2.9 6.1 0.8 2.1-1.5 4 2.3 4.1 0.4 2 1 2.1-0.7-5.9 15.7-2-2-6.1-1.8-2.1 2.5-2.1-0.2-2.1 1.2-4 0.3-2.6-35.5-2.1 0.1-1.8-3.4-4.1 1.3-2-1-5.9 0.1-2.1 2.4-3.8-1.7-3.8-3.9-1.9-1.2z" fill="url(#p2g28)" stroke="url(#p2g28)"/><path d="M413.9 1011l2.1-0.7 2 1.5 4.2 0.7 2.3-2.5 2.1-0.4 4.3 0.3 4.1 3.7 2 1.2 1.9 5.1 2.1 1.3 4.1 4.1 2.4-2.2 2 2.7 2.3-2 2.2 0.5 2.3-0.4 2.3-1.1 4.5 0.2 4.4 2.1-5.2 4.7-4.7 2.1-7.1 6.1-4.4-1.1-2.3 0.9-2.1-1.6-2.2 0.3-2.2 1.4-2.1-1.5-2.2-0.1-8.4-4.1-4.2-1.4-2-2.4-8.3-2.4-2-2z" fill="url(#p2g29)" stroke="url(#p2g29)"/><path d="M465.3 1024l6.6 3.1 4.6 0.9 2.1 2.1 4.5 1.7 2.2 1.8 2.4 0.2 4.8-1.5 2.3 0.6 4.6 3.4 2.3 1.2 4.7 0.5 4.9-0.2 4.8 2 2.7-2.6 2.6-1.5 2.3 1.5-5.1 7.9-2.5-0.9-2.5 0.3-2.3-2.1-4.7-2.4-4.7-3.2-4.8-0.3-2.5 1.4-2.4-0.9-7.3 2.1-2.3-0.8-2.3 0-2.2-2.1-4.7 0.8-4.5-2.4-2.1-2.8-4.5-2-2.3 1z" fill="url(#p2g30)" stroke="url(#p2g30)"/><path d="M521.4 1035.7l2.3 1.5 2.6-0.4 2.6-1.5 2.3 3 2.4 1.1 2.5 0.3 2.6-0.2 4.7 3.9 2.8-2.3 2.4 2.4 2.6-0.5 2.4 2.2 2.7-0.7 2.5 1.5 2.3 3.1 2.4 2.2 2.6 0.7 2.5 2.5 2.3 3.3 5 3.4 2.5 2.4 2.5 1.2 2.9-1-4.5 3.9-2.6-1.3-2.4-2.7-2.6-0.9-2.5-2.6-2.6-1.4-2.3-3.4-2.7 0-2.5-1.8-2.6-0.9-2.3-3-2.5-1.6-5.1-1.3-2.4-2.4-2.6-0.2-2.8 1.8-7.5-2.6-7.5-0.4-2.6 0.4-2.6 1.7-2.5-0.9z" fill="url(#p2g31)" stroke="url(#p2g31)"/><path d="M580.9 1064.8l2.9-1 5.3 1.2-4.6 6.3-2.8 0-2.4-3.6-2.6-1.3z" fill="url(#p2g32)" stroke="url(#p2g32)"/><path d="M139.5 960.9l2.5 0.3 2.5 1.6 1.2-0.5 1.2-1.3 3.8-0.9 1.2-1.1 2.5-0.2 3.8-2.1 2.7 4 2.6 0 1.3 1.1 2.6-0.9 2.7 1 1.3 1.4-6-2.6-1.2 2.5-1.4-1.4-1.3 0.8-2.6-1.3-2.7-0.3-6.6-6.4-2.6 0.2-1.3-1.4-3.7 1.3-1.3-0.1-1.3-0.7-2.5 0.2-1.3-1.2-1.2 0.5-1.2-0.2z" fill="url(#p2g33)" stroke="url(#p2g33)"/><path d="M170.1 961.9l1.3 1.4 1.4-0.4 4 1.1 2.8 4.6 2.8 2 1.3-1.4 1.3 0.7 1.3-2.3 1.4 0.9 1.4-1.4 2.8 2 2.8 0.6 4.1-0.9 1.4-0.7 1.4 0.8 1.4-0.5 1.5 0.8-6-0.8-2.8 0.1-1.4-1.1-1.4 0.8-1.4-0.2-2.8 0.8-2.8-1.3-1.3 1.4-5.6-4.4-1.4 1.4-2.8-3.3-1.3 1.1-1.4-1-1.3-0.2-1.3 0.8-1.4-1-1.3 0.8-1.4-2.4-1.2 2.5z" fill="url(#p2g34)" stroke="url(#p2g34)"/><path d="M203 968.4l1.5 0.8 4.2-1.2 1.5 0.2 1.4-1.4 1.4 1.3 1.5-0.4 4.4 2.7 1.5 0.5 1.4-0.3 3 3.7 1.5 0.5 3 3.1 3 0 1.5 1.7 1.5-2.2 4.6 0.5-5.8 6.3-1.5 0.7-1.5-0.4-1.5 0.8-1.6-1.5-1.5-2.7-1.5-1.3-1.5-2.9-1.5-0.3-1.6-3.6-1.5-0.1-2.9 4.4-1.4 0.7-1.5-0.2-1.5-2.3-1.4-0.3-1.5-3.1-4.5-6.7-4.3 1.8-1.4 1.2-1.4 0.3z" fill="url(#p2g35)" stroke="url(#p2g35)"/><path d="M238.4 977.8l3 0.7 4.6 4 1.6 0.4 3.1 2.6 1.6 0.3 1.5-1 1.6 1.1 1.6-1.9 1.5-0.3 3.2 0.7 1.6 2.2 1.6-1.4 1.6 1.9 1.6-1 1.6 0.3 1.6 1.3 6.6-2.7-5.8 5.6-4.9-3.5-3.3-3.8-1.6-0.1-1.6 1.7-1.6-0.8-3.2-0.3-1.6-1.4-1.6 0.4-3.1-0.1-1.6-1-1.6 0-1.5-1.5-1.6-0.2-1.6 0.8-1.5 0-3.1 2.2-1.5 2.2-1.5-1-1.5 0.7z" fill="url(#p2g36)" stroke="url(#p2g36)"/><path d="M276.2 985.7l3.3-1.4 3.3 2.4 1.7-0.8 1.6 2.6 1.7 0.5 1.7-0.6 1.7 0.7 5 0 3.4 3.6 1.7 0.4 1.7 2.7 1.7 1.4 1.7 0.2 3.5 1.4 5.3-0.4 1.7 1.7 1.7 3.6-5.5-8.5-1.7-1.8-1.8-0.9-1.8 0.7-1.7 1.9-1.8 0.7-1.8 1.5-3.5 1.4-1.7 0.3-3.4-3-1.7 0.7-10.1-9.1-5 2.6-1.7 2-4.9-2.4z" fill="url(#p2g37)" stroke="url(#p2g37)"/><path d="M316.9 1000.1l1.7 3.6 3.5 2 5.3 4.1 1.8-0.5 3.6 1.5 3.7-0.7 1.8 0.5 3.6 2.9 1.9-1 1.8 2.1 2-4.7 2.2-15.3 2.2-10.1 3.9-2.1 1.9-0.1 1.9 0.8 1.9 0.1 1.9 1.2-5.1-12.9-1.8-4.1-3.6-10.6-2 2.9-14.3 38.6-2.1 12.5-1.8-3.1-1.8-0.1-1.8-3.2-1.8 0.6-1.8-1-1.8-2.9-1.8 1.3-3.6-4-5.3-3.2-1.7-1.8z" fill="url(#p2g38)" stroke="url(#p2g38)"/><path d="M361.6 983.2l1.9 1.2 3.8 3.9 3.8 1.7 2.1-2.4 5.9-0.1 2 1 4.1-1.3 1.8 3.4 2.1-0.1 2.6 35.5 4-0.3 2.1-1.2 2.1 0.2 2.1-2.5 6.1 1.8 2 2-5.3 2.1-3.9-5.2-2.1-0.7-2.1 1-2-0.9-2.1 1.1-1.7-7.8-1.9-3.5-1.4-16.3-3.1-26.2-1.8-5.9-1.9-3.8-4.3 4.4-2.6 18.1-2.1 1.8-1.7-8.5-3.6-11-2 0.2-2 1.2-4.1 5.4-1.8-4.1z" fill="url(#p2g39)" stroke="url(#p2g39)"/><path d="M408.1 1024l2 2 8.3 2.4 2 2.4 4.2 1.4 8.4 4.1 2.2 0.1 2.1 1.5 2.2-1.4 2.2-0.3 2.1 1.6 2.3-0.9 4.4 1.1 7.1-6.1 4.7-2.1-5.1 3-6.6-4-4.5-1.5-2.4 4-2.3 0.2-4.5 1.4-2.1-1.6-2.2-0.4-2.1-2.6-2.1-1-2.2 0.6-2.2-0.8-6.6 2.9-2.2 1.7-2.1-1-4.2-0.6-2-2-2.1 0-2-2.4z" fill="url(#p2g40)" stroke="url(#p2g40)"/><path d="M460 1030.8l2.3-1 4.5 2 2.1 2.8 4.5 2.4 4.7-0.8 2.2 2.1 2.3 0 2.3 0.8 7.3-2.1 2.4 0.9 2.5-1.4 4.8 0.3 4.7 3.2 4.7 2.4 2.3 2.1 2.5-0.3 2.5 0.9-4.7 1.4-2.5-0.9-2.6 1.3-2.5-0.2-2.5 1.2-2.5-0.4-2.3-1.5-2.4-0.8-2.3-2.1-4.7-1.8-2.1-3.9-2.3-1.5-2.6 1.6-2.1-3.3-4.7-0.6-2.3-1.3-2.4 0-2.4 0.8-2.3-0.2-4.7 1.4-2.3-0.1-4.4-2.4z" fill="url(#p2g41)" stroke="url(#p2g41)"/><path d="M516.1 1044.2l2.5 0.9 2.6-1.7 2.6-0.4 7.5 0.4 7.5 2.6 2.8-1.8 2.6 0.2 2.4 2.4 5.1 1.3 2.5 1.6 2.3 3 2.6 0.9 2.5 1.8 2.7 0 2.3 3.4 2.6 1.4 2.5 2.6 2.6 0.9 2.4 2.7 2.6 1.3-3.9-2.1-2.5-2.1-5.3-1.8-2.8 0.7-5.2-2.2-2.8 1.2-2.7 0-2.5-1.7-2.6-1.1-2.4-3.2-2.4-2-2.3-3.5-2.5-1.6-2.4-2.6-2.5-0.8-5.3 0.7-5-1.4-2.6 0.1-7.7 2.2-2.5-0.9z" fill="url(#p2g42)" stroke="url(#p2g42)"/><path d="M576.7 1066.4l2.6 1.3 2.4 3.6 2.8 0-4.1 0-2.4-3.7-5.1-4.1z" fill="url(#p2g43)" stroke="url(#p2g43)"/><path d="M133.2 953.2l1.2 0.2 1.2-0.5 1.3 1.2 2.5-0.2 1.3 0.7 1.3 0.1 3.7-1.3 1.3 1.4 2.6-0.2 6.6 6.4 2.7 0.3 2.6 1.3 1.3-0.8 1.4 1.4 1.2-2.5-5.7 9.9-2.6 1-5.4-4.4-1.3-1.6-4.3-10.6-1.3-1.2-3.8 2.8-2.3 5-1.3-1-1.2 0.4-1.3-0.4-1.2 1.9-1.2 0.8-1.2 0.2-1.3-1.2-2.7-4z" fill="url(#p2g44)" stroke="url(#p2g44)"/><path d="M164.2 963.2l1.2-2.5 1.4 2.4 1.3-0.8 1.4 1 1.3-0.8 1.3 0.2 1.4 1 1.3-1.1 2.8 3.3 1.4-1.4 5.6 4.4 1.3-1.4 2.8 1.3 2.8-0.8 1.4 0.2 1.4-0.8 1.4 1.1 2.8-0.1-5.9 3.6-1.4 0-1.4 1.4-2.8-0.2-4.1 1.8-2.8-0.8-1.4 0.1-2.7 1.5-1.3 1.7-2.8-1.8-5.6-6-2.6-0.1-2.6 1.7-1.4-0.7-1.3 0.2z" fill="url(#p2g45)" stroke="url(#p2g45)"/><path d="M197.1 968.7l1.4-0.3 1.4-1.2 4.3-1.8 4.5 6.7 1.5 3.1 1.4 0.3 1.5 2.3 1.5 0.2 1.4-0.7 2.9-4.4 1.5 0.1 1.6 3.6 1.5 0.3 1.5 2.9 1.5 1.3 1.5 2.7 1.6 1.5 1.5-0.8 1.5 0.4 1.5-0.7-6-3.4-3-2.5-1.6-0.1-1.5 0.9-1.5-1.9-1.5 0.6-3-2.7-1.5 1-3-2.5-1.5 0.9-1.4 0.2-1.5 1.5-4.3 0-3-2.9-2.9 0-1.4-1.3-4.3 0z" fill="url(#p2g46)" stroke="url(#p2g46)"/><path d="M232.6 984.9l1.5-0.7 1.5 1 1.5-2.2 3.1-2.2 1.5 0 1.6-0.8 1.6 0.2 1.5 1.5 1.6 0 1.6 1 3.1 0.1 1.6-0.4 1.6 1.4 3.2 0.3 1.6 0.8 1.6-1.7 1.6 0.1 3.3 3.8 4.9 3.5-5.8 5.3-4.9-0.4-1.7-2.8-3.2-1.5-1.6-3.3-1.6 0-1.7-1.1-3.1 0.1-4.8-5.7-1.6-0.4-1.6-2.5-1.6 2-1.5 0.2-3.1 2.5-1.6-1.4-1.5 0.8-1.5-0.5-3.1-2.4z" fill="url(#p2g47)" stroke="url(#p2g47)"/><path d="M270.5 989.8l4.9 2.4 1.7-2 5-2.6 10.1 9.1 1.7-0.7 3.4 3 1.7-0.3 3.5-1.4 1.8-1.5 1.8-0.7 1.7-1.9 1.8-0.7 1.8 0.9 1.7 1.8-5.9 13.7-3.5 0.9-1.8-3.2-3.5-0.8-1.7-1-1.7 0.8-3.5 0.5-1.7-1.1-8.5-9.1-3.4 2.1-1.7-0.4-3.3 0.8-1.7-2-1.6 0.5-1.7-1.6-1.6 0.6-1.7-0.1z" fill="url(#p2g48)" stroke="url(#p2g48)"/><path d="M311.4 993.4l1.7 1.8 5.3 3.2 3.6 4 1.8-1.3 1.8 2.9 1.8 1 1.8-0.6 1.8 3.2 1.8 0.1 1.8 3.1 2.1-12.5 14.3-38.6 2-2.9 3.6 10.6 1.8 4.1-6.1 18.8-1.9-3.2-1.9-1.5-1.9 0.2-1.9-3.1-1.8-1.6-2-0.6-2.2 13.6-2.3 19.5-2 4.7-1.8-2-1.8-3.7-1.8-1.9-1.9-0.4-1.8-2.4-1.8-0.5-3.7 0.9-1.8 1-1.8-2-1.8 1-1.8 0.2-1.8-1.2-1.8 1.2-3.6 0.6z" fill="url(#p2g49)" stroke="url(#p2g49)"/><path d="M356.6 967.4l1.8 4.1 4.1-5.4 2-1.2 2-0.2 3.6 11 1.7 8.5 2.1-1.8 2.6-18.1 4.3-4.4 1.9 3.8 1.8 5.9 3.1 26.2 1.4 16.3 1.9 3.5 1.7 7.8 2.1-1.1 2 0.9 2.1-1 2.1 0.7 3.9 5.2-5.4 3.1-4.2-1.1-6.4 3.9-2-1.1-6.1-0.4-2.6-38.1-2-2.4-5.9-4.5-2 0.6-4.1 3.2-6.1 3.1-3.8-3.3-1.9-0.8-1.9-3.2z" fill="url(#p2g50)" stroke="url(#p2g50)"/><path d="M402.8 1025.7l2 2.4 2.1 0 2 2 4.2 0.6 2.1 1 2.2-1.7 6.6-2.9 2.2 0.8 2.2-0.6 2.1 1 2.1 2.6 2.2 0.4 2.1 1.6 4.5-1.4 2.3-0.2 2.4-4 4.5 1.5 6.6 4-5.6 7.9-2.1-1.7-4.5-1.1-2.3 0.4-2.2-1.5-2.3 0.7-2.2-0.7-2.3 0.8-2.2-0.3-2.3 1.1-2.1-1.8-4.4-0.3-2-2.8-4.4 0.8-4.3-0.3-2.2 0.6-4.2-1.3-2.1 0.4-2-3.2-2.1 0.7-2.1-0.5z" fill="url(#p2g51)" stroke="url(#p2g51)"/><path d="M455 1031.8l4.4 2.4 2.3 0.1 4.7-1.4 2.3 0.2 2.4-0.8 2.4 0 2.3 1.3 4.7 0.6 2.1 3.3 2.6-1.6 2.3 1.5 2.1 3.9 4.7 1.8 2.3 2.1 2.4 0.8 2.3 1.5 2.5 0.4 2.5-1.2 2.5 0.2 2.6-1.3 2.5 0.9-5.2 5.7-2.5-0.2-5.2 2.4-2.5-0.2-2.2-2.6-4.7-3.8-2.3-1.4-4.8-1.7-4.5-4.9-2.4 0.2-2.3-1.5-2.6 3-2.4-0.5-2.5 1.8-2.4 0.8-2.3-0.2-2.4 0.8-4.5-2-2.2-1.8-2.4 0.3-2.1-1.7z" fill="url(#p2g52)" stroke="url(#p2g52)"/><path d="M511.4 1045.6l2.5 0.9 7.7-2.2 2.6-0.1 5 1.4 5.3-0.7 2.5 0.8 2.4 2.6 2.5 1.6 2.3 3.5 2.4 2 2.4 3.2 2.6 1.1 2.5 1.7 2.7 0 2.8-1.2 5.2 2.2 2.8-0.7 5.3 1.8 2.5 2.1-5.4 12-2.7-0.4-7.5-7.8-2.7 0-2.6-1.7-2.4-2.9-2.8 0.8-2.6-0.6-5.1-3-2.6-0.1-5.1-2.7-5.2-0.3-2.4-2.9-4.9-2.4-2.6-0.1-2.3-2.6-2.7 1.2-2.5-0.5-2.6 0.6-2.5-0.2z" fill="url(#p2g53)" stroke="url(#p2g53)"/><path d="M572.9 1063.5l5.1 4.1 2.4 3.7-4.9 7-2.7-0.8-5.5-0.3z" fill="url(#p2g54)" stroke="url(#p2g54)"/><path d="M127.3 958.3l2.7 4 1.3 1.2 1.2-0.2 1.2-0.8 1.2-1.9 1.3 0.4 1.2-0.4 1.3 1 2.3-5 3.8-2.8 1.3 1.2 4.3 10.6 1.3 1.6 5.4 4.4 2.6-1-6 3.2-4.2-6.5-1.3-0.3-2.6 1-2.5 2-2.5 0.6-1.3 1-1.2 0.1-1.3-0.4-1.4-2.3-3.9-2.8-1.3-0.4-1.1 1.6-1.3-1-1.3-0.2-1.2 1.2-3.9-4.6z" fill="url(#p2g55)" stroke="url(#p2g55)"/><path d="M158.4 970.8l1.3-0.2 1.4 0.7 2.6-1.7 2.6 0.1 5.6 6 2.8 1.8 1.3-1.7 2.7-1.5 1.4-0.1 2.8 0.8 4.1-1.8 2.8 0.2 1.4-1.4 1.4 0-5.9 6.8-2.8 0.4-1.4 0.9-1.4-1.7-1.4 0.8-4.3-4.1-1.4-0.5-1.4 0.6-1.4-1.8-1.4 0.3-2.7-0.3-2.8-2.5-1.3 0.1-1.4-0.9-3.9 3.5-1.3 0.5-2.7-0.3-1.4-1.7z" fill="url(#p2g56)" stroke="url(#p2g56)"/><path d="M191.2 972l4.3 0 1.4 1.3 2.9 0 3 2.9 4.3 0 1.5-1.5 1.4-0.2 1.5-0.9 3 2.5 1.5-1 3 2.7 1.5-0.6 1.5 1.9 1.5-0.9 1.6 0.1 3 2.5-5.9 5.1-3.1-3-3.1-4.3-1.5 0.6-5.8 7.8-1.5 0.1-1.5-0.1-1.5-0.8-1.5-1.6-1.5-0.7-2.9 0.6-1.4 1.5-2.9 0.4-1.4-2.1-1.5-0.6-1.5-3.6-1.5-1-2.8 0z" fill="url(#p2g57)" stroke="url(#p2g57)"/><path d="M226.6 979.5l3.1 2.4 1.5 0.5 1.5-0.8 1.6 1.4 3.1-2.5 1.5-0.2 1.6-2 1.6 2.5 1.6 0.4 4.8 5.7 3.1-0.1 1.7 1.1 1.6 0 1.6 3.3 3.2 1.5 1.7 2.8 4.9 0.4-5.9 7.9-1.7-0.4-1.6 1.3-4.9-2.7-1.6-1.6-4.9-7.8-3.2-3-1.6-2.2-3.2-1.8-3.1 0.5-1.6-0.9-3.1 2.4-1.5-0.1-3.1 1.4-4.7-4.4z" fill="url(#p2g58)" stroke="url(#p2g58)"/><path d="M264.6 995.8l1.7 0.1 1.6-0.6 1.7 1.6 1.6-0.5 1.7 2 3.3-0.8 1.7 0.4 3.4-2.1 8.5 9.1 1.7 1.1 3.5-0.5 1.7-0.8 1.7 1 3.5 0.8 1.8 3.2 3.5-0.9-5.8 6-1.8-0.2-1.8-1.9-1.7-2.6-1.7-4.1-5.2-6.2-3.5-2.3-1.7-1.8-1.7-0.1-1.8-1-3.4 0.7-1.7 1.6-1.7 0.5-3.4 2-1.6 2.8-1.7-1.4-1.7 2.5-1.6 0.7-5-0.7z" fill="url(#p2g59)" stroke="url(#p2g59)"/><path d="M305.4 1009.1l3.6-0.6 1.8-1.2 1.8 1.2 1.8-0.2 1.8-1 1.8 2 1.8-1 3.7-0.9 1.8 0.5 1.8 2.4 1.9 0.4 1.8 1.9 1.8 3.7 1.8 2 2-4.7 2.3-19.5 2.2-13.6 2 0.6 1.8 1.6 1.9 3.1 1.9-0.2 1.9 1.5 1.9 3.2-6.5 29.6-1.9 0.9-3.8-2.3-1.9-0.4-3.9 3.8-1.9-0.2-1.9 1.1-3.8 0.6-1.8-2.2-3.1-34.7-2 8.1-2.1 16.8-2 8.2-5.3-6-3.6-1.7-1.8 0.6-1.8 2-1.8 0.4-1.8-0.2z" fill="url(#p2g60)" stroke="url(#p2g60)"/><path d="M350.4 987.1l1.9 3.2 1.9 0.8 3.8 3.3 6.1-3.1 4.1-3.2 2-0.6 5.9 4.5 2 2.4 2.6 38.1 6.1 0.4 2 1.1 6.4-3.9 4.2 1.1-5.6 3.1-2.1 1.2-2.1-1.5-2-0.1-2.2 1-2 0-2-1.8-2-1.1-2.1 0.2-2-1.5-2 0.1-2-0.6-4.1 0.3-2.1 2.1-1.9-1.8-2.1 2-3.9-0.2-3.8-4.6-1.9-1.3-1.9-3-3.8-3.8-1.9 0.9z" fill="url(#p2g61)" stroke="url(#p2g61)"/><path d="M397.3 1030.7l2.1 0.5 2.1-0.7 2 3.2 2.1-0.4 4.2 1.3 2.2-0.6 4.3 0.3 4.4-0.8 2 2.8 4.4 0.3 2.1 1.8 2.3-1.1 2.2 0.3 2.3-0.8 2.2 0.7 2.3-0.7 2.2 1.5 2.3-0.4 4.5 1.1 2.1 1.7-5.3 3.5-4.5-1-2.2-2.5-1.7-10.5-1.2-17.7-2.2-2.5-3.3 18.1-2.8 11-2.3 1.6-2.2-0.3-2.2-1.9-6.6 1-2.3 1.1-2.1 0.1-2.2-0.8-2.1 0.3-2.1-2.8-2-1.8-2.2-0.1-4.1-2.3-4.3 2.3z" fill="url(#p2g62)" stroke="url(#p2g62)"/><path d="M449.5 1039l2.1 1.7 2.4-0.3 2.2 1.8 4.5 2 2.4-0.8 2.3 0.2 2.4-0.8 2.5-1.8 2.4 0.5 2.6-3 2.3 1.5 2.4-0.2 4.5 4.9 4.8 1.7 2.3 1.4 4.7 3.8 2.2 2.6 2.5 0.2 5.2-2.4 2.5 0.2-4.5-2.4-2.6 0.2-2.5-0.9-5 0.5-2.6 1.2-4.5-7.1-2.6 1.6-5.2 5-2.4-0.5-4.9 0.5-5 2.6-2.1-4.2-2.3-0.4-2.3-1.4-2.4 0.4-2.3-1.7-4.6-1.2-2.3 1.1-2.3-1.3-2.3-0.5z" fill="url(#p2g63)" stroke="url(#p2g63)"/><path d="M506.2 1052l2.5 0.2 2.6-0.6 2.5 0.5 2.7-1.2 2.3 2.6 2.6 0.1 4.9 2.4 2.4 2.9 5.2 0.3 5.1 2.7 2.6 0.1 5.1 3 2.6 0.6 2.8-0.8 2.4 2.9 2.6 1.7 2.7 0 7.5 7.8 2.7 0.4-4.9 6.6-4.9-6.8-7.6-7.2-2.8 0.7-2.6-1.8-2.8 1.3-2.6-1.6-8 0.5-2.5-2.1-5.3-0.3-2.6-0.6-2.2-4.8-2.4-2.1-2.5-0.6-4.8-4.9-4.8-3.7-2.5-0.4-2.6 0.2z" fill="url(#p2g64)" stroke="url(#p2g64)"/><path d="M567.3 1077.2l5.5 0.3 2.7 0.8-5.4 11.5-2.6-2.1-4.9-6.6z" fill="url(#p2g65)" stroke="url(#p2g65)"/><path d="M121.4 962.8l3.9 4.6 1.2-1.2 1.3 0.2 1.3 1 1.1-1.6 1.3 0.4 3.9 2.8 1.4 2.3 1.3 0.4 1.2-0.1 1.3-1 2.5-0.6 2.5-2 2.6-1 1.3 0.3 4.2 6.5-6.1 1.1-2.7-1.7-1.3 0.5-1.4-1.5-1.3 0.5-1.3-1.1-3.9-0.8-1.4-1.9-2.7-2.2-1.2 1.1-2.5 0.7-2.4 2-1.2 0.4-2.6-1.5-1.4-2.3-1.2-0.5-1.4-2.3-2.5-0.2z" fill="url(#p2g66)" stroke="url(#p2g66)"/><path d="M152.3 972.1l1.4 1.7 2.7 0.3 1.3-0.5 3.9-3.5 1.4 0.9 1.3-0.1 2.8 2.5 2.7 0.3 1.4-0.3 1.4 1.8 1.4-0.6 1.4 0.5 4.3 4.1 1.4-0.8 1.4 1.7 1.4-0.9 2.8-0.4-6.1 0.7-2.9-2.6-2.9-0.8-1.4 0.6-1.4-0.7-1.3 1-1.4 0.2-1.4 0.8-1.4-1.2-1.4 0.1-4.2-4.6-1.4 0.4-1.4-1.4-1.3 1-1.3 2.4-2.5 2.7-1.4 0.3-1.3-1.8-4.1-1.9z" fill="url(#p2g67)" stroke="url(#p2g67)"/><path d="M185.3 979.1l2.8 0 1.5 1 1.5 3.6 1.5 0.6 1.4 2.1 2.9-0.4 1.4-1.5 2.9-0.6 1.5 0.7 1.5 1.6 1.5 0.8 1.5 0.1 1.5-0.1 5.8-7.8 1.5-0.6 3.1 4.3 3.1 3-6.2-2.8-6.1-4-3 2-3 0.2-1.5 1.1-2.9-0.7-3 0.2-1.4 0.5-1.5 1.6-4.3 0.7-3-3.4-4.3-0.6-2.9-2.2z" fill="url(#p2g68)" stroke="url(#p2g68)"/><path d="M220.6 984.5l4.7 4.4 3.1-1.4 1.5 0.1 3.1-2.4 1.6 0.9 3.1-0.5 3.2 1.8 1.6 2.2 3.2 3 4.9 7.8 1.6 1.6 4.9 2.7 1.6-1.3 1.7 0.4-6.1-11.4-1.6-0.8-3.4-4.4-1.6 0.6-1.6-2.1-1.7 0.6-1.6 1.8-1.6 0.7-3.2-1.2-3.2-0.5-1.6 0.7-1.5 1.5-1.6-0.6-1.6 1.5-1.6-2-1.5 1.1-4.7-4.3-3.1-1-3.1-2.1z" fill="url(#p2g69)" stroke="url(#p2g69)"/><path d="M258.7 1003.4l5 0.7 1.6-0.7 1.7-2.5 1.7 1.4 1.6-2.8 3.4-2 1.7-0.5 1.7-1.6 3.4-0.7 1.8 1 1.7 0.1 1.7 1.8 3.5 2.3 5.2 6.2 1.7 4.1 1.7 2.6 1.8 1.9 1.8 0.2-5.8-7.1-1.8-1.9-1.8 1.9-3.5-0.8-1.8 0.6-1.8 1.5-1.7 0.1-1.8-1.4-1.7 0.3-3.4-3.2-1.8 1.5-1.7-0.5-1.7 1.4-1.7-0.2-1.7 0.4-5-4.7-3.4-5.1-1.7-1.4-1.6-3.6-3.3-1.1z" fill="url(#p2g70)" stroke="url(#p2g70)"/><path d="M299.6 1014.7l1.8 0.2 1.8-0.4 1.8-2 1.8-0.6 3.6 1.7 5.3 6 2-8.2 2.1-16.8 2-8.1 3.1 34.7 1.8 2.2 3.8-0.6 1.9-1.1 1.9 0.2 3.9-3.8 1.9 0.4 3.8 2.3 1.9-0.9-5.7-0.5-3.9 3-2 2.2-1.9 0.7-3.8-0.8-1.9-1.4-1.9 0.7-1.6-14.5-1.4-26.9-4.4 33.7-3.6-1.5-1.9-2-5.5 0.7-1.8-0.6-1.8-1.5-1.8-0.2-3.6-3.3-1.7 0.1-1.8-1.9z" fill="url(#p2g71)" stroke="url(#p2g71)"/><path d="M343.9 1020.8l1.9-0.9 3.8 3.8 1.9 3 1.9 1.3 3.8 4.6 3.9 0.2 2.1-2 1.9 1.8 2.1-2.1 4.1-0.3 2 0.6 2-0.1 2 1.5 2.1-0.2 2 1.1 2 1.8 2 0 2.2-1 2 0.1 2.1 1.5 2.1-1.2-5.5 0.5-4.3 1.8-4.1-1.6-2.1 1.3-2-2.8-2.1-0.5-3.9-4.2-6-2.7-6-3.9-2 1.6-4-0.1-2-1-1.9 0-2-2-1.9-0.8-2 1.7-1.9-2.2-2 1.4z" fill="url(#p2g72)" stroke="url(#p2g72)"/><path d="M391.7 1035.5l4.3-2.3 4.1 2.3 2.2 0.1 2 1.8 2.1 2.8 2.1-0.3 2.2 0.8 2.1-0.1 2.3-1.1 6.6-1 2.2 1.9 2.2 0.3 2.3-1.6 2.8-11 3.3-18.1 2.2 2.5 1.2 17.7 1.7 10.5 2.2 2.5 4.5 1-5.1-1.5-6.7-4.1-4.6-0.8-2.1-1.6-4.6-0.3-2.3 1.8-2.3 0.7-4.6 3.3-2.2 0.6-4.4-0.8-6.2-6.4-2.2-0.1-2.1-1.7-2.1-0.9-2.2 0.9-2.1-0.3-2.2 1.8-2.1 0.7z" fill="url(#p2g73)" stroke="url(#p2g73)"/><path d="M444 1043.7l2.3 0.5 2.3 1.3 2.3-1.1 4.6 1.2 2.3 1.7 2.4-0.4 2.3 1.4 2.3 0.4 2.1 4.2 5-2.6 4.9-0.5 2.4 0.5 5.2-5 2.6-1.6 4.5 7.1 2.6-1.2 5-0.5 2.5 0.9 2.6-0.2-5.6 8.7-5.1-0.3-4.9-2.1-2.5 0.5-4.5-7.2-2.1-4.6-5.4 6-2.4 0.1-2.5-0.5-2.2-2.4-7-4.2-2.4-0.5-2.3 0.1-4.9 2.2-2.3-1.5-6.9-1.4-2.3-1.2z" fill="url(#p2g74)" stroke="url(#p2g74)"/><path d="M501.6 1050l2.6-0.2 2.5 0.4 4.8 3.7 4.8 4.9 2.5 0.6 2.4 2.1 2.2 4.8 2.6 0.6 5.3 0.3 2.5 2.1 8-0.5 2.6 1.6 2.8-1.3 2.6 1.8 2.8-0.7 7.6 7.2 4.9 6.8-4.2-1.7-2.5-3.5-2.6-1.8-2.4-3.9-5.2-4.3-2.7-0.6-2.9 1.8-2.7-0.8-2.8 1.1-2.6-1-5.6 2.3-5.3-0.5-2.6-0.8-2.3-3.3-2.5-1.9-2.3-4.2-2.4-2.8-2.6-0.1-5-1.8-5.3 2.1-2.5 0z" fill="url(#p2g75)" stroke="url(#p2g75)"/><path d="M562.6 1081.1l4.9 6.6 2.6 2.1-3.9-4-5.3-3.3-2.5-3.5z" fill="url(#p2g76)" stroke="url(#p2g76)"/><path d="M115.2 964.1l2.5 0.2 1.4 2.3 1.2 0.5 1.4 2.3 2.6 1.5 1.2-0.4 2.4-2 2.5-0.7 1.2-1.1 2.7 2.2 1.4 1.9 3.9 0.8 1.3 1.1 1.3-0.5 1.4 1.5 1.3-0.5 2.7 1.7-6.4-1.8-2.7-2.3-1.5-3.4-1.4-1.5-1.4-3.3-3.9-0.2-2.4 4.6-1.2 0.9-2.6 0.1-1.3-0.5-2.6-2.6-3.7 1.2-1.3-0.1-2.6-2.5-2.7-4.1-1.2 0.1z" fill="url(#p2g77)" stroke="url(#p2g77)"/><path d="M146.2 974l4.1 1.9 1.3 1.8 1.4-0.3 2.5-2.7 1.3-2.4 1.3-1 1.4 1.4 1.4-0.4 4.2 4.6 1.4-0.1 1.4 1.2 1.4-0.8 1.4-0.2 1.3-1 1.4 0.7 1.4-0.6 2.9 0.8 2.9 2.6-6.4-4.3-1.4 1.7-2.9-1.5-1.4-1.3-2.8 0.7-1.4 1.1-1.3 0-1.5-2.2-1.4 0.1-1.5-3.1-1.3 1.9-1.4-0.7-2.6 2.1-1.4-0.6-1.3 0.6-1.4-1.8-1.4-0.4-2.6 1.4-1.3 0-1.4-0.3-1.3 0.2-1.4-0.8z" fill="url(#p2g78)" stroke="url(#p2g78)"/><path d="M179.1 978.5l2.9 2.2 4.3 0.6 3 3.4 4.3-0.7 1.5-1.6 1.4-0.5 3-0.2 2.9 0.7 1.5-1.1 3-0.2 3-2 6.1 4-6.1 4.6-3 2-3.1-0.8-1.5-1.5-1.5 0.5-1.5-1.5-1.5 1.2-1.5-0.1-3-2-1.4 1.1-7.5-4.8-3-4.4-2.9-0.5-1.4 0.7-2.9-2.4-1.4 1.7z" fill="url(#p2g79)" stroke="url(#p2g79)"/><path d="M214.5 981.9l3.1 2.1 3.1 1 4.7 4.3 1.5-1.1 1.6 2 1.6-1.5 1.6 0.6 1.5-1.5 1.6-0.7 3.2 0.5 3.2 1.2 1.6-0.7 1.6-1.8 1.7-0.6 1.6 2.1 1.6-0.6 3.4 4.4 1.6 0.8-6.1 10.3-1.6 2.5-1.6-2.1-1.7-0.3-1.6-1.1-1.7-1.7-1.6-3-1.6-1.4-3.3-5.2-3.3-3.7-1.6 0.7-1.6-1.2-1.5 0.7-1.6-0.9-1.6 1-3.1 0.8-1.6-1.6-1.6 0.7-1.5-0.3-1.6-1.2-1.5 2.2-1.5 0.1-1.5 0.8z" fill="url(#p2g80)" stroke="url(#p2g80)"/><path d="M252.7 991.6l3.3 1.1 1.6 3.6 1.7 1.4 3.4 5.1 5 4.7 1.7-0.4 1.7 0.2 1.7-1.4 1.7 0.5 1.8-1.5 3.4 3.2 1.7-0.3 1.8 1.4 1.7-0.1 1.8-1.5 1.8-0.6 3.5 0.8 1.8-1.9 1.8 1.9-6.1 7.7-1.8-0.1-7-9.5-1.8 0.9-1.7-1-3.5 3.1-1.8-1-1.7 0.1-1.7-0.7-3.4-2.2-1.8 0-1.7-1-1.6 0.6-1.7-1.6-1.7-0.2-1.7 1-1.7-0.3-1.6 1.5-1.7-0.1-1.7-2.3-1.6 2.5z" fill="url(#p2g81)" stroke="url(#p2g81)"/><path d="M293.8 1005.9l1.8 1.9 1.7-0.1 3.6 3.3 1.8 0.2 1.8 1.5 1.8 0.6 5.5-0.7 1.9 2 3.6 1.5 4.4-33.7 1.4 26.9 1.6 14.5 1.9-0.7 1.9 1.4 3.8 0.8 1.9-0.7 2-2.2 3.9-3-6 6.1-1.9 1.8-2 0-3.9 2.1-1.8-1.7-2 1.2-1.8-1.3-1.9-4-1.9 0.6-1.7-10.7-1.6-18-1.8-6.1-2.1 16.9-2 10.6-1.9 0.4-1.8-0.5-1.8 0.8-1.9-1.8-1.8-0.3-5.4 1.2-5.4-1.3z" fill="url(#p2g82)" stroke="url(#p2g82)"/><path d="M338.1 1020.8l2-1.4 1.9 2.2 2-1.7 1.9 0.8 2 2 1.9 0 2 1 4 0.1 2-1.6 6 3.9 6 2.7 3.9 4.2 2.1 0.5 2 2.8 2.1-1.3 4.1 1.6 4.3-1.8-5.7 3.6-2.1-0.2-2-3.7-2-2.5-2.2 1.5-4-5.7-2-0.6-2.1-1.4-2 0.9-2.2 2.3-2 0.8-4.1 0.2-2.1 1.8-2-0.5-4 0.5-2-1.6-2 0.5-1.9-0.6-3.9-3.2-3.9-1.4-1.9 1.8z" fill="url(#p2g83)" stroke="url(#p2g83)"/><path d="M386.2 1035.5l2.1-0.7 2.2-1.8 2.1 0.3 2.2-0.9 2.1 0.9 2.1 1.7 2.2 0.1 6.2 6.4 4.4 0.8 2.2-0.6 4.6-3.3 2.3-0.7 2.3-1.8 4.6 0.3 2.1 1.6 4.6 0.8 6.7 4.1-5.3-1-2.4 2.1-7-0.4-2.4 3.6-2.4 1.5-1.7-11.5-1.4-17.1-2.2-0.5-3 13.3-2.5 6.3-2.1-2.6-2.2-0.4-2.3 1.7-2.2 0.2-2.3 1.8-2.1-1.8-2.2 0.5-2.1-2-2.2 0.5-2.2 1.9-2.2 0.3-2.1 0.2-2.1-0.9-2.1-0.2z" fill="url(#p2g84)" stroke="url(#p2g84)"/><path d="M438.9 1041.5l2.3 1.2 6.9 1.4 2.3 1.5 4.9-2.2 2.3-0.1 2.4 0.5 7 4.2 2.2 2.4 2.5 0.5 2.4-0.1 5.4-6 2.1 4.6 4.5 7.2 2.5-0.5 4.9 2.1 5.1 0.3-5.4 5.4-2.5-0.5-2.4-2.2-2.6 1.3-2.5-0.8-2.3-3.5-5 1.2-2.5-0.4-2.4-1.7-2.4-0.9-6.8-8.3-2.5 0.7-2.2-2.9-2.5 0.2-6.8-5.1-4.7-0.9-2.5 1.3-2.3-0.7-2.4 1-2.4 2.1z" fill="url(#p2g85)" stroke="url(#p2g85)"/><path d="M496.1 1058.5l2.5 0 5.3-2.1 5 1.8 2.6 0.1 2.4 2.8 2.3 4.2 2.5 1.9 2.3 3.3 2.6 0.8 5.3 0.5 5.6-2.3 2.6 1 2.8-1.1 2.7 0.8 2.9-1.8 2.7 0.6 5.2 4.3 2.4 3.9 2.6 1.8 2.5 3.5-4.8 2.9-5.4-2.7-2.8 0.7-2.7-1.3-2.9 1.3-2.8-0.1-2.8 1-5-4.9-4.9-6.4-2.3-4.6-2.5-2.3-2.4-3.1-2.7-0.5-2.8 2.4-8.3 3.7-5.1-0.8-2.4-2.6-2.6 0.5-2.5-1.8-2.5-0.5z" fill="url(#p2g86)" stroke="url(#p2g86)"/><path d="M558.4 1079l2.5 3.5 5.3 3.3-5.2 7.7-2.5-3.4-2.4-4.7-2.7-1.6z" fill="url(#p2g87)" stroke="url(#p2g87)"/><path d="M108.7 959.5l1.2-0.1 2.7 4.1 2.6 2.5 1.3 0.1 3.7-1.2 2.6 2.6 1.3 0.5 2.6-0.1 1.2-0.9 2.4-4.6 3.9 0.2 1.4 3.3 1.4 1.5 1.5 3.4 2.7 2.3-6.2 4.2-4.1-3.8-1.3 1.1-2.6 0.1-1.2 2.3-1.3-0.4-2.6-2.1-1.4-2.5-1.4-1-1.2 0.2-1.3-0.7-1.3 0.2-2.6-1.4-1.2 0.9-2.4 0.7-1.2 1.1-2.5 0.1-2.5-0.7z" fill="url(#p2g88)" stroke="url(#p2g88)"/><path d="M139.8 972.3l1.4 0.8 1.3-0.2 1.4 0.3 1.3 0 2.6-1.4 1.4 0.4 1.4 1.8 1.3-0.6 1.4 0.6 2.6-2.1 1.4 0.7 1.3-1.9 1.5 3.1 1.4-0.1 1.5 2.2 1.3 0 1.4-1.1 2.8-0.7 1.4 1.3 2.9 1.5 1.4-1.7-6.2 6.8-4.3-2-4.1 2.1-1.4-1-1.4 0.9-2.8-1-1.3 0.8-1.4-1-1.4 1.5-5.4-0.1-2.8-3.5-1.3 0-2.8-2-1.2 1.9-2.8-2.7z" fill="url(#p2g89)" stroke="url(#p2g89)"/><path d="M172.8 976.9l1.4-1.7 2.9 2.4 1.4-0.7 2.9 0.5 3 4.4 7.5 4.8 1.4-1.1 3 2 1.5 0.1 1.5-1.2 1.5 1.5 1.5-0.5 1.5 1.5 3.1 0.8 3-2-6.2 3.6-1.5 1.5-1.6-1.6-1.5-0.5-1.6-1.1-3 0-1.5-3-1.5 1.3-1.6-2.2-1.4-0.1-4.6-3.5-1.5-1.8-1.4 1.4-2.9 1.3-2.9 0.1-2.9-0.7-2.8 0.2-2.9-1.1z" fill="url(#p2g90)" stroke="url(#p2g90)"/><path d="M208.4 988.5l1.5-0.8 1.5-0.1 1.5-2.2 1.6 1.2 1.5 0.3 1.6-0.7 1.6 1.6 3.1-0.8 1.6-1 1.6 0.9 1.5-0.7 1.6 1.2 1.6-0.7 3.3 3.7 3.3 5.2 1.6 1.4 1.6 3 1.7 1.7 1.6 1.1 1.7 0.3 1.6 2.1 1.6-2.5-6.2-3.3-3.3-3.3-3.4-5.6-1.6-1.1-1.7-2.3-1.6-0.1-1.6 1.1-3.2 3.8-3.2 0.9-1.6-0.1-1.5 0.9-1.6-1.9-3.2 1.2-1.5-1.1-1.6 1.5-1.6-1-1.5 0-1.6-1.2-1.5 0.4-1.5-0.2-1.5 1.5z" fill="url(#p2g91)" stroke="url(#p2g91)"/><path d="M246.6 1005.2l1.6-2.5 1.7 2.3 1.7 0.1 1.6-1.5 1.7 0.3 1.7-1 1.7 0.2 1.7 1.6 1.6-0.6 1.7 1 1.8 0 3.4 2.2 1.7 0.7 1.7-0.1 1.8 1 3.5-3.1 1.7 1 1.8-0.9 7 9.5 1.8 0.1-6.1-2.8-3.5-5.2-3.6-3-3.5-0.1-1.8 2.8-1.7 1-1.8-0.1-1.7 2.8-1.7-2.7-1.8 1-1.7-1.7-3.4-1.5-1.7 0.1-5.1-2.9-1.7 0.4-1.7-0.7-1.6 1-1.7-2.7-3.4-3.1z" fill="url(#p2g92)" stroke="url(#p2g92)"/><path d="M287.7 1015.4l5.4 1.3 5.4-1.2 1.8 0.3 1.9 1.8 1.8-0.8 1.8 0.5 1.9-0.4 2-10.6 2.1-16.9 1.8 6.1 1.6 18 1.7 10.7 1.9-0.6 1.9 4 1.8 1.3 2-1.2 1.8 1.7 3.9-2.1 2 0 1.9-1.8-6 6.3-3.9 0.1-2 1-1.9-0.3-1.9-0.8-1.9-1.6-3.1-46.2-2.2 25.3-2.1 13.3-1.9-1.3-1.9 1.9-1.8-1.6-1.9 0-3.7-2.5-5.5 0.3-3.6-0.8-1.8-1.3-5.4-6.9z" fill="url(#p2g93)" stroke="url(#p2g93)"/><path d="M332.2 1027.3l1.9-1.8 3.9 1.4 3.9 3.2 1.9 0.6 2-0.5 2 1.6 4-0.5 2 0.5 2.1-1.8 4.1-0.2 2-0.8 2.2-2.3 2-0.9 2.1 1.4 2 0.6 4 5.7 2.2-1.5 2 2.5 2 3.7 2.1 0.2-5.2-14.8-2.3 3.2-2.3 5.1-2.2 3-2.1 0.5-2.1-1.5-4.1-0.4-2-1.6-2.2 3.5-2.1 0.5-6.3 5-4-1.2-1.9-2.5-2-0.3-3.9-4.2-2 1-3.9-2.2-2 0.6-3.9-0.2z" fill="url(#p2g94)" stroke="url(#p2g94)"/><path d="M380.5 1038.2l2.1 0.2 2.1 0.9 2.1-0.2 2.2-0.3 2.2-1.9 2.2-0.5 2.1 2 2.2-0.5 2.1 1.8 2.3-1.8 2.2-0.2 2.3-1.7 2.2 0.4 2.1 2.6 2.5-6.3 3-13.3 2.2 0.5 1.4 17.1 1.7 11.5 2.4-1.5 2.4-3.6 7 0.4 2.4-2.1-5.9 8.1-4.4-5-2.3 0.5-2.3-0.5-2.4 2.5-2.2-1.8-2.3-0.1-4.4-3.9-2.2-0.9-2.2-1.8-4.6 2.5-2.2 0.5-4.4-1-2.1-1.3-2.2-0.6-2.1-2.1-2.2 0.5-4.2-4.2-3.9-9.5-2.3 3.2z" fill="url(#p2g95)" stroke="url(#p2g95)"/><path d="M433.5 1043.8l2.4-2.1 2.4-1 2.3 0.7 2.5-1.3 4.7 0.9 6.8 5.1 2.5-0.2 2.2 2.9 2.5-0.7 6.8 8.3 2.4 0.9 2.4 1.7 2.5 0.4 5-1.2 2.3 3.5 2.5 0.8 2.6-1.3 2.4 2.2 2.5 0.5-4.5-7.4-2.6 0.9-2.6 0.1-2.6 1.2-5.6 6.4-2.3-2.6-2.1-6.7-1.9-8.9-5.7 10.3-2.5 0.6-2.4-1.3-2.4-0.2-2.6 2-9.7 1.3-2.3-1.3-2.4-0.5-2.2-3.1-2.3-0.8-6.7-6.8z" fill="url(#p2g96)" stroke="url(#p2g96)"/><path d="M490.7 1063.4l2.5 0.5 2.5 1.8 2.6-0.5 2.4 2.6 5.1 0.8 8.3-3.7 2.8-2.4 2.7 0.5 2.4 3.1 2.5 2.3 2.3 4.6 4.9 6.4 5 4.9 2.8-1 2.8 0.1 2.9-1.3 2.7 1.3 2.8-0.7 5.4 2.7-4.3-2.2-2.7-1.7-5.5-1.5-2.7-1.8-2.8 0.1-5.3-3.4-5.5 0-2.7-0.9-5.7 3.5-2.8 0.3-2.5-1.5-7.5-7.3-2.2-5.5-2.4-2.6-2.6-1.3-2.6 0.6-2.4-3.4-2.5-0.9-5.3 1.5z" fill="url(#p2g97)" stroke="url(#p2g97)"/><path d="M553.4 1083.8l2.7 1.6 2.4 4.7 2.5 3.4-4-5-2.6-3.3-5.3-3.7z" fill="url(#p2g98)" stroke="url(#p2g98)"/><path d="M102.9 971.4l2.5 0.7 2.5-0.1 1.2-1.1 2.4-0.7 1.2-0.9 2.6 1.4 1.3-0.2 1.3 0.7 1.2-0.2 1.4 1 1.4 2.5 2.6 2.1 1.3 0.4 1.2-2.3 2.6-0.1 1.3-1.1 4.1 3.8-6.8-6.4-1.3-0.7-5.3-0.6-1.3-0.5-2.6 0.3-1.2 1.1-1.4-1.4-1.2 1-1.3-0.7-1.3 0.3-1.3-0.5-1.3-1.2-1.2 1.5-1.2 0.6-2.5-0.2-1.1 2.5-1.2 0.6-1.2 1.6-1.3-0.9-2.6-3.8z" fill="url(#p2g99)" stroke="url(#p2g99)"/><path d="M133.6 975.9l2.8 2.7 1.2-1.9 2.8 2 1.3 0 2.8 3.5 5.4 0.1 1.4-1.5 1.4 1 1.3-0.8 2.8 1 1.4-0.9 1.4 1 4.1-2.1 4.3 2-6.4 0.4-1.5-1.5-4.3-2.1-2.8-0.3-1.4 0.1-2.6 3.6-1.5-1.2-1.3 0.5-1.4-0.6-1.5-2.9-1.4-1.1-2.9-3.8-1.5-3.1-4-1.3-1.3 1.7-1.3 0.4-2.7 0.1-1.3-0.7z" fill="url(#p2g100)" stroke="url(#p2g100)"/><path d="M166.6 981.5l2.9 1.1 2.8-0.2 2.9 0.7 2.9-0.1 2.9-1.3 1.4-1.4 1.5 1.8 4.6 3.5 1.4 0.1 1.6 2.2 1.5-1.3 1.5 3 3 0 1.6 1.1 1.5 0.5 1.6 1.6 1.5-1.5-6.5-3.6-1.6 0-1.5-1.7-1.5 0.5-1.6-2.6-3.1-0.4-1.5-0.7-2.9 1.8-1.6-2-1.4 2.6-2.9 1.8-1.5-2.2-4.4-1.8-1.5 1-1.3 3-4.3-0.5-1.5-0.5-1.5-3.6-1.5-1.5z" fill="url(#p2g101)" stroke="url(#p2g101)"/><path d="M202.2 992.8l1.5-1.5 1.5 0.2 1.5-0.4 1.6 1.2 1.5 0 1.6 1 1.6-1.5 1.5 1.1 3.2-1.2 1.6 1.9 1.5-0.9 1.6 0.1 3.2-0.9 3.2-3.8 1.6-1.1 1.6 0.1 1.7 2.3 1.6 1.1 3.4 5.6 3.3 3.3-6.3 2-1.6 2.3-1.7-0.3-1.6 0.5-1.7-0.9-1.6 0.5-6.6-9.3-1.6 0.9-1.6-2.5-1.7-0.7-1.6-3.8-3.4-12.5-4.5 11.5-1.6 0.3-1.5 3.1-3.1 0-1.5-0.9-1.6-1.9-1.6 0z" fill="url(#p2g102)" stroke="url(#p2g102)"/><path d="M240.3 998.1l3.4 3.1 1.7 2.7 1.6-1 1.7 0.7 1.7-0.4 5.1 2.9 1.7-0.1 3.4 1.5 1.7 1.7 1.8-1 1.7 2.7 1.7-2.8 1.8 0.1 1.7-1 1.8-2.8 3.5 0.1 3.6 3 3.5 5.2-6.2 0.4-1.8 0.6-3.5-4.1-1.8 1.2-1.8 2-1.8-1-1.7 1.6-5.3-1.1-1.7-1.6-1.7-3.1-1.8-0.5-3.4-2.7-3.4 0.3-1.7 0.7-1.7-0.5-1.7-2.4-1.7 0.7-1.7-2.7-1.6 1.4-1.7-0.5-1.6 2.3z" fill="url(#p2g103)" stroke="url(#p2g103)"/><path d="M281.6 1010.4l5.4 6.9 1.8 1.3 3.6 0.8 5.5-0.3 3.7 2.5 1.9 0 1.8 1.6 1.9-1.9 1.9 1.3 2.1-13.3 2.2-25.3 3.1 46.2 1.9 1.6 1.9 0.8 1.9 0.3 2-1 3.9-0.1-5.8-10.8-2 0.5-2-0.6-1.9 0.8-2 2.1-1.9-0.9-2 2.3-1.9 1.3-1.9-1.4-1.9 0.7-3.7-1.7-1.9-4.4-3.4-35.2-1.9 2.6-2 19-1.9 7.7-1.9 2.6-1.8-0.6-1.8 0.2-3.7-1.5-1.8-0.1-1.8-1.3-1.8 0.6z" fill="url(#p2g104)" stroke="url(#p2g104)"/><path d="M326.1 1031.9l3.9 0.2 2-0.6 3.9 2.2 2-1 3.9 4.2 2 0.3 1.9 2.5 4 1.2 6.3-5 2.1-0.5 2.2-3.5 2 1.6 4.1 0.4 2.1 1.5 2.1-0.5 2.2-3 2.3-5.1 2.3-3.2-6.4 15.6-2.1 0.1-2.1-2-4.2-2.6-2.1 1.2-2.1-0.3-4.2 2.7-2.1-1.2-4.1-0.6-2-2.1-1.9-3.9-4.1-1.3-2 0.2-2 1.6-2-1.5-2 0.4-5.8-7.6-3.9-1.3-2 0.5z" fill="url(#p2g105)" stroke="url(#p2g105)"/><path d="M375.1 1026.8l2.3-3.2 3.9 9.5 4.2 4.2 2.2-0.5 2.1 2.1 2.2 0.6 2.1 1.3 4.4 1 2.2-0.5 4.6-2.5 2.2 1.8 2.2 0.9 4.4 3.9 2.3 0.1 2.2 1.8 2.4-2.5 2.3 0.5 2.3-0.5 4.4 5-5.5-0.8-2.4 1.7-7-0.9-2.2-0.9-2.4 0.8-2.3 1.7-2.3-1-2.2-2.1-2.2 0.1-2.2-1.6-2.1-2.8-2.3 0.5-2.4 2.7-2.1-1.1-2.2 0.1-2.3 2.2-4.4-1.5-2.1-1.9-4.2-1.9-4.2-3.9-2.1 0.1z" fill="url(#p2g106)" stroke="url(#p2g106)"/><path d="M427.8 1047.1l6.7 6.8 2.3 0.8 2.2 3.1 2.4 0.5 2.3 1.3 9.7-1.3 2.6-2 2.4 0.2 2.4 1.3 2.5-0.6 5.7-10.3 1.9 8.9 2.1 6.7 2.3 2.6 5.6-6.4 2.6-1.2 2.6-0.1 2.6-0.9-5.8 8.9-5.1-0.2-5.2 0.5-2.5-1-2.3-3.5-2.5-0.6-2.3-2.7-2.5 0-4.8-3.3-2.5-0.3-2.6 1.9-2.3-2.1-5 1.8-2.4-0.7-2.3-1.4-2.4-0.1-2.3-3-4.6-2-4.8 0.3-2.4 1.7z" fill="url(#p2g107)" stroke="url(#p2g107)"/><path d="M486.1 1057.4l5.3-1.5 2.5 0.9 2.4 3.4 2.6-0.6 2.6 1.3 2.4 2.6 2.2 5.5 7.5 7.3 2.5 1.5 2.8-0.3 5.7-3.5 2.7 0.9 5.5 0 5.3 3.4 2.8-0.1 2.7 1.8 5.5 1.5 2.7 1.7-4.7-0.1-5.4-3.3-2.8-0.8-2.8 0.1-2.7-1.3-2.9 0.2-2.5-2.8-2.8-0.4-2.4-3.7-2.7-1.3-2.4-4-2.8-0.2-8.4 2.9-3.1 5.7-2.8 1.5-2.6-0.7-2.7 0.6-5-3.9-2.6-0.4-4.8-5.9-2.6-0.2z" fill="url(#p2g108)" stroke="url(#p2g108)"/><path d="M549.1 1081.5l5.3 3.7 2.6 3.3-4.8 1.7-2.4-4.5-2.7-2.6-2.7-1.7z" fill="url(#p2g109)" stroke="url(#p2g109)"/><path d="M96.4 969.9l2.6 3.8 1.3 0.9 1.2-1.6 1.2-0.6 1.1-2.5 2.5 0.2 1.2-0.6 1.2-1.5 1.3 1.2 1.3 0.5 1.3-0.3 1.3 0.7 1.2-1 1.4 1.4 1.2-1.1 2.6-0.3 1.3 0.5 5.3 0.6 1.3 0.7-6.7-2.5-1.3 0.3-1.3-0.2-2.8-2.4-1.3 0-1.4-2.8-4.1-3.5-1.3-0.8-1.3 0.2-3.9-1.2-1.3-1.4-2.5 0.1-2.4 2.1-1.1 2.4-1.2 0.9-1.3 0.3-3.9-4.6z" fill="url(#p2g110)" stroke="url(#p2g110)"/><path d="M126.9 970.2l1.3 0.7 2.7-0.1 1.3-0.4 1.3-1.7 4 1.3 1.5 3.1 2.9 3.8 1.4 1.1 1.5 2.9 1.4 0.6 1.3-0.5 1.5 1.2 2.6-3.6 1.4-0.1 2.8 0.3 4.3 2.1 1.5 1.5-6.8-5-1.4-0.9-7.4-9.8-1.4 0.8-1.5-1.2-2.7 0.3-3.9 6.3-1.3 0-1.3 2.3-1.4-0.3-7-6.4-1.3 0.1-1.4-0.5-2.6 0.6z" fill="url(#p2g111)" stroke="url(#p2g111)"/><path d="M160.1 980.9l1.5 1.5 1.5 3.6 1.5 0.5 4.3 0.5 1.3-3 1.5-1 4.4 1.8 1.5 2.2 2.9-1.8 1.4-2.6 1.6 2 2.9-1.8 1.5 0.7 3.1 0.4 1.6 2.6 1.5-0.5 1.5 1.7 1.6 0-6.6-2.2-3.1-1.6-1.5-0.2-1.7-4.2-1.5-0.1-3.1-2.4-1.5-0.2-1.4 1.6-1.5 0.1-1.5 1.7-1.4 0.5-1.5-0.2-4.6-4.5-1.5-2.3-1.4 1.2-1.5-0.3-1.4 2-1.4 0.2-2.8 1.7-2.9-2z" fill="url(#p2g112)" stroke="url(#p2g112)"/><path d="M195.6 987.7l1.6 0 1.6 1.9 1.5 0.9 3.1 0 1.5-3.1 1.6-0.3 4.5-11.5 3.4 12.5 1.6 3.8 1.7 0.7 1.6 2.5 1.6-0.9 6.6 9.3 1.6-0.5 1.7 0.9 1.6-0.5 1.7 0.3 1.6-2.3-6.6-10.8-1.7-2-1.6-0.8-3.3 1.2-1.7-0.2-1.6 2.5-3.2 1.8-3.3-3.3-1.7-4.1-3.3-4.8-1.5 0.2-1.7-0.8-1.5 1.3-1.6-0.4-3.1 3.2-1.5-0.3-1.6 1.1-3 0.9-3.1-1.1z" fill="url(#p2g113)" stroke="url(#p2g113)"/><path d="M234.1 1003.7l1.6-2.3 1.7 0.5 1.6-1.4 1.7 2.7 1.7-0.7 1.7 2.4 1.7 0.5 1.7-0.7 3.4-0.3 3.4 2.7 1.8 0.5 1.7 3.1 1.7 1.6 5.3 1.1 1.7-1.6 1.8 1 1.8-2 1.8-1.2 3.5 4.1 1.8-0.6-6.3-11.9-1.8 0-1.8-0.8-1.8 0.7-1.8-0.9-1.8 1.6-1.7-0.3-5.3-3-1.8-1.8-1.7 2.5-1.8-0.9-1.7 0-3.4 1.5-3.5-1.6-1.7 1-1.7-0.3-3.4-5.4-3.4-3-1.7 0.1-1.7-2z" fill="url(#p2g114)" stroke="url(#p2g114)"/><path d="M275.4 1013.7l1.8-0.6 1.8 1.3 1.8 0.1 3.7 1.5 1.8-0.2 1.8 0.6 1.9-2.6 1.9-7.7 2-19 1.9-2.6 3.4 35.2 1.9 4.4 3.7 1.7 1.9-0.7 1.9 1.4 1.9-1.3 2-2.3 1.9 0.9 2-2.1 1.9-0.8 2 0.6 2-0.5-6.2-2.8-1.9-1.8-5.9-0.1-1.9-2.6-1.9 0.3-1.9-2.1-1.9-0.1-1.9-1.4-1.9 1.2-3.8 0.2-1.9-2.4-1.9-0.8-3.7-5-1.8-1.7-1.9 2-1.8-0.9-3.7 0.2-1.9 2.2-3.6-4.2-1.8 0z" fill="url(#p2g115)" stroke="url(#p2g115)"/><path d="M320.3 1021.5l2-0.5 3.9 1.3 5.8 7.6 2-0.4 2 1.5 2-1.6 2-0.2 4.1 1.3 1.9 3.9 2 2.1 4.1 0.6 2.1 1.2 4.2-2.7 2.1 0.3 2.1-1.2 4.2 2.6 2.1 2 2.1-0.1-5.4-14.5-4.3-2.1-2.1-0.1-2.2 2.1-2.1-2.2-1.8-10.3-1.7-13.8-2.4 7.2-2.3 10.8-2.3 5.6-2-0.3-2.2 1.6-2-0.3-2.1 1.4-4.1 1.2-2-1.5-2-2.6-1.9-1.6-2-0.3-2-1.7-2-0.5-2-0.2-2 1.1-1.9-1.8z" fill="url(#p2g116)" stroke="url(#p2g116)"/><path d="M368.9 1039.3l2.1-0.1 4.2 3.9 4.2 1.9 2.1 1.9 4.4 1.5 2.3-2.2 2.2-0.1 2.1 1.1 2.4-2.7 2.3-0.5 2.1 2.8 2.2 1.6 2.2-0.1 2.2 2.1 2.3 1 2.3-1.7 2.4-0.8 2.2 0.9 7 0.9 2.4-1.7-5.5-2.9-2.4 1.6-2.4 0.8-2.3-0.9-2.2-2.3-2.2-3.4-4.5-3.8-7 4.3-6.9 0.6-2.1-2.3-2.2-1.5-2.1-3.9-2.1-1.1-2.2-2-4.3-2-2.1-2.6-2.2-0.1-6.4-4.1z" fill="url(#p2g117)" stroke="url(#p2g117)"/><path d="M422.1 1050.7l2.4-1.7 4.8-0.3 4.6 2 2.3 3 2.4 0.1 2.3 1.4 2.4 0.7 5-1.8 2.3 2.1 2.6-1.9 2.5 0.3 4.8 3.3 2.5 0 2.3 2.7 2.5 0.6 2.3 3.5 2.5 1 5.2-0.5 5.1 0.2-4.3-13.7-2.6 0-2.6-0.9-5.3 1.6-5.1-0.1-2.5-0.8-2.5 0.1-5-1.5-2.5 0.5-2.5-0.2-2.6 0.7-2.6 2.3-2.3-2.2-5 1.1-4.6-3.8-2.4-1.4-2.3-0.5-2.3-2.2-4.9 1.7-2.4 1.6z" fill="url(#p2g118)" stroke="url(#p2g118)"/><path d="M480.3 1065.2l2.6 0.2 4.8 5.9 2.6 0.4 5 3.9 2.7-0.6 2.6 0.7 2.8-1.5 3.1-5.7 8.4-2.9 2.8 0.2 2.4 4 2.7 1.3 2.4 3.7 2.8 0.4 2.5 2.8 2.9-0.2 2.7 1.3 2.8-0.1 2.8 0.8 5.4 3.3-3.6-12.5-2.8-1.3-2.9-0.3-2.8-0.9-2.9 0.9-2.7-1.7-5.8 1.2-2.6-1.9-2.8 0-2.5-3.9-5.3-3.5-2.7-0.5-2.6-2.4-2.7 0.4-2.5-3-3 2.8-5.4 0.6-2.6-0.4-2.6-1.2-2.7-0.2-2.4-3.2-5.2-0.4z" fill="url(#p2g119)" stroke="url(#p2g119)"/><path d="M544.4 1081.4l2.7 1.7 2.7 2.6 2.4 4.5-3.3-14.4-2.9-1.1-2.5-4.1-2.8-1.3z" fill="url(#p2g120)" stroke="url(#p2g120)"/><path d="M89.1 957.8l3.9 4.6 1.3-0.3 1.2-0.9 1.1-2.4 2.4-2.1 2.5-0.1 1.3 1.4 3.9 1.2 1.3-0.2 1.3 0.8 4.1 3.5 1.4 2.8 1.3 0 2.8 2.4 1.3 0.2 1.3-0.3-6.1 11.5-1.4-0.6-1.2 1.4-3.9-0.1-1.3 0.7-2.6-1.5-1.4-1.7-1.3-0.4-1.4-1.5-2.6-1.1-1.3-2.1-2.5 0.7-1.4-2-1.3-0.4-1.2 0.3-1.3-0.7-2.4 1.2-1.1 1.3-2.5-0.4z" fill="url(#p2g121)" stroke="url(#p2g121)"/><path d="M120.2 968.7l2.6-0.6 1.4 0.5 1.3-0.1 7 6.4 1.4 0.3 1.3-2.3 1.3 0 3.9-6.3 2.7-0.3 1.5 1.2 1.4-0.8 7.4 9.8 1.4 0.9-6.2 11.8-1.3 2-2.8 1.2-1.4 0.1-2.9-2.6-1.4 0.4-4.2-3.4-4.2-2.1-1.4 0.2-2.8-2.2-1.3 0.3-1.5-2.9-1.4-0.1-1.4-2-1.3 0.4-1.4-0.5-2.5 1.9-1.4-0.6z" fill="url(#p2g122)" stroke="url(#p2g122)"/><path d="M153.4 976.5l2.9 2 2.8-1.7 1.4-0.2 1.4-2 1.5 0.3 1.4-1.2 1.5 2.3 4.6 4.5 1.5 0.2 1.4-0.5 1.5-1.7 1.5-0.1 1.4-1.6 1.5 0.2 3.1 2.4 1.5 0.1 1.7 4.2 1.5 0.2 3.1 1.6-6.5 5.8-1.6-2.1-3-0.8-1.6-2.6-1.5 0.7-1.5 0-1.6-1.4-4.4 3.3-1.5-0.5-2.8 2.8-1.6-1.6-1.3 2.5-1.4 1.3-1.5-0.5-1.5 0.1-1.5-2.7-1.4 0.5-1.5-0.5-1.5-1.3-1.4 0.7-1.4 0-1.3 2z" fill="url(#p2g123)" stroke="url(#p2g123)"/><path d="M189.1 985l3.1 1.1 3-0.9 1.6-1.1 1.5 0.3 3.1-3.2 1.6 0.4 1.5-1.3 1.7 0.8 1.5-0.2 3.3 4.8 1.7 4.1 3.3 3.3 3.2-1.8 1.6-2.5 1.7 0.2 3.3-1.2 1.6 0.8 1.7 2-6.3 19-1.6 2.9-1.6-1.3-1.6 2.2-1.7-0.6-1.6 0.4-4.9-1.8-1.7-1.4-4.8-1.8-1.6-1.8-1.6 0.6-3.2-4.3-3.2-2.5-1.6-0.5-9.6-10.5z" fill="url(#p2g124)" stroke="url(#p2g124)"/><path d="M227.4 988.6l1.7 2 1.7-0.1 3.4 3 3.4 5.4 1.7 0.3 1.7-1 3.5 1.6 3.4-1.5 1.7 0 1.8 0.9 1.7-2.5 1.8 1.8 5.3 3 1.7 0.3 1.8-1.6 1.8 0.9 1.8-0.7 1.8 0.8 1.8 0-6.4 20.1-3.6 1.1-3.6 2.1-1.7 0.5-1.8-1.9-1.8-0.6-3.5-5.6-1.8-2.3-1.7-1.2-1.8 0.8-1.7-0.7-1.7 2.6-1.7-1.6-1.7-0.2-5.2-6.2-1.7 1.3-1.7-2.3-3.3 2.4-1.7 0.1-1.6 2.9z" fill="url(#p2g125)" stroke="url(#p2g125)"/><path d="M269.1 1001.2l1.8 0 3.6 4.2 1.9-2.2 3.7-0.2 1.8 0.9 1.9-2 1.8 1.7 3.7 5 1.9 0.8 1.9 2.4 3.8-0.2 1.9-1.2 1.9 1.4 1.9 0.1 1.9 2.1 1.9-0.3 1.9 2.6 5.9 0.1 1.9 1.8-6.5 15.9-1.9-2.2-2-0.2-1.9-2.1-1.9-0.8-2 1.1-3.8 1.3-2-0.6-1.8-1.4-5.7-2-1.9 0-1.9-0.7-1.8 0.2-1.9-1.7-3.7-1.7-7.3 0.5-1.8-0.8-1.8-1.7-1.8 0.6z" fill="url(#p2g126)" stroke="url(#p2g126)"/><path d="M314.2 1016.4l1.9 1.8 2-1.1 2 0.2 2 0.5 2 1.7 2 0.3 1.9 1.6 2 2.6 2 1.5 4.1-1.2 2.1-1.4 2 0.3 2.2-1.6 2 0.3 2.3-5.6 2.3-10.8 2.4-7.2 1.7 13.8 1.8 10.3 2.1 2.2 2.2-2.1 2.1 0.1 4.3 2.1-6.9 25.2-4.3 1.4-2.2 0-2.1-1.4-2.1 0.8-2.1 0.2-2-2.1-2.1-1.1-4-5.4-4-6.8-6.1-3.3-4.1 3.4-2.1 0.9-2 3.2-4-0.7-2 0.4-2-1.3-1.9-4-1.9-2.2z" fill="url(#p2g127)" stroke="url(#p2g127)"/><path d="M363.4 1023.4l6.4 4.1 2.2 0.1 2.1 2.6 4.3 2 2.2 2 2.1 1.1 2.1 3.9 2.2 1.5 2.1 2.3 6.9-0.6 7-4.3 4.5 3.8 2.2 3.4 2.2 2.3 2.3 0.9 2.4-0.8 2.4-1.6-6.4 13.9-2.4 0.8-2.4-1-2.2-2.2-2.4 1.5-4.6-0.4-2.2-2.6-2.4 1-2.1-3.9-2.3 0.4-2.2-1.8-2.3 0-2.2-1-2.3 2.6-2.3-0.6-2.2 0.6-4.4-0.7-2.1-3.3-2.2-0.5-2.1-1.9-2.3 2.2-6.5 1.1z" fill="url(#p2g128)" stroke="url(#p2g128)"/><path d="M416.6 1047.7l2.4-1.6 4.9-1.7 2.3 2.2 2.3 0.5 2.4 1.4 4.6 3.8 5-1.1 2.3 2.2 2.6-2.3 2.6-0.7 2.5 0.2 2.5-0.5 5 1.5 2.5-0.1 2.5 0.8 5.1 0.1 5.3-1.6 2.6 0.9 2.6 0-6.9 21-5.1-1.4-2.7 2.1-2.6-0.7-2.4-1.6-2.6 0.6-2.4-3.3-5.1 0.5-2.4-1.6-2.7 2.2-2.3-2-2.5-0.1-2.4-2.2-2.4-1.3-2.5 1.3-2.4-1.8-2.4-0.8-2.2-2.8-2.2-4.7-2-7.3-2.4-0.3-5.4 12.5-2.4 0.8z" fill="url(#p2g129)" stroke="url(#p2g129)"/><path d="M476 1051.7l5.2 0.4 2.4 3.2 2.7 0.2 2.6 1.2 2.6 0.4 5.4-0.6 3-2.8 2.5 3 2.7-0.4 2.6 2.4 2.7 0.5 5.3 3.5 2.5 3.9 2.8 0 2.6 1.9 5.8-1.2 2.7 1.7 2.9-0.9 2.8 0.9 2.9 0.3 2.8 1.3-8.1 35-5.3-5.3-2.6-3.2-7.9-7.5-2.7-1.2-7.9-6.4-8-4.5-2.7-0.1-2.9 1.7-2.7-1.1-2.8 2-2.7-0.4-2.4-3.2-2.7-0.2-2.6-1-5.1-3-2.7 0.5-2.5-0.9z" fill="url(#p2g130)" stroke="url(#p2g130)"/><path d="M540.7 1069.3l2.8 1.3 2.5 4.1 2.9 1.1-7.9 32.1-5.6-2.3-2.7-2.9z" fill="url(#p2g131)" stroke="url(#p2g131)"/><path d="M83.3 973l2.5 0.4 1.1-1.3 2.4-1.2 1.3 0.7 1.2-0.3 1.3 0.4 1.4 2 2.5-0.7 1.3 2.1 2.6 1.1 1.4 1.5 1.3 0.4 1.4 1.7 2.6 1.5 1.3-0.7 3.9 0.1 1.2-1.4 1.4 0.6-6.9-1.9-2.5 1.6-3.7 3.6-1.5-2.4-2.6-0.2-1.3-1.2-1.2 0.6-1.4-1.5-3.9-2.2-2.6-0.3-4-5.3-1.3 0.2-1.3-0.8-1.1 2-1.2 0.5-1.1 1.8-1.2 0.1z" fill="url(#p2g132)" stroke="url(#p2g132)"/><path d="M114 979.3l1.4 0.6 2.5-1.9 1.4 0.5 1.3-0.4 1.4 2 1.4 0.1 1.5 2.9 1.3-0.3 2.8 2.2 1.4-0.2 4.2 2.1 4.2 3.4 1.4-0.4 2.9 2.6 1.4-0.1 2.8-1.2 1.3-2-6.8-2.2-1.5-0.7-4.2 0.8-2.9-2.3-1.3 0.2-1.5-1.3-1.3 2.4-1.3 0.3-1.3 2.4-2.7 1.3-1.5-3.4-1.3 0.4-1.5-2.8-1.4-2-1.4-0.8-2.9-4.6-1.4 0.3-1.4-1.5-1.3 0.4-1.2 1.9-1.3 0.8z" fill="url(#p2g133)" stroke="url(#p2g133)"/><path d="M147.3 991.2l1.3-2 1.4 0 1.4-0.7 1.5 1.3 1.5 0.5 1.4-0.5 1.5 2.7 1.5-0.1 1.5 0.5 1.4-1.3 1.3-2.5 1.6 1.6 2.8-2.8 1.5 0.5 4.4-3.3 1.6 1.4 1.5 0 1.5-0.7 1.6 2.6 3 0.8 1.6 2.1-6.5 6.8-3.1-0.7-1.5-1.4-1.5 1.9-3.1-1.5-1.4 1.2-1.5 0.4-1.6-1.4-4.4 1.1-1.4 1.2-1.5-1.1-1.4 0.8-3-1.8-3.1-6-3-3.7-2.9 0.7-2.9-1.5z" fill="url(#p2g134)" stroke="url(#p2g134)"/><path d="M182.5 989.2l9.6 10.5 1.6 0.5 3.2 2.5 3.2 4.3 1.6-0.6 1.6 1.8 4.8 1.8 1.7 1.4 4.9 1.8 1.6-0.4 1.7 0.6 1.6-2.2 1.6 1.3 1.6-2.9-6.7-6.7-1.7 0.4-1.6-0.5-3.3 1.7-1.6 1.4-1.6 0-1.7-1.5-1.6 3.5-1.6-1.1-3.4-6.5-3.2-2.7-4.9-6.4-1.6 1.2-1.6-1.6-1.5 1.3-1.6-1.1-3 4.6-3 2.5-1.6-0.5z" fill="url(#p2g135)" stroke="url(#p2g135)"/><path d="M221.2 1012.5l1.6-2.9 1.7-0.1 3.3-2.4 1.7 2.3 1.7-1.3 5.2 6.2 1.7 0.2 1.7 1.6 1.7-2.6 1.7 0.7 1.8-0.8 1.7 1.2 1.8 2.3 3.5 5.6 1.8 0.6 1.8 1.9 1.7-0.5 3.6-2.1 3.6-1.1-6.5 2.3-1.9 0.1-1.8-2.6-1.8 0.4-1.7-1.6-1.8 0-3.6-1.2-1.7-1.6-1.8-0.1-1.8-1.3-1.7 1.7-1.7-0.4-3.5 1.6-1.7-1-3.4 0-1.7-1.7-5.2-10.2-3.5-3.8-3.3 1.4z" fill="url(#p2g136)" stroke="url(#p2g136)"/><path d="M262.7 1021.9l1.8-0.6 1.8 1.7 1.8 0.8 7.3-0.5 3.7 1.7 1.9 1.7 1.8-0.2 1.9 0.7 1.9 0 5.7 2 1.8 1.4 2 0.6 3.8-1.3 2-1.1 1.9 0.8 1.9 2.1 2 0.2 1.9 2.2-6.3-0.3-2-2-2 0.1-1.9-0.6-1.9-2.1-3.9-0.5-1.9-2.6-1.9-1.3-1.9-2.4-2 0.1-3.8 3.8-1.9 0.7-1.8 1.9-1.9-0.5-1.9 0.7-1.8-1.7-1.9 0.4-5.5-2.7-1.8 1-3.6-2.5-1.9 0.1z" fill="url(#p2g137)" stroke="url(#p2g137)"/><path d="M307.7 1031.9l1.9 2.2 1.9 4 2 1.3 2-0.4 4 0.7 2-3.2 2.1-0.9 4.1-3.4 6.1 3.3 4 6.8 4 5.4 2.1 1.1 2 2.1 2.1-0.2 2.1-0.8 2.1 1.4 2.2 0 4.3-1.4-6-4.4-4.4 1.4-4.2-0.8-2.2 1.3-2-3.2-8.4-3.3-2.1 0.4-2-0.3-2.1 1.8-2-1.6-2.1 2.1-6.1-0.9-2-2.1-2-0.5-1.9-1.5-2-2.7-3.9-1.8-2-2z" fill="url(#p2g138)" stroke="url(#p2g138)"/><path d="M356.5 1050.3l6.5-1.1 2.3-2.2 2.1 1.9 2.2 0.5 2.1 3.3 4.4 0.7 2.2-0.6 2.3 0.6 2.3-2.6 2.2 1 2.3 0 2.2 1.8 2.3-0.4 2.1 3.9 2.4-1 2.2 2.6 4.6 0.4 2.4-1.5 2.2 2.2 2.4 1 2.4-0.8-5.7-4.6-2.4-0.1-2.3-2-4.8 2.6-2.3-0.2-4.8 3.1-2.3 0.4-4.6-1-6.6-4.7-2.3-1-4.3-4-2.1-3.4-2.3-0.1-2.1-2.2-2.2-0.3-2.2-1.2-2.2 2.5-6.6 2.5z" fill="url(#p2g139)" stroke="url(#p2g139)"/><path d="M410.2 1060.8l2.4-0.8 5.4-12.5 2.4 0.3 2 7.3 2.2 4.7 2.2 2.8 2.4 0.8 2.4 1.8 2.5-1.3 2.4 1.3 2.4 2.2 2.5 0.1 2.3 2 2.7-2.2 2.4 1.6 5.1-0.5 2.4 3.3 2.6-0.6 2.4 1.6 2.6 0.7 2.7-2.1 5.1 1.4-5.5 1.4-2.7 0.3-5.5 3.5-5.4 4.4-5.3 2.1-2.3-3.3-2.4-2.1-2.3-5-7-8.8-2.4-1.6-2.5 0.4-2.4-1.2-4.9-0.1-4.8-2.4-4.8 0.1-2.3-3.1-2.3-1.9-2.4-0.1z" fill="url(#p2g140)" stroke="url(#p2g140)"/><path d="M469.2 1071.8l2.5 0.9 2.7-0.5 5.1 3 2.6 1 2.7 0.2 2.4 3.2 2.7 0.4 2.8-2 2.7 1.1 2.9-1.7 2.7 0.1 8 4.5 7.9 6.4 2.7 1.2 7.9 7.5 2.6 3.2 5.3 5.3-4.2-9-2.7-2.1-3.1 1.4-2.7-1.7-5.8 0.5-5.5-3.1-2.8 0.2-2.6-2.7-2.7-1.5-2.6-2.7-2.6-1.8-5.5-1.3-2.8 0.4-2.7-0.9-2.7 0.1-2.6-1-2.6-1.8-10.4-4-2.6-0.5-2.7 0.3z" fill="url(#p2g141)" stroke="url(#p2g141)"/><path d="M532.7 1102.7l2.7 2.9 5.6 2.3-4-9.8-3 0-5.5-3.6z" fill="url(#p2g142)" stroke="url(#p2g142)"/><path d="M76.6 974.5l1.2-0.1 1.1-1.8 1.2-0.5 1.1-2 1.3 0.8 1.3-0.2 4 5.3 2.6 0.3 3.9 2.2 1.4 1.5 1.2-0.6 1.3 1.2 2.6 0.2 1.5 2.4 3.7-3.6 2.5-1.6-6.1 13.7-1.4-1.3-1.3 0.1-2.8-3.1-2.6-1.3-4.1-3.9-1.3 0-1.3-0.7-1.2 0.6-1.3-0.2-1.3-0.7-1.3-0.1-1.3-1.3-1.3-0.3-1.1 1.5-1.2 0.6-2.6-1.1-1.2 0.7-2.6-3.3-1.2 0.8z" fill="url(#p2g143)" stroke="url(#p2g143)"/><path d="M107.2 978.8l1.3-0.8 1.2-1.9 1.3-0.4 1.4 1.5 1.4-0.3 2.9 4.6 1.4 0.8 1.4 2 1.5 2.8 1.3-0.4 1.5 3.4 2.7-1.3 1.3-2.4 1.3-0.3 1.3-2.4 1.5 1.3 1.3-0.2 2.9 2.3 4.2-0.8 1.5 0.7-6.4 12.4-4.4-4.2-1.4-0.3-2.9-3.4-1.5-0.7-2.7-0.4-1.4 0.4-2.9-2.7-2.7-0.7-1.4-1.2-1.4 0.2-2.7-1.6-3.9 3-2.4 3.7-1.3 0.2-1.4-1.3z" fill="url(#p2g144)" stroke="url(#p2g144)"/><path d="M140.3 986.3l2.9 1.5 2.9-0.7 3 3.7 3.1 6 3 1.8 1.4-0.8 1.5 1.1 1.4-1.2 4.4-1.1 1.6 1.4 1.5-0.4 1.4-1.2 3.1 1.5 1.5-1.9 1.5 1.4 3.1 0.7-6.8 2.4-1.5-1.5-3.1 0.7-1.5-0.4-1.5 1.2-1.5-1.2-1.5 0.2-1.6-1.4-1.4 0.8-1.5-0.4-1.5 0.9-1.4-0.2-2.8 3.9-4.3 2.6-2.9-0.9-6-5.8-1.4 0.4-1.4-1.2z" fill="url(#p2g145)" stroke="url(#p2g145)"/><path d="M176 997.6l1.6 0.5 3-2.5 3-4.6 1.6 1.1 1.5-1.3 1.6 1.6 1.6-1.2 4.9 6.4 3.2 2.7 3.4 6.5 1.6 1.1 1.6-3.5 1.7 1.5 1.6 0 1.6-1.4 3.3-1.7 1.6 0.5 1.7-0.4-6.5 16.1-10.1-11.9-3.3-1.8-1.6 1.9-3.2 0.1-3.1 1.9-1.6 0.2-1.6 0.9-1.6-0.7-1.6-1.6-1.6-0.4-1.6-2.2-3.1 0.1-1.6-2.3-1.6-1-3.1-3.2z" fill="url(#p2g146)" stroke="url(#p2g146)"/><path d="M214.4 1003.3l3.3-1.4 3.5 3.8 5.2 10.2 1.7 1.7 3.4 0 1.7 1 3.5-1.6 1.7 0.4 1.7-1.7 1.8 1.3 1.8 0.1 1.7 1.6 3.6 1.2 1.8 0 1.7 1.6 1.8-0.4 1.8 2.6 1.9-0.1-6.7 7.5-1.8-1-1.8 0-3.6-1.8-5.3-3.6-1.8-2.7-1.8-0.2-3.4-0.3-1.8 0.5-1.7 2.7-3.4 0.9-5.2-3-3.3 1.6-1.6 2-1.8-3.2-5.1-6z" fill="url(#p2g147)" stroke="url(#p2g147)"/><path d="M256.1 1023.7l1.9-0.1 3.6 2.5 1.8-1 5.5 2.7 1.9-0.4 1.8 1.7 1.9-0.7 1.9 0.5 1.8-1.9 1.9-0.7 3.8-3.8 2-0.1 1.9 2.4 1.9 1.3 1.9 2.6 3.9 0.5 1.9 2.1 1.9 0.6 2-0.1 2 2-6.6 0.7-2 4.7-1.9 0.8-2 3.5-3.9-1-2 2.6-1.9-2.1-5.7-8.8-3.8-2-1.9 0-3.7-1.4-1.9 0.7-3.7 0.1-3.7 2.3-1.8-1.3-1.8 0.8-1.8-1.7-3.7-1.6z" fill="url(#p2g148)" stroke="url(#p2g148)"/><path d="M301.3 1031.8l2 2 3.9 1.8 2 2.7 1.9 1.5 2 0.5 2 2.1 6.1 0.9 2.1-2.1 2 1.6 2.1-1.8 2 0.3 2.1-0.4 8.4 3.3 2 3.2 2.2-1.3 4.2 0.8 4.4-1.4-6.7 15.7-2.2-1-6.3-4.8-4.2-0.8-4.2-1.8-2.1 0.1-2.1-1-2.1 2.8-2.1 0.5-2-1.3-2.1 0.5-2-1.4-4-4-4-2.4-2-3.5-1.9-7.6-1.9-10.4-2 0.5-2.1 8.9-2 4.7z" fill="url(#p2g149)" stroke="url(#p2g149)"/><path d="M350.5 1046.3l6.6-2.5 2.2-2.5 2.2 1.2 2.2 0.3 2.1 2.2 2.3 0.1 2.1 3.4 4.3 4 2.3 1 6.6 4.7 4.6 1 2.3-0.4 4.8-3.1 2.3 0.2 4.8-2.6 2.3 2 2.4 0.1-6.8 18.7-2.4-0.5-2.4 1.2-2.4-0.4-2.4 1.1-2.3-0.8-2.3-1.5-4.4-5.3-6.7-5.3-2.3 0.7-8.9-2.8-2.3 2.3-2.2-1.1-2.2 0.8-2.3 1.8-2.2 0.9-2.2-2-2.1-0.6-4.3-2.4z" fill="url(#p2g150)" stroke="url(#p2g150)"/><path d="M404.5 1055.3l2.4 0.1 2.3 1.9 2.3 3.1 4.8-0.1 4.8 2.4 4.9 0.1 2.4 1.2 2.5-0.4 2.4 1.6 7 8.8 2.3 5 2.4 2.1 2.3 3.3 5.3-2.1 5.4-4.4 5.5-3.5 2.7-0.3-6.2 8.5-2.7 0.9-2.3-5.1-2-10-3 5.8-3.1 7.7-2.5-0.9-7.3-7.5-2.5 0-5.1 0.8-5.3 4-2.5 1.1-2.5 0.3-2.6 1.7-2.4 0.3-2.4-0.8-2.3-3.3-2.4 0.6-2.4-0.8-2.3-2.1-2.3-1.2-2.4-0.5z" fill="url(#p2g151)" stroke="url(#p2g151)"/><path d="M463.5 1074.4l2.7-0.3 2.6 0.5 10.4 4 2.6 1.8 2.6 1 2.7-0.1 2.7 0.9 2.8-0.4 5.5 1.3 2.6 1.8 2.6 2.7 2.7 1.5 2.6 2.7 2.8-0.2 5.5 3.1 5.8-0.5 2.7 1.7 3.1-1.4 2.7 2.1-6.3 13.4-3 0.7-2.7-2.6-11.2-3.3-2.8-1.5-5.6-1-2.7-1-2.6-3.5-2.7-0.6-2.5-3.8-5.2-4.7-2.7-1.3-5.1-4.2-8.2 0.2-5.3-0.2-2.6-0.6-2.7 0.9z" fill="url(#p2g152)" stroke="url(#p2g152)"/><path d="M528.5 1094.5l5.5 3.6 3 0-6.5 15.8-2.8-1.5-2.8-2.4-3 0.7z" fill="url(#p2g153)" stroke="url(#p2g153)"/><path d="M70 978.7l1.2-0.8 2.6 3.3 1.2-0.7 2.6 1.1 1.2-0.6 1.1-1.5 1.3 0.3 1.3 1.3 1.3 0.1 1.3 0.7 1.3 0.2 1.2-0.6 1.3 0.7 1.3 0 4.1 3.9 2.6 1.3 2.8 3.1 1.3-0.1 1.4 1.3-7.3-6.1-2.7 0-1.3-0.9-2.9-4.4-1.3-0.7-1.4-1.9-2.7-1.4-1.2 0.6-1.3-0.8-2.3 3.5-2.4 1.9-2.5-0.2-1.4-2.1-1.2 1.8-1.2-0.5-6.5-5.6z" fill="url(#p2g154)" stroke="url(#p2g154)"/><path d="M101 990.4l1.4 1.3 1.3-0.2 2.4-3.7 3.9-3 2.7 1.6 1.4-0.2 1.4 1.2 2.7 0.7 2.9 2.7 1.4-0.4 2.7 0.4 1.5 0.7 2.9 3.4 1.4 0.3 4.4 4.2-7.3-8.4-1.4-0.4-1.4 0.3-2.7 2.2-2.9-0.4-1.4-1-1.5-3.6-2.9-2.2-1.4 0.1-1.4-0.8-2.6 1.8-4 1.2-4.2-4.1-1.4 0.3-1.4-1.4-2.4 2.6-1.3 0.3z" fill="url(#p2g155)" stroke="url(#p2g155)"/><path d="M134 998.2l1.4 1.2 1.4-0.4 6 5.8 2.9 0.9 4.3-2.6 2.8-3.9 1.4 0.2 1.5-0.9 1.5 0.4 1.4-0.8 1.6 1.4 1.5-0.2 1.5 1.2 1.5-1.2 1.5 0.4 3.1-0.7 1.5 1.5-6.8 2.3-1.6-2.1-1.6-0.8-1.5 0.5-1.6-2.1-1.5-1.2-1.5 1.7-6.1-2.3-1.4-0.1-4.6-2.9-2.9-0.5-1.4 1.8-2.9 0.5-1.3 2.9-1.5-2.3-1.4-0.1-1.6-3.4-1.5-1.4-1.4-0.4z" fill="url(#p2g156)" stroke="url(#p2g156)"/><path d="M169.3 999l3.1 3.2 1.6 1 1.6 2.3 3.1-0.1 1.6 2.2 1.6 0.4 1.6 1.6 1.6 0.7 1.6-0.9 1.6-0.2 3.1-1.9 3.2-0.1 1.6-1.9 3.3 1.8 10.1 11.9-7.1-11.2-1.7-0.1-1.6 1.6-3.2 1.3-1.7-0.9-1.6 1-3.3-2.8-5.2-10.4-1.6-1.6-1.6-0.6-1.7-2.3-1.6-0.4-1.6 1.1-1.6-1-3 3.1-4.5 5.8-3 1.2-1.6-2.1z" fill="url(#p2g157)" stroke="url(#p2g157)"/><path d="M207.9 1017l5.1 6 1.8 3.2 1.6-2 3.3-1.6 5.2 3 3.4-0.9 1.7-2.7 1.8-0.5 3.4 0.3 1.8 0.2 1.8 2.7 5.3 3.6 3.6 1.8 1.8 0 1.8 1-6.7-0.6-5.5-3.7-1.8-3-5.4-3.8-1.7 1.4-1.8 0.2-1.7 1.4-5.2 1-7-7.5-1.7-1.6-1.7-0.4-1.8-2.8-1.7 0.1-1.7-0.9-3.4-3.1-1.7-0.1z" fill="url(#p2g158)" stroke="url(#p2g158)"/><path d="M249.5 1030.1l3.7 1.6 1.8 1.7 1.8-0.8 1.8 1.3 3.7-2.3 3.7-0.1 1.9-0.7 3.7 1.4 1.9 0 3.8 2 5.7 8.8 1.9 2.1 2-2.6 3.9 1 2-3.5 1.9-0.8 2-4.7-6.6 0.9-2 2.2-2 0.9-1.9 2.6-2 0.8-1.9-9.9-3.8-31.9-1.9-7.4-2 2.1-1.9-4.8-5.8 37.6-1.8 5.9-3.8 1.7-3.7 3.4-1.8 0.1-3.7-3.4-3.7-2.4-1.8-2.4-1.8-1.1z" fill="url(#p2g159)" stroke="url(#p2g159)"/><path d="M294.7 1039.2l2-4.7 2.1-8.9 2-0.5 1.9 10.4 1.9 7.6 2 3.5 4 2.4 4 4 2 1.4 2.1-0.5 2 1.3 2.1-0.5 2.1-2.8 2.1 1 2.1-0.1 4.2 1.8 4.2 0.8 6.3 4.8 2.2 1-6.2-8.4-4.3-1.3-2.1-2.9-2.2 2-2.1-1.1-4.3 0.2-2.1-0.9-2.1 0.7-2.1-1.5-2.1 0.1-2.1 1.2-6.2-0.5-4-2.7-2-2-2-3.9-6-5-2 0.9-2-0.7-2 2.2z" fill="url(#p2g160)" stroke="url(#p2g160)"/><path d="M343.8 1060.2l4.3 2.4 2.1 0.6 2.2 2 2.2-0.9 2.3-1.8 2.2-0.8 2.2 1.1 2.3-2.3 8.9 2.8 2.3-0.7 6.7 5.3 4.4 5.3 2.3 1.5 2.3 0.8 2.4-1.1 2.4 0.4 2.4-1.2 2.4 0.5-5.7-9.9-2.4-0.7-2.2-3.8-2.5 1.1-2.2-2.5-2.4-0.2-2.3-1.7-2.3 0.1-4.9 4.3-4.8 5.7-4.4-3.7-6.4-13.8-4.4-3.5-6.9 7.7-4.4 0.6-4.3-2z" fill="url(#p2g161)" stroke="url(#p2g161)"/><path d="M397.7 1073.6l2.4 0.5 2.3 1.2 2.3 2.1 2.4 0.8 2.4-0.6 2.3 3.3 2.4 0.8 2.4-0.3 2.6-1.7 2.5-0.3 2.5-1.1 5.3-4 5.1-0.8 2.5 0 7.3 7.5 2.5 0.9 3.1-7.7 3-5.8 2 10 2.3 5.1 2.7-0.9-5.9 1.6-2.5-1.6-2.5-3.6-2.5-2.2-7.8-0.1-2.4-3.8-2.6 0.9-2.4-4.2-5.1 0.5-2.5-0.5-5.4 7-5-0.2-4.7-5.4-2.4-0.6-4.7-5-4.8-0.5-4.8-1.4z" fill="url(#p2g162)" stroke="url(#p2g162)"/><path d="M457.3 1083.5l2.7-0.9 2.6 0.6 5.3 0.2 8.2-0.2 5.1 4.2 2.7 1.3 5.2 4.7 2.5 3.8 2.7 0.6 2.6 3.5 2.7 1 5.6 1 2.8 1.5 11.2 3.3 2.7 2.6 3-0.7-4.8-4.7-2.5-5-8.5-3.3-2.6-4.2-3 1.4-2.9 0.1-2.9-0.7-8.8 3.4-2.8 0.4-5.3-3.8-2.6-3.6-2.6-2.3-2.8 0.5-2.4-4.4-2.7-0.2-2.8 1.3-2.7-0.2-2.8 1.5-2.6-2.4-2.7 0.4-2.5-1.6z" fill="url(#p2g163)" stroke="url(#p2g163)"/><path d="M521.9 1110.7l3-0.7 2.8 2.4 2.8 1.5-4.7-4.5-2.8-2.8-2.9-1.3-2.5-5z" fill="url(#p2g164)" stroke="url(#p2g164)"/><path d="M62.8 974.9l6.5 5.6 1.2 0.5 1.2-1.8 1.4 2.1 2.5 0.2 2.4-1.9 2.3-3.5 1.3 0.8 1.2-0.6 2.7 1.4 1.4 1.9 1.3 0.7 2.9 4.4 1.3 0.9 2.7 0-7.2-0.7-1.3 0.4-1.2 1.7-1.3-0.5-1.2 1.5-1.4-1.5-1.2 2.1-1.4-3.1-1.4-1.6-4.1-4.2-1.3-0.2-3.6 1.5-1.2 1.1-1.4-1.2-1.2 0.5-2.2 3.7-1.3-0.5-1 2-1.3-0.3-2.6-2z" fill="url(#p2g165)" stroke="url(#p2g165)"/><path d="M93.8 985.9l1.3-0.3 2.4-2.6 1.4 1.4 1.4-0.3 4.2 4.1 4-1.2 2.6-1.8 1.4 0.8 1.4-0.1 2.9 2.2 1.5 3.6 1.4 1 2.9 0.4 2.7-2.2 1.4-0.3 1.4 0.4-6.9 4.1-1.4 0.9-2.8-0.2-1.5-1.8-2.8-1.2-1.5-1.2-2.6 3.2-5.7-4.8-2.9-3.9-1.4 0.4-2.7-1.1-1.4-1.4-4.1-1.2-1.3 0.2-1.2 1.9-1.3 0.4z" fill="url(#p2g166)" stroke="url(#p2g166)"/><path d="M126.7 990.6l1.4 0.4 1.5 1.4 1.6 3.4 1.4 0.1 1.5 2.3 1.3-2.9 2.9-0.5 1.4-1.8 2.9 0.5 4.6 2.9 1.4 0.1 6.1 2.3 1.5-1.7 1.5 1.2 1.6 2.1 1.5-0.5 1.6 0.8 1.6 2.1-7 1.5-1.6 0-3.2-4.1-1.5 0.7-1.6-3-1.5 0.1-1.5 1-4.4 0.1-1.5-0.8-1.5 0.2-1.4 1.6-1.5-0.3-1.4 1.5-1.5-1.4-1.5 0-1.5-1.1-3-4-3-1.9-1.4-0.1-1.3 2.3-1.4 0.9z" fill="url(#p2g167)" stroke="url(#p2g167)"/><path d="M162.4 1000.7l1.6 2.1 3-1.2 4.5-5.8 3-3.1 1.6 1 1.6-1.1 1.6 0.4 1.7 2.3 1.6 0.6 1.6 1.6 5.2 10.4 3.3 2.8 1.6-1 1.7 0.9 3.2-1.3 1.6-1.6 1.7 0.1-6.8 9.9-1.7-3.4-1.6 0.6-1.7-1.8-1.7 1.2-1.6-1.5-3.3 0.3-1.6 1.5-1.7-2.3-1.5 1.6-1.6 0.6-1.7-1.9-3.2-1.2-4.9-5.5-1.6 0.3-1.5 1.3-1.6-0.7-1.5 1.3-4.7-3.8-1.6 0z" fill="url(#p2g168)" stroke="url(#p2g168)"/><path d="M200.8 1007.7l1.7 0.1 3.4 3.1 1.7 0.9 1.7-0.1 1.8 2.8 1.7 0.4 1.7 1.6 7 7.5 5.2-1 1.7-1.4 1.8-0.2 1.7-1.4 5.4 3.8 1.8 3 5.5 3.7-6.9-1.4-1.8 2.1-1.8-2.6-3.7-1.9-3.6-4.7-3.6-2.2-1.7 0-3.6-1.1-1.7-2.7-3.5 0.7-3.4 3.6-1.6 3.8-1.7 1.7-3.3 1.8-3.5-4.7-1.8-3.5-1.7-1.7-1.7-3.4z" fill="url(#p2g169)" stroke="url(#p2g169)"/><path d="M242.8 1029.4l1.8 1.1 1.8 2.4 3.7 2.4 3.7 3.4 1.8-0.1 3.7-3.4 3.8-1.7 1.8-5.9 5.8-37.6 1.9 4.8 2-2.1 1.9 7.4 3.8 31.9 1.9 9.9 2-0.8 1.9-2.6 2-0.9 2-2.2-6.8 7.1-3.9-2.4-2-2.9-2 1.9-1.9 1-2-3.5-3.8-23.7-2 13.9-1.9 8.1-7.6-2.1-1.9-1.5-3.7 0.8-3.7 2.5-3.7-2.4-3.7-1-1.8-2.1-1.8 2.1z" fill="url(#p2g170)" stroke="url(#p2g170)"/><path d="M288.1 1037.6l2-2.2 2 0.7 2-0.9 6 5 2 3.9 2 2 4 2.7 6.2 0.5 2.1-1.2 2.1-0.1 2.1 1.5 2.1-0.7 2.1 0.9 4.3-0.2 2.1 1.1 2.2-2 2.1 2.9 4.3 1.3-6.7 7.2-8.4-13.7-2.2 0.6-2.1-0.5-2.2 0.6-2-2.5-6.2-15-2-3.7-6.1-15.9-2-2.8-6.4 15.2-6.1 12-2.1 4.9-2 3.3-2-1z" fill="url(#p2g171)" stroke="url(#p2g171)"/><path d="M337.6 1051.8l4.3 2 4.4-0.6 6.9-7.7 4.4 3.5 6.4 13.8 4.4 3.7 4.8-5.7 4.9-4.3 2.3-0.1 2.3 1.7 2.4 0.2 2.2 2.5 2.5-1.1 2.2 3.8 2.4 0.7-6.6 8.2-2.6 3.5-2.4 0.3-2.4 1.7-4.6-5.1-2.3-0.5-4.5-4.4-2.4 1.8-4.6-0.9-2.2-2.2-4.7 2.3-2.3 0.4-2.2-1.8-2.2 0.8-2.2-3.8-2.2 0-2.2-1.4-2.2-0.5-2.2 1.3-4.3-3.9-2.1-3.8z" fill="url(#p2g172)" stroke="url(#p2g172)"/><path d="M392 1063.5l4.8 1.4 4.8 0.5 4.7 5 2.4 0.6 4.7 5.4 5 0.2 5.4-7 2.5 0.5 5.1-0.5 2.4 4.2 2.6-0.9 2.4 3.8 7.8 0.1 2.5 2.2 2.5 3.6 2.5 1.6-5.6-3.8-2.7 0.3-2.6-0.5-5.4 0.8-2.5-2.2-2.7 0.9-2.5-0.8-2.5-2.2-2.7 2.3-2.6 0-2.6 0.7-5-1.7-4.8-4.6-4.9-1.7-2.5-0.1-7.5 1.6-2.4-0.5-2.5 1.8-2.3-2.1-2.6 3.5z" fill="url(#p2g173)" stroke="url(#p2g173)"/><path d="M451.6 1082.6l2.5 1.6 2.7-0.4 2.6 2.4 2.8-1.5 2.7 0.2 2.8-1.3 2.7 0.2 2.4 4.4 2.8-0.5 2.6 2.3 2.6 3.6 5.3 3.8 2.8-0.4 8.8-3.4 2.9 0.7 2.9-0.1 3-1.4 2.6 4.2 8.5 3.3 2.5 5-5.9 7.6-5.7-3.2-5.9-0.5-5.7-1.5-5.6-2.5-5.6-1.5-2.7-2.6-7.6-11.5-2.7-1.4-2.9 0.6-5.5-0.1-2.6-2.5-2.6-1.3-5.2-4.9-2.6-1-2.8 1.4-2.7 0.3z" fill="url(#p2g174)" stroke="url(#p2g174)"/><path d="M517.6 1100.3l2.5 5 2.9 1.3 2.8 2.8-5.9 6.7-2.9-1.1-5.7-3.8z" fill="url(#p2g175)" stroke="url(#p2g175)"/><path d="M56.3 984.3l2.6 2 1.3 0.3 1-2 1.3 0.5 2.2-3.7 1.2-0.5 1.4 1.2 1.2-1.1 3.6-1.5 1.3 0.2 4.1 4.2 1.4 1.6 1.4 3.1 1.2-2.1 1.4 1.5 1.2-1.5 1.3 0.5 1.2-1.7 1.3-0.4-7 2.7-1.4-1.7-1.3 1.3-1.2 0.3-2.4 3.4-2.6 0.3-1.3-0.5-1.4-2-1.3-1-1.5-3.4-1.2 1-2.5-0.3-1.1 2.1-3.8-0.6-1.3-1-1.5-3.3-4-4.4-2.4-0.3z" fill="url(#p2g176)" stroke="url(#p2g176)"/><path d="M86.6 985.3l1.3-0.4 1.2-1.9 1.3-0.2 4.1 1.2 1.4 1.4 2.7 1.1 1.4-0.4 2.9 3.9 5.7 4.8 2.6-3.2 1.5 1.2 2.8 1.2 1.5 1.8 2.8 0.2 1.4-0.9-7.1 2.3-2.6 4.7-1.3 1-2.8-0.3-1.4-0.6-4.4-4.9-2.8-0.7-1.3 0.5-1.4-0.7-1.4 0.5-1.4-1.4-2.6 1.7-1.4-2-1.3 1-2.8-2.6-5.7-7.7z" fill="url(#p2g177)" stroke="url(#p2g177)"/><path d="M119.8 996l1.4-0.9 1.3-2.3 1.4 0.1 3 1.9 3 4 1.5 1.1 1.5 0 1.5 1.4 1.4-1.5 1.5 0.3 1.4-1.6 1.5-0.2 1.5 0.8 4.4-0.1 1.5-1 1.5-0.1 1.6 3 1.5-0.7 3.2 4.1 1.6 0-7.3-1.7-1.5 0.9-1.4 2.5-4.4 3-4.7-4.7-1.5 0.3-1.6-1.7-1.4-0.1-1.6-1-1.4 1-3.1-4.6-1.5-0.5-1.6-3.5-3-2.3-1.5-0.4-1.3 1.7-1.4 0.8-1.3 3.3-1.4 0.1-1.3 2.9z" fill="url(#p2g178)" stroke="url(#p2g178)"/><path d="M155.4 1004.3l1.6 0 4.7 3.8 1.5-1.3 1.6 0.7 1.5-1.3 1.6-0.3 4.9 5.5 3.2 1.2 1.7 1.9 1.6-0.6 1.5-1.6 1.7 2.3 1.6-1.5 3.3-0.3 1.6 1.5 1.7-1.2 1.7 1.8 1.6-0.6 1.7 3.4-7.1-0.6-3.3 0.2-3.4-2.1-1.6 1.3-5-5.6-1.6 1.3-1.6-0.5-1.6 0.9-3.2 0-4.8-2.2-1.7-3.7-1.7-1.6-3.3-6.1-1.5 1-1.6-0.2-1.5 0.9-1.5 1.9-1.5 0.9z" fill="url(#p2g179)" stroke="url(#p2g179)"/><path d="M194 1014.3l1.7 3.4 1.7 1.7 1.8 3.5 3.5 4.7 3.3-1.8 1.7-1.7 1.6-3.8 3.4-3.6 3.5-0.7 1.7 2.7 3.6 1.1 1.7 0 3.6 2.2 3.6 4.7 3.7 1.9 1.8 2.6 1.8-2.1-7 0.8-3.6 1.6-3.6 3-1.8 0.4-1.8-1.2-1.7-0.4-1.8-1.5-1.8-0.6-3.6-4-1.7-0.8-1.8 0.2-1.7-2-3.5 0-1.7-1.6-1.7-0.4-1.8-4-3.5-3.3-1.7-0.9-1.6 2.4-3.3 0.7z" fill="url(#p2g180)" stroke="url(#p2g180)"/><path d="M235.9 1031.2l1.8-2.1 1.8 2.1 3.7 1 3.7 2.4 3.7-2.5 3.7-0.8 1.9 1.5 7.6 2.1 1.9-8.1 2-13.9 3.8 23.7 2 3.5 1.9-1 2-1.9 2 2.9 3.9 2.4-6.9-0.4-1.9 0.1-2-1-2 0.2-2-1.2-1.9 0.9-3.9-1.6-2 0.4-1.9-1.5-1.9 0.8-1.9-0.8-1.9 0-5.7-2.2-1.9-2.2-1.9 0.4-1.8 1.2-9.3-5.6-1.8-0.1-1.8 0.6z" fill="url(#p2g181)" stroke="url(#p2g181)"/><path d="M281.3 1041.5l2 1 2-3.3 2.1-4.9 6.1-12 6.4-15.2 2 2.8 6.1 15.9 2 3.7 6.2 15 2 2.5 2.2-0.6 2.1 0.5 2.2-0.6 8.4 13.7-6.8 6.3-2.2 0.9-2.1-2.1-2.2 1.6-2.2 0.7-4.2-4.3-6.3-9.5-2.1 1.1-4.2-0.6-4.2 3.6-4.1 1.6-2 0.1-2.1-0.9-4-5.6-2-1.5-2-4.5-2-3.1-2-1.7-1.9 0.1z" fill="url(#p2g182)" stroke="url(#p2g182)"/><path d="M331 1056.2l2.1 3.8 4.3 3.9 2.2-1.3 2.2 0.5 2.2 1.4 2.2 0 2.2 3.8 2.2-0.8 2.2 1.8 2.3-0.4 4.7-2.3 2.2 2.2 4.6 0.9 2.4-1.8 4.5 4.4 2.3 0.5 4.6 5.1 2.4-1.7 2.4-0.3 2.6-3.5-6.5 3.6-2.4-2.5-2.4-0.5-2.3-2.1-4.7-2.2-4.6-4.2-2.3-0.9-2.3-1.9-2.3 0.8-2.3-2.6-2.4 3.3-2.3 1.3-2.3-1.7-2.3 3.2-2.3-0.1-4.6 3.1-2.2 0.4-2.2-1.2-2.2 0-2.2-1.2-2.2-2-4.4 2.2z" fill="url(#p2g183)" stroke="url(#p2g183)"/><path d="M385.2 1075.9l2.6-3.5 2.3 2.1 2.5-1.8 2.4 0.5 7.5-1.6 2.5 0.1 4.9 1.7 4.8 4.6 5 1.7 2.6-0.7 2.6 0 2.7-2.3 2.5 2.2 2.5 0.8 2.7-0.9 2.5 2.2 5.4-0.8 2.6 0.5 2.7-0.3-6.8 13.5-5.4 0.4-5.2-1.1-2.5-3.1-5.1-2.6-2.7 0.8-2.4-2.1-2.6-0.5-2.5-1.3-7.2-8.6-4.9-4.7-2.5-0.8-2.5 0.1-2.6 2.5-2.5 1.5-2.4-0.3-2.6 1.3-2.4-0.6-2.4 1.2-2.4-2.5z" fill="url(#p2g184)" stroke="url(#p2g184)"/><path d="M445.8 1080.7l2.7-0.3 2.8-1.4 2.6 1 5.2 4.9 2.6 1.3 2.6 2.5 5.5 0.1 2.9-0.6 2.7 1.4 7.6 11.5 2.7 2.6 5.6 1.5 5.6 2.5 5.7 1.5 5.9 0.5 5.7 3.2-5.5 0-3-0.5-3 0.2-2.8-1.6-3-0.3-5.7-1.5-2.8-1.5-5.7-1.1-2.6-4.1-2.9 0.1-2.7-2.5-2.8-0.8-2.7-1.7-5.5-0.7-2.7-1.8-2.8-0.3-2.6-2.7-2.8 1.5-2.6-2.3-2.7-0.3-2.8 0.6-2.8 2.3-2.7 0.3z" fill="url(#p2g185)" stroke="url(#p2g185)"/><path d="M511.3 1111.2l5.7 3.8 2.9 1.1-5-4.5-6.2 1.3-3-0.5z" fill="url(#p2g186)" stroke="url(#p2g186)"/><path d="M48.7 977.5l2.4 0.3 4 4.4 1.5 3.3 1.3 1 3.8 0.6 1.1-2.1 2.5 0.3 1.2-1 1.5 3.4 1.3 1 1.4 2 1.3 0.5 2.6-0.3 2.4-3.4 1.2-0.3 1.3-1.3 1.4 1.7-7.3 1.4-1.3-1.2-1.4-0.3-2.8-3.5-1.2 0.8-2.6-0.7-1.3 0.4-1.3-0.5-2.7-1.9-4.1-5.3-1.2 0.5-1.3-1.1-1.3-0.1-2.6-1.5-2.7-3-2.4 0.4-1 2.3-1.2 0.5z" fill="url(#p2g187)" stroke="url(#p2g187)"/><path d="M79.5 985.9l5.7 7.7 2.8 2.6 1.3-1 1.4 2 2.6-1.7 1.4 1.4 1.4-0.5 1.4 0.7 1.3-0.5 2.8 0.7 4.4 4.9 1.4 0.6 2.8 0.3 1.3-1 2.6-4.7-7.7-7.4-1.4-0.1-4.1 2.4-1.4 0-1.3 1.9-1.4 0.3-1.2 2.5-1.3 1-1.4-1-1.4 0.6-1.4-1.3-4.2-2-2.7-0.8-1.5-2.1-1.3 0.5-1.4-1.5-1.4-0.5-1.2 0.5-1.3 1.2-1.5-2.6-1.3-1.2z" fill="url(#p2g188)" stroke="url(#p2g188)"/><path d="M112.8 1000.3l1.3-2.9 1.4-0.1 1.3-3.3 1.4-0.8 1.3-1.7 1.5 0.4 3 2.3 1.6 3.5 1.5 0.5 3.1 4.6 1.4-1 1.6 1 1.4 0.1 1.6 1.7 1.5-0.3 4.7 4.7 4.4-3 1.4-2.5 1.5-0.9-7.1 3.8-1.6-0.2-1.4 1.6-3.2-2.3-3-0.9-1.6-2-1.5 1.1-1.5-1.2-1.4 1-1.6-0.9-4.6-5.5-1.5-1-1.4 1.8-1.5-0.2-1.5-1.2-2.9-1.3-3.1-4-1.5-0.9-2.8-0.4z" fill="url(#p2g189)" stroke="url(#p2g189)"/><path d="M148.2 1003.5l1.5-0.9 1.5-1.9 1.5-0.9 1.6 0.2 1.5-1 3.3 6.1 1.7 1.6 1.7 3.7 4.8 2.2 3.2 0 1.6-0.9 1.6 0.5 1.6-1.3 5 5.6 1.6-1.3 3.4 2.1 3.3-0.2-7.3-2.9-1.7 0.3-1.6 1.2-1.7 0.2-3.3-0.1-1.6-0.6-6.9-10.6-1.6-0.9-1.7-2.1-1.6 0.3-1.5 1.3-1.6 0.2-3 3.6-3.2-1.7-1.6-0.2-1.6-2-1.6 0.5-2.9 2.8-1.6-0.2z" fill="url(#p2g190)" stroke="url(#p2g190)"/><path d="M187 1017.5l3.3-0.7 1.6-2.4 1.7 0.9 3.5 3.3 1.8 4 1.7 0.4 1.7 1.6 3.5 0 1.7 2 1.8-0.2 1.7 0.8 3.6 4 1.8 0.6 1.8 1.5 1.7 0.4 1.8 1.2 1.8-0.4 3.6-3 3.6-1.6-7.3-6.9-3.6 1.4-5.5-2.7-1.7 0.2-5.3 2-1.8-2-1.8-0.9-5.4-6.3-1.7-1.3-1.8-0.6-1.7 0.8-1.6 2.5-5.1 1.2-1.7-1.9-1.7 0.5-1.7-1.7-1.7 0.3z" fill="url(#p2g191)" stroke="url(#p2g191)"/><path d="M228.9 1030.5l1.8-0.6 1.8 0.1 9.3 5.6 1.8-1.2 1.9-0.4 1.9 2.2 5.7 2.2 1.9 0 1.9 0.8 1.9-0.8 1.9 1.5 2-0.4 3.9 1.6 1.9-0.9 2 1.2 2-0.2 2 1 1.9-0.1-7 0.5-2-0.7-12.1-71.4-1.9 5.8-5.7 33.3-3.7 24.7-1.8 2.5-7.7-10.1-3.7-1.8-1.8 0.2-1.9 1.2-1.9-3.1-1.8-0.2-1.8 0.5z" fill="url(#p2g192)" stroke="url(#p2g192)"/><path d="M274.5 1042.2l1.9-0.1 2 1.7 2 3.1 2 4.5 2 1.5 4 5.6 2.1 0.9 2-0.1 4.1-1.6 4.2-3.6 4.2 0.6 2.1-1.1 6.3 9.5 4.2 4.3 2.2-0.7 2.2-1.6 2.1 2.1 2.2-0.9-6.7-7.5-2.2 0.7-4.3-2.5-2.2-0.2-2.1 0.2-4.4 2.2-4.2-0.1-2.1-1.6-2.1-0.7-4.2-3.5-2-2.5-2.1 0.7-2-3.8-2.1-1.4-2-0.3-2.1-1.5-2 0.1-2-0.8-2.1 1.1-2-0.4-2-1.9-2-0.7z" fill="url(#p2g193)" stroke="url(#p2g193)"/><path d="M324.1 1067.2l4.4-2.2 2.2 2 2.2 1.2 2.2 0 2.2 1.2 2.2-0.4 4.6-3.1 2.3 0.1 2.3-3.2 2.3 1.7 2.3-1.3 2.4-3.3 2.3 2.6 2.3-0.8 2.3 1.9 2.3 0.9 4.6 4.2 4.7 2.2 2.3 2.1 2.4 0.5 2.4 2.5-6.3-7.4-2.4-1.8-4.8 0.6-2.5 1.5-2.3-1.5-2.4 1.4-7-4.9-4.6-1.9-2.4 2.6-2.3 1.4-2.3-0.3-2.4 1.1-4.5-1.7-2.3 1.5-2.2-2.4-2.2-0.8-2.2-2.2-2.2-0.2-4.4-2.2-2.2 0.7z" fill="url(#p2g194)" stroke="url(#p2g194)"/><path d="M378.9 1073.5l2.4 2.5 2.4-1.2 2.4 0.6 2.6-1.3 2.4 0.3 2.5-1.5 2.6-2.5 2.5-0.1 2.5 0.8 4.9 4.7 7.2 8.6 2.5 1.3 2.6 0.5 2.4 2.1 2.7-0.8 5.1 2.6 2.5 3.1 5.2 1.1 5.4-0.4-5.7-6.7-2.8 0-2.7 0.8-2.6-1.3-2.7 0.3-2.7 1.7-2.9 3.2-2.7 1.3-5.2 0.3-4.7-9.9-2.2-8.4-2.3-4.3-5.7 11.7-2.5-0.2-2.5 0.7-2.4-3.3-4.8-4.7-2.3-4.4-2.4-2.6-2.5 1-2.4-0.5-2.4-1.8z" fill="url(#p2g195)" stroke="url(#p2g195)"/><path d="M439 1094.2l2.7-0.3 2.8-2.3 2.8-0.6 2.7 0.3 2.6 2.3 2.8-1.5 2.6 2.7 2.8 0.3 2.7 1.8 5.5 0.7 2.7 1.7 2.8 0.8 2.7 2.5 2.9-0.1 2.6 4.1 5.7 1.1 2.8 1.5 5.7 1.5 3 0.3 2.8 1.6 3-0.2 3 0.5-6 4.4-11-12.4-3.2 2.6-2.7-2.7-14.3-4.5-2.9 1.1-2.8-1.1-2.9 0.8-2.7-2.8-5.5-1.8-2.5-4.1-5.5-0.9-2.7-2.2-5.4-1-2.6-1.1-2.8 0z" fill="url(#p2g196)" stroke="url(#p2g196)"/><path d="M505.7 1112.4l3 0.5 6.2-1.3-6.7 13.5-2.8-2.8-2.7-5-2.7-3.1z" fill="url(#p2g197)" stroke="url(#p2g197)"/><path d="M41.2 974.8l1.2-0.5 1-2.3 2.4-0.4 2.7 3 2.6 1.5 1.3 0.1 1.3 1.1 1.2-0.5 4.1 5.3 2.7 1.9 1.3 0.5 1.3-0.4 2.6 0.7 1.2-0.8 2.8 3.5 1.4 0.3 1.3 1.2-7.6-3.2-1.3 0.3-2.7-1.8-5.2-1.2-1.4-1.5-2.5 0.7-1.3-1-2.5 0.4-1.3-0.5-6.3-0.3-1.1 0.4-5-1.2-1.2 0.5z" fill="url(#p2g198)" stroke="url(#p2g198)"/><path d="M72.3 987.8l1.3 1.2 1.5 2.6 1.3-1.2 1.2-0.5 1.4 0.5 1.4 1.5 1.3-0.5 1.5 2.1 2.7 0.8 4.2 2 1.4 1.3 1.4-0.6 1.4 1 1.3-1 1.2-2.5 1.4-0.3 1.3-1.9 1.4 0 4.1-2.4 1.4 0.1-7.1 6.3-1.5-1.2-1.4 0.3-5.7-1.3-1.4-0.8-1.3 0.3-1.5-0.7-2.7-0.1-2.8-1.2-4.1-1-1.4-1.1-4.1-1-5.4-2.7-1.3 0.3z" fill="url(#p2g199)" stroke="url(#p2g199)"/><path d="M105 989.9l2.8 0.4 1.5 0.9 3.1 4 2.9 1.3 1.5 1.2 1.5 0.2 1.4-1.8 1.5 1 4.6 5.5 1.6 0.9 1.4-1 1.5 1.2 1.5-1.1 1.6 2 3 0.9 3.2 2.3 1.4-1.6 1.6 0.2-7.6-3.8-4.6-0.3-7.7-2.2-1.4 0.2-1.6-0.7-2.9-0.4-1.5 0.4-4.5-1.6-2.9 0.1-1.4-0.8-7.2-1-1.5-1.2z" fill="url(#p2g200)" stroke="url(#p2g200)"/><path d="M141 1006.2l1.6 0.2 2.9-2.8 1.6-0.5 1.6 2 1.6 0.2 3.2 1.7 3-3.6 1.6-0.2 1.5-1.3 1.6-0.3 1.7 2.1 1.6 0.9 6.9 10.6 1.6 0.6 3.3 0.1 1.7-0.2 1.6-1.2 1.7-0.3-7.3 4.6-5.1-3.2-1.7-1.7-3.3-1.3-1.7-1.6-1.6-0.6-1.7-1.3-3.2-0.4-9.7-3-7.9-1.7-3.1-1.4-1.6 0.2z" fill="url(#p2g201)" stroke="url(#p2g201)"/><path d="M179.6 1014.5l1.7-0.3 1.7 1.7 1.7-0.5 1.7 1.9 5.1-1.2 1.6-2.5 1.7-0.8 1.8 0.6 1.7 1.3 5.4 6.3 1.8 0.9 1.8 2 5.3-2 1.7-0.2 5.5 2.7 3.6-1.4-7.7-26.1-2.6 59.4-1.9-1.5-12.7-15.3-3.5-2.9-1.8-3-1.8-1.2-5.3-6.2-5.2-4-6.9-3.4-1.7-1.4z" fill="url(#p2g202)" stroke="url(#p2g202)"/><path d="M221.6 1023.5l1.8-0.5 1.8 0.2 1.9 3.1 1.9-1.2 1.8-0.2 3.7 1.8 7.7 10.1 1.8-2.5 3.7-24.7 5.7-33.3 1.9-5.8 12.1 71.4 2 0.7-7.1-6.9-6.1-17.1-8.1-25.7-4-10.2-2 1.2-1.9-0.8-4-7-2-1.8-3.9-6.1-2-4.1-5.8-7.4-1.9 1.1-1.8 4.1-1.7 12.2-2.8 53.2z" fill="url(#p2g203)" stroke="url(#p2g203)"/><path d="M267.4 1041.9l2 0.7 2 1.9 2 0.4 2.1-1.1 2 0.8 2-0.1 2.1 1.5 2 0.3 2.1 1.4 2 3.8 2.1-0.7 2 2.5 4.2 3.5 2.1 0.7 2.1 1.6 4.2 0.1 4.4-2.2 2.1-0.2 2.2 0.2 4.3 2.5 2.2-0.7-7.3 22.2-2.2 2.4-2.2 0.6-2.1-2.1-2.1-3.3-2.2-0.9-2.1-4.8-2.1-2.6-2.1-1.5-2.1 0-2.1-2.9-2.1-0.9-2.1-0.3-4.2 1.9-4.1-2.2-2.1 0.2-2-1.1-2 0.3-2.1-8.5-4-6.8-6.1-18.2z" fill="url(#p2g204)" stroke="url(#p2g204)"/><path d="M317.4 1059.5l2.2-0.7 4.4 2.2 2.2 0.2 2.2 2.2 2.2 0.8 2.2 2.4 2.3-1.5 4.5 1.7 2.4-1.1 2.3 0.3 2.3-1.4 2.4-2.6 4.6 1.9 7 4.9 2.4-1.4 2.3 1.5 2.5-1.5 4.8-0.6 2.4 1.8-7 10.7-2.5 1-2.5 2-2.4-0.4-2.4 1.2-2.6 4.5-2.4 1.4-2.3-1.2-4.7-0.8-2.3-2.1-4.5-6.4-2.3-0.5-2.2-3.8-2.3 0.4-2.3-0.4-2.2-1.5-2.3 1.4-2.2-1-2.3 0.9-2.2 0.2-9 9.2z" fill="url(#p2g205)" stroke="url(#p2g205)"/><path d="M372.6 1066.8l2.4 1.8 2.4 0.5 2.5-1 2.4 2.6 2.3 4.4 4.8 4.7 2.4 3.3 2.5-0.7 2.5 0.2 5.7-11.7 2.3 4.3 2.2 8.4 4.7 9.9 5.2-0.3 2.7-1.3 2.9-3.2 2.7-1.7 2.7-0.3 2.6 1.3 2.7-0.8 2.8 0-7.1 14.5-2.7-1-2.8 1.9-2.9 3.2-5.4 2.1-2.7 2.1-5.3 0.1-5.1-2.2-4.9-5-2.5-1-2.5-0.7-5.1 0.9-2.4-3.9-4.9-3.4-2.3-5-4.6-7.4-2.5-0.9-2.3-2.2-2.5 1z" fill="url(#p2g206)" stroke="url(#p2g206)"/><path d="M433.2 1087.2l2.8 0 2.6 1.1 5.4 1 2.7 2.2 5.5 0.9 2.5 4.1 5.5 1.8 2.7 2.8 2.9-0.8 2.8 1.1 2.9-1.1 14.3 4.5 2.7 2.7 3.2-2.6 11 12.4-6.7 12.5-3 0.3-2.8-2.8-3.3 3-2.8-2.8-5.8-1.8-2.7-2.8-8.6-2.1-5.8 0.2-3 2.2-2.7-1.5-2.7-3.4-2.9 1.2-5.3-3.7-2.8-0.6-2.5-3.9-2.7-1.2-2.5-4-2.7-1.6-2.5-2.8-2.7-1z" fill="url(#p2g207)" stroke="url(#p2g207)"/><path d="M500 1114.2l2.7 3.1 2.7 5-6.3 6.7-6.1 1.1z" fill="url(#p2g208)" stroke="url(#p2g208)"/><path d="M34.2 980.6l1.2-0.5 5 1.2 1.1-0.4 6.3 0.3 1.3 0.5 2.5-0.4 1.3 1 2.5-0.7 1.4 1.5 5.2 1.2 2.7 1.8 1.3-0.3-3.8 54.4-5.3-1.8-3.8-0.7-6.4-2.6-5-1-1.3-1.3-1.2 0.4-1.2-0.3-1.3-0.9-3.6-0.9-2.5-1.3z" fill="url(#p2g209)" stroke="url(#p2g209)"/><path d="M64.7 986.1l1.3-0.3 5.4 2.7 4.1 1 1.4 1.1 4.1 1 2.8 1.2 2.7 0.1 1.5 0.7 1.3-0.3 1.4 0.8 5.7 1.3 1.4-0.3 1.5 1.2-4.8 47.9-5.5 0.6-2.8-0.4-1.3 0.9-1.4-0.6-5.3 0.1-4.1-1-1.4-0.9-2.6 0-2.7-1.6-1.3 0-2.6-1.1-2.6-0.2z" fill="url(#p2g210)" stroke="url(#p2g210)"/><path d="M97.8 995.1l1.5 1.2 7.2 1 1.4 0.8 2.9-0.1 4.5 1.6 1.5-0.4 2.9 0.4 1.6 0.7 1.4-0.2 7.7 2.2 4.6 0.3-5.7 42.2-4.5-0.4-1.5 0.8-1.5-1-3-0.6-2.9 0.4-5.9-1-4.3 0.9-2.8-0.2-1.4 0.6-2.9-0.6-1.3 0.6-4.2 0.1z" fill="url(#p2g211)" stroke="url(#p2g211)"/><path d="M133.4 1002.8l1.6-0.2 3.1 1.4 7.9 1.7 9.7 3 3.2 0.4 1.7 1.3 1.6 0.6 1.7 1.6 3.3 1.3 1.7 1.7 5.1 3.2-6.9 18.7-6.7-3-3.2 1.4-1.5 2-4.8 1.9-7.7 4.9-1.2 9.7-0.9 14.1-1.4 2.5-1.5 0.6-4.6 0-2.7-26.8-3.1 0z" fill="url(#p2g212)" stroke="url(#p2g212)"/><path d="M172.3 1017.4l1.7 1.4 6.9 3.4 5.2 4 5.3 6.2 1.8 1.2 1.8 3 3.5 2.9 12.7 15.3 1.9 1.5 2.6-59.4-6.3 64.8-1.8 0-1.8-1-9-1.3-1.7-0.9-5.4-4.8-3.6-4.2-5.2-4.3-3.6-3.6-1.7-1-3.4-0.9-6.8-3.2z" fill="url(#p2g213)" stroke="url(#p2g213)"/><path d="M214.3 1027.3l2.8-53.2 1.7-12.2 1.8-4.1 1.9-1.1 5.8 7.4 2 4.1 3.9 6.1 2 1.8 4 7 1.9 0.8 2-1.2 4 10.2 8.1 25.7 6.1 17.1-7.2 29.8-2 0.5-5.9 3-11.5 13.2-11.4-8.6-1.9-2.2-5.6-5.1-1.9-0.7-1.8-2.4-1.9-1.2-3.6-0.3z" fill="url(#p2g214)" stroke="url(#p2g214)"/><path d="M260.2 1030.3l6.1 18.2 4 6.8 2.1 8.5 2-0.3 2 1.1 2.1-0.2 4.1 2.2 4.2-1.9 2.1 0.3 2.1 0.9 2.1 2.9 2.1 0 2.1 1.5 2.1 2.6 2.1 4.8 2.2 0.9 2.1 3.3 2.1 2.1 2.2-0.6 2.2-2.4-7-0.4-6.5-6.6-8.6-7-4.2-4.4-2.1-0.5-6.4 9.5-2.1 1.7-2.1-0.3-4.1-2.2-8.1-7-2 0.1-6 2.1z" fill="url(#p2g215)" stroke="url(#p2g215)"/><path d="M310.1 1083.4l9-9.2 2.2-0.2 2.3-0.9 2.2 1 2.3-1.4 2.2 1.5 2.3 0.4 2.3-0.4 2.2 3.8 2.3 0.5 4.5 6.4 2.3 2.1 4.7 0.8 2.3 1.2 2.4-1.4 2.6-4.5 2.4-1.2 2.4 0.4 2.5-2 2.5-1-7.5 20.5-7.2-1.2-12.1 6-2.3-3-8.9-17.5-2.2-0.7-2.4 0.5-2.2-0.9-6.8-0.4-2.2-0.8-6.7-0.7-2.2-0.5-2.2-2.1z" fill="url(#p2g216)" stroke="url(#p2g216)"/><path d="M365.5 1080.3l2.5-1 2.3 2.2 2.5 0.9 4.6 7.4 2.3 5 4.9 3.4 2.4 3.9 5.1-0.9 2.5 0.7 2.5 1 4.9 5 5.1 2.2 5.3-0.1 2.7-2.1 5.4-2.1 2.9-3.2 2.8-1.9 2.7 1-6.6 3.6-2.7-1.6-8-1.3-5.3-2.1-2.6 0.2-2.7 1.3-2.7 2.1-8 4.8-5.1-1.9-2.6 0.3-5-1.6-9.8-3.9-2.4-0.3-7.3-2.2z" fill="url(#p2g217)" stroke="url(#p2g217)"/><path d="M426.2 1100.7l2.7 1 2.5 2.8 2.7 1.6 2.5 4 2.7 1.2 2.5 3.9 2.8 0.6 5.3 3.7 2.9-1.2 2.7 3.4 2.7 1.5 3-2.2 5.8-0.2 8.6 2.1 2.7 2.8 5.8 1.8 2.8 2.8 3.3-3 2.8 2.8-6.5 7.4-1.7-17.9-11.8-3.6-2.8-1.6-5.9-1.1-2.9 0.4-2.9-0.8-8.6-1-2.9 0.3-5.6-1.3-2.8-0.1-3.9 18.5-1.7-17.7-2.5-5-5.5-1.6-2.7 0.3-2.7-1.6z" fill="url(#p2g218)" stroke="url(#p2g218)"/></g><path d="M83.3 993.0L80 1045.0" stroke="#fff" stroke-width="2.1"/><path d="M259.3 1063.2 262.8 1062.3 268.0 1060.1 270.2 1054.0 276.8 1058.0 278.5 1061.0 276.8 1064.5 274.6 1075.0 269.8 1068.9 266.3 1066.3 262.3 1068.5Z" fill="url(#blob)"/><path d="M279.0 1061.0 282.0 1054.9 285.0 1060.5Z" fill="url(#blob)"/>
<path d="M18.6 877.8L32 1048.3M32 1048.3L490.5 1216.4M490.5 1216.4L590.3 1131.4M31.1 1036.7L37.7 1036.3M29.3 1013.3L35.9 1012.9M27.4 989.5L34 989.1M25.5 965.4L32.1 965M23.5 940.8L30.1 940.4M21.6 915.9L28.2 915.5M19.6 890.6L26.2 890.2M52.8 1055.9L57.1 1054.5M74.6 1063.8L78.9 1062.4M97.5 1072.3L101.8 1070.8M121.7 1081.1L126 1079.6M147.2 1090.5L151.5 1088.8M174.1 1100.4L178.5 1098.6M202.7 1110.8L207 1109M233 1122L237.3 1120M265.2 1133.8L269.4 1131.7M299.4 1146.3L303.6 1144.1M336 1159.7L340.1 1157.3M375.1 1174.1L379.1 1171.5M416.9 1189.4L420.8 1186.7M461.9 1205.9L465.6 1202.9M508.2 1201.3L500.6 1198.6M535.4 1178.2L528 1175.8M559.8 1157.4L552.7 1155.2M582 1138.5L575.1 1136.5" stroke="#111" stroke-width="1.7" fill="none" stroke-linecap="round" stroke-linejoin="miter"/>
<g font-family="'Liberation Serif', serif" fill="#222" transform="translate(0 859)"><text x="6.2" y="36.8" font-size="12.8" text-anchor="middle">17</text><text x="8.7" y="62.2" font-size="12.8" text-anchor="middle">16</text><text x="10.5" y="87.3" font-size="12.8" text-anchor="middle">15</text><text x="12.4" y="112.2" font-size="12.8" text-anchor="middle">14</text><text x="14.2" y="135.9" font-size="12.8" text-anchor="middle">13</text><text x="16.4" y="159.7" font-size="12.8" text-anchor="middle">12</text><text x="18.3" y="182.7" font-size="12.8" text-anchor="middle">11</text><text x="60.7" y="210.7" font-size="12" text-anchor="middle">50</text><text x="104.4" y="227.8" font-size="12.2" text-anchor="middle">100</text><text x="155.9" y="247.8" font-size="13" text-anchor="middle">150</text><text x="213.4" y="271.3" font-size="14" text-anchor="middle">200</text><text x="280.4" y="295.2" font-size="15" text-anchor="middle">250</text><text x="355.6" y="324.4" font-size="16.4" text-anchor="middle">300</text><text x="441.7" y="357.5" font-size="16.6" text-anchor="middle">350</text><text x="536.2" y="352.4" font-size="17.2" text-anchor="middle">2005</text><text x="562.6" y="328.6" font-size="16.4" text-anchor="middle">2010</text><text x="585.5" y="306.9" font-size="15.5" text-anchor="middle">2015</text><text x="607" y="287.7" font-size="14.8" text-anchor="middle">2020</text><rect x="624.2" y="30.7" width="19" height="181.1" fill="url(#cb)"/><text x="666.6" y="35.5" font-size="14.5" text-anchor="middle">17.50</text><text x="666.6" y="61.4" font-size="14.5" text-anchor="middle">16.50</text><text x="666.6" y="87.2" font-size="14.5" text-anchor="middle">15.50</text><text x="666.6" y="113.1" font-size="14.5" text-anchor="middle">14.50</text><text x="666.6" y="139" font-size="14.5" text-anchor="middle">13.50</text><text x="666.6" y="164.8" font-size="14.5" text-anchor="middle">12.50</text><text x="666.6" y="190.7" font-size="14.5" text-anchor="middle">11.50</text><text x="666.6" y="216.6" font-size="14.5" text-anchor="middle">10.50</text></g><text font-family="'Liberation Serif', serif" fill="#222" font-size="19.3" transform="translate(139 1119.2) rotate(21.5)">Shuanggou Station</text>
</svg></body></html>
